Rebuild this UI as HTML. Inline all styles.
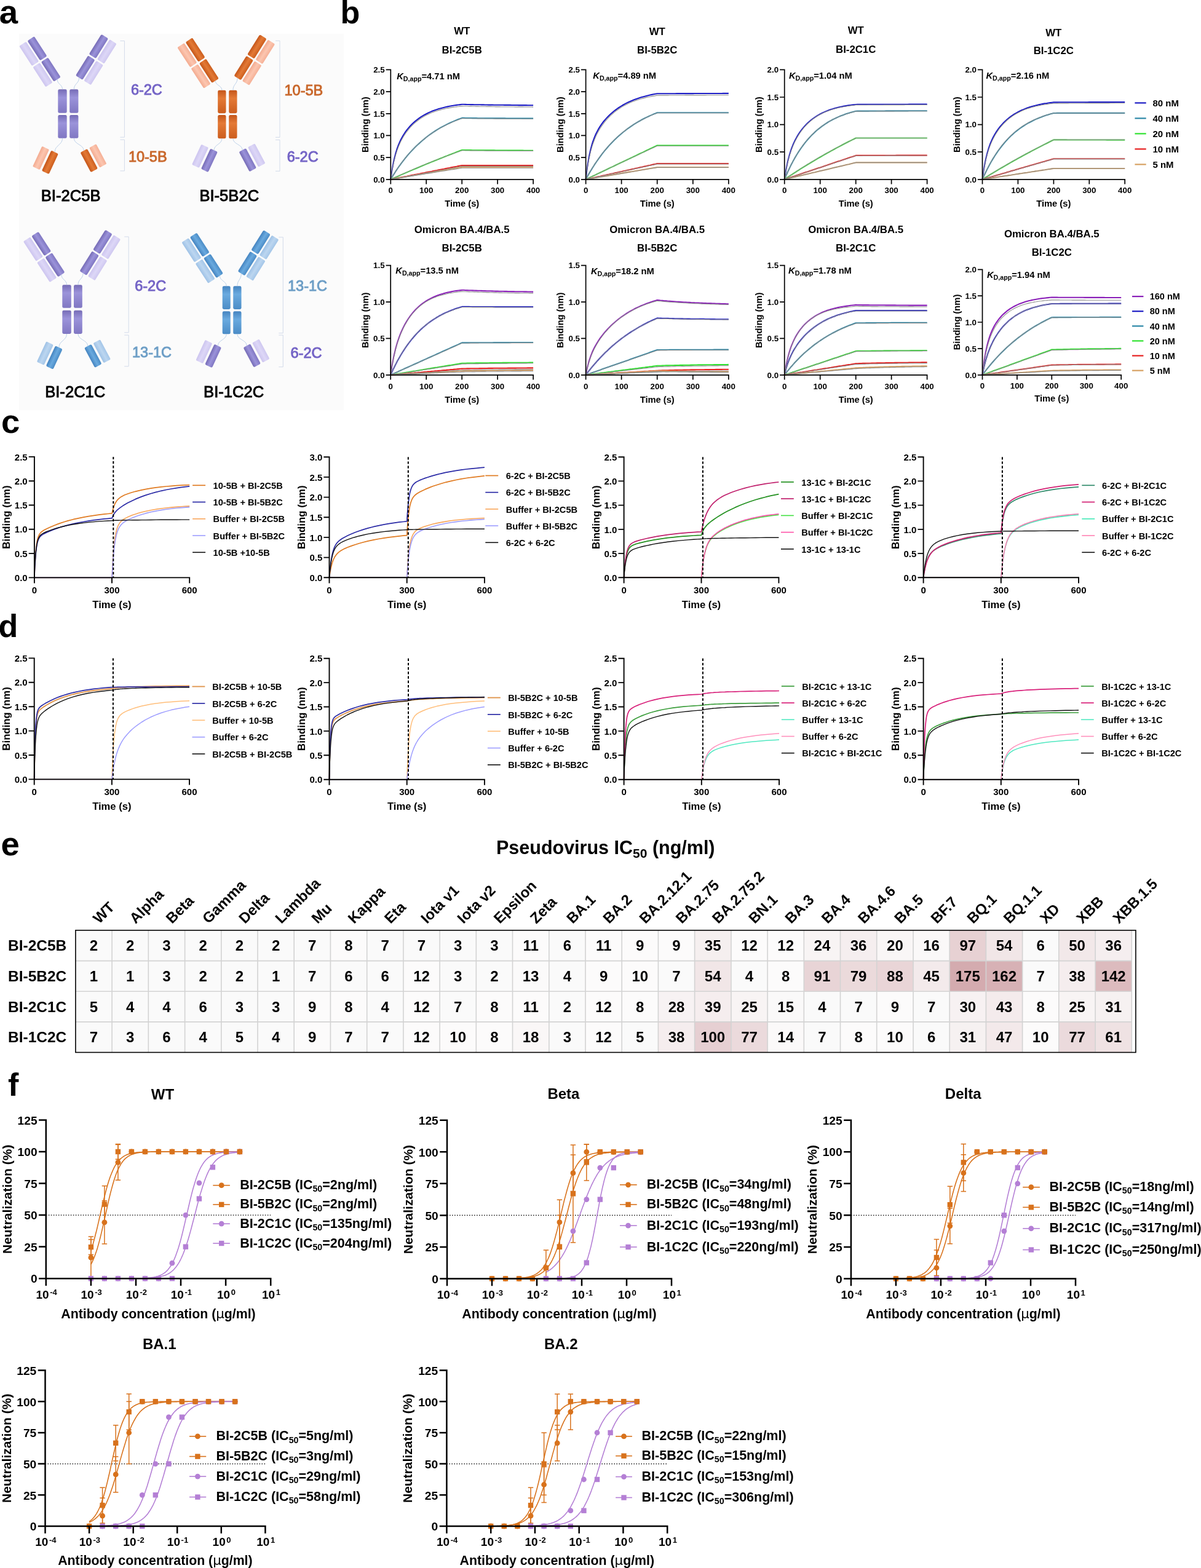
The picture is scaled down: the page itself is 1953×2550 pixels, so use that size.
<!DOCTYPE html>
<html><head><meta charset="utf-8"><title>Figure</title>
<style>html,body{margin:0;padding:0;background:#fff;width:1953px;height:2550px;overflow:hidden}svg{display:block}</style>
</head><body><svg width="1953" height="2550" viewBox="0 0 1953 2550" font-family="'Liberation Sans', Arial, Helvetica, sans-serif"><defs><linearGradient id="gPh" x1="0" y1="0" x2="1" y2="0"><stop offset="0" stop-color="#766cb6"/><stop offset="0.5" stop-color="#9b93da"/><stop offset="1" stop-color="#8077c2"/></linearGradient><linearGradient id="gPl" x1="0" y1="0" x2="1" y2="0"><stop offset="0" stop-color="#cdc5ef"/><stop offset="0.5" stop-color="#ddd7f7"/><stop offset="1" stop-color="#cfc8f0"/></linearGradient><linearGradient id="gPfc" x1="0" y1="0" x2="0" y2="1"><stop offset="0" stop-color="#766cb6"/><stop offset="0.35" stop-color="#9b93da"/><stop offset="1" stop-color="#8077c2"/></linearGradient><linearGradient id="gOh" x1="0" y1="0" x2="1" y2="0"><stop offset="0" stop-color="#c4561a"/><stop offset="0.5" stop-color="#e47a36"/><stop offset="1" stop-color="#cc5e1e"/></linearGradient><linearGradient id="gOl" x1="0" y1="0" x2="1" y2="0"><stop offset="0" stop-color="#f3ab90"/><stop offset="0.5" stop-color="#fcc6b0"/><stop offset="1" stop-color="#f5b096"/></linearGradient><linearGradient id="gOfc" x1="0" y1="0" x2="0" y2="1"><stop offset="0" stop-color="#c4561a"/><stop offset="0.35" stop-color="#e47a36"/><stop offset="1" stop-color="#cc5e1e"/></linearGradient><linearGradient id="gBh" x1="0" y1="0" x2="1" y2="0"><stop offset="0" stop-color="#4584c0"/><stop offset="0.5" stop-color="#6aaadf"/><stop offset="1" stop-color="#4b8cc6"/></linearGradient><linearGradient id="gBl" x1="0" y1="0" x2="1" y2="0"><stop offset="0" stop-color="#9fc2e6"/><stop offset="0.5" stop-color="#bcd6f0"/><stop offset="1" stop-color="#a4c6e8"/></linearGradient><linearGradient id="gBfc" x1="0" y1="0" x2="0" y2="1"><stop offset="0" stop-color="#4584c0"/><stop offset="0.35" stop-color="#6aaadf"/><stop offset="1" stop-color="#4b8cc6"/></linearGradient></defs><rect width="1953" height="2550" fill="#fff"/><rect x="31" y="55" width="528" height="611.8" fill="#fbfbfb"/><rect x="94.3" y="145.3" width="14.4" height="38.5" rx="2.4" fill="url(#gPfc)"/><rect x="94.3" y="187.1" width="14.4" height="37.7" rx="2.4" fill="url(#gPfc)"/><rect x="113.2" y="145.3" width="14.2" height="38.5" rx="2.4" fill="url(#gPfc)"/><rect x="113.2" y="187.1" width="14.2" height="37.7" rx="2.4" fill="url(#gPfc)"/><g transform="translate(65,100.3) rotate(-33)"><rect x="-14.6" y="-39.6" width="13.3" height="38.3" rx="1.8" fill="url(#gPl)"/><rect x="1.3" y="-39.6" width="13.3" height="38.3" rx="2.2" fill="url(#gPh)"/><rect x="-14.6" y="1.3" width="13.3" height="38.3" rx="1.8" fill="url(#gPl)"/><rect x="1.3" y="1.3" width="13.3" height="38.3" rx="2.2" fill="url(#gPh)"/></g><g transform="translate(156.3,97) rotate(32)"><rect x="1.3" y="-39.6" width="13.3" height="38.3" rx="1.8" fill="url(#gPl)"/><rect x="-14.6" y="-39.6" width="13.3" height="38.3" rx="2.2" fill="url(#gPh)"/><rect x="1.3" y="1.3" width="13.3" height="38.3" rx="1.8" fill="url(#gPl)"/><rect x="-14.6" y="1.3" width="13.3" height="38.3" rx="2.2" fill="url(#gPh)"/></g><g transform="translate(74,260.4) rotate(25)"><rect x="-14.6" y="-18.2" width="12.8" height="36.5" rx="1.8" fill="url(#gOl)"/><rect x="1.8" y="-18.2" width="12.8" height="36.5" rx="2.2" fill="url(#gOh)"/></g><g transform="translate(152,257.2) rotate(-28)"><rect x="1.8" y="-18.2" width="12.8" height="36.5" rx="1.8" fill="url(#gOl)"/><rect x="-14.6" y="-18.2" width="12.8" height="36.5" rx="2.2" fill="url(#gOh)"/></g><path d="M93.2,129.2 C93.2,137.2 101.5,137.2 101.5,145.3" fill="none" stroke="#b7cde6" stroke-width="0.9"/><path d="M128.6,126.4 C128.6,135.8 120.3,135.8 120.3,145.3" fill="none" stroke="#b7cde6" stroke-width="0.9"/><path d="M101.5,224.8 C101.5,236.1 89.1,236.1 89.1,247.3" fill="none" stroke="#b7cde6" stroke-width="0.9"/><path d="M120.3,224.8 C120.3,234.9 136.2,234.9 136.2,244.9" fill="none" stroke="#b7cde6" stroke-width="0.9"/><path d="M195.4,66.5 L202.4,66.5 L202.4,223.2 L195.4,223.2 M195.4,227.2 L202.4,227.2 L202.4,277.9 L195.4,277.9" fill="none" stroke="#d3dbea" stroke-width="1"/><text x="212.9" y="154.1" font-size="23.5" text-anchor="start" font-weight="normal" fill="#7464c6" stroke="#7464c6" stroke-width="0.95">6-2C</text><text x="208.9" y="263.4" font-size="23.5" text-anchor="start" font-weight="normal" fill="#c9682c" stroke="#c9682c" stroke-width="0.95">10-5B</text><text x="66.8" y="327.3" font-size="25.6" text-anchor="start" font-weight="normal" fill="#000" stroke="#000" stroke-width="0.95">BI-2C5B</text><rect x="354.2" y="146.7" width="13.3" height="37.5" rx="2.4" fill="url(#gOfc)"/><rect x="354.2" y="187" width="13.3" height="38.3" rx="2.4" fill="url(#gOfc)"/><rect x="372.2" y="146.7" width="13.3" height="37.5" rx="2.4" fill="url(#gOfc)"/><rect x="372.2" y="187" width="13.3" height="38.3" rx="2.4" fill="url(#gOfc)"/><g transform="translate(322.1,102.5) rotate(-33)"><rect x="-14.6" y="-39.6" width="13.3" height="38.3" rx="1.8" fill="url(#gOl)"/><rect x="1.3" y="-39.6" width="13.3" height="38.3" rx="2.2" fill="url(#gOh)"/><rect x="-14.6" y="1.3" width="13.3" height="38.3" rx="1.8" fill="url(#gOl)"/><rect x="1.3" y="1.3" width="13.3" height="38.3" rx="2.2" fill="url(#gOh)"/></g><g transform="translate(413.8,97.5) rotate(32)"><rect x="1.3" y="-39.6" width="13.3" height="38.3" rx="1.8" fill="url(#gOl)"/><rect x="-14.6" y="-39.6" width="13.3" height="38.3" rx="2.2" fill="url(#gOh)"/><rect x="1.3" y="1.3" width="13.3" height="38.3" rx="1.8" fill="url(#gOl)"/><rect x="-14.6" y="1.3" width="13.3" height="38.3" rx="2.2" fill="url(#gOh)"/></g><g transform="translate(333,257.3) rotate(25)"><rect x="-14.6" y="-18.2" width="12.8" height="36.5" rx="1.8" fill="url(#gPl)"/><rect x="1.8" y="-18.2" width="12.8" height="36.5" rx="2.2" fill="url(#gPh)"/></g><g transform="translate(410,256.3) rotate(-28)"><rect x="1.8" y="-18.2" width="12.8" height="36.5" rx="1.8" fill="url(#gPl)"/><rect x="-14.6" y="-18.2" width="12.8" height="36.5" rx="2.2" fill="url(#gPh)"/></g><path d="M350.3,131.4 C350.3,139 360.9,139 360.9,146.7" fill="none" stroke="#b7cde6" stroke-width="0.9"/><path d="M386.1,126.9 C386.1,136.8 378.9,136.8 378.9,146.7" fill="none" stroke="#b7cde6" stroke-width="0.9"/><path d="M360.9,225.3 C360.9,234.8 348.1,234.8 348.1,244.2" fill="none" stroke="#b7cde6" stroke-width="0.9"/><path d="M378.9,225.3 C378.9,234.7 394.2,234.7 394.2,244" fill="none" stroke="#b7cde6" stroke-width="0.9"/><path d="M448,66.3 L455,66.3 L455,223.3 L448,223.3 M448,227.5 L455,227.5 L455,278.3 L448,278.3" fill="none" stroke="#d3dbea" stroke-width="1"/><text x="462.5" y="155" font-size="23.5" text-anchor="start" font-weight="normal" fill="#c9682c" stroke="#c9682c" stroke-width="0.95">10-5B</text><text x="466.7" y="262.5" font-size="23.5" text-anchor="start" font-weight="normal" fill="#7464c6" stroke="#7464c6" stroke-width="0.95">6-2C</text><text x="324.4" y="327.3" font-size="25.6" text-anchor="start" font-weight="normal" fill="#000" stroke="#000" stroke-width="0.95">BI-5B2C</text><rect x="101.3" y="463.3" width="14.5" height="37.5" rx="2.4" fill="url(#gPfc)"/><rect x="101.3" y="504.7" width="14.5" height="38.3" rx="2.4" fill="url(#gPfc)"/><rect x="120" y="463.3" width="13.8" height="37.5" rx="2.4" fill="url(#gPfc)"/><rect x="120" y="504.7" width="13.8" height="38.3" rx="2.4" fill="url(#gPfc)"/><g transform="translate(71.7,417.9) rotate(-33)"><rect x="-14.6" y="-39.6" width="13.3" height="38.3" rx="1.8" fill="url(#gPl)"/><rect x="1.3" y="-39.6" width="13.3" height="38.3" rx="2.2" fill="url(#gPh)"/><rect x="-14.6" y="1.3" width="13.3" height="38.3" rx="1.8" fill="url(#gPl)"/><rect x="1.3" y="1.3" width="13.3" height="38.3" rx="2.2" fill="url(#gPh)"/></g><g transform="translate(162.8,415) rotate(32)"><rect x="1.3" y="-39.6" width="13.3" height="38.3" rx="1.8" fill="url(#gPl)"/><rect x="-14.6" y="-39.6" width="13.3" height="38.3" rx="2.2" fill="url(#gPh)"/><rect x="1.3" y="1.3" width="13.3" height="38.3" rx="1.8" fill="url(#gPl)"/><rect x="-14.6" y="1.3" width="13.3" height="38.3" rx="2.2" fill="url(#gPh)"/></g><g transform="translate(80.8,578) rotate(25)"><rect x="-14.6" y="-18.2" width="12.8" height="36.5" rx="1.8" fill="url(#gBl)"/><rect x="1.8" y="-18.2" width="12.8" height="36.5" rx="2.2" fill="url(#gBh)"/></g><g transform="translate(158.5,575) rotate(-28)"><rect x="1.8" y="-18.2" width="12.8" height="36.5" rx="1.8" fill="url(#gBl)"/><rect x="-14.6" y="-18.2" width="12.8" height="36.5" rx="2.2" fill="url(#gBh)"/></g><path d="M99.9,446.8 C99.9,455 108.5,455 108.5,463.3" fill="none" stroke="#b7cde6" stroke-width="0.9"/><path d="M135.1,444.4 C135.1,453.8 126.9,453.8 126.9,463.3" fill="none" stroke="#b7cde6" stroke-width="0.9"/><path d="M108.5,543 C108.5,554 95.9,554 95.9,564.9" fill="none" stroke="#b7cde6" stroke-width="0.9"/><path d="M126.9,543 C126.9,552.9 142.7,552.9 142.7,562.7" fill="none" stroke="#b7cde6" stroke-width="0.9"/><path d="M202.2,385 L209.2,385 L209.2,540.8 L202.2,540.8 M202.2,545 L209.2,545 L209.2,595.8 L202.2,595.8" fill="none" stroke="#d3dbea" stroke-width="1"/><text x="219.2" y="472.5" font-size="23.5" text-anchor="start" font-weight="normal" fill="#7464c6" stroke="#7464c6" stroke-width="0.95">6-2C</text><text x="215" y="580.8" font-size="23.5" text-anchor="start" font-weight="normal" fill="#6d9ec6" stroke="#6d9ec6" stroke-width="0.95">13-1C</text><text x="73.2" y="645.6" font-size="25.6" text-anchor="start" font-weight="normal" fill="#000" stroke="#000" stroke-width="0.95">BI-2C1C</text><rect x="361.7" y="465.3" width="13" height="37.7" rx="2.4" fill="url(#gBfc)"/><rect x="361.7" y="506.3" width="13" height="37" rx="2.4" fill="url(#gBfc)"/><rect x="379.2" y="465.3" width="13.3" height="37.7" rx="2.4" fill="url(#gBfc)"/><rect x="379.2" y="506.3" width="13.3" height="37" rx="2.4" fill="url(#gBfc)"/><g transform="translate(329.2,419.6) rotate(-33)"><rect x="-14.6" y="-39.6" width="13.3" height="38.3" rx="1.8" fill="url(#gBl)"/><rect x="1.3" y="-39.6" width="13.3" height="38.3" rx="2.2" fill="url(#gBh)"/><rect x="-14.6" y="1.3" width="13.3" height="38.3" rx="1.8" fill="url(#gBl)"/><rect x="1.3" y="1.3" width="13.3" height="38.3" rx="2.2" fill="url(#gBh)"/></g><g transform="translate(420,415.5) rotate(32)"><rect x="1.3" y="-39.6" width="13.3" height="38.3" rx="1.8" fill="url(#gBl)"/><rect x="-14.6" y="-39.6" width="13.3" height="38.3" rx="2.2" fill="url(#gBh)"/><rect x="1.3" y="1.3" width="13.3" height="38.3" rx="1.8" fill="url(#gBl)"/><rect x="-14.6" y="1.3" width="13.3" height="38.3" rx="2.2" fill="url(#gBh)"/></g><g transform="translate(339.3,575.4) rotate(25)"><rect x="-14.6" y="-18.2" width="12.8" height="36.5" rx="1.8" fill="url(#gPl)"/><rect x="1.8" y="-18.2" width="12.8" height="36.5" rx="2.2" fill="url(#gPh)"/></g><g transform="translate(417,574.4) rotate(-28)"><rect x="1.8" y="-18.2" width="12.8" height="36.5" rx="1.8" fill="url(#gPl)"/><rect x="-14.6" y="-18.2" width="12.8" height="36.5" rx="2.2" fill="url(#gPh)"/></g><path d="M357.4,448.5 C357.4,456.9 368.2,456.9 368.2,465.3" fill="none" stroke="#b7cde6" stroke-width="0.9"/><path d="M392.3,444.9 C392.3,455.1 385.9,455.1 385.9,465.3" fill="none" stroke="#b7cde6" stroke-width="0.9"/><path d="M368.2,543.3 C368.2,552.8 354.4,552.8 354.4,562.3" fill="none" stroke="#b7cde6" stroke-width="0.9"/><path d="M385.9,543.3 C385.9,552.7 401.2,552.7 401.2,562.1" fill="none" stroke="#b7cde6" stroke-width="0.9"/><path d="M453.3,385.8 L460.3,385.8 L460.3,541.7 L453.3,541.7 M453.3,545 L460.3,545 L460.3,596.7 L453.3,596.7" fill="none" stroke="#d3dbea" stroke-width="1"/><text x="468" y="473.3" font-size="23.5" text-anchor="start" font-weight="normal" fill="#6d9ec6" stroke="#6d9ec6" stroke-width="0.95">13-1C</text><text x="472.5" y="581.7" font-size="23.5" text-anchor="start" font-weight="normal" fill="#7464c6" stroke="#7464c6" stroke-width="0.95">6-2C</text><text x="331.1" y="645.6" font-size="25.6" text-anchor="start" font-weight="normal" fill="#000" stroke="#000" stroke-width="0.95">BI-1C2C</text><path d="M635.3,291.8 L636.5,283.5 L637.6,276.1 L638.8,269.6 L639.9,263.7 L641.1,258.5 L642.3,253.7 L643.4,249.4 L644.6,245.5 L645.7,241.9 L646.9,238.6 L648,235.6 L649.2,232.8 L650.4,230.1 L651.5,227.7 L652.7,225.4 L655.6,220.2 L658.5,215.7 L661.4,211.7 L664.3,208.1 L667.2,204.8 L670.1,201.8 L673,199.1 L675.9,196.6 L678.8,194.3 L681.7,192.2 L684.6,190.2 L687.5,188.4 L690.4,186.7 L693.2,185.2 L696.1,183.7 L699,182.4 L701.9,181.1 L704.8,180 L707.7,178.9 L710.6,178 L713.5,177 L716.4,176.2 L719.3,175.4 L722.2,174.7 L725.1,174 L728,173.4 L730.9,172.8 L733.8,172.3 L736.7,171.8 L739.6,171.3 L742.5,170.9 L745.4,170.5 L748.3,170.1 L751.2,169.8 L754.1,169.8 L757,169.9 L759.9,170 L762.8,170 L765.7,170.1 L768.6,170.1 L771.5,170.2 L774.4,170.2 L777.3,170.3 L780.2,170.3 L783.1,170.4 L786,170.4 L788.9,170.5 L791.8,170.5 L794.7,170.6 L797.6,170.6 L800.5,170.6 L803.4,170.7 L806.3,170.7 L809.1,170.7 L812,170.8 L814.9,170.8 L817.8,170.8 L820.7,170.9 L823.6,170.9 L826.5,170.9 L829.4,170.9 L832.3,171 L835.2,171 L838.1,171 L841,171 L843.9,171.1 L846.8,171.1 L849.7,171.1 L852.6,171.1 L855.5,171.1 L858.4,171.2 L861.3,171.2 L864.2,171.2 L867.1,171.2" fill="none" stroke="#1c1cc4" stroke-width="2.1" stroke-linejoin="round"/><path d="M635.3,291.8 L636.5,289.8 L637.6,287.9 L638.8,286 L639.9,284.1 L641.1,282.3 L642.3,280.5 L643.4,278.7 L644.6,276.9 L645.7,275.2 L646.9,273.5 L648,271.8 L649.2,270.2 L650.4,268.6 L651.5,267 L652.7,265.4 L655.6,261.6 L658.5,257.9 L661.4,254.3 L664.3,250.9 L667.2,247.6 L670.1,244.5 L673,241.5 L675.9,238.5 L678.8,235.7 L681.7,233.1 L684.6,230.5 L687.5,228 L690.4,225.6 L693.2,223.3 L696.1,221 L699,218.9 L701.9,216.9 L704.8,214.9 L707.7,213 L710.6,211.2 L713.5,209.4 L716.4,207.7 L719.3,206.1 L722.2,204.6 L725.1,203.1 L728,201.6 L730.9,200.2 L733.8,198.9 L736.7,197.6 L739.6,196.4 L742.5,195.2 L745.4,194 L748.3,193 L751.2,191.9 L754.1,191.9 L757,192 L759.9,192 L762.8,192 L765.7,192 L768.6,192.1 L771.5,192.1 L774.4,192.1 L777.3,192.2 L780.2,192.2 L783.1,192.2 L786,192.2 L788.9,192.2 L791.8,192.3 L794.7,192.3 L797.6,192.3 L800.5,192.3 L803.4,192.3 L806.3,192.4 L809.1,192.4 L812,192.4 L814.9,192.4 L817.8,192.4 L820.7,192.4 L823.6,192.5 L826.5,192.5 L829.4,192.5 L832.3,192.5 L835.2,192.5 L838.1,192.5 L841,192.5 L843.9,192.5 L846.8,192.5 L849.7,192.6 L852.6,192.6 L855.5,192.6 L858.4,192.6 L861.3,192.6 L864.2,192.6 L867.1,192.6" fill="none" stroke="#2a87a6" stroke-width="2.1" stroke-linejoin="round"/><path d="M635.3,291.8 L636.5,291.3 L637.6,290.8 L638.8,290.3 L639.9,289.7 L641.1,289.2 L642.3,288.7 L643.4,288.2 L644.6,287.7 L645.7,287.2 L646.9,286.7 L648,286.2 L649.2,285.7 L650.4,285.1 L651.5,284.6 L652.7,284.1 L655.6,282.9 L658.5,281.6 L661.4,280.4 L664.3,279.1 L667.2,277.9 L670.1,276.6 L673,275.4 L675.9,274.2 L678.8,273 L681.7,271.8 L684.6,270.5 L687.5,269.3 L690.4,268.1 L693.2,266.9 L696.1,265.7 L699,264.6 L701.9,263.4 L704.8,262.2 L707.7,261 L710.6,259.9 L713.5,258.7 L716.4,257.5 L719.3,256.4 L722.2,255.2 L725.1,254.1 L728,252.9 L730.9,251.8 L733.8,250.7 L736.7,249.6 L739.6,248.4 L742.5,247.3 L745.4,246.2 L748.3,245.1 L751.2,244 L754.1,244 L757,244.1 L759.9,244.1 L762.8,244.1 L765.7,244.1 L768.6,244.2 L771.5,244.2 L774.4,244.2 L777.3,244.2 L780.2,244.3 L783.1,244.3 L786,244.3 L788.9,244.3 L791.8,244.4 L794.7,244.4 L797.6,244.4 L800.5,244.4 L803.4,244.4 L806.3,244.5 L809.1,244.5 L812,244.5 L814.9,244.5 L817.8,244.5 L820.7,244.5 L823.6,244.5 L826.5,244.6 L829.4,244.6 L832.3,244.6 L835.2,244.6 L838.1,244.6 L841,244.6 L843.9,244.6 L846.8,244.6 L849.7,244.6 L852.6,244.7 L855.5,244.7 L858.4,244.7 L861.3,244.7 L864.2,244.7 L867.1,244.7" fill="none" stroke="#2fe22f" stroke-width="2.1" stroke-linejoin="round"/><path d="M635.3,291.8 L636.5,291.6 L637.6,291.3 L638.8,291.1 L639.9,290.9 L641.1,290.7 L642.3,290.4 L643.4,290.2 L644.6,290 L645.7,289.7 L646.9,289.5 L648,289.3 L649.2,289.1 L650.4,288.8 L651.5,288.6 L652.7,288.4 L655.6,287.8 L658.5,287.2 L661.4,286.7 L664.3,286.1 L667.2,285.5 L670.1,284.9 L673,284.4 L675.9,283.8 L678.8,283.2 L681.7,282.7 L684.6,282.1 L687.5,281.5 L690.4,281 L693.2,280.4 L696.1,279.8 L699,279.2 L701.9,278.7 L704.8,278.1 L707.7,277.5 L710.6,277 L713.5,276.4 L716.4,275.8 L719.3,275.2 L722.2,274.7 L725.1,274.1 L728,273.5 L730.9,273 L733.8,272.4 L736.7,271.8 L739.6,271.2 L742.5,270.7 L745.4,270.1 L748.3,269.5 L751.2,269 L754.1,269 L757,269 L759.9,269 L762.8,269 L765.7,269 L768.6,269 L771.5,269 L774.4,269 L777.3,269 L780.2,269 L783.1,269 L786,269 L788.9,269 L791.8,269 L794.7,269 L797.6,269 L800.5,269 L803.4,269 L806.3,269 L809.1,269 L812,269 L814.9,269 L817.8,269 L820.7,269 L823.6,269 L826.5,269 L829.4,269 L832.3,269 L835.2,269 L838.1,269 L841,269 L843.9,269 L846.8,269 L849.7,269 L852.6,269 L855.5,269 L858.4,269 L861.3,269 L864.2,269 L867.1,269" fill="none" stroke="#e61e1e" stroke-width="2.1" stroke-linejoin="round"/><path d="M635.3,291.8 L636.5,291.6 L637.6,291.4 L638.8,291.2 L639.9,291 L641.1,290.8 L642.3,290.6 L643.4,290.4 L644.6,290.2 L645.7,290 L646.9,289.8 L648,289.6 L649.2,289.4 L650.4,289.2 L651.5,289 L652.7,288.8 L655.6,288.3 L658.5,287.8 L661.4,287.3 L664.3,286.8 L667.2,286.3 L670.1,285.8 L673,285.3 L675.9,284.8 L678.8,284.3 L681.7,283.8 L684.6,283.3 L687.5,282.8 L690.4,282.3 L693.2,281.8 L696.1,281.3 L699,280.8 L701.9,280.3 L704.8,279.8 L707.7,279.3 L710.6,278.8 L713.5,278.3 L716.4,277.8 L719.3,277.3 L722.2,276.8 L725.1,276.3 L728,275.8 L730.9,275.3 L733.8,274.8 L736.7,274.3 L739.6,273.8 L742.5,273.3 L745.4,272.8 L748.3,272.3 L751.2,271.8 L754.1,271.8 L757,271.8 L759.9,271.8 L762.8,271.8 L765.7,271.8 L768.6,271.8 L771.5,271.8 L774.4,271.8 L777.3,271.8 L780.2,271.8 L783.1,271.8 L786,271.8 L788.9,271.8 L791.8,271.8 L794.7,271.8 L797.6,271.8 L800.5,271.8 L803.4,271.8 L806.3,271.8 L809.1,271.8 L812,271.8 L814.9,271.8 L817.8,271.8 L820.7,271.8 L823.6,271.8 L826.5,271.8 L829.4,271.8 L832.3,271.8 L835.2,271.8 L838.1,271.8 L841,271.8 L843.9,271.8 L846.8,271.8 L849.7,271.8 L852.6,271.8 L855.5,271.8 L858.4,271.8 L861.3,271.8 L864.2,271.8 L867.1,271.8" fill="none" stroke="#d6a060" stroke-width="2.1" stroke-linejoin="round"/><path d="M635.3,291.8 L636.5,284.2 L637.6,277.4 L638.8,271.3 L639.9,265.8 L641.1,260.8 L642.3,256.3 L643.4,252.1 L644.6,248.3 L645.7,244.8 L646.9,241.6 L648,238.5 L649.2,235.7 L650.4,233.1 L651.5,230.6 L652.7,228.3 L655.6,223 L658.5,218.4 L661.4,214.3 L664.3,210.6 L667.2,207.2 L670.1,204.1 L673,201.4 L675.9,198.8 L678.8,196.5 L681.7,194.3 L684.6,192.3 L687.5,190.5 L690.4,188.8 L693.2,187.3 L696.1,185.9 L699,184.5 L701.9,183.3 L704.8,182.2 L707.7,181.2 L710.6,180.2 L713.5,179.4 L716.4,178.6 L719.3,177.8 L722.2,177.1 L725.1,176.5 L728,175.9 L730.9,175.4 L733.8,174.9 L736.7,174.4 L739.6,174 L742.5,173.6 L745.4,173.3 L748.3,172.9 L751.2,172.6 L754.1,172.7 L757,172.8 L759.9,172.8 L762.8,172.9 L765.7,172.9 L768.6,173 L771.5,173 L774.4,173.1 L777.3,173.1 L780.2,173.2 L783.1,173.2 L786,173.3 L788.9,173.3 L791.8,173.4 L794.7,173.4 L797.6,173.4 L800.5,173.5 L803.4,173.5 L806.3,173.6 L809.1,173.6 L812,173.6 L814.9,173.7 L817.8,173.7 L820.7,173.7 L823.6,173.7 L826.5,173.8 L829.4,173.8 L832.3,173.8 L835.2,173.8 L838.1,173.9 L841,173.9 L843.9,173.9 L846.8,173.9 L849.7,173.9 L852.6,174 L855.5,174 L858.4,174 L861.3,174 L864.2,174 L867.1,174.1" fill="none" stroke="#8e8e8e" stroke-width="1.1" stroke-linejoin="round"/><path d="M635.3,291.8 L636.5,289.8 L637.6,287.9 L638.8,286 L639.9,284.1 L641.1,282.2 L642.3,280.4 L643.4,278.6 L644.6,276.8 L645.7,275.1 L646.9,273.4 L648,271.7 L649.2,270 L650.4,268.4 L651.5,266.8 L652.7,265.2 L655.6,261.4 L658.5,257.7 L661.4,254.1 L664.3,250.7 L667.2,247.5 L670.1,244.3 L673,241.3 L675.9,238.4 L678.8,235.6 L681.7,232.9 L684.6,230.4 L687.5,227.9 L690.4,225.5 L693.2,223.3 L696.1,221.1 L699,219 L701.9,217 L704.8,215 L707.7,213.2 L710.6,211.4 L713.5,209.6 L716.4,208 L719.3,206.4 L722.2,204.9 L725.1,203.4 L728,202 L730.9,200.7 L733.8,199.4 L736.7,198.1 L739.6,196.9 L742.5,195.8 L745.4,194.7 L748.3,193.6 L751.2,192.6 L754.1,192.6 L757,192.7 L759.9,192.7 L762.8,192.7 L765.7,192.8 L768.6,192.8 L771.5,192.8 L774.4,192.8 L777.3,192.9 L780.2,192.9 L783.1,192.9 L786,192.9 L788.9,193 L791.8,193 L794.7,193 L797.6,193 L800.5,193 L803.4,193.1 L806.3,193.1 L809.1,193.1 L812,193.1 L814.9,193.1 L817.8,193.1 L820.7,193.1 L823.6,193.2 L826.5,193.2 L829.4,193.2 L832.3,193.2 L835.2,193.2 L838.1,193.2 L841,193.2 L843.9,193.2 L846.8,193.3 L849.7,193.3 L852.6,193.3 L855.5,193.3 L858.4,193.3 L861.3,193.3 L864.2,193.3 L867.1,193.3" fill="none" stroke="#8e8e8e" stroke-width="1.1" stroke-linejoin="round"/><path d="M635.3,291.8 L636.5,291.3 L637.6,290.7 L638.8,290.2 L639.9,289.7 L641.1,289.1 L642.3,288.6 L643.4,288.1 L644.6,287.5 L645.7,287 L646.9,286.5 L648,285.9 L649.2,285.4 L650.4,284.9 L651.5,284.4 L652.7,283.9 L655.6,282.6 L658.5,281.3 L661.4,280 L664.3,278.8 L667.2,277.5 L670.1,276.3 L673,275 L675.9,273.8 L678.8,272.6 L681.7,271.4 L684.6,270.2 L687.5,269 L690.4,267.8 L693.2,266.6 L696.1,265.4 L699,264.3 L701.9,263.1 L704.8,262 L707.7,260.8 L710.6,259.7 L713.5,258.6 L716.4,257.5 L719.3,256.4 L722.2,255.3 L725.1,254.2 L728,253.1 L730.9,252 L733.8,251 L736.7,249.9 L739.6,248.8 L742.5,247.8 L745.4,246.8 L748.3,245.7 L751.2,244.7 L754.1,244.7 L757,244.8 L759.9,244.8 L762.8,244.8 L765.7,244.9 L768.6,244.9 L771.5,244.9 L774.4,244.9 L777.3,245 L780.2,245 L783.1,245 L786,245 L788.9,245.1 L791.8,245.1 L794.7,245.1 L797.6,245.1 L800.5,245.1 L803.4,245.1 L806.3,245.2 L809.1,245.2 L812,245.2 L814.9,245.2 L817.8,245.2 L820.7,245.2 L823.6,245.3 L826.5,245.3 L829.4,245.3 L832.3,245.3 L835.2,245.3 L838.1,245.3 L841,245.3 L843.9,245.3 L846.8,245.4 L849.7,245.4 L852.6,245.4 L855.5,245.4 L858.4,245.4 L861.3,245.4 L864.2,245.4 L867.1,245.4" fill="none" stroke="#8e8e8e" stroke-width="1.1" stroke-linejoin="round"/><path d="M635.3,291.8 L636.5,291.6 L637.6,291.4 L638.8,291.2 L639.9,290.9 L641.1,290.7 L642.3,290.5 L643.4,290.3 L644.6,290.1 L645.7,289.9 L646.9,289.7 L648,289.4 L649.2,289.2 L650.4,289 L651.5,288.8 L652.7,288.6 L655.6,288.1 L658.5,287.5 L661.4,287 L664.3,286.4 L667.2,285.9 L670.1,285.4 L673,284.8 L675.9,284.3 L678.8,283.8 L681.7,283.2 L684.6,282.7 L687.5,282.2 L690.4,281.6 L693.2,281.1 L696.1,280.6 L699,280 L701.9,279.5 L704.8,279 L707.7,278.4 L710.6,277.9 L713.5,277.3 L716.4,276.8 L719.3,276.3 L722.2,275.7 L725.1,275.2 L728,274.7 L730.9,274.1 L733.8,273.6 L736.7,273.1 L739.6,272.5 L742.5,272 L745.4,271.5 L748.3,270.9 L751.2,270.4 L754.1,270.4 L757,270.4 L759.9,270.4 L762.8,270.4 L765.7,270.4 L768.6,270.4 L771.5,270.4 L774.4,270.4 L777.3,270.4 L780.2,270.4 L783.1,270.4 L786,270.4 L788.9,270.4 L791.8,270.4 L794.7,270.4 L797.6,270.4 L800.5,270.4 L803.4,270.4 L806.3,270.4 L809.1,270.4 L812,270.4 L814.9,270.4 L817.8,270.4 L820.7,270.4 L823.6,270.4 L826.5,270.4 L829.4,270.4 L832.3,270.4 L835.2,270.4 L838.1,270.4 L841,270.4 L843.9,270.4 L846.8,270.4 L849.7,270.4 L852.6,270.4 L855.5,270.4 L858.4,270.4 L861.3,270.4 L864.2,270.4 L867.1,270.4" fill="none" stroke="#8e8e8e" stroke-width="1.1" stroke-linejoin="round"/><path d="M635.3,291.8 L636.5,291.6 L637.6,291.4 L638.8,291.2 L639.9,291.1 L641.1,290.9 L642.3,290.7 L643.4,290.5 L644.6,290.3 L645.7,290.1 L646.9,289.9 L648,289.8 L649.2,289.6 L650.4,289.4 L651.5,289.2 L652.7,289 L655.6,288.6 L658.5,288.1 L661.4,287.6 L664.3,287.2 L667.2,286.7 L670.1,286.2 L673,285.8 L675.9,285.3 L678.8,284.8 L681.7,284.4 L684.6,283.9 L687.5,283.5 L690.4,283 L693.2,282.5 L696.1,282.1 L699,281.6 L701.9,281.1 L704.8,280.7 L707.7,280.2 L710.6,279.7 L713.5,279.3 L716.4,278.8 L719.3,278.3 L722.2,277.9 L725.1,277.4 L728,277 L730.9,276.5 L733.8,276 L736.7,275.6 L739.6,275.1 L742.5,274.6 L745.4,274.2 L748.3,273.7 L751.2,273.2 L754.1,273.2 L757,273.2 L759.9,273.2 L762.8,273.2 L765.7,273.2 L768.6,273.2 L771.5,273.2 L774.4,273.2 L777.3,273.2 L780.2,273.2 L783.1,273.2 L786,273.2 L788.9,273.2 L791.8,273.2 L794.7,273.2 L797.6,273.2 L800.5,273.2 L803.4,273.2 L806.3,273.2 L809.1,273.2 L812,273.2 L814.9,273.2 L817.8,273.2 L820.7,273.2 L823.6,273.2 L826.5,273.2 L829.4,273.2 L832.3,273.2 L835.2,273.2 L838.1,273.2 L841,273.2 L843.9,273.2 L846.8,273.2 L849.7,273.2 L852.6,273.2 L855.5,273.2 L858.4,273.2 L861.3,273.2 L864.2,273.2 L867.1,273.2" fill="none" stroke="#8e8e8e" stroke-width="1.1" stroke-linejoin="round"/><path d="M635.3,113.4 L635.3,291.8 L867.1,291.8 M635.3,291.8 L635.3,298.6 M693.2,291.8 L693.2,298.6 M751.2,291.8 L751.2,298.6 M809.1,291.8 L809.1,298.6 M867.1,291.8 L867.1,298.6 M635.3,291.8 L628.5,291.8 M635.3,256.1 L628.5,256.1 M635.3,220.4 L628.5,220.4 M635.3,184.8 L628.5,184.8 M635.3,149.1 L628.5,149.1 M635.3,113.4 L628.5,113.4" fill="none" stroke="#000" stroke-width="1.7" stroke-linecap="square"/><text x="625.7" y="296.5" font-size="13.3" text-anchor="end" font-weight="bold" fill="#000">0.0</text><text x="625.7" y="260.8" font-size="13.3" text-anchor="end" font-weight="bold" fill="#000">0.5</text><text x="625.7" y="225.1" font-size="13.3" text-anchor="end" font-weight="bold" fill="#000">1.0</text><text x="625.7" y="189.5" font-size="13.3" text-anchor="end" font-weight="bold" fill="#000">1.5</text><text x="625.7" y="153.8" font-size="13.3" text-anchor="end" font-weight="bold" fill="#000">2.0</text><text x="625.7" y="118.1" font-size="13.3" text-anchor="end" font-weight="bold" fill="#000">2.5</text><text x="635.3" y="314.1" font-size="13.3" text-anchor="middle" font-weight="bold" fill="#000">0</text><text x="693.2" y="314.1" font-size="13.3" text-anchor="middle" font-weight="bold" fill="#000">100</text><text x="751.2" y="314.1" font-size="13.3" text-anchor="middle" font-weight="bold" fill="#000">200</text><text x="809.1" y="314.1" font-size="13.3" text-anchor="middle" font-weight="bold" fill="#000">300</text><text x="867.1" y="314.1" font-size="13.3" text-anchor="middle" font-weight="bold" fill="#000">400</text><text x="751.2" y="336.4" font-size="14.7" text-anchor="middle" font-weight="bold" fill="#000">Time (s)</text><text transform="translate(599,202.6) rotate(-90)" font-size="14.7" text-anchor="middle" font-weight="bold" fill="#000">Binding (nm)</text><text x="751.2" y="56.2" font-size="16.8" text-anchor="middle" font-weight="bold" fill="#000">WT</text><text x="751.2" y="87" font-size="16.8" text-anchor="middle" font-weight="bold" fill="#000">BI-2C5B</text><text x="645.2" y="128.6" font-size="14.7" font-weight="bold"><tspan font-style="italic">K</tspan><tspan font-size="10.7" dy="3">D,app</tspan><tspan dy="-3">=4.71 nM</tspan></text><path d="M952.6,291.8 L953.8,281.8 L954.9,273.1 L956.1,265.4 L957.2,258.6 L958.4,252.5 L959.6,247.1 L960.7,242.2 L961.9,237.8 L963,233.8 L964.2,230.2 L965.4,226.8 L966.5,223.8 L967.7,220.9 L968.9,218.3 L970,215.9 L972.9,210.4 L975.8,205.6 L978.7,201.3 L981.6,197.5 L984.5,194.1 L987.4,190.9 L990.3,187.9 L993.2,185.2 L996.1,182.7 L999,180.3 L1001.9,178.1 L1004.8,176 L1007.7,174.1 L1010.6,172.3 L1013.6,170.5 L1016.5,168.9 L1019.4,167.4 L1022.3,166 L1025.2,164.7 L1028.1,163.5 L1031,162.3 L1033.9,161.2 L1036.8,160.2 L1039.7,159.2 L1042.6,158.3 L1045.5,157.5 L1048.4,156.7 L1051.3,155.9 L1054.2,155.2 L1057.1,154.5 L1060,153.9 L1062.9,153.3 L1065.8,152.8 L1068.7,152.3 L1071.6,152.3 L1074.5,152.3 L1077.4,152.2 L1080.3,152.2 L1083.2,152.2 L1086.1,152.2 L1089,152.2 L1091.9,152.2 L1094.8,152.2 L1097.7,152.2 L1100.6,152.1 L1103.5,152.1 L1106.4,152.1 L1109.3,152.1 L1112.2,152.1 L1115.1,152.1 L1118,152.1 L1120.9,152.1 L1123.8,152.1 L1126.8,152.1 L1129.7,152 L1132.6,152 L1135.5,152 L1138.4,152 L1141.3,152 L1144.2,152 L1147.1,152 L1150,152 L1152.9,152 L1155.8,152 L1158.7,152 L1161.6,152 L1164.5,152 L1167.4,152 L1170.3,152 L1173.2,152 L1176.1,151.9 L1179,151.9 L1181.9,151.9 L1184.8,151.9" fill="none" stroke="#1c1cc4" stroke-width="2.1" stroke-linejoin="round"/><path d="M952.6,291.8 L953.8,289.7 L954.9,287.5 L956.1,285.5 L957.2,283.4 L958.4,281.4 L959.6,279.4 L960.7,277.5 L961.9,275.6 L963,273.7 L964.2,271.8 L965.4,270 L966.5,268.2 L967.7,266.4 L968.9,264.7 L970,263 L972.9,258.8 L975.8,254.8 L978.7,250.9 L981.6,247.2 L984.5,243.6 L987.4,240.2 L990.3,236.9 L993.2,233.8 L996.1,230.7 L999,227.8 L1001.9,225 L1004.8,222.3 L1007.7,219.7 L1010.6,217.2 L1013.6,214.8 L1016.5,212.5 L1019.4,210.2 L1022.3,208.1 L1025.2,206.1 L1028.1,204.1 L1031,202.2 L1033.9,200.4 L1036.8,198.6 L1039.7,197 L1042.6,195.3 L1045.5,193.8 L1048.4,192.3 L1051.3,190.9 L1054.2,189.5 L1057.1,188.1 L1060,186.9 L1062.9,185.6 L1065.8,184.5 L1068.7,183.3 L1071.6,183.3 L1074.5,183.3 L1077.4,183.3 L1080.3,183.3 L1083.2,183.3 L1086.1,183.3 L1089,183.3 L1091.9,183.3 L1094.8,183.3 L1097.7,183.3 L1100.6,183.3 L1103.5,183.3 L1106.4,183.3 L1109.3,183.3 L1112.2,183.3 L1115.1,183.3 L1118,183.3 L1120.9,183.3 L1123.8,183.3 L1126.8,183.3 L1129.7,183.3 L1132.6,183.3 L1135.5,183.3 L1138.4,183.3 L1141.3,183.3 L1144.2,183.3 L1147.1,183.3 L1150,183.3 L1152.9,183.3 L1155.8,183.3 L1158.7,183.3 L1161.6,183.3 L1164.5,183.3 L1167.4,183.3 L1170.3,183.3 L1173.2,183.3 L1176.1,183.3 L1179,183.3 L1181.9,183.3 L1184.8,183.3" fill="none" stroke="#2a87a6" stroke-width="2.1" stroke-linejoin="round"/><path d="M952.6,291.8 L953.8,291.2 L954.9,290.7 L956.1,290.1 L957.2,289.6 L958.4,289 L959.6,288.5 L960.7,287.9 L961.9,287.4 L963,286.8 L964.2,286.3 L965.4,285.7 L966.5,285.2 L967.7,284.6 L968.9,284.1 L970,283.5 L972.9,282.1 L975.8,280.7 L978.7,279.4 L981.6,278 L984.5,276.6 L987.4,275.2 L990.3,273.8 L993.2,272.4 L996.1,271.1 L999,269.7 L1001.9,268.3 L1004.8,266.9 L1007.7,265.5 L1010.6,264.1 L1013.6,262.8 L1016.5,261.4 L1019.4,260 L1022.3,258.6 L1025.2,257.2 L1028.1,255.9 L1031,254.5 L1033.9,253.1 L1036.8,251.7 L1039.7,250.3 L1042.6,248.9 L1045.5,247.6 L1048.4,246.2 L1051.3,244.8 L1054.2,243.4 L1057.1,242 L1060,240.6 L1062.9,239.3 L1065.8,237.9 L1068.7,236.5 L1071.6,236.5 L1074.5,236.5 L1077.4,236.5 L1080.3,236.5 L1083.2,236.5 L1086.1,236.5 L1089,236.5 L1091.9,236.5 L1094.8,236.5 L1097.7,236.5 L1100.6,236.5 L1103.5,236.5 L1106.4,236.5 L1109.3,236.5 L1112.2,236.5 L1115.1,236.5 L1118,236.5 L1120.9,236.5 L1123.8,236.5 L1126.8,236.5 L1129.7,236.5 L1132.6,236.5 L1135.5,236.5 L1138.4,236.5 L1141.3,236.5 L1144.2,236.5 L1147.1,236.5 L1150,236.5 L1152.9,236.5 L1155.8,236.5 L1158.7,236.5 L1161.6,236.5 L1164.5,236.5 L1167.4,236.5 L1170.3,236.5 L1173.2,236.5 L1176.1,236.5 L1179,236.5 L1181.9,236.5 L1184.8,236.5" fill="none" stroke="#2fe22f" stroke-width="2.1" stroke-linejoin="round"/><path d="M952.6,291.8 L953.8,291.5 L954.9,291.3 L956.1,291 L957.2,290.8 L958.4,290.5 L959.6,290.3 L960.7,290 L961.9,289.7 L963,289.5 L964.2,289.2 L965.4,289 L966.5,288.7 L967.7,288.5 L968.9,288.2 L970,287.9 L972.9,287.3 L975.8,286.7 L978.7,286 L981.6,285.4 L984.5,284.7 L987.4,284.1 L990.3,283.5 L993.2,282.8 L996.1,282.2 L999,281.5 L1001.9,280.9 L1004.8,280.2 L1007.7,279.6 L1010.6,279 L1013.6,278.3 L1016.5,277.7 L1019.4,277 L1022.3,276.4 L1025.2,275.7 L1028.1,275.1 L1031,274.5 L1033.9,273.8 L1036.8,273.2 L1039.7,272.5 L1042.6,271.9 L1045.5,271.2 L1048.4,270.6 L1051.3,270 L1054.2,269.3 L1057.1,268.7 L1060,268 L1062.9,267.4 L1065.8,266.8 L1068.7,266.1 L1071.6,266.1 L1074.5,266.1 L1077.4,266.1 L1080.3,266.1 L1083.2,266.1 L1086.1,266.1 L1089,266.1 L1091.9,266.1 L1094.8,266.1 L1097.7,266.1 L1100.6,266.1 L1103.5,266.1 L1106.4,266.1 L1109.3,266.1 L1112.2,266.1 L1115.1,266.1 L1118,266.1 L1120.9,266.1 L1123.8,266.1 L1126.8,266.1 L1129.7,266.1 L1132.6,266.1 L1135.5,266.1 L1138.4,266.1 L1141.3,266.1 L1144.2,266.1 L1147.1,266.1 L1150,266.1 L1152.9,266.1 L1155.8,266.1 L1158.7,266.1 L1161.6,266.1 L1164.5,266.1 L1167.4,266.1 L1170.3,266.1 L1173.2,266.1 L1176.1,266.1 L1179,266.1 L1181.9,266.1 L1184.8,266.1" fill="none" stroke="#e61e1e" stroke-width="2.1" stroke-linejoin="round"/><path d="M952.6,291.8 L953.8,291.6 L954.9,291.4 L956.1,291.2 L957.2,291 L958.4,290.8 L959.6,290.6 L960.7,290.4 L961.9,290.2 L963,290 L964.2,289.8 L965.4,289.6 L966.5,289.4 L967.7,289.2 L968.9,289 L970,288.8 L972.9,288.3 L975.8,287.8 L978.7,287.4 L981.6,286.9 L984.5,286.4 L987.4,285.9 L990.3,285.4 L993.2,284.9 L996.1,284.4 L999,283.9 L1001.9,283.4 L1004.8,282.9 L1007.7,282.4 L1010.6,281.9 L1013.6,281.4 L1016.5,280.9 L1019.4,280.4 L1022.3,279.9 L1025.2,279.4 L1028.1,279 L1031,278.5 L1033.9,278 L1036.8,277.5 L1039.7,277 L1042.6,276.5 L1045.5,276 L1048.4,275.5 L1051.3,275 L1054.2,274.5 L1057.1,274 L1060,273.5 L1062.9,273 L1065.8,272.5 L1068.7,272 L1071.6,272 L1074.5,272 L1077.4,272 L1080.3,272 L1083.2,272 L1086.1,272 L1089,272 L1091.9,272 L1094.8,272 L1097.7,272 L1100.6,272 L1103.5,272 L1106.4,272 L1109.3,272 L1112.2,272 L1115.1,272 L1118,272 L1120.9,272 L1123.8,272 L1126.8,272 L1129.7,272 L1132.6,272 L1135.5,272 L1138.4,272 L1141.3,272 L1144.2,272 L1147.1,272 L1150,272 L1152.9,272 L1155.8,272 L1158.7,272 L1161.6,272 L1164.5,272 L1167.4,272 L1170.3,272 L1173.2,272 L1176.1,272 L1179,272 L1181.9,272 L1184.8,272" fill="none" stroke="#d6a060" stroke-width="2.1" stroke-linejoin="round"/><path d="M952.6,291.8 L953.8,282.8 L954.9,274.8 L956.1,267.6 L957.2,261.3 L958.4,255.6 L959.6,250.4 L960.7,245.7 L961.9,241.5 L963,237.6 L964.2,234 L965.4,230.7 L966.5,227.7 L967.7,224.8 L968.9,222.1 L970,219.6 L972.9,214 L975.8,209 L978.7,204.6 L981.6,200.6 L984.5,196.9 L987.4,193.6 L990.3,190.5 L993.2,187.7 L996.1,185 L999,182.6 L1001.9,180.3 L1004.8,178.2 L1007.7,176.2 L1010.6,174.4 L1013.6,172.6 L1016.5,171 L1019.4,169.5 L1022.3,168.1 L1025.2,166.8 L1028.1,165.6 L1031,164.5 L1033.9,163.4 L1036.8,162.5 L1039.7,161.5 L1042.6,160.7 L1045.5,159.9 L1048.4,159.1 L1051.3,158.4 L1054.2,157.8 L1057.1,157.2 L1060,156.6 L1062.9,156.1 L1065.8,155.6 L1068.7,155.1 L1071.6,155.1 L1074.5,155.1 L1077.4,155.1 L1080.3,155.1 L1083.2,155.1 L1086.1,155.1 L1089,155 L1091.9,155 L1094.8,155 L1097.7,155 L1100.6,155 L1103.5,155 L1106.4,155 L1109.3,155 L1112.2,155 L1115.1,154.9 L1118,154.9 L1120.9,154.9 L1123.8,154.9 L1126.8,154.9 L1129.7,154.9 L1132.6,154.9 L1135.5,154.9 L1138.4,154.9 L1141.3,154.9 L1144.2,154.9 L1147.1,154.9 L1150,154.8 L1152.9,154.8 L1155.8,154.8 L1158.7,154.8 L1161.6,154.8 L1164.5,154.8 L1167.4,154.8 L1170.3,154.8 L1173.2,154.8 L1176.1,154.8 L1179,154.8 L1181.9,154.8 L1184.8,154.8" fill="none" stroke="#8e8e8e" stroke-width="1.1" stroke-linejoin="round"/><path d="M952.6,291.8 L953.8,289.6 L954.9,287.5 L956.1,285.4 L957.2,283.3 L958.4,281.3 L959.6,279.3 L960.7,277.3 L961.9,275.4 L963,273.5 L964.2,271.6 L965.4,269.7 L966.5,267.9 L967.7,266.1 L968.9,264.4 L970,262.7 L972.9,258.4 L975.8,254.4 L978.7,250.5 L981.6,246.8 L984.5,243.2 L987.4,239.8 L990.3,236.5 L993.2,233.4 L996.1,230.3 L999,227.4 L1001.9,224.6 L1004.8,221.9 L1007.7,219.4 L1010.6,216.9 L1013.6,214.5 L1016.5,212.2 L1019.4,210 L1022.3,207.9 L1025.2,205.9 L1028.1,204 L1031,202.1 L1033.9,200.3 L1036.8,198.6 L1039.7,197 L1042.6,195.4 L1045.5,193.9 L1048.4,192.4 L1051.3,191 L1054.2,189.6 L1057.1,188.4 L1060,187.1 L1062.9,185.9 L1065.8,184.8 L1068.7,183.7 L1071.6,183.7 L1074.5,183.7 L1077.4,183.7 L1080.3,183.7 L1083.2,183.7 L1086.1,183.7 L1089,183.7 L1091.9,183.7 L1094.8,183.7 L1097.7,183.7 L1100.6,183.7 L1103.5,183.7 L1106.4,183.7 L1109.3,183.7 L1112.2,183.7 L1115.1,183.7 L1118,183.7 L1120.9,183.7 L1123.8,183.7 L1126.8,183.7 L1129.7,183.7 L1132.6,183.7 L1135.5,183.7 L1138.4,183.7 L1141.3,183.7 L1144.2,183.7 L1147.1,183.7 L1150,183.7 L1152.9,183.7 L1155.8,183.7 L1158.7,183.7 L1161.6,183.7 L1164.5,183.7 L1167.4,183.7 L1170.3,183.7 L1173.2,183.7 L1176.1,183.7 L1179,183.7 L1181.9,183.7 L1184.8,183.7" fill="none" stroke="#8e8e8e" stroke-width="1.1" stroke-linejoin="round"/><path d="M952.6,291.8 L953.8,291.2 L954.9,290.7 L956.1,290.1 L957.2,289.6 L958.4,289 L959.6,288.5 L960.7,287.9 L961.9,287.4 L963,286.8 L964.2,286.2 L965.4,285.7 L966.5,285.1 L967.7,284.6 L968.9,284 L970,283.5 L972.9,282.1 L975.8,280.7 L978.7,279.3 L981.6,277.9 L984.5,276.6 L987.4,275.2 L990.3,273.8 L993.2,272.4 L996.1,271.1 L999,269.7 L1001.9,268.3 L1004.8,267 L1007.7,265.6 L1010.6,264.2 L1013.6,262.9 L1016.5,261.5 L1019.4,260.1 L1022.3,258.8 L1025.2,257.4 L1028.1,256.1 L1031,254.7 L1033.9,253.4 L1036.8,252 L1039.7,250.7 L1042.6,249.3 L1045.5,248 L1048.4,246.6 L1051.3,245.3 L1054.2,243.9 L1057.1,242.6 L1060,241.2 L1062.9,239.9 L1065.8,238.5 L1068.7,237.2 L1071.6,237.2 L1074.5,237.2 L1077.4,237.2 L1080.3,237.2 L1083.2,237.2 L1086.1,237.2 L1089,237.2 L1091.9,237.2 L1094.8,237.2 L1097.7,237.2 L1100.6,237.2 L1103.5,237.2 L1106.4,237.2 L1109.3,237.2 L1112.2,237.2 L1115.1,237.2 L1118,237.2 L1120.9,237.2 L1123.8,237.2 L1126.8,237.2 L1129.7,237.2 L1132.6,237.2 L1135.5,237.2 L1138.4,237.2 L1141.3,237.2 L1144.2,237.2 L1147.1,237.2 L1150,237.2 L1152.9,237.2 L1155.8,237.2 L1158.7,237.2 L1161.6,237.2 L1164.5,237.2 L1167.4,237.2 L1170.3,237.2 L1173.2,237.2 L1176.1,237.2 L1179,237.2 L1181.9,237.2 L1184.8,237.2" fill="none" stroke="#8e8e8e" stroke-width="1.1" stroke-linejoin="round"/><path d="M952.6,291.8 L953.8,291.6 L954.9,291.3 L956.1,291.1 L957.2,290.8 L958.4,290.6 L959.6,290.3 L960.7,290.1 L961.9,289.8 L963,289.6 L964.2,289.3 L965.4,289.1 L966.5,288.8 L967.7,288.6 L968.9,288.3 L970,288.1 L972.9,287.4 L975.8,286.8 L978.7,286.2 L981.6,285.6 L984.5,284.9 L987.4,284.3 L990.3,283.7 L993.2,283.1 L996.1,282.4 L999,281.8 L1001.9,281.2 L1004.8,280.6 L1007.7,279.9 L1010.6,279.3 L1013.6,278.7 L1016.5,278.1 L1019.4,277.4 L1022.3,276.8 L1025.2,276.2 L1028.1,275.6 L1031,274.9 L1033.9,274.3 L1036.8,273.7 L1039.7,273.1 L1042.6,272.4 L1045.5,271.8 L1048.4,271.2 L1051.3,270.6 L1054.2,269.9 L1057.1,269.3 L1060,268.7 L1062.9,268.1 L1065.8,267.4 L1068.7,266.8 L1071.6,266.8 L1074.5,266.8 L1077.4,266.8 L1080.3,266.8 L1083.2,266.8 L1086.1,266.8 L1089,266.8 L1091.9,266.8 L1094.8,266.8 L1097.7,266.8 L1100.6,266.8 L1103.5,266.8 L1106.4,266.8 L1109.3,266.8 L1112.2,266.8 L1115.1,266.8 L1118,266.8 L1120.9,266.8 L1123.8,266.8 L1126.8,266.8 L1129.7,266.8 L1132.6,266.8 L1135.5,266.8 L1138.4,266.8 L1141.3,266.8 L1144.2,266.8 L1147.1,266.8 L1150,266.8 L1152.9,266.8 L1155.8,266.8 L1158.7,266.8 L1161.6,266.8 L1164.5,266.8 L1167.4,266.8 L1170.3,266.8 L1173.2,266.8 L1176.1,266.8 L1179,266.8 L1181.9,266.8 L1184.8,266.8" fill="none" stroke="#8e8e8e" stroke-width="1.1" stroke-linejoin="round"/><path d="M952.6,291.8 L953.8,291.6 L954.9,291.4 L956.1,291.2 L957.2,291 L958.4,290.8 L959.6,290.6 L960.7,290.4 L961.9,290.2 L963,290.1 L964.2,289.9 L965.4,289.7 L966.5,289.5 L967.7,289.3 L968.9,289.1 L970,288.9 L972.9,288.4 L975.8,287.9 L978.7,287.4 L981.6,286.9 L984.5,286.5 L987.4,286 L990.3,285.5 L993.2,285 L996.1,284.5 L999,284 L1001.9,283.6 L1004.8,283.1 L1007.7,282.6 L1010.6,282.1 L1013.6,281.6 L1016.5,281.1 L1019.4,280.6 L1022.3,280.2 L1025.2,279.7 L1028.1,279.2 L1031,278.7 L1033.9,278.2 L1036.8,277.7 L1039.7,277.2 L1042.6,276.8 L1045.5,276.3 L1048.4,275.8 L1051.3,275.3 L1054.2,274.8 L1057.1,274.3 L1060,273.8 L1062.9,273.4 L1065.8,272.9 L1068.7,272.4 L1071.6,272.4 L1074.5,272.4 L1077.4,272.4 L1080.3,272.4 L1083.2,272.4 L1086.1,272.4 L1089,272.4 L1091.9,272.4 L1094.8,272.4 L1097.7,272.4 L1100.6,272.4 L1103.5,272.4 L1106.4,272.4 L1109.3,272.4 L1112.2,272.4 L1115.1,272.4 L1118,272.4 L1120.9,272.4 L1123.8,272.4 L1126.8,272.4 L1129.7,272.4 L1132.6,272.4 L1135.5,272.4 L1138.4,272.4 L1141.3,272.4 L1144.2,272.4 L1147.1,272.4 L1150,272.4 L1152.9,272.4 L1155.8,272.4 L1158.7,272.4 L1161.6,272.4 L1164.5,272.4 L1167.4,272.4 L1170.3,272.4 L1173.2,272.4 L1176.1,272.4 L1179,272.4 L1181.9,272.4 L1184.8,272.4" fill="none" stroke="#8e8e8e" stroke-width="1.1" stroke-linejoin="round"/><path d="M952.6,113.4 L952.6,291.8 L1184.8,291.8 M952.6,291.8 L952.6,298.6 M1010.6,291.8 L1010.6,298.6 M1068.7,291.8 L1068.7,298.6 M1126.8,291.8 L1126.8,298.6 M1184.8,291.8 L1184.8,298.6 M952.6,291.8 L945.8,291.8 M952.6,256.1 L945.8,256.1 M952.6,220.4 L945.8,220.4 M952.6,184.8 L945.8,184.8 M952.6,149.1 L945.8,149.1 M952.6,113.4 L945.8,113.4" fill="none" stroke="#000" stroke-width="1.7" stroke-linecap="square"/><text x="943" y="296.5" font-size="13.3" text-anchor="end" font-weight="bold" fill="#000">0.0</text><text x="943" y="260.8" font-size="13.3" text-anchor="end" font-weight="bold" fill="#000">0.5</text><text x="943" y="225.1" font-size="13.3" text-anchor="end" font-weight="bold" fill="#000">1.0</text><text x="943" y="189.5" font-size="13.3" text-anchor="end" font-weight="bold" fill="#000">1.5</text><text x="943" y="153.8" font-size="13.3" text-anchor="end" font-weight="bold" fill="#000">2.0</text><text x="943" y="118.1" font-size="13.3" text-anchor="end" font-weight="bold" fill="#000">2.5</text><text x="952.6" y="314.1" font-size="13.3" text-anchor="middle" font-weight="bold" fill="#000">0</text><text x="1010.6" y="314.1" font-size="13.3" text-anchor="middle" font-weight="bold" fill="#000">100</text><text x="1068.7" y="314.1" font-size="13.3" text-anchor="middle" font-weight="bold" fill="#000">200</text><text x="1126.8" y="314.1" font-size="13.3" text-anchor="middle" font-weight="bold" fill="#000">300</text><text x="1184.8" y="314.1" font-size="13.3" text-anchor="middle" font-weight="bold" fill="#000">400</text><text x="1068.7" y="336.4" font-size="14.7" text-anchor="middle" font-weight="bold" fill="#000">Time (s)</text><text transform="translate(916.3,202.6) rotate(-90)" font-size="14.7" text-anchor="middle" font-weight="bold" fill="#000">Binding (nm)</text><text x="1068.7" y="57.4" font-size="16.8" text-anchor="middle" font-weight="bold" fill="#000">WT</text><text x="1068.7" y="87.1" font-size="16.8" text-anchor="middle" font-weight="bold" fill="#000">BI-5B2C</text><text x="964.3" y="127.8" font-size="14.7" font-weight="bold"><tspan font-style="italic">K</tspan><tspan font-size="10.7" dy="3">D,app</tspan><tspan dy="-3">=4.89 nM</tspan></text><path d="M1275.7,291.8 L1276.9,284.1 L1278,277.3 L1279.2,271.2 L1280.3,265.6 L1281.5,260.6 L1282.7,256 L1283.8,251.8 L1285,248 L1286.1,244.5 L1287.3,241.2 L1288.5,238.1 L1289.6,235.3 L1290.8,232.6 L1291.9,230.1 L1293.1,227.7 L1296,222.4 L1298.9,217.6 L1301.8,213.4 L1304.7,209.6 L1307.6,206.1 L1310.5,203 L1313.4,200.1 L1316.3,197.5 L1319.2,195.1 L1322.1,192.8 L1325,190.8 L1327.9,188.9 L1330.8,187.1 L1333.7,185.5 L1336.6,184 L1339.5,182.6 L1342.4,181.4 L1345.3,180.2 L1348.2,179.1 L1351.1,178.1 L1354,177.2 L1356.9,176.3 L1359.8,175.5 L1362.7,174.8 L1365.6,174.1 L1368.5,173.5 L1371.4,172.9 L1374.3,172.4 L1377.2,171.9 L1380.1,171.4 L1383,171 L1385.9,170.6 L1388.8,170.3 L1391.7,170 L1394.5,169.9 L1397.4,169.9 L1400.3,169.9 L1403.2,169.9 L1406.1,169.9 L1409,169.9 L1411.9,169.8 L1414.8,169.8 L1417.7,169.8 L1420.6,169.8 L1423.5,169.8 L1426.4,169.8 L1429.3,169.8 L1432.2,169.8 L1435.1,169.8 L1438,169.7 L1440.9,169.7 L1443.8,169.7 L1446.7,169.7 L1449.6,169.7 L1452.5,169.7 L1455.4,169.7 L1458.3,169.7 L1461.2,169.7 L1464.1,169.7 L1467,169.7 L1469.9,169.7 L1472.8,169.7 L1475.7,169.7 L1478.6,169.6 L1481.5,169.6 L1484.4,169.6 L1487.3,169.6 L1490.2,169.6 L1493.1,169.6 L1496,169.6 L1498.9,169.6 L1501.8,169.6 L1504.7,169.6 L1507.6,169.6" fill="none" stroke="#1c1cc4" stroke-width="2.1" stroke-linejoin="round"/><path d="M1275.7,291.8 L1276.9,289 L1278,286.3 L1279.2,283.6 L1280.3,281 L1281.5,278.4 L1282.7,276 L1283.8,273.5 L1285,271.1 L1286.1,268.8 L1287.3,266.5 L1288.5,264.3 L1289.6,262.1 L1290.8,260 L1291.9,257.9 L1293.1,255.9 L1296,251 L1298.9,246.4 L1301.8,242.1 L1304.7,238 L1307.6,234.1 L1310.5,230.4 L1313.4,227 L1316.3,223.7 L1319.2,220.6 L1322.1,217.7 L1325,214.9 L1327.9,212.3 L1330.8,209.9 L1333.7,207.6 L1336.6,205.4 L1339.5,203.3 L1342.4,201.3 L1345.3,199.5 L1348.2,197.7 L1351.1,196.1 L1354,194.5 L1356.9,193.1 L1359.8,191.7 L1362.7,190.4 L1365.6,189.1 L1368.5,188 L1371.4,186.9 L1374.3,185.8 L1377.2,184.8 L1380.1,183.9 L1383,183 L1385.9,182.2 L1388.8,181.4 L1391.7,180.7 L1394.5,180.6 L1397.4,180.6 L1400.3,180.6 L1403.2,180.6 L1406.1,180.6 L1409,180.6 L1411.9,180.6 L1414.8,180.5 L1417.7,180.5 L1420.6,180.5 L1423.5,180.5 L1426.4,180.5 L1429.3,180.5 L1432.2,180.5 L1435.1,180.5 L1438,180.5 L1440.9,180.4 L1443.8,180.4 L1446.7,180.4 L1449.6,180.4 L1452.5,180.4 L1455.4,180.4 L1458.3,180.4 L1461.2,180.4 L1464.1,180.4 L1467,180.4 L1469.9,180.4 L1472.8,180.4 L1475.7,180.4 L1478.6,180.3 L1481.5,180.3 L1484.4,180.3 L1487.3,180.3 L1490.2,180.3 L1493.1,180.3 L1496,180.3 L1498.9,180.3 L1501.8,180.3 L1504.7,180.3 L1507.6,180.3" fill="none" stroke="#2a87a6" stroke-width="2.1" stroke-linejoin="round"/><path d="M1275.7,291.8 L1276.9,291 L1278,290.2 L1279.2,289.5 L1280.3,288.7 L1281.5,287.9 L1282.7,287.1 L1283.8,286.4 L1285,285.6 L1286.1,284.8 L1287.3,284.1 L1288.5,283.3 L1289.6,282.5 L1290.8,281.8 L1291.9,281 L1293.1,280.3 L1296,278.4 L1298.9,276.6 L1301.8,274.7 L1304.7,272.9 L1307.6,271.1 L1310.5,269.3 L1313.4,267.5 L1316.3,265.8 L1319.2,264 L1322.1,262.3 L1325,260.6 L1327.9,258.9 L1330.8,257.2 L1333.7,255.5 L1336.6,253.8 L1339.5,252.2 L1342.4,250.5 L1345.3,248.9 L1348.2,247.3 L1351.1,245.7 L1354,244.1 L1356.9,242.5 L1359.8,240.9 L1362.7,239.4 L1365.6,237.9 L1368.5,236.3 L1371.4,234.8 L1374.3,233.3 L1377.2,231.8 L1380.1,230.3 L1383,228.9 L1385.9,227.4 L1388.8,226 L1391.7,224.5 L1394.5,224.5 L1397.4,224.5 L1400.3,224.5 L1403.2,224.5 L1406.1,224.5 L1409,224.5 L1411.9,224.5 L1414.8,224.5 L1417.7,224.5 L1420.6,224.5 L1423.5,224.5 L1426.4,224.5 L1429.3,224.5 L1432.2,224.5 L1435.1,224.5 L1438,224.5 L1440.9,224.5 L1443.8,224.5 L1446.7,224.5 L1449.6,224.5 L1452.5,224.5 L1455.4,224.5 L1458.3,224.5 L1461.2,224.5 L1464.1,224.5 L1467,224.5 L1469.9,224.5 L1472.8,224.5 L1475.7,224.5 L1478.6,224.5 L1481.5,224.5 L1484.4,224.5 L1487.3,224.5 L1490.2,224.5 L1493.1,224.5 L1496,224.5 L1498.9,224.5 L1501.8,224.5 L1504.7,224.5 L1507.6,224.5" fill="none" stroke="#2fe22f" stroke-width="2.1" stroke-linejoin="round"/><path d="M1275.7,291.8 L1276.9,291.4 L1278,291 L1279.2,290.6 L1280.3,290.2 L1281.5,289.9 L1282.7,289.5 L1283.8,289.1 L1285,288.7 L1286.1,288.3 L1287.3,287.9 L1288.5,287.5 L1289.6,287.1 L1290.8,286.7 L1291.9,286.4 L1293.1,286 L1296,285 L1298.9,284 L1301.8,283 L1304.7,282.1 L1307.6,281.1 L1310.5,280.1 L1313.4,279.2 L1316.3,278.2 L1319.2,277.2 L1322.1,276.2 L1325,275.3 L1327.9,274.3 L1330.8,273.3 L1333.7,272.4 L1336.6,271.4 L1339.5,270.4 L1342.4,269.4 L1345.3,268.5 L1348.2,267.5 L1351.1,266.5 L1354,265.5 L1356.9,264.6 L1359.8,263.6 L1362.7,262.6 L1365.6,261.7 L1368.5,260.7 L1371.4,259.7 L1374.3,258.7 L1377.2,257.8 L1380.1,256.8 L1383,255.8 L1385.9,254.9 L1388.8,253.9 L1391.7,252.9 L1394.5,252.9 L1397.4,252.9 L1400.3,252.9 L1403.2,252.8 L1406.1,252.8 L1409,252.8 L1411.9,252.8 L1414.8,252.8 L1417.7,252.8 L1420.6,252.8 L1423.5,252.8 L1426.4,252.7 L1429.3,252.7 L1432.2,252.7 L1435.1,252.7 L1438,252.7 L1440.9,252.7 L1443.8,252.7 L1446.7,252.7 L1449.6,252.7 L1452.5,252.7 L1455.4,252.7 L1458.3,252.6 L1461.2,252.6 L1464.1,252.6 L1467,252.6 L1469.9,252.6 L1472.8,252.6 L1475.7,252.6 L1478.6,252.6 L1481.5,252.6 L1484.4,252.6 L1487.3,252.6 L1490.2,252.6 L1493.1,252.6 L1496,252.6 L1498.9,252.6 L1501.8,252.6 L1504.7,252.6 L1507.6,252.6" fill="none" stroke="#e61e1e" stroke-width="2.1" stroke-linejoin="round"/><path d="M1275.7,291.8 L1276.9,291.5 L1278,291.3 L1279.2,291 L1280.3,290.7 L1281.5,290.4 L1282.7,290.2 L1283.8,289.9 L1285,289.6 L1286.1,289.3 L1287.3,289.1 L1288.5,288.8 L1289.6,288.5 L1290.8,288.2 L1291.9,288 L1293.1,287.7 L1296,287 L1298.9,286.3 L1301.8,285.6 L1304.7,285 L1307.6,284.3 L1310.5,283.6 L1313.4,282.9 L1316.3,282.2 L1319.2,281.5 L1322.1,280.8 L1325,280.2 L1327.9,279.5 L1330.8,278.8 L1333.7,278.1 L1336.6,277.4 L1339.5,276.7 L1342.4,276.1 L1345.3,275.4 L1348.2,274.7 L1351.1,274 L1354,273.3 L1356.9,272.6 L1359.8,271.9 L1362.7,271.3 L1365.6,270.6 L1368.5,269.9 L1371.4,269.2 L1374.3,268.5 L1377.2,267.8 L1380.1,267.2 L1383,266.5 L1385.9,265.8 L1388.8,265.1 L1391.7,264.4 L1394.5,264.4 L1397.4,264.4 L1400.3,264.4 L1403.2,264.4 L1406.1,264.4 L1409,264.4 L1411.9,264.4 L1414.8,264.4 L1417.7,264.4 L1420.6,264.4 L1423.5,264.4 L1426.4,264.4 L1429.3,264.4 L1432.2,264.4 L1435.1,264.4 L1438,264.4 L1440.9,264.4 L1443.8,264.4 L1446.7,264.4 L1449.6,264.4 L1452.5,264.4 L1455.4,264.4 L1458.3,264.4 L1461.2,264.4 L1464.1,264.4 L1467,264.4 L1469.9,264.4 L1472.8,264.4 L1475.7,264.4 L1478.6,264.4 L1481.5,264.4 L1484.4,264.4 L1487.3,264.4 L1490.2,264.4 L1493.1,264.4 L1496,264.4 L1498.9,264.4 L1501.8,264.4 L1504.7,264.4 L1507.6,264.4" fill="none" stroke="#d6a060" stroke-width="2.1" stroke-linejoin="round"/><path d="M1275.7,291.8 L1276.9,284.6 L1278,278.2 L1279.2,272.3 L1280.3,267 L1281.5,262.2 L1282.7,257.7 L1283.8,253.6 L1285,249.8 L1286.1,246.3 L1287.3,243.1 L1288.5,240 L1289.6,237.1 L1290.8,234.4 L1291.9,231.9 L1293.1,229.5 L1296,224 L1298.9,219.1 L1301.8,214.7 L1304.7,210.8 L1307.6,207.2 L1310.5,204 L1313.4,201 L1316.3,198.3 L1319.2,195.8 L1322.1,193.5 L1325,191.4 L1327.9,189.5 L1330.8,187.7 L1333.7,186.1 L1336.6,184.6 L1339.5,183.2 L1342.4,181.9 L1345.3,180.8 L1348.2,179.7 L1351.1,178.7 L1354,177.8 L1356.9,177 L1359.8,176.2 L1362.7,175.5 L1365.6,174.8 L1368.5,174.2 L1371.4,173.7 L1374.3,173.2 L1377.2,172.7 L1380.1,172.3 L1383,171.9 L1385.9,171.5 L1388.8,171.2 L1391.7,170.8 L1394.5,170.8 L1397.4,170.8 L1400.3,170.8 L1403.2,170.8 L1406.1,170.8 L1409,170.8 L1411.9,170.7 L1414.8,170.7 L1417.7,170.7 L1420.6,170.7 L1423.5,170.7 L1426.4,170.7 L1429.3,170.7 L1432.2,170.7 L1435.1,170.7 L1438,170.6 L1440.9,170.6 L1443.8,170.6 L1446.7,170.6 L1449.6,170.6 L1452.5,170.6 L1455.4,170.6 L1458.3,170.6 L1461.2,170.6 L1464.1,170.6 L1467,170.6 L1469.9,170.6 L1472.8,170.5 L1475.7,170.5 L1478.6,170.5 L1481.5,170.5 L1484.4,170.5 L1487.3,170.5 L1490.2,170.5 L1493.1,170.5 L1496,170.5 L1498.9,170.5 L1501.8,170.5 L1504.7,170.5 L1507.6,170.5" fill="none" stroke="#8e8e8e" stroke-width="1.1" stroke-linejoin="round"/><path d="M1275.7,291.8 L1276.9,289 L1278,286.2 L1279.2,283.5 L1280.3,280.9 L1281.5,278.3 L1282.7,275.8 L1283.8,273.3 L1285,270.9 L1286.1,268.5 L1287.3,266.3 L1288.5,264 L1289.6,261.8 L1290.8,259.7 L1291.9,257.6 L1293.1,255.6 L1296,250.7 L1298.9,246 L1301.8,241.7 L1304.7,237.6 L1307.6,233.7 L1310.5,230 L1313.4,226.6 L1316.3,223.3 L1319.2,220.3 L1322.1,217.4 L1325,214.6 L1327.9,212.1 L1330.8,209.6 L1333.7,207.3 L1336.6,205.2 L1339.5,203.1 L1342.4,201.2 L1345.3,199.4 L1348.2,197.7 L1351.1,196.1 L1354,194.6 L1356.9,193.1 L1359.8,191.8 L1362.7,190.5 L1365.6,189.3 L1368.5,188.2 L1371.4,187.1 L1374.3,186.1 L1377.2,185.1 L1380.1,184.2 L1383,183.4 L1385.9,182.6 L1388.8,181.8 L1391.7,181.1 L1394.5,181.1 L1397.4,181.1 L1400.3,181.1 L1403.2,181 L1406.1,181 L1409,181 L1411.9,181 L1414.8,181 L1417.7,181 L1420.6,181 L1423.5,181 L1426.4,180.9 L1429.3,180.9 L1432.2,180.9 L1435.1,180.9 L1438,180.9 L1440.9,180.9 L1443.8,180.9 L1446.7,180.9 L1449.6,180.9 L1452.5,180.9 L1455.4,180.8 L1458.3,180.8 L1461.2,180.8 L1464.1,180.8 L1467,180.8 L1469.9,180.8 L1472.8,180.8 L1475.7,180.8 L1478.6,180.8 L1481.5,180.8 L1484.4,180.8 L1487.3,180.8 L1490.2,180.8 L1493.1,180.8 L1496,180.8 L1498.9,180.8 L1501.8,180.8 L1504.7,180.8 L1507.6,180.7" fill="none" stroke="#8e8e8e" stroke-width="1.1" stroke-linejoin="round"/><path d="M1275.7,291.8 L1276.9,291 L1278,290.2 L1279.2,289.4 L1280.3,288.6 L1281.5,287.8 L1282.7,287 L1283.8,286.3 L1285,285.5 L1286.1,284.7 L1287.3,283.9 L1288.5,283.2 L1289.6,282.4 L1290.8,281.6 L1291.9,280.9 L1293.1,280.1 L1296,278.2 L1298.9,276.3 L1301.8,274.5 L1304.7,272.6 L1307.6,270.8 L1310.5,269 L1313.4,267.2 L1316.3,265.5 L1319.2,263.7 L1322.1,262 L1325,260.2 L1327.9,258.5 L1330.8,256.8 L1333.7,255.1 L1336.6,253.5 L1339.5,251.8 L1342.4,250.2 L1345.3,248.6 L1348.2,247 L1351.1,245.4 L1354,243.8 L1356.9,242.2 L1359.8,240.7 L1362.7,239.2 L1365.6,237.6 L1368.5,236.1 L1371.4,234.6 L1374.3,233.2 L1377.2,231.7 L1380.1,230.2 L1383,228.8 L1385.9,227.4 L1388.8,225.9 L1391.7,224.5 L1394.5,224.5 L1397.4,224.5 L1400.3,224.5 L1403.2,224.5 L1406.1,224.5 L1409,224.5 L1411.9,224.5 L1414.8,224.5 L1417.7,224.5 L1420.6,224.5 L1423.5,224.5 L1426.4,224.5 L1429.3,224.5 L1432.2,224.5 L1435.1,224.5 L1438,224.5 L1440.9,224.5 L1443.8,224.5 L1446.7,224.5 L1449.6,224.5 L1452.5,224.5 L1455.4,224.5 L1458.3,224.5 L1461.2,224.5 L1464.1,224.5 L1467,224.5 L1469.9,224.5 L1472.8,224.5 L1475.7,224.5 L1478.6,224.5 L1481.5,224.5 L1484.4,224.5 L1487.3,224.5 L1490.2,224.5 L1493.1,224.5 L1496,224.5 L1498.9,224.5 L1501.8,224.5 L1504.7,224.5 L1507.6,224.5" fill="none" stroke="#8e8e8e" stroke-width="1.1" stroke-linejoin="round"/><path d="M1275.7,291.8 L1276.9,291.4 L1278,291 L1279.2,290.6 L1280.3,290.3 L1281.5,289.9 L1282.7,289.5 L1283.8,289.1 L1285,288.7 L1286.1,288.3 L1287.3,288 L1288.5,287.6 L1289.6,287.2 L1290.8,286.8 L1291.9,286.4 L1293.1,286 L1296,285.1 L1298.9,284.1 L1301.8,283.1 L1304.7,282.2 L1307.6,281.2 L1310.5,280.3 L1313.4,279.3 L1316.3,278.3 L1319.2,277.4 L1322.1,276.4 L1325,275.5 L1327.9,274.5 L1330.8,273.5 L1333.7,272.6 L1336.6,271.6 L1339.5,270.7 L1342.4,269.7 L1345.3,268.7 L1348.2,267.8 L1351.1,266.8 L1354,265.8 L1356.9,264.9 L1359.8,263.9 L1362.7,263 L1365.6,262 L1368.5,261 L1371.4,260.1 L1374.3,259.1 L1377.2,258.2 L1380.1,257.2 L1383,256.2 L1385.9,255.3 L1388.8,254.3 L1391.7,253.4 L1394.5,253.3 L1397.4,253.3 L1400.3,253.3 L1403.2,253.3 L1406.1,253.3 L1409,253.3 L1411.9,253.3 L1414.8,253.2 L1417.7,253.2 L1420.6,253.2 L1423.5,253.2 L1426.4,253.2 L1429.3,253.2 L1432.2,253.2 L1435.1,253.2 L1438,253.2 L1440.9,253.1 L1443.8,253.1 L1446.7,253.1 L1449.6,253.1 L1452.5,253.1 L1455.4,253.1 L1458.3,253.1 L1461.2,253.1 L1464.1,253.1 L1467,253.1 L1469.9,253.1 L1472.8,253.1 L1475.7,253.1 L1478.6,253 L1481.5,253 L1484.4,253 L1487.3,253 L1490.2,253 L1493.1,253 L1496,253 L1498.9,253 L1501.8,253 L1504.7,253 L1507.6,253" fill="none" stroke="#8e8e8e" stroke-width="1.1" stroke-linejoin="round"/><path d="M1275.7,291.8 L1276.9,291.5 L1278,291.3 L1279.2,291 L1280.3,290.7 L1281.5,290.4 L1282.7,290.2 L1283.8,289.9 L1285,289.6 L1286.1,289.3 L1287.3,289.1 L1288.5,288.8 L1289.6,288.5 L1290.8,288.2 L1291.9,288 L1293.1,287.7 L1296,287 L1298.9,286.3 L1301.8,285.6 L1304.7,285 L1307.6,284.3 L1310.5,283.6 L1313.4,282.9 L1316.3,282.2 L1319.2,281.5 L1322.1,280.8 L1325,280.2 L1327.9,279.5 L1330.8,278.8 L1333.7,278.1 L1336.6,277.4 L1339.5,276.7 L1342.4,276.1 L1345.3,275.4 L1348.2,274.7 L1351.1,274 L1354,273.3 L1356.9,272.6 L1359.8,271.9 L1362.7,271.3 L1365.6,270.6 L1368.5,269.9 L1371.4,269.2 L1374.3,268.5 L1377.2,267.8 L1380.1,267.2 L1383,266.5 L1385.9,265.8 L1388.8,265.1 L1391.7,264.4 L1394.5,264.4 L1397.4,264.4 L1400.3,264.4 L1403.2,264.4 L1406.1,264.4 L1409,264.4 L1411.9,264.4 L1414.8,264.4 L1417.7,264.4 L1420.6,264.4 L1423.5,264.4 L1426.4,264.4 L1429.3,264.4 L1432.2,264.4 L1435.1,264.4 L1438,264.4 L1440.9,264.4 L1443.8,264.4 L1446.7,264.4 L1449.6,264.4 L1452.5,264.4 L1455.4,264.4 L1458.3,264.4 L1461.2,264.4 L1464.1,264.4 L1467,264.4 L1469.9,264.4 L1472.8,264.4 L1475.7,264.4 L1478.6,264.4 L1481.5,264.4 L1484.4,264.4 L1487.3,264.4 L1490.2,264.4 L1493.1,264.4 L1496,264.4 L1498.9,264.4 L1501.8,264.4 L1504.7,264.4 L1507.6,264.4" fill="none" stroke="#8e8e8e" stroke-width="1.1" stroke-linejoin="round"/><path d="M1275.7,113.4 L1275.7,291.8 L1507.6,291.8 M1275.7,291.8 L1275.7,298.6 M1333.7,291.8 L1333.7,298.6 M1391.7,291.8 L1391.7,298.6 M1449.6,291.8 L1449.6,298.6 M1507.6,291.8 L1507.6,298.6 M1275.7,291.8 L1268.9,291.8 M1275.7,247.2 L1268.9,247.2 M1275.7,202.6 L1268.9,202.6 M1275.7,158 L1268.9,158 M1275.7,113.4 L1268.9,113.4" fill="none" stroke="#000" stroke-width="1.7" stroke-linecap="square"/><text x="1266.1" y="296.5" font-size="13.3" text-anchor="end" font-weight="bold" fill="#000">0.0</text><text x="1266.1" y="251.9" font-size="13.3" text-anchor="end" font-weight="bold" fill="#000">0.5</text><text x="1266.1" y="207.3" font-size="13.3" text-anchor="end" font-weight="bold" fill="#000">1.0</text><text x="1266.1" y="162.7" font-size="13.3" text-anchor="end" font-weight="bold" fill="#000">1.5</text><text x="1266.1" y="118.1" font-size="13.3" text-anchor="end" font-weight="bold" fill="#000">2.0</text><text x="1275.7" y="314.1" font-size="13.3" text-anchor="middle" font-weight="bold" fill="#000">0</text><text x="1333.7" y="314.1" font-size="13.3" text-anchor="middle" font-weight="bold" fill="#000">100</text><text x="1391.7" y="314.1" font-size="13.3" text-anchor="middle" font-weight="bold" fill="#000">200</text><text x="1449.6" y="314.1" font-size="13.3" text-anchor="middle" font-weight="bold" fill="#000">300</text><text x="1507.6" y="314.1" font-size="13.3" text-anchor="middle" font-weight="bold" fill="#000">400</text><text x="1391.7" y="336.4" font-size="14.7" text-anchor="middle" font-weight="bold" fill="#000">Time (s)</text><text transform="translate(1239.4,202.6) rotate(-90)" font-size="14.7" text-anchor="middle" font-weight="bold" fill="#000">Binding (nm)</text><text x="1391.7" y="54.6" font-size="16.8" text-anchor="middle" font-weight="bold" fill="#000">WT</text><text x="1391.7" y="85.5" font-size="16.8" text-anchor="middle" font-weight="bold" fill="#000">BI-2C1C</text><text x="1282.9" y="128.3" font-size="14.7" font-weight="bold"><tspan font-style="italic">K</tspan><tspan font-size="10.7" dy="3">D,app</tspan><tspan dy="-3">=1.04 nM</tspan></text><path d="M1597.5,291.8 L1598.7,283.3 L1599.8,275.7 L1601,269 L1602.1,263 L1603.3,257.5 L1604.5,252.7 L1605.6,248.3 L1606.8,244.2 L1607.9,240.5 L1609.1,237.2 L1610.2,234 L1611.4,231.1 L1612.6,228.4 L1613.7,225.9 L1614.9,223.6 L1617.8,218.2 L1620.7,213.6 L1623.6,209.4 L1626.5,205.7 L1629.4,202.4 L1632.3,199.3 L1635.2,196.5 L1638,194 L1640.9,191.6 L1643.8,189.4 L1646.7,187.4 L1649.6,185.5 L1652.5,183.8 L1655.4,182.2 L1658.3,180.7 L1661.2,179.3 L1664.1,178.1 L1667,176.9 L1669.9,175.8 L1672.8,174.8 L1675.7,173.8 L1678.6,173 L1681.5,172.2 L1684.4,171.4 L1687.3,170.7 L1690.2,170.1 L1693.1,169.5 L1696,168.9 L1698.9,168.4 L1701.8,168 L1704.7,167.5 L1707.6,167.1 L1710.5,166.7 L1713.4,166.4 L1716.2,166.4 L1719.1,166.4 L1722,166.3 L1724.9,166.3 L1727.8,166.3 L1730.7,166.3 L1733.6,166.3 L1736.5,166.3 L1739.4,166.3 L1742.3,166.2 L1745.2,166.2 L1748.1,166.2 L1751,166.2 L1753.9,166.2 L1756.8,166.2 L1759.7,166.2 L1762.6,166.2 L1765.5,166.2 L1768.4,166.2 L1771.3,166.1 L1774.2,166.1 L1777.1,166.1 L1780,166.1 L1782.9,166.1 L1785.8,166.1 L1788.7,166.1 L1791.5,166.1 L1794.4,166.1 L1797.3,166.1 L1800.2,166.1 L1803.1,166.1 L1806,166.1 L1808.9,166.1 L1811.8,166.1 L1814.7,166 L1817.6,166 L1820.5,166 L1823.4,166 L1826.3,166 L1829.2,166" fill="none" stroke="#1c1cc4" stroke-width="2.1" stroke-linejoin="round"/><path d="M1597.5,291.8 L1598.7,289.2 L1599.8,286.6 L1601,284.1 L1602.1,281.7 L1603.3,279.3 L1604.5,276.9 L1605.6,274.6 L1606.8,272.4 L1607.9,270.2 L1609.1,268 L1610.2,265.9 L1611.4,263.8 L1612.6,261.8 L1613.7,259.9 L1614.9,257.9 L1617.8,253.3 L1620.7,248.9 L1623.6,244.7 L1626.5,240.8 L1629.4,237 L1632.3,233.5 L1635.2,230.1 L1638,227 L1640.9,223.9 L1643.8,221.1 L1646.7,218.4 L1649.6,215.8 L1652.5,213.4 L1655.4,211.1 L1658.3,209 L1661.2,206.9 L1664.1,205 L1667,203.1 L1669.9,201.4 L1672.8,199.7 L1675.7,198.2 L1678.6,196.7 L1681.5,195.3 L1684.4,193.9 L1687.3,192.7 L1690.2,191.5 L1693.1,190.4 L1696,189.3 L1698.9,188.3 L1701.8,187.3 L1704.7,186.4 L1707.6,185.5 L1710.5,184.7 L1713.4,184 L1716.2,184 L1719.1,183.9 L1722,183.9 L1724.9,183.9 L1727.8,183.9 L1730.7,183.9 L1733.6,183.9 L1736.5,183.9 L1739.4,183.9 L1742.3,183.9 L1745.2,183.9 L1748.1,183.9 L1751,183.9 L1753.9,183.9 L1756.8,183.9 L1759.7,183.9 L1762.6,183.9 L1765.5,183.9 L1768.4,183.9 L1771.3,183.9 L1774.2,183.9 L1777.1,183.9 L1780,183.9 L1782.9,183.9 L1785.8,183.9 L1788.7,183.9 L1791.5,183.9 L1794.4,183.9 L1797.3,183.9 L1800.2,183.9 L1803.1,183.9 L1806,183.9 L1808.9,183.9 L1811.8,183.9 L1814.7,183.9 L1817.6,183.9 L1820.5,183.9 L1823.4,183.9 L1826.3,183.9 L1829.2,183.9" fill="none" stroke="#2a87a6" stroke-width="2.1" stroke-linejoin="round"/><path d="M1597.5,291.8 L1598.7,291.1 L1599.8,290.4 L1601,289.6 L1602.1,288.9 L1603.3,288.2 L1604.5,287.5 L1605.6,286.8 L1606.8,286.1 L1607.9,285.3 L1609.1,284.6 L1610.2,283.9 L1611.4,283.2 L1612.6,282.5 L1613.7,281.8 L1614.9,281.1 L1617.8,279.4 L1620.7,277.7 L1623.6,275.9 L1626.5,274.2 L1629.4,272.5 L1632.3,270.8 L1635.2,269.1 L1638,267.5 L1640.9,265.8 L1643.8,264.2 L1646.7,262.5 L1649.6,260.9 L1652.5,259.3 L1655.4,257.7 L1658.3,256.1 L1661.2,254.5 L1664.1,252.9 L1667,251.3 L1669.9,249.8 L1672.8,248.2 L1675.7,246.7 L1678.6,245.1 L1681.5,243.6 L1684.4,242.1 L1687.3,240.6 L1690.2,239.1 L1693.1,237.6 L1696,236.1 L1698.9,234.6 L1701.8,233.2 L1704.7,231.7 L1707.6,230.3 L1710.5,228.8 L1713.4,227.4 L1716.2,227.4 L1719.1,227.4 L1722,227.4 L1724.9,227.4 L1727.8,227.4 L1730.7,227.4 L1733.6,227.4 L1736.5,227.5 L1739.4,227.5 L1742.3,227.5 L1745.2,227.5 L1748.1,227.5 L1751,227.5 L1753.9,227.5 L1756.8,227.5 L1759.7,227.5 L1762.6,227.5 L1765.5,227.5 L1768.4,227.5 L1771.3,227.5 L1774.2,227.5 L1777.1,227.5 L1780,227.5 L1782.9,227.5 L1785.8,227.5 L1788.7,227.5 L1791.5,227.5 L1794.4,227.5 L1797.3,227.5 L1800.2,227.6 L1803.1,227.6 L1806,227.6 L1808.9,227.6 L1811.8,227.6 L1814.7,227.6 L1817.6,227.6 L1820.5,227.6 L1823.4,227.6 L1826.3,227.6 L1829.2,227.6" fill="none" stroke="#2fe22f" stroke-width="2.1" stroke-linejoin="round"/><path d="M1597.5,291.8 L1598.7,291.5 L1599.8,291.1 L1601,290.8 L1602.1,290.5 L1603.3,290.1 L1604.5,289.8 L1605.6,289.4 L1606.8,289.1 L1607.9,288.8 L1609.1,288.4 L1610.2,288.1 L1611.4,287.8 L1612.6,287.4 L1613.7,287.1 L1614.9,286.8 L1617.8,285.9 L1620.7,285.1 L1623.6,284.2 L1626.5,283.4 L1629.4,282.6 L1632.3,281.7 L1635.2,280.9 L1638,280 L1640.9,279.2 L1643.8,278.3 L1646.7,277.5 L1649.6,276.7 L1652.5,275.8 L1655.4,275 L1658.3,274.1 L1661.2,273.3 L1664.1,272.5 L1667,271.6 L1669.9,270.8 L1672.8,269.9 L1675.7,269.1 L1678.6,268.3 L1681.5,267.4 L1684.4,266.6 L1687.3,265.7 L1690.2,264.9 L1693.1,264.1 L1696,263.2 L1698.9,262.4 L1701.8,261.5 L1704.7,260.7 L1707.6,259.9 L1710.5,259 L1713.4,258.2 L1716.2,258.2 L1719.1,258.2 L1722,258.2 L1724.9,258.2 L1727.8,258.2 L1730.7,258.2 L1733.6,258.2 L1736.5,258.2 L1739.4,258.2 L1742.3,258.2 L1745.2,258.2 L1748.1,258.2 L1751,258.2 L1753.9,258.2 L1756.8,258.2 L1759.7,258.2 L1762.6,258.2 L1765.5,258.2 L1768.4,258.2 L1771.3,258.2 L1774.2,258.2 L1777.1,258.2 L1780,258.2 L1782.9,258.2 L1785.8,258.2 L1788.7,258.2 L1791.5,258.2 L1794.4,258.2 L1797.3,258.2 L1800.2,258.2 L1803.1,258.2 L1806,258.2 L1808.9,258.2 L1811.8,258.2 L1814.7,258.2 L1817.6,258.2 L1820.5,258.2 L1823.4,258.2 L1826.3,258.2 L1829.2,258.2" fill="none" stroke="#e61e1e" stroke-width="2.1" stroke-linejoin="round"/><path d="M1597.5,291.8 L1598.7,291.6 L1599.8,291.4 L1601,291.3 L1602.1,291.1 L1603.3,290.9 L1604.5,290.7 L1605.6,290.6 L1606.8,290.4 L1607.9,290.2 L1609.1,290 L1610.2,289.8 L1611.4,289.7 L1612.6,289.5 L1613.7,289.3 L1614.9,289.1 L1617.8,288.7 L1620.7,288.2 L1623.6,287.8 L1626.5,287.3 L1629.4,286.9 L1632.3,286.4 L1635.2,286 L1638,285.6 L1640.9,285.1 L1643.8,284.7 L1646.7,284.2 L1649.6,283.8 L1652.5,283.3 L1655.4,282.9 L1658.3,282.4 L1661.2,282 L1664.1,281.5 L1667,281.1 L1669.9,280.7 L1672.8,280.2 L1675.7,279.8 L1678.6,279.3 L1681.5,278.9 L1684.4,278.4 L1687.3,278 L1690.2,277.5 L1693.1,277.1 L1696,276.6 L1698.9,276.2 L1701.8,275.7 L1704.7,275.3 L1707.6,274.9 L1710.5,274.4 L1713.4,274 L1716.2,274 L1719.1,274 L1722,274 L1724.9,274 L1727.8,274 L1730.7,274 L1733.6,274 L1736.5,274 L1739.4,274 L1742.3,274 L1745.2,274 L1748.1,274 L1751,274 L1753.9,274 L1756.8,274 L1759.7,274 L1762.6,274 L1765.5,274 L1768.4,274 L1771.3,274 L1774.2,274 L1777.1,274 L1780,274 L1782.9,274 L1785.8,274 L1788.7,274 L1791.5,274 L1794.4,274 L1797.3,274 L1800.2,274 L1803.1,274 L1806,274 L1808.9,274 L1811.8,274 L1814.7,274 L1817.6,274 L1820.5,274 L1823.4,274 L1826.3,274 L1829.2,274" fill="none" stroke="#d6a060" stroke-width="2.1" stroke-linejoin="round"/><path d="M1597.5,291.8 L1598.7,283.9 L1599.8,276.8 L1601,270.5 L1602.1,264.8 L1603.3,259.6 L1604.5,254.9 L1605.6,250.6 L1606.8,246.7 L1607.9,243 L1609.1,239.7 L1610.2,236.6 L1611.4,233.6 L1612.6,230.9 L1613.7,228.4 L1614.9,225.9 L1617.8,220.5 L1620.7,215.7 L1623.6,211.4 L1626.5,207.5 L1629.4,204 L1632.3,200.9 L1635.2,198 L1638,195.3 L1640.9,192.9 L1643.8,190.7 L1646.7,188.6 L1649.6,186.7 L1652.5,185 L1655.4,183.4 L1658.3,181.9 L1661.2,180.5 L1664.1,179.3 L1667,178.1 L1669.9,177.1 L1672.8,176.1 L1675.7,175.2 L1678.6,174.3 L1681.5,173.6 L1684.4,172.8 L1687.3,172.2 L1690.2,171.6 L1693.1,171 L1696,170.5 L1698.9,170 L1701.8,169.6 L1704.7,169.2 L1707.6,168.8 L1710.5,168.5 L1713.4,168.2 L1716.2,168.2 L1719.1,168.1 L1722,168.1 L1724.9,168.1 L1727.8,168.1 L1730.7,168.1 L1733.6,168.1 L1736.5,168.1 L1739.4,168 L1742.3,168 L1745.2,168 L1748.1,168 L1751,168 L1753.9,168 L1756.8,168 L1759.7,168 L1762.6,168 L1765.5,167.9 L1768.4,167.9 L1771.3,167.9 L1774.2,167.9 L1777.1,167.9 L1780,167.9 L1782.9,167.9 L1785.8,167.9 L1788.7,167.9 L1791.5,167.9 L1794.4,167.9 L1797.3,167.9 L1800.2,167.9 L1803.1,167.9 L1806,167.8 L1808.9,167.8 L1811.8,167.8 L1814.7,167.8 L1817.6,167.8 L1820.5,167.8 L1823.4,167.8 L1826.3,167.8 L1829.2,167.8" fill="none" stroke="#8e8e8e" stroke-width="1.1" stroke-linejoin="round"/><path d="M1597.5,291.8 L1598.7,289.1 L1599.8,286.5 L1601,284 L1602.1,281.5 L1603.3,279.1 L1604.5,276.7 L1605.6,274.3 L1606.8,272.1 L1607.9,269.8 L1609.1,267.7 L1610.2,265.5 L1611.4,263.4 L1612.6,261.4 L1613.7,259.4 L1614.9,257.5 L1617.8,252.8 L1620.7,248.3 L1623.6,244.1 L1626.5,240.2 L1629.4,236.4 L1632.3,232.9 L1635.2,229.5 L1638,226.3 L1640.9,223.3 L1643.8,220.5 L1646.7,217.8 L1649.6,215.3 L1652.5,212.9 L1655.4,210.6 L1658.3,208.4 L1661.2,206.4 L1664.1,204.5 L1667,202.7 L1669.9,201 L1672.8,199.3 L1675.7,197.8 L1678.6,196.3 L1681.5,195 L1684.4,193.7 L1687.3,192.4 L1690.2,191.3 L1693.1,190.2 L1696,189.1 L1698.9,188.1 L1701.8,187.2 L1704.7,186.3 L1707.6,185.5 L1710.5,184.7 L1713.4,184 L1716.2,184 L1719.1,184 L1722,184 L1724.9,184 L1727.8,184 L1730.7,184 L1733.6,184 L1736.5,184 L1739.4,184 L1742.3,184 L1745.2,184 L1748.1,184 L1751,184 L1753.9,184 L1756.8,184 L1759.7,184 L1762.6,184 L1765.5,184 L1768.4,184 L1771.3,184 L1774.2,184 L1777.1,184 L1780,184 L1782.9,184 L1785.8,184 L1788.7,184 L1791.5,184 L1794.4,184 L1797.3,184 L1800.2,184 L1803.1,184 L1806,184 L1808.9,184 L1811.8,184 L1814.7,184 L1817.6,184 L1820.5,184 L1823.4,184 L1826.3,184 L1829.2,184" fill="none" stroke="#8e8e8e" stroke-width="1.1" stroke-linejoin="round"/><path d="M1597.5,291.8 L1598.7,291.1 L1599.8,290.3 L1601,289.6 L1602.1,288.9 L1603.3,288.1 L1604.5,287.4 L1605.6,286.7 L1606.8,286 L1607.9,285.2 L1609.1,284.5 L1610.2,283.8 L1611.4,283.1 L1612.6,282.4 L1613.7,281.7 L1614.9,281 L1617.8,279.2 L1620.7,277.4 L1623.6,275.7 L1626.5,274 L1629.4,272.3 L1632.3,270.5 L1635.2,268.9 L1638,267.2 L1640.9,265.5 L1643.8,263.9 L1646.7,262.2 L1649.6,260.6 L1652.5,259 L1655.4,257.3 L1658.3,255.7 L1661.2,254.2 L1664.1,252.6 L1667,251 L1669.9,249.5 L1672.8,247.9 L1675.7,246.4 L1678.6,244.9 L1681.5,243.3 L1684.4,241.8 L1687.3,240.4 L1690.2,238.9 L1693.1,237.4 L1696,235.9 L1698.9,234.5 L1701.8,233.1 L1704.7,231.6 L1707.6,230.2 L1710.5,228.8 L1713.4,227.4 L1716.2,227.4 L1719.1,227.4 L1722,227.4 L1724.9,227.4 L1727.8,227.4 L1730.7,227.4 L1733.6,227.4 L1736.5,227.4 L1739.4,227.4 L1742.3,227.4 L1745.2,227.4 L1748.1,227.4 L1751,227.4 L1753.9,227.4 L1756.8,227.4 L1759.7,227.4 L1762.6,227.4 L1765.5,227.4 L1768.4,227.4 L1771.3,227.4 L1774.2,227.4 L1777.1,227.4 L1780,227.4 L1782.9,227.4 L1785.8,227.4 L1788.7,227.4 L1791.5,227.4 L1794.4,227.4 L1797.3,227.4 L1800.2,227.4 L1803.1,227.4 L1806,227.4 L1808.9,227.4 L1811.8,227.4 L1814.7,227.4 L1817.6,227.4 L1820.5,227.4 L1823.4,227.4 L1826.3,227.4 L1829.2,227.4" fill="none" stroke="#8e8e8e" stroke-width="1.1" stroke-linejoin="round"/><path d="M1597.5,291.8 L1598.7,291.5 L1599.8,291.1 L1601,290.8 L1602.1,290.5 L1603.3,290.1 L1604.5,289.8 L1605.6,289.5 L1606.8,289.1 L1607.9,288.8 L1609.1,288.5 L1610.2,288.1 L1611.4,287.8 L1612.6,287.5 L1613.7,287.2 L1614.9,286.8 L1617.8,286 L1620.7,285.2 L1623.6,284.3 L1626.5,283.5 L1629.4,282.7 L1632.3,281.8 L1635.2,281 L1638,280.2 L1640.9,279.4 L1643.8,278.5 L1646.7,277.7 L1649.6,276.9 L1652.5,276 L1655.4,275.2 L1658.3,274.4 L1661.2,273.5 L1664.1,272.7 L1667,271.9 L1669.9,271.1 L1672.8,270.2 L1675.7,269.4 L1678.6,268.6 L1681.5,267.7 L1684.4,266.9 L1687.3,266.1 L1690.2,265.3 L1693.1,264.4 L1696,263.6 L1698.9,262.8 L1701.8,261.9 L1704.7,261.1 L1707.6,260.3 L1710.5,259.4 L1713.4,258.6 L1716.2,258.6 L1719.1,258.6 L1722,258.6 L1724.9,258.6 L1727.8,258.6 L1730.7,258.6 L1733.6,258.6 L1736.5,258.6 L1739.4,258.6 L1742.3,258.6 L1745.2,258.6 L1748.1,258.6 L1751,258.6 L1753.9,258.6 L1756.8,258.6 L1759.7,258.6 L1762.6,258.6 L1765.5,258.6 L1768.4,258.6 L1771.3,258.6 L1774.2,258.6 L1777.1,258.6 L1780,258.6 L1782.9,258.6 L1785.8,258.6 L1788.7,258.6 L1791.5,258.6 L1794.4,258.6 L1797.3,258.6 L1800.2,258.6 L1803.1,258.6 L1806,258.6 L1808.9,258.6 L1811.8,258.6 L1814.7,258.6 L1817.6,258.6 L1820.5,258.6 L1823.4,258.6 L1826.3,258.6 L1829.2,258.6" fill="none" stroke="#8e8e8e" stroke-width="1.1" stroke-linejoin="round"/><path d="M1597.5,291.8 L1598.7,291.6 L1599.8,291.4 L1601,291.3 L1602.1,291.1 L1603.3,290.9 L1604.5,290.7 L1605.6,290.6 L1606.8,290.4 L1607.9,290.2 L1609.1,290 L1610.2,289.8 L1611.4,289.7 L1612.6,289.5 L1613.7,289.3 L1614.9,289.1 L1617.8,288.7 L1620.7,288.2 L1623.6,287.8 L1626.5,287.3 L1629.4,286.9 L1632.3,286.4 L1635.2,286 L1638,285.6 L1640.9,285.1 L1643.8,284.7 L1646.7,284.2 L1649.6,283.8 L1652.5,283.3 L1655.4,282.9 L1658.3,282.4 L1661.2,282 L1664.1,281.5 L1667,281.1 L1669.9,280.7 L1672.8,280.2 L1675.7,279.8 L1678.6,279.3 L1681.5,278.9 L1684.4,278.4 L1687.3,278 L1690.2,277.5 L1693.1,277.1 L1696,276.6 L1698.9,276.2 L1701.8,275.7 L1704.7,275.3 L1707.6,274.9 L1710.5,274.4 L1713.4,274 L1716.2,274 L1719.1,274 L1722,274 L1724.9,274 L1727.8,274 L1730.7,274 L1733.6,274 L1736.5,274 L1739.4,274 L1742.3,274 L1745.2,274 L1748.1,274 L1751,274 L1753.9,274 L1756.8,274 L1759.7,274 L1762.6,274 L1765.5,274 L1768.4,274 L1771.3,274 L1774.2,274 L1777.1,274 L1780,274 L1782.9,274 L1785.8,274 L1788.7,274 L1791.5,274 L1794.4,274 L1797.3,274 L1800.2,274 L1803.1,274 L1806,274 L1808.9,274 L1811.8,274 L1814.7,274 L1817.6,274 L1820.5,274 L1823.4,274 L1826.3,274 L1829.2,274" fill="none" stroke="#8e8e8e" stroke-width="1.1" stroke-linejoin="round"/><path d="M1597.5,113.4 L1597.5,291.8 L1829.2,291.8 M1597.5,291.8 L1597.5,298.6 M1655.4,291.8 L1655.4,298.6 M1713.4,291.8 L1713.4,298.6 M1771.3,291.8 L1771.3,298.6 M1829.2,291.8 L1829.2,298.6 M1597.5,291.8 L1590.7,291.8 M1597.5,247.2 L1590.7,247.2 M1597.5,202.6 L1590.7,202.6 M1597.5,158 L1590.7,158 M1597.5,113.4 L1590.7,113.4" fill="none" stroke="#000" stroke-width="1.7" stroke-linecap="square"/><text x="1587.9" y="296.5" font-size="13.3" text-anchor="end" font-weight="bold" fill="#000">0.0</text><text x="1587.9" y="251.9" font-size="13.3" text-anchor="end" font-weight="bold" fill="#000">0.5</text><text x="1587.9" y="207.3" font-size="13.3" text-anchor="end" font-weight="bold" fill="#000">1.0</text><text x="1587.9" y="162.7" font-size="13.3" text-anchor="end" font-weight="bold" fill="#000">1.5</text><text x="1587.9" y="118.1" font-size="13.3" text-anchor="end" font-weight="bold" fill="#000">2.0</text><text x="1597.5" y="314.1" font-size="13.3" text-anchor="middle" font-weight="bold" fill="#000">0</text><text x="1655.4" y="314.1" font-size="13.3" text-anchor="middle" font-weight="bold" fill="#000">100</text><text x="1713.4" y="314.1" font-size="13.3" text-anchor="middle" font-weight="bold" fill="#000">200</text><text x="1771.3" y="314.1" font-size="13.3" text-anchor="middle" font-weight="bold" fill="#000">300</text><text x="1829.2" y="314.1" font-size="13.3" text-anchor="middle" font-weight="bold" fill="#000">400</text><text x="1713.3" y="336.4" font-size="14.7" text-anchor="middle" font-weight="bold" fill="#000">Time (s)</text><text transform="translate(1561.2,202.6) rotate(-90)" font-size="14.7" text-anchor="middle" font-weight="bold" fill="#000">Binding (nm)</text><text x="1713.3" y="58.6" font-size="16.8" text-anchor="middle" font-weight="bold" fill="#000">WT</text><text x="1713.3" y="88.3" font-size="16.8" text-anchor="middle" font-weight="bold" fill="#000">BI-1C2C</text><text x="1603.5" y="128.3" font-size="14.7" font-weight="bold"><tspan font-style="italic">K</tspan><tspan font-size="10.7" dy="3">D,app</tspan><tspan dy="-3">=2.16 nM</tspan></text><line x1="1845.4" y1="167.4" x2="1863.7" y2="167.4" stroke="#1c1cc4" stroke-width="2.2"/><text x="1874.4" y="172.8" font-size="15" text-anchor="start" font-weight="bold" fill="#000">80 nM</text><line x1="1845.4" y1="192.4" x2="1863.7" y2="192.4" stroke="#2a87a6" stroke-width="2.2"/><text x="1874.4" y="197.8" font-size="15" text-anchor="start" font-weight="bold" fill="#000">40 nM</text><line x1="1845.4" y1="217.4" x2="1863.7" y2="217.4" stroke="#2fe22f" stroke-width="2.2"/><text x="1874.4" y="222.8" font-size="15" text-anchor="start" font-weight="bold" fill="#000">20 nM</text><line x1="1845.4" y1="242.4" x2="1863.7" y2="242.4" stroke="#e61e1e" stroke-width="2.2"/><text x="1874.4" y="247.8" font-size="15" text-anchor="start" font-weight="bold" fill="#000">10 nM</text><line x1="1845.4" y1="267.4" x2="1863.7" y2="267.4" stroke="#d6a060" stroke-width="2.2"/><text x="1874.4" y="272.8" font-size="15" text-anchor="start" font-weight="bold" fill="#000">5 nM</text><path d="M635.2,609.8 L636.4,601.8 L637.5,594.6 L638.7,588.1 L639.8,582.1 L641,576.7 L642.2,571.7 L643.3,567 L644.5,562.7 L645.6,558.8 L646.8,555 L648,551.6 L649.1,548.3 L650.3,545.2 L651.4,542.3 L652.6,539.5 L655.5,533.2 L658.4,527.6 L661.3,522.6 L664.2,518 L667.1,513.9 L670,510.1 L672.9,506.7 L675.8,503.5 L678.7,500.7 L681.6,498 L684.5,495.6 L687.4,493.3 L690.3,491.3 L693.2,489.4 L696.1,487.7 L699,486.1 L701.9,484.6 L704.8,483.2 L707.7,482 L710.6,480.8 L713.5,479.8 L716.4,478.8 L719.3,477.9 L722.2,477.1 L725.1,476.3 L728,475.6 L730.9,475 L733.8,474.4 L736.7,473.8 L739.6,473.3 L742.5,472.9 L745.4,472.5 L748.3,472.1 L751.2,471.7 L754,471.8 L756.9,472 L759.8,472.1 L762.7,472.2 L765.6,472.3 L768.5,472.4 L771.4,472.5 L774.3,472.6 L777.2,472.7 L780.1,472.8 L783,472.9 L785.9,473 L788.8,473.1 L791.7,473.2 L794.6,473.3 L797.5,473.3 L800.4,473.4 L803.3,473.5 L806.2,473.6 L809.1,473.6 L812,473.7 L814.9,473.8 L817.8,473.8 L820.7,473.9 L823.6,473.9 L826.5,474 L829.4,474 L832.3,474.1 L835.2,474.1 L838.1,474.2 L841,474.2 L843.9,474.3 L846.8,474.3 L849.7,474.3 L852.6,474.4 L855.5,474.4 L858.4,474.5 L861.3,474.5 L864.2,474.5 L867.1,474.6" fill="none" stroke="#8a1fb8" stroke-width="2.1" stroke-linejoin="round"/><path d="M635.2,609.8 L636.4,607.2 L637.5,604.7 L638.7,602.2 L639.8,599.7 L641,597.4 L642.2,595 L643.3,592.7 L644.5,590.5 L645.6,588.3 L646.8,586.1 L648,584 L649.1,582 L650.3,579.9 L651.4,578 L652.6,576 L655.5,571.3 L658.4,566.9 L661.3,562.6 L664.2,558.6 L667.1,554.8 L670,551.2 L672.9,547.8 L675.8,544.5 L678.7,541.4 L681.6,538.4 L684.5,535.6 L687.4,533 L690.3,530.5 L693.2,528.1 L696.1,525.8 L699,523.6 L701.9,521.6 L704.8,519.6 L707.7,517.8 L710.6,516 L713.5,514.3 L716.4,512.8 L719.3,511.2 L722.2,509.8 L725.1,508.4 L728,507.2 L730.9,505.9 L733.8,504.8 L736.7,503.7 L739.6,502.6 L742.5,501.6 L745.4,500.7 L748.3,499.8 L751.2,498.9 L754,498.9 L756.9,498.9 L759.8,498.9 L762.7,498.9 L765.6,499 L768.5,499 L771.4,499 L774.3,499 L777.2,499 L780.1,499 L783,499 L785.9,499 L788.8,499 L791.7,499 L794.6,499 L797.5,499 L800.4,499 L803.3,499.1 L806.2,499.1 L809.1,499.1 L812,499.1 L814.9,499.1 L817.8,499.1 L820.7,499.1 L823.6,499.1 L826.5,499.1 L829.4,499.1 L832.3,499.1 L835.2,499.1 L838.1,499.1 L841,499.1 L843.9,499.1 L846.8,499.1 L849.7,499.1 L852.6,499.1 L855.5,499.1 L858.4,499.1 L861.3,499.1 L864.2,499.1 L867.1,499.1" fill="none" stroke="#1c1cc4" stroke-width="2.1" stroke-linejoin="round"/><path d="M635.2,609.8 L636.4,609.3 L637.5,608.8 L638.7,608.2 L639.8,607.7 L641,607.2 L642.2,606.7 L643.3,606.1 L644.5,605.6 L645.6,605.1 L646.8,604.6 L648,604 L649.1,603.5 L650.3,603 L651.4,602.5 L652.6,601.9 L655.5,600.6 L658.4,599.3 L661.3,598 L664.2,596.7 L667.1,595.4 L670,594.1 L672.9,592.8 L675.8,591.5 L678.7,590.2 L681.6,588.9 L684.5,587.5 L687.4,586.2 L690.3,584.9 L693.2,583.6 L696.1,582.3 L699,581 L701.9,579.7 L704.8,578.4 L707.7,577.1 L710.6,575.8 L713.5,574.5 L716.4,573.1 L719.3,571.8 L722.2,570.5 L725.1,569.2 L728,567.9 L730.9,566.6 L733.8,565.3 L736.7,564 L739.6,562.7 L742.5,561.4 L745.4,560.1 L748.3,558.7 L751.2,557.4 L754,557.4 L756.9,557.4 L759.8,557.4 L762.7,557.4 L765.6,557.3 L768.5,557.3 L771.4,557.3 L774.3,557.3 L777.2,557.3 L780.1,557.3 L783,557.2 L785.9,557.2 L788.8,557.2 L791.7,557.2 L794.6,557.2 L797.5,557.2 L800.4,557.2 L803.3,557.1 L806.2,557.1 L809.1,557.1 L812,557.1 L814.9,557.1 L817.8,557.1 L820.7,557.1 L823.6,557.1 L826.5,557.1 L829.4,557.1 L832.3,557 L835.2,557 L838.1,557 L841,557 L843.9,557 L846.8,557 L849.7,557 L852.6,557 L855.5,557 L858.4,557 L861.3,557 L864.2,557 L867.1,557" fill="none" stroke="#2a87a6" stroke-width="2.1" stroke-linejoin="round"/><path d="M635.2,609.8 L636.4,609.6 L637.5,609.4 L638.7,609.2 L639.8,609 L641,608.9 L642.2,608.7 L643.3,608.5 L644.5,608.3 L645.6,608.1 L646.8,607.9 L648,607.7 L649.1,607.5 L650.3,607.3 L651.4,607.1 L652.6,607 L655.5,606.5 L658.4,606 L661.3,605.5 L664.2,605.1 L667.1,604.6 L670,604.1 L672.9,603.6 L675.8,603.2 L678.7,602.7 L681.6,602.2 L684.5,601.7 L687.4,601.3 L690.3,600.8 L693.2,600.3 L696.1,599.8 L699,599.4 L701.9,598.9 L704.8,598.4 L707.7,597.9 L710.6,597.5 L713.5,597 L716.4,596.5 L719.3,596 L722.2,595.6 L725.1,595.1 L728,594.6 L730.9,594.1 L733.8,593.7 L736.7,593.2 L739.6,592.7 L742.5,592.2 L745.4,591.8 L748.3,591.3 L751.2,590.8 L754,590.7 L756.9,590.7 L759.8,590.6 L762.7,590.6 L765.6,590.5 L768.5,590.5 L771.4,590.5 L774.3,590.4 L777.2,590.4 L780.1,590.3 L783,590.3 L785.9,590.3 L788.8,590.2 L791.7,590.2 L794.6,590.2 L797.5,590.1 L800.4,590.1 L803.3,590.1 L806.2,590 L809.1,590 L812,590 L814.9,590 L817.8,589.9 L820.7,589.9 L823.6,589.9 L826.5,589.9 L829.4,589.8 L832.3,589.8 L835.2,589.8 L838.1,589.8 L841,589.8 L843.9,589.7 L846.8,589.7 L849.7,589.7 L852.6,589.7 L855.5,589.7 L858.4,589.7 L861.3,589.6 L864.2,589.6 L867.1,589.6" fill="none" stroke="#2fe22f" stroke-width="2.1" stroke-linejoin="round"/><path d="M635.2,609.8 L636.4,609.7 L637.5,609.6 L638.7,609.5 L639.8,609.4 L641,609.3 L642.2,609.2 L643.3,609.1 L644.5,609 L645.6,608.9 L646.8,608.8 L648,608.7 L649.1,608.6 L650.3,608.5 L651.4,608.4 L652.6,608.3 L655.5,608 L658.4,607.8 L661.3,607.5 L664.2,607.2 L667.1,607 L670,606.7 L672.9,606.5 L675.8,606.2 L678.7,606 L681.6,605.7 L684.5,605.5 L687.4,605.2 L690.3,604.9 L693.2,604.7 L696.1,604.4 L699,604.2 L701.9,603.9 L704.8,603.7 L707.7,603.4 L710.6,603.2 L713.5,602.9 L716.4,602.7 L719.3,602.4 L722.2,602.1 L725.1,601.9 L728,601.6 L730.9,601.4 L733.8,601.1 L736.7,600.9 L739.6,600.6 L742.5,600.4 L745.4,600.1 L748.3,599.8 L751.2,599.6 L754,599.5 L756.9,599.5 L759.8,599.4 L762.7,599.4 L765.6,599.3 L768.5,599.3 L771.4,599.2 L774.3,599.2 L777.2,599.2 L780.1,599.1 L783,599.1 L785.9,599 L788.8,599 L791.7,599 L794.6,598.9 L797.5,598.9 L800.4,598.9 L803.3,598.8 L806.2,598.8 L809.1,598.8 L812,598.8 L814.9,598.7 L817.8,598.7 L820.7,598.7 L823.6,598.7 L826.5,598.6 L829.4,598.6 L832.3,598.6 L835.2,598.6 L838.1,598.6 L841,598.5 L843.9,598.5 L846.8,598.5 L849.7,598.5 L852.6,598.5 L855.5,598.5 L858.4,598.4 L861.3,598.4 L864.2,598.4 L867.1,598.4" fill="none" stroke="#e61e1e" stroke-width="2.1" stroke-linejoin="round"/><path d="M635.2,609.8 L636.4,609.7 L637.5,609.7 L638.7,609.6 L639.8,609.5 L641,609.5 L642.2,609.4 L643.3,609.3 L644.5,609.3 L645.6,609.2 L646.8,609.1 L648,609.1 L649.1,609 L650.3,608.9 L651.4,608.9 L652.6,608.8 L655.5,608.6 L658.4,608.5 L661.3,608.3 L664.2,608.1 L667.1,608 L670,607.8 L672.9,607.6 L675.8,607.5 L678.7,607.3 L681.6,607.1 L684.5,607 L687.4,606.8 L690.3,606.6 L693.2,606.5 L696.1,606.3 L699,606.1 L701.9,606 L704.8,605.8 L707.7,605.6 L710.6,605.5 L713.5,605.3 L716.4,605.1 L719.3,605 L722.2,604.8 L725.1,604.6 L728,604.5 L730.9,604.3 L733.8,604.1 L736.7,604 L739.6,603.8 L742.5,603.6 L745.4,603.5 L748.3,603.3 L751.2,603.2 L754,603.1 L756.9,603 L759.8,603 L762.7,602.9 L765.6,602.9 L768.5,602.8 L771.4,602.8 L774.3,602.8 L777.2,602.7 L780.1,602.7 L783,602.6 L785.9,602.6 L788.8,602.6 L791.7,602.5 L794.6,602.5 L797.5,602.5 L800.4,602.4 L803.3,602.4 L806.2,602.4 L809.1,602.4 L812,602.3 L814.9,602.3 L817.8,602.3 L820.7,602.3 L823.6,602.2 L826.5,602.2 L829.4,602.2 L832.3,602.2 L835.2,602.1 L838.1,602.1 L841,602.1 L843.9,602.1 L846.8,602.1 L849.7,602.1 L852.6,602 L855.5,602 L858.4,602 L861.3,602 L864.2,602 L867.1,602" fill="none" stroke="#d6a060" stroke-width="2.1" stroke-linejoin="round"/><path d="M635.2,609.8 L636.4,602.2 L637.5,595.3 L638.7,589 L639.8,583.2 L641,577.9 L642.2,573 L643.3,568.4 L644.5,564.1 L645.6,560.2 L646.8,556.4 L648,552.9 L649.1,549.6 L650.3,546.5 L651.4,543.6 L652.6,540.8 L655.5,534.3 L658.4,528.6 L661.3,523.5 L664.2,518.9 L667.1,514.7 L670,510.9 L672.9,507.5 L675.8,504.3 L678.7,501.4 L681.6,498.8 L684.5,496.4 L687.4,494.3 L690.3,492.3 L693.2,490.4 L696.1,488.8 L699,487.2 L701.9,485.8 L704.8,484.5 L707.7,483.4 L710.6,482.3 L713.5,481.3 L716.4,480.4 L719.3,479.6 L722.2,478.9 L725.1,478.2 L728,477.5 L730.9,477 L733.8,476.4 L736.7,476 L739.6,475.5 L742.5,475.1 L745.4,474.7 L748.3,474.4 L751.2,474.1 L754,474.2 L756.9,474.3 L759.8,474.5 L762.7,474.6 L765.6,474.7 L768.5,474.8 L771.4,474.9 L774.3,475 L777.2,475.1 L780.1,475.2 L783,475.3 L785.9,475.4 L788.8,475.5 L791.7,475.6 L794.6,475.6 L797.5,475.7 L800.4,475.8 L803.3,475.9 L806.2,475.9 L809.1,476 L812,476.1 L814.9,476.1 L817.8,476.2 L820.7,476.2 L823.6,476.3 L826.5,476.4 L829.4,476.4 L832.3,476.5 L835.2,476.5 L838.1,476.6 L841,476.6 L843.9,476.6 L846.8,476.7 L849.7,476.7 L852.6,476.8 L855.5,476.8 L858.4,476.8 L861.3,476.9 L864.2,476.9 L867.1,476.9" fill="none" stroke="#8e8e8e" stroke-width="1.1" stroke-linejoin="round"/><path d="M635.2,609.8 L636.4,607.2 L637.5,604.6 L638.7,602.1 L639.8,599.6 L641,597.2 L642.2,594.9 L643.3,592.6 L644.5,590.3 L645.6,588.1 L646.8,585.9 L648,583.8 L649.1,581.7 L650.3,579.7 L651.4,577.7 L652.6,575.7 L655.5,571 L658.4,566.6 L661.3,562.3 L664.2,558.3 L667.1,554.5 L670,550.9 L672.9,547.5 L675.8,544.2 L678.7,541.1 L681.6,538.2 L684.5,535.4 L687.4,532.8 L690.3,530.3 L693.2,528 L696.1,525.7 L699,523.6 L701.9,521.6 L704.8,519.6 L707.7,517.8 L710.6,516.1 L713.5,514.5 L716.4,512.9 L719.3,511.4 L722.2,510.1 L725.1,508.7 L728,507.5 L730.9,506.3 L733.8,505.2 L736.7,504.1 L739.6,503.1 L742.5,502.1 L745.4,501.2 L748.3,500.3 L751.2,499.5 L754,499.5 L756.9,499.5 L759.8,499.5 L762.7,499.5 L765.6,499.5 L768.5,499.6 L771.4,499.6 L774.3,499.6 L777.2,499.6 L780.1,499.6 L783,499.6 L785.9,499.6 L788.8,499.6 L791.7,499.6 L794.6,499.6 L797.5,499.6 L800.4,499.6 L803.3,499.6 L806.2,499.7 L809.1,499.7 L812,499.7 L814.9,499.7 L817.8,499.7 L820.7,499.7 L823.6,499.7 L826.5,499.7 L829.4,499.7 L832.3,499.7 L835.2,499.7 L838.1,499.7 L841,499.7 L843.9,499.7 L846.8,499.7 L849.7,499.7 L852.6,499.7 L855.5,499.7 L858.4,499.7 L861.3,499.7 L864.2,499.7 L867.1,499.7" fill="none" stroke="#8e8e8e" stroke-width="1.1" stroke-linejoin="round"/><path d="M635.2,609.8 L636.4,609.3 L637.5,608.8 L638.7,608.2 L639.8,607.7 L641,607.2 L642.2,606.7 L643.3,606.2 L644.5,605.7 L645.6,605.1 L646.8,604.6 L648,604.1 L649.1,603.6 L650.3,603.1 L651.4,602.6 L652.6,602 L655.5,600.7 L658.4,599.4 L661.3,598.2 L664.2,596.9 L667.1,595.6 L670,594.3 L672.9,593 L675.8,591.7 L678.7,590.4 L681.6,589.1 L684.5,587.8 L687.4,586.5 L690.3,585.2 L693.2,583.9 L696.1,582.6 L699,581.3 L701.9,580 L704.8,578.7 L707.7,577.4 L710.6,576.2 L713.5,574.9 L716.4,573.6 L719.3,572.3 L722.2,571 L725.1,569.7 L728,568.4 L730.9,567.1 L733.8,565.8 L736.7,564.5 L739.6,563.2 L742.5,561.9 L745.4,560.6 L748.3,559.3 L751.2,558 L754,558 L756.9,558 L759.8,558 L762.7,557.9 L765.6,557.9 L768.5,557.9 L771.4,557.9 L774.3,557.9 L777.2,557.9 L780.1,557.8 L783,557.8 L785.9,557.8 L788.8,557.8 L791.7,557.8 L794.6,557.8 L797.5,557.8 L800.4,557.7 L803.3,557.7 L806.2,557.7 L809.1,557.7 L812,557.7 L814.9,557.7 L817.8,557.7 L820.7,557.7 L823.6,557.7 L826.5,557.7 L829.4,557.6 L832.3,557.6 L835.2,557.6 L838.1,557.6 L841,557.6 L843.9,557.6 L846.8,557.6 L849.7,557.6 L852.6,557.6 L855.5,557.6 L858.4,557.6 L861.3,557.6 L864.2,557.6 L867.1,557.6" fill="none" stroke="#8e8e8e" stroke-width="1.1" stroke-linejoin="round"/><path d="M635.2,609.8 L636.4,609.6 L637.5,609.4 L638.7,609.3 L639.8,609.1 L641,608.9 L642.2,608.7 L643.3,608.6 L644.5,608.4 L645.6,608.2 L646.8,608 L648,607.8 L649.1,607.7 L650.3,607.5 L651.4,607.3 L652.6,607.1 L655.5,606.7 L658.4,606.2 L661.3,605.8 L664.2,605.3 L667.1,604.9 L670,604.5 L672.9,604 L675.8,603.6 L678.7,603.1 L681.6,602.7 L684.5,602.2 L687.4,601.8 L690.3,601.3 L693.2,600.9 L696.1,600.4 L699,600 L701.9,599.6 L704.8,599.1 L707.7,598.7 L710.6,598.2 L713.5,597.8 L716.4,597.3 L719.3,596.9 L722.2,596.4 L725.1,596 L728,595.6 L730.9,595.1 L733.8,594.7 L736.7,594.2 L739.6,593.8 L742.5,593.3 L745.4,592.9 L748.3,592.4 L751.2,592 L754,591.9 L756.9,591.9 L759.8,591.8 L762.7,591.8 L765.6,591.7 L768.5,591.7 L771.4,591.6 L774.3,591.6 L777.2,591.6 L780.1,591.5 L783,591.5 L785.9,591.4 L788.8,591.4 L791.7,591.4 L794.6,591.3 L797.5,591.3 L800.4,591.3 L803.3,591.2 L806.2,591.2 L809.1,591.2 L812,591.2 L814.9,591.1 L817.8,591.1 L820.7,591.1 L823.6,591.1 L826.5,591 L829.4,591 L832.3,591 L835.2,591 L838.1,591 L841,590.9 L843.9,590.9 L846.8,590.9 L849.7,590.9 L852.6,590.9 L855.5,590.9 L858.4,590.8 L861.3,590.8 L864.2,590.8 L867.1,590.8" fill="none" stroke="#8e8e8e" stroke-width="1.1" stroke-linejoin="round"/><path d="M635.2,609.8 L636.4,609.7 L637.5,609.6 L638.7,609.6 L639.8,609.5 L641,609.4 L642.2,609.3 L643.3,609.3 L644.5,609.2 L645.6,609.1 L646.8,609 L648,608.9 L649.1,608.9 L650.3,608.8 L651.4,608.7 L652.6,608.6 L655.5,608.4 L658.4,608.2 L661.3,608 L664.2,607.8 L667.1,607.6 L670,607.4 L672.9,607.3 L675.8,607.1 L678.7,606.9 L681.6,606.7 L684.5,606.5 L687.4,606.3 L690.3,606.1 L693.2,605.9 L696.1,605.7 L699,605.5 L701.9,605.3 L704.8,605.1 L707.7,604.9 L710.6,604.7 L713.5,604.5 L716.4,604.3 L719.3,604.1 L722.2,603.9 L725.1,603.7 L728,603.5 L730.9,603.3 L733.8,603.1 L736.7,602.9 L739.6,602.7 L742.5,602.6 L745.4,602.4 L748.3,602.2 L751.2,602 L754,601.9 L756.9,601.9 L759.8,601.8 L762.7,601.8 L765.6,601.7 L768.5,601.7 L771.4,601.6 L774.3,601.6 L777.2,601.5 L780.1,601.5 L783,601.5 L785.9,601.4 L788.8,601.4 L791.7,601.3 L794.6,601.3 L797.5,601.3 L800.4,601.3 L803.3,601.2 L806.2,601.2 L809.1,601.2 L812,601.1 L814.9,601.1 L817.8,601.1 L820.7,601.1 L823.6,601 L826.5,601 L829.4,601 L832.3,601 L835.2,601 L838.1,600.9 L841,600.9 L843.9,600.9 L846.8,600.9 L849.7,600.9 L852.6,600.8 L855.5,600.8 L858.4,600.8 L861.3,600.8 L864.2,600.8 L867.1,600.8" fill="none" stroke="#8e8e8e" stroke-width="1.1" stroke-linejoin="round"/><path d="M635.2,609.8 L636.4,609.8 L637.5,609.7 L638.7,609.7 L639.8,609.6 L641,609.6 L642.2,609.5 L643.3,609.5 L644.5,609.4 L645.6,609.4 L646.8,609.3 L648,609.3 L649.1,609.2 L650.3,609.2 L651.4,609.1 L652.6,609.1 L655.5,608.9 L658.4,608.8 L661.3,608.7 L664.2,608.6 L667.1,608.5 L670,608.3 L672.9,608.2 L675.8,608.1 L678.7,608 L681.6,607.9 L684.5,607.7 L687.4,607.6 L690.3,607.5 L693.2,607.4 L696.1,607.2 L699,607.1 L701.9,607 L704.8,606.9 L707.7,606.8 L710.6,606.6 L713.5,606.5 L716.4,606.4 L719.3,606.3 L722.2,606.1 L725.1,606 L728,605.9 L730.9,605.8 L733.8,605.7 L736.7,605.5 L739.6,605.4 L742.5,605.3 L745.4,605.2 L748.3,605.1 L751.2,604.9 L754,604.9 L756.9,604.8 L759.8,604.8 L762.7,604.7 L765.6,604.7 L768.5,604.6 L771.4,604.6 L774.3,604.5 L777.2,604.5 L780.1,604.5 L783,604.4 L785.9,604.4 L788.8,604.4 L791.7,604.3 L794.6,604.3 L797.5,604.3 L800.4,604.2 L803.3,604.2 L806.2,604.2 L809.1,604.1 L812,604.1 L814.9,604.1 L817.8,604.1 L820.7,604 L823.6,604 L826.5,604 L829.4,604 L832.3,603.9 L835.2,603.9 L838.1,603.9 L841,603.9 L843.9,603.9 L846.8,603.9 L849.7,603.8 L852.6,603.8 L855.5,603.8 L858.4,603.8 L861.3,603.8 L864.2,603.8 L867.1,603.7" fill="none" stroke="#8e8e8e" stroke-width="1.1" stroke-linejoin="round"/><path d="M635.2,431.7 L635.2,609.8 L867.1,609.8 M635.2,609.8 L635.2,616.6 M693.2,609.8 L693.2,616.6 M751.2,609.8 L751.2,616.6 M809.1,609.8 L809.1,616.6 M867.1,609.8 L867.1,616.6 M635.2,609.8 L628.4,609.8 M635.2,550.4 L628.4,550.4 M635.2,491.1 L628.4,491.1 M635.2,431.7 L628.4,431.7" fill="none" stroke="#000" stroke-width="1.7" stroke-linecap="square"/><text x="625.6" y="614.5" font-size="13.3" text-anchor="end" font-weight="bold" fill="#000">0.0</text><text x="625.6" y="555.1" font-size="13.3" text-anchor="end" font-weight="bold" fill="#000">0.5</text><text x="625.6" y="495.8" font-size="13.3" text-anchor="end" font-weight="bold" fill="#000">1.0</text><text x="625.6" y="436.4" font-size="13.3" text-anchor="end" font-weight="bold" fill="#000">1.5</text><text x="635.2" y="632.6" font-size="13.3" text-anchor="middle" font-weight="bold" fill="#000">0</text><text x="693.2" y="632.6" font-size="13.3" text-anchor="middle" font-weight="bold" fill="#000">100</text><text x="751.2" y="632.6" font-size="13.3" text-anchor="middle" font-weight="bold" fill="#000">200</text><text x="809.1" y="632.6" font-size="13.3" text-anchor="middle" font-weight="bold" fill="#000">300</text><text x="867.1" y="632.6" font-size="13.3" text-anchor="middle" font-weight="bold" fill="#000">400</text><text x="751.2" y="655.2" font-size="14.7" text-anchor="middle" font-weight="bold" fill="#000">Time (s)</text><text transform="translate(598.9,520.8) rotate(-90)" font-size="14.7" text-anchor="middle" font-weight="bold" fill="#000">Binding (nm)</text><text x="751.2" y="378.6" font-size="16.8" text-anchor="middle" font-weight="bold" fill="#000">Omicron BA.4/BA.5</text><text x="751.2" y="409" font-size="16.8" text-anchor="middle" font-weight="bold" fill="#000">BI-2C5B</text><text x="643.3" y="444.8" font-size="14.7" font-weight="bold"><tspan font-style="italic">K</tspan><tspan font-size="10.7" dy="3">D,app</tspan><tspan dy="-3">=13.5 nM</tspan></text><path d="M952.6,609.8 L953.8,603.9 L954.9,598.6 L956.1,593.9 L957.2,589.6 L958.4,585.7 L959.6,582.1 L960.7,578.8 L961.9,575.8 L963,573 L964.2,570.3 L965.4,567.8 L966.5,565.5 L967.7,563.3 L968.9,561.2 L970,559.2 L972.9,554.5 L975.8,550.2 L978.7,546.3 L981.6,542.7 L984.5,539.2 L987.4,536 L990.3,532.9 L993.2,530 L996.1,527.3 L999,524.7 L1001.9,522.2 L1004.8,519.8 L1007.7,517.5 L1010.6,515.4 L1013.6,513.3 L1016.5,511.3 L1019.4,509.5 L1022.3,507.7 L1025.2,506 L1028.1,504.4 L1031,502.8 L1033.9,501.3 L1036.8,499.9 L1039.7,498.6 L1042.6,497.3 L1045.5,496.1 L1048.4,494.9 L1051.3,493.8 L1054.2,492.7 L1057.1,491.7 L1060,490.7 L1062.9,489.8 L1065.8,488.9 L1068.7,488.1 L1071.6,488.4 L1074.5,488.7 L1077.4,488.9 L1080.3,489.2 L1083.2,489.4 L1086.1,489.7 L1089,489.9 L1091.9,490.1 L1094.8,490.3 L1097.7,490.5 L1100.6,490.7 L1103.5,490.9 L1106.4,491.1 L1109.3,491.3 L1112.2,491.5 L1115.1,491.6 L1118,491.8 L1120.9,491.9 L1123.8,492.1 L1126.8,492.2 L1129.7,492.4 L1132.6,492.5 L1135.5,492.6 L1138.4,492.8 L1141.3,492.9 L1144.2,493 L1147.1,493.1 L1150,493.2 L1152.9,493.3 L1155.8,493.4 L1158.7,493.5 L1161.6,493.6 L1164.5,493.7 L1167.4,493.8 L1170.3,493.9 L1173.2,494 L1176.1,494.1 L1179,494.1 L1181.9,494.2 L1184.8,494.3" fill="none" stroke="#8a1fb8" stroke-width="2.1" stroke-linejoin="round"/><path d="M952.6,609.8 L953.8,608.3 L954.9,606.7 L956.1,605.2 L957.2,603.7 L958.4,602.2 L959.6,600.8 L960.7,599.3 L961.9,597.9 L963,596.5 L964.2,595.1 L965.4,593.7 L966.5,592.4 L967.7,591 L968.9,589.7 L970,588.4 L972.9,585.2 L975.8,582 L978.7,579 L981.6,576 L984.5,573.1 L987.4,570.4 L990.3,567.6 L993.2,565 L996.1,562.4 L999,560 L1001.9,557.5 L1004.8,555.2 L1007.7,552.9 L1010.6,550.7 L1013.6,548.5 L1016.5,546.4 L1019.4,544.4 L1022.3,542.4 L1025.2,540.5 L1028.1,538.6 L1031,536.8 L1033.9,535.1 L1036.8,533.3 L1039.7,531.7 L1042.6,530.1 L1045.5,528.5 L1048.4,527 L1051.3,525.5 L1054.2,524 L1057.1,522.6 L1060,521.3 L1062.9,520 L1065.8,518.7 L1068.7,517.4 L1071.6,517.5 L1074.5,517.6 L1077.4,517.7 L1080.3,517.8 L1083.2,517.8 L1086.1,517.9 L1089,518 L1091.9,518 L1094.8,518.1 L1097.7,518.2 L1100.6,518.2 L1103.5,518.3 L1106.4,518.4 L1109.3,518.4 L1112.2,518.5 L1115.1,518.5 L1118,518.6 L1120.9,518.6 L1123.8,518.7 L1126.8,518.7 L1129.7,518.7 L1132.6,518.8 L1135.5,518.8 L1138.4,518.9 L1141.3,518.9 L1144.2,518.9 L1147.1,519 L1150,519 L1152.9,519 L1155.8,519.1 L1158.7,519.1 L1161.6,519.1 L1164.5,519.2 L1167.4,519.2 L1170.3,519.2 L1173.2,519.2 L1176.1,519.3 L1179,519.3 L1181.9,519.3 L1184.8,519.3" fill="none" stroke="#1c1cc4" stroke-width="2.1" stroke-linejoin="round"/><path d="M952.6,609.8 L953.8,609.4 L954.9,609 L956.1,608.6 L957.2,608.2 L958.4,607.8 L959.6,607.4 L960.7,606.9 L961.9,606.5 L963,606.1 L964.2,605.7 L965.4,605.3 L966.5,604.9 L967.7,604.5 L968.9,604.1 L970,603.7 L972.9,602.7 L975.8,601.7 L978.7,600.6 L981.6,599.6 L984.5,598.6 L987.4,597.6 L990.3,596.6 L993.2,595.5 L996.1,594.5 L999,593.5 L1001.9,592.5 L1004.8,591.5 L1007.7,590.5 L1010.6,589.4 L1013.6,588.4 L1016.5,587.4 L1019.4,586.4 L1022.3,585.4 L1025.2,584.3 L1028.1,583.3 L1031,582.3 L1033.9,581.3 L1036.8,580.3 L1039.7,579.3 L1042.6,578.2 L1045.5,577.2 L1048.4,576.2 L1051.3,575.2 L1054.2,574.2 L1057.1,573.1 L1060,572.1 L1062.9,571.1 L1065.8,570.1 L1068.7,569.1 L1071.6,569.1 L1074.5,569 L1077.4,569 L1080.3,569 L1083.2,569 L1086.1,569 L1089,568.9 L1091.9,568.9 L1094.8,568.9 L1097.7,568.9 L1100.6,568.9 L1103.5,568.9 L1106.4,568.8 L1109.3,568.8 L1112.2,568.8 L1115.1,568.8 L1118,568.8 L1120.9,568.8 L1123.8,568.8 L1126.8,568.8 L1129.7,568.7 L1132.6,568.7 L1135.5,568.7 L1138.4,568.7 L1141.3,568.7 L1144.2,568.7 L1147.1,568.7 L1150,568.7 L1152.9,568.7 L1155.8,568.7 L1158.7,568.7 L1161.6,568.6 L1164.5,568.6 L1167.4,568.6 L1170.3,568.6 L1173.2,568.6 L1176.1,568.6 L1179,568.6 L1181.9,568.6 L1184.8,568.6" fill="none" stroke="#2a87a6" stroke-width="2.1" stroke-linejoin="round"/><path d="M952.6,609.8 L953.8,609.7 L954.9,609.5 L956.1,609.4 L957.2,609.2 L958.4,609.1 L959.6,608.9 L960.7,608.8 L961.9,608.6 L963,608.5 L964.2,608.3 L965.4,608.2 L966.5,608 L967.7,607.9 L968.9,607.7 L970,607.6 L972.9,607.2 L975.8,606.8 L978.7,606.4 L981.6,606.1 L984.5,605.7 L987.4,605.3 L990.3,604.9 L993.2,604.6 L996.1,604.2 L999,603.8 L1001.9,603.4 L1004.8,603.1 L1007.7,602.7 L1010.6,602.3 L1013.6,601.9 L1016.5,601.6 L1019.4,601.2 L1022.3,600.8 L1025.2,600.4 L1028.1,600.1 L1031,599.7 L1033.9,599.3 L1036.8,599 L1039.7,598.6 L1042.6,598.2 L1045.5,597.8 L1048.4,597.5 L1051.3,597.1 L1054.2,596.7 L1057.1,596.3 L1060,596 L1062.9,595.6 L1065.8,595.2 L1068.7,594.8 L1071.6,594.8 L1074.5,594.7 L1077.4,594.6 L1080.3,594.5 L1083.2,594.4 L1086.1,594.4 L1089,594.3 L1091.9,594.2 L1094.8,594.2 L1097.7,594.1 L1100.6,594 L1103.5,594 L1106.4,593.9 L1109.3,593.9 L1112.2,593.8 L1115.1,593.8 L1118,593.7 L1120.9,593.7 L1123.8,593.6 L1126.8,593.6 L1129.7,593.5 L1132.6,593.5 L1135.5,593.4 L1138.4,593.4 L1141.3,593.4 L1144.2,593.3 L1147.1,593.3 L1150,593.3 L1152.9,593.2 L1155.8,593.2 L1158.7,593.2 L1161.6,593.1 L1164.5,593.1 L1167.4,593.1 L1170.3,593.1 L1173.2,593 L1176.1,593 L1179,593 L1181.9,593 L1184.8,592.9" fill="none" stroke="#2fe22f" stroke-width="2.1" stroke-linejoin="round"/><path d="M952.6,609.8 L953.8,609.7 L954.9,609.7 L956.1,609.6 L957.2,609.5 L958.4,609.4 L959.6,609.4 L960.7,609.3 L961.9,609.2 L963,609.2 L964.2,609.1 L965.4,609 L966.5,608.9 L967.7,608.9 L968.9,608.8 L970,608.7 L972.9,608.6 L975.8,608.4 L978.7,608.2 L981.6,608 L984.5,607.8 L987.4,607.7 L990.3,607.5 L993.2,607.3 L996.1,607.1 L999,607 L1001.9,606.8 L1004.8,606.6 L1007.7,606.4 L1010.6,606.2 L1013.6,606.1 L1016.5,605.9 L1019.4,605.7 L1022.3,605.5 L1025.2,605.3 L1028.1,605.2 L1031,605 L1033.9,604.8 L1036.8,604.6 L1039.7,604.5 L1042.6,604.3 L1045.5,604.1 L1048.4,603.9 L1051.3,603.7 L1054.2,603.6 L1057.1,603.4 L1060,603.2 L1062.9,603 L1065.8,602.9 L1068.7,602.7 L1071.6,602.6 L1074.5,602.5 L1077.4,602.4 L1080.3,602.3 L1083.2,602.3 L1086.1,602.2 L1089,602.1 L1091.9,602.1 L1094.8,602 L1097.7,601.9 L1100.6,601.9 L1103.5,601.8 L1106.4,601.7 L1109.3,601.7 L1112.2,601.6 L1115.1,601.6 L1118,601.5 L1120.9,601.5 L1123.8,601.4 L1126.8,601.4 L1129.7,601.4 L1132.6,601.3 L1135.5,601.3 L1138.4,601.2 L1141.3,601.2 L1144.2,601.2 L1147.1,601.1 L1150,601.1 L1152.9,601.1 L1155.8,601 L1158.7,601 L1161.6,601 L1164.5,600.9 L1167.4,600.9 L1170.3,600.9 L1173.2,600.9 L1176.1,600.8 L1179,600.8 L1181.9,600.8 L1184.8,600.8" fill="none" stroke="#e61e1e" stroke-width="2.1" stroke-linejoin="round"/><path d="M952.6,609.8 L953.8,609.7 L954.9,609.7 L956.1,609.6 L957.2,609.5 L958.4,609.5 L959.6,609.4 L960.7,609.3 L961.9,609.3 L963,609.2 L964.2,609.1 L965.4,609.1 L966.5,609 L967.7,608.9 L968.9,608.9 L970,608.8 L972.9,608.6 L975.8,608.5 L978.7,608.3 L981.6,608.1 L984.5,608 L987.4,607.8 L990.3,607.6 L993.2,607.5 L996.1,607.3 L999,607.1 L1001.9,607 L1004.8,606.8 L1007.7,606.6 L1010.6,606.5 L1013.6,606.3 L1016.5,606.1 L1019.4,606 L1022.3,605.8 L1025.2,605.6 L1028.1,605.5 L1031,605.3 L1033.9,605.1 L1036.8,605 L1039.7,604.8 L1042.6,604.6 L1045.5,604.5 L1048.4,604.3 L1051.3,604.1 L1054.2,604 L1057.1,603.8 L1060,603.6 L1062.9,603.5 L1065.8,603.3 L1068.7,603.2 L1071.6,603.2 L1074.5,603.3 L1077.4,603.3 L1080.3,603.4 L1083.2,603.4 L1086.1,603.5 L1089,603.5 L1091.9,603.5 L1094.8,603.6 L1097.7,603.6 L1100.6,603.7 L1103.5,603.7 L1106.4,603.7 L1109.3,603.8 L1112.2,603.8 L1115.1,603.8 L1118,603.9 L1120.9,603.9 L1123.8,603.9 L1126.8,603.9 L1129.7,604 L1132.6,604 L1135.5,604 L1138.4,604 L1141.3,604.1 L1144.2,604.1 L1147.1,604.1 L1150,604.1 L1152.9,604.2 L1155.8,604.2 L1158.7,604.2 L1161.6,604.2 L1164.5,604.2 L1167.4,604.2 L1170.3,604.3 L1173.2,604.3 L1176.1,604.3 L1179,604.3 L1181.9,604.3 L1184.8,604.3" fill="none" stroke="#d6a060" stroke-width="2.1" stroke-linejoin="round"/><path d="M952.6,609.8 L953.8,604.3 L954.9,599.4 L956.1,594.9 L957.2,590.8 L958.4,587.1 L959.6,583.6 L960.7,580.4 L961.9,577.4 L963,574.6 L964.2,572 L965.4,569.5 L966.5,567.1 L967.7,564.9 L968.9,562.7 L970,560.7 L972.9,555.9 L975.8,551.5 L978.7,547.5 L981.6,543.7 L984.5,540.2 L987.4,536.8 L990.3,533.7 L993.2,530.7 L996.1,527.9 L999,525.2 L1001.9,522.7 L1004.8,520.3 L1007.7,518 L1010.6,515.8 L1013.6,513.7 L1016.5,511.8 L1019.4,509.9 L1022.3,508.1 L1025.2,506.5 L1028.1,504.9 L1031,503.3 L1033.9,501.9 L1036.8,500.5 L1039.7,499.2 L1042.6,498 L1045.5,496.8 L1048.4,495.7 L1051.3,494.6 L1054.2,493.6 L1057.1,492.7 L1060,491.8 L1062.9,490.9 L1065.8,490.1 L1068.7,489.3 L1071.6,489.6 L1074.5,489.8 L1077.4,490.1 L1080.3,490.4 L1083.2,490.6 L1086.1,490.9 L1089,491.1 L1091.9,491.3 L1094.8,491.5 L1097.7,491.7 L1100.6,491.9 L1103.5,492.1 L1106.4,492.3 L1109.3,492.5 L1112.2,492.7 L1115.1,492.8 L1118,493 L1120.9,493.1 L1123.8,493.3 L1126.8,493.4 L1129.7,493.6 L1132.6,493.7 L1135.5,493.8 L1138.4,494 L1141.3,494.1 L1144.2,494.2 L1147.1,494.3 L1150,494.4 L1152.9,494.5 L1155.8,494.6 L1158.7,494.7 L1161.6,494.8 L1164.5,494.9 L1167.4,495 L1170.3,495.1 L1173.2,495.2 L1176.1,495.2 L1179,495.3 L1181.9,495.4 L1184.8,495.5" fill="none" stroke="#8e8e8e" stroke-width="1.1" stroke-linejoin="round"/><path d="M952.6,609.8 L953.8,608.2 L954.9,606.7 L956.1,605.2 L957.2,603.7 L958.4,602.2 L959.6,600.7 L960.7,599.2 L961.9,597.8 L963,596.4 L964.2,595 L965.4,593.6 L966.5,592.2 L967.7,590.9 L968.9,589.5 L970,588.2 L972.9,585 L975.8,581.8 L978.7,578.8 L981.6,575.8 L984.5,572.9 L987.4,570.2 L990.3,567.4 L993.2,564.8 L996.1,562.3 L999,559.8 L1001.9,557.4 L1004.8,555.1 L1007.7,552.8 L1010.6,550.6 L1013.6,548.5 L1016.5,546.4 L1019.4,544.4 L1022.3,542.4 L1025.2,540.6 L1028.1,538.7 L1031,536.9 L1033.9,535.2 L1036.8,533.5 L1039.7,531.9 L1042.6,530.3 L1045.5,528.8 L1048.4,527.3 L1051.3,525.8 L1054.2,524.4 L1057.1,523.1 L1060,521.8 L1062.9,520.5 L1065.8,519.2 L1068.7,518 L1071.6,518.1 L1074.5,518.2 L1077.4,518.3 L1080.3,518.4 L1083.2,518.4 L1086.1,518.5 L1089,518.6 L1091.9,518.6 L1094.8,518.7 L1097.7,518.8 L1100.6,518.8 L1103.5,518.9 L1106.4,518.9 L1109.3,519 L1112.2,519.1 L1115.1,519.1 L1118,519.2 L1120.9,519.2 L1123.8,519.3 L1126.8,519.3 L1129.7,519.3 L1132.6,519.4 L1135.5,519.4 L1138.4,519.5 L1141.3,519.5 L1144.2,519.5 L1147.1,519.6 L1150,519.6 L1152.9,519.6 L1155.8,519.7 L1158.7,519.7 L1161.6,519.7 L1164.5,519.7 L1167.4,519.8 L1170.3,519.8 L1173.2,519.8 L1176.1,519.9 L1179,519.9 L1181.9,519.9 L1184.8,519.9" fill="none" stroke="#8e8e8e" stroke-width="1.1" stroke-linejoin="round"/><path d="M952.6,609.8 L953.8,609.4 L954.9,609 L956.1,608.6 L957.2,608.2 L958.4,607.8 L959.6,607.4 L960.7,607 L961.9,606.6 L963,606.2 L964.2,605.8 L965.4,605.4 L966.5,605 L967.7,604.6 L968.9,604.2 L970,603.8 L972.9,602.8 L975.8,601.8 L978.7,600.8 L981.6,599.8 L984.5,598.8 L987.4,597.8 L990.3,596.8 L993.2,595.8 L996.1,594.8 L999,593.7 L1001.9,592.7 L1004.8,591.7 L1007.7,590.7 L1010.6,589.7 L1013.6,588.7 L1016.5,587.7 L1019.4,586.7 L1022.3,585.7 L1025.2,584.7 L1028.1,583.7 L1031,582.7 L1033.9,581.7 L1036.8,580.7 L1039.7,579.7 L1042.6,578.7 L1045.5,577.7 L1048.4,576.7 L1051.3,575.7 L1054.2,574.7 L1057.1,573.7 L1060,572.7 L1062.9,571.7 L1065.8,570.7 L1068.7,569.7 L1071.6,569.6 L1074.5,569.6 L1077.4,569.6 L1080.3,569.6 L1083.2,569.6 L1086.1,569.5 L1089,569.5 L1091.9,569.5 L1094.8,569.5 L1097.7,569.5 L1100.6,569.5 L1103.5,569.5 L1106.4,569.4 L1109.3,569.4 L1112.2,569.4 L1115.1,569.4 L1118,569.4 L1120.9,569.4 L1123.8,569.4 L1126.8,569.3 L1129.7,569.3 L1132.6,569.3 L1135.5,569.3 L1138.4,569.3 L1141.3,569.3 L1144.2,569.3 L1147.1,569.3 L1150,569.3 L1152.9,569.3 L1155.8,569.3 L1158.7,569.2 L1161.6,569.2 L1164.5,569.2 L1167.4,569.2 L1170.3,569.2 L1173.2,569.2 L1176.1,569.2 L1179,569.2 L1181.9,569.2 L1184.8,569.2" fill="none" stroke="#8e8e8e" stroke-width="1.1" stroke-linejoin="round"/><path d="M952.6,609.8 L953.8,609.7 L954.9,609.5 L956.1,609.4 L957.2,609.3 L958.4,609.1 L959.6,609 L960.7,608.9 L961.9,608.7 L963,608.6 L964.2,608.5 L965.4,608.4 L966.5,608.2 L967.7,608.1 L968.9,608 L970,607.8 L972.9,607.5 L975.8,607.2 L978.7,606.8 L981.6,606.5 L984.5,606.2 L987.4,605.8 L990.3,605.5 L993.2,605.2 L996.1,604.9 L999,604.5 L1001.9,604.2 L1004.8,603.9 L1007.7,603.5 L1010.6,603.2 L1013.6,602.9 L1016.5,602.6 L1019.4,602.2 L1022.3,601.9 L1025.2,601.6 L1028.1,601.2 L1031,600.9 L1033.9,600.6 L1036.8,600.2 L1039.7,599.9 L1042.6,599.6 L1045.5,599.3 L1048.4,598.9 L1051.3,598.6 L1054.2,598.3 L1057.1,597.9 L1060,597.6 L1062.9,597.3 L1065.8,597 L1068.7,596.6 L1071.6,596.5 L1074.5,596.4 L1077.4,596.4 L1080.3,596.3 L1083.2,596.2 L1086.1,596.1 L1089,596.1 L1091.9,596 L1094.8,595.9 L1097.7,595.9 L1100.6,595.8 L1103.5,595.7 L1106.4,595.7 L1109.3,595.6 L1112.2,595.6 L1115.1,595.5 L1118,595.5 L1120.9,595.4 L1123.8,595.4 L1126.8,595.3 L1129.7,595.3 L1132.6,595.3 L1135.5,595.2 L1138.4,595.2 L1141.3,595.1 L1144.2,595.1 L1147.1,595.1 L1150,595 L1152.9,595 L1155.8,595 L1158.7,594.9 L1161.6,594.9 L1164.5,594.9 L1167.4,594.9 L1170.3,594.8 L1173.2,594.8 L1176.1,594.8 L1179,594.8 L1181.9,594.7 L1184.8,594.7" fill="none" stroke="#8e8e8e" stroke-width="1.1" stroke-linejoin="round"/><path d="M952.6,609.8 L953.8,609.8 L954.9,609.7 L956.1,609.7 L957.2,609.6 L958.4,609.6 L959.6,609.5 L960.7,609.5 L961.9,609.4 L963,609.4 L964.2,609.3 L965.4,609.3 L966.5,609.2 L967.7,609.2 L968.9,609.1 L970,609.1 L972.9,609 L975.8,608.9 L978.7,608.7 L981.6,608.6 L984.5,608.5 L987.4,608.4 L990.3,608.3 L993.2,608.1 L996.1,608 L999,607.9 L1001.9,607.8 L1004.8,607.7 L1007.7,607.5 L1010.6,607.4 L1013.6,607.3 L1016.5,607.2 L1019.4,607.1 L1022.3,607 L1025.2,606.8 L1028.1,606.7 L1031,606.6 L1033.9,606.5 L1036.8,606.4 L1039.7,606.2 L1042.6,606.1 L1045.5,606 L1048.4,605.9 L1051.3,605.8 L1054.2,605.6 L1057.1,605.5 L1060,605.4 L1062.9,605.3 L1065.8,605.2 L1068.7,605.1 L1071.6,605 L1074.5,604.9 L1077.4,604.8 L1080.3,604.7 L1083.2,604.6 L1086.1,604.6 L1089,604.5 L1091.9,604.4 L1094.8,604.4 L1097.7,604.3 L1100.6,604.2 L1103.5,604.2 L1106.4,604.1 L1109.3,604.1 L1112.2,604 L1115.1,604 L1118,603.9 L1120.9,603.9 L1123.8,603.8 L1126.8,603.8 L1129.7,603.7 L1132.6,603.7 L1135.5,603.7 L1138.4,603.6 L1141.3,603.6 L1144.2,603.5 L1147.1,603.5 L1150,603.5 L1152.9,603.4 L1155.8,603.4 L1158.7,603.4 L1161.6,603.3 L1164.5,603.3 L1167.4,603.3 L1170.3,603.3 L1173.2,603.2 L1176.1,603.2 L1179,603.2 L1181.9,603.2 L1184.8,603.2" fill="none" stroke="#8e8e8e" stroke-width="1.1" stroke-linejoin="round"/><path d="M952.6,609.8 L953.8,609.7 L954.9,609.7 L956.1,609.6 L957.2,609.6 L958.4,609.5 L959.6,609.5 L960.7,609.4 L961.9,609.4 L963,609.3 L964.2,609.3 L965.4,609.2 L966.5,609.1 L967.7,609.1 L968.9,609 L970,609 L972.9,608.8 L975.8,608.7 L978.7,608.6 L981.6,608.4 L984.5,608.3 L987.4,608.2 L990.3,608 L993.2,607.9 L996.1,607.8 L999,607.6 L1001.9,607.5 L1004.8,607.3 L1007.7,607.2 L1010.6,607.1 L1013.6,606.9 L1016.5,606.8 L1019.4,606.7 L1022.3,606.5 L1025.2,606.4 L1028.1,606.2 L1031,606.1 L1033.9,606 L1036.8,605.8 L1039.7,605.7 L1042.6,605.6 L1045.5,605.4 L1048.4,605.3 L1051.3,605.2 L1054.2,605 L1057.1,604.9 L1060,604.7 L1062.9,604.6 L1065.8,604.5 L1068.7,604.3 L1071.6,604.4 L1074.5,604.4 L1077.4,604.5 L1080.3,604.5 L1083.2,604.6 L1086.1,604.6 L1089,604.7 L1091.9,604.7 L1094.8,604.8 L1097.7,604.8 L1100.6,604.8 L1103.5,604.9 L1106.4,604.9 L1109.3,605 L1112.2,605 L1115.1,605 L1118,605 L1120.9,605.1 L1123.8,605.1 L1126.8,605.1 L1129.7,605.2 L1132.6,605.2 L1135.5,605.2 L1138.4,605.2 L1141.3,605.3 L1144.2,605.3 L1147.1,605.3 L1150,605.3 L1152.9,605.3 L1155.8,605.4 L1158.7,605.4 L1161.6,605.4 L1164.5,605.4 L1167.4,605.4 L1170.3,605.5 L1173.2,605.5 L1176.1,605.5 L1179,605.5 L1181.9,605.5 L1184.8,605.5" fill="none" stroke="#8e8e8e" stroke-width="1.1" stroke-linejoin="round"/><path d="M952.6,431.7 L952.6,609.8 L1184.8,609.8 M952.6,609.8 L952.6,616.6 M1010.6,609.8 L1010.6,616.6 M1068.7,609.8 L1068.7,616.6 M1126.8,609.8 L1126.8,616.6 M1184.8,609.8 L1184.8,616.6 M952.6,609.8 L945.8,609.8 M952.6,550.4 L945.8,550.4 M952.6,491.1 L945.8,491.1 M952.6,431.7 L945.8,431.7" fill="none" stroke="#000" stroke-width="1.7" stroke-linecap="square"/><text x="943" y="614.5" font-size="13.3" text-anchor="end" font-weight="bold" fill="#000">0.0</text><text x="943" y="555.1" font-size="13.3" text-anchor="end" font-weight="bold" fill="#000">0.5</text><text x="943" y="495.8" font-size="13.3" text-anchor="end" font-weight="bold" fill="#000">1.0</text><text x="943" y="436.4" font-size="13.3" text-anchor="end" font-weight="bold" fill="#000">1.5</text><text x="952.6" y="632.6" font-size="13.3" text-anchor="middle" font-weight="bold" fill="#000">0</text><text x="1010.6" y="632.6" font-size="13.3" text-anchor="middle" font-weight="bold" fill="#000">100</text><text x="1068.7" y="632.6" font-size="13.3" text-anchor="middle" font-weight="bold" fill="#000">200</text><text x="1126.8" y="632.6" font-size="13.3" text-anchor="middle" font-weight="bold" fill="#000">300</text><text x="1184.8" y="632.6" font-size="13.3" text-anchor="middle" font-weight="bold" fill="#000">400</text><text x="1068.7" y="655.2" font-size="14.7" text-anchor="middle" font-weight="bold" fill="#000">Time (s)</text><text transform="translate(916.3,520.8) rotate(-90)" font-size="14.7" text-anchor="middle" font-weight="bold" fill="#000">Binding (nm)</text><text x="1068.7" y="378.6" font-size="16.8" text-anchor="middle" font-weight="bold" fill="#000">Omicron BA.4/BA.5</text><text x="1068.7" y="409" font-size="16.8" text-anchor="middle" font-weight="bold" fill="#000">BI-5B2C</text><text x="961" y="446" font-size="14.7" font-weight="bold"><tspan font-style="italic">K</tspan><tspan font-size="10.7" dy="3">D,app</tspan><tspan dy="-3">=18.2 nM</tspan></text><path d="M1275.7,609.8 L1276.9,602.5 L1278,596 L1279.2,590.2 L1280.3,584.9 L1281.5,580.2 L1282.7,575.8 L1283.8,571.8 L1285,568.2 L1286.1,564.8 L1287.3,561.7 L1288.5,558.8 L1289.6,556.1 L1290.8,553.6 L1291.9,551.2 L1293.1,548.9 L1296,543.9 L1298.9,539.4 L1301.8,535.4 L1304.7,531.8 L1307.6,528.6 L1310.5,525.7 L1313.4,523 L1316.3,520.6 L1319.2,518.3 L1322.1,516.3 L1325,514.4 L1327.9,512.7 L1330.8,511.1 L1333.7,509.6 L1336.6,508.3 L1339.5,507 L1342.4,505.9 L1345.3,504.8 L1348.2,503.9 L1351.1,503 L1354,502.2 L1356.9,501.4 L1359.8,500.7 L1362.7,500.1 L1365.6,499.5 L1368.5,499 L1371.4,498.5 L1374.3,498 L1377.2,497.6 L1380.1,497.2 L1383,496.8 L1385.9,496.5 L1388.8,496.2 L1391.7,495.9 L1394.5,496 L1397.4,496 L1400.3,496 L1403.2,496.1 L1406.1,496.1 L1409,496.1 L1411.9,496.1 L1414.8,496.2 L1417.7,496.2 L1420.6,496.2 L1423.5,496.2 L1426.4,496.3 L1429.3,496.3 L1432.2,496.3 L1435.1,496.3 L1438,496.3 L1440.9,496.4 L1443.8,496.4 L1446.7,496.4 L1449.6,496.4 L1452.5,496.4 L1455.4,496.4 L1458.3,496.5 L1461.2,496.5 L1464.1,496.5 L1467,496.5 L1469.9,496.5 L1472.8,496.5 L1475.7,496.5 L1478.6,496.6 L1481.5,496.6 L1484.4,496.6 L1487.3,496.6 L1490.2,496.6 L1493.1,496.6 L1496,496.6 L1498.9,496.6 L1501.8,496.6 L1504.7,496.6 L1507.6,496.6" fill="none" stroke="#8a1fb8" stroke-width="2.1" stroke-linejoin="round"/><path d="M1275.7,609.8 L1276.9,605.1 L1278,600.7 L1279.2,596.8 L1280.3,593.2 L1281.5,589.8 L1282.7,586.7 L1283.8,583.8 L1285,581.1 L1286.1,578.5 L1287.3,576.1 L1288.5,573.8 L1289.6,571.6 L1290.8,569.5 L1291.9,567.6 L1293.1,565.7 L1296,561.2 L1298.9,557.2 L1301.8,553.5 L1304.7,550 L1307.6,546.8 L1310.5,543.8 L1313.4,541 L1316.3,538.4 L1319.2,535.9 L1322.1,533.6 L1325,531.4 L1327.9,529.3 L1330.8,527.4 L1333.7,525.6 L1336.6,523.8 L1339.5,522.2 L1342.4,520.7 L1345.3,519.3 L1348.2,517.9 L1351.1,516.7 L1354,515.5 L1356.9,514.4 L1359.8,513.3 L1362.7,512.3 L1365.6,511.4 L1368.5,510.5 L1371.4,509.7 L1374.3,508.9 L1377.2,508.2 L1380.1,507.5 L1383,506.8 L1385.9,506.2 L1388.8,505.6 L1391.7,505.1 L1394.5,505.1 L1397.4,505.1 L1400.3,505.1 L1403.2,505.1 L1406.1,505.1 L1409,505.1 L1411.9,505.1 L1414.8,505.1 L1417.7,505.1 L1420.6,505.1 L1423.5,505.1 L1426.4,505.1 L1429.3,505.1 L1432.2,505.1 L1435.1,505.1 L1438,505.1 L1440.9,505.1 L1443.8,505.1 L1446.7,505.1 L1449.6,505.1 L1452.5,505.1 L1455.4,505.1 L1458.3,505.1 L1461.2,505.1 L1464.1,505.1 L1467,505.1 L1469.9,505.1 L1472.8,505.1 L1475.7,505.1 L1478.6,505.1 L1481.5,505.1 L1484.4,505.1 L1487.3,505.1 L1490.2,505.1 L1493.1,505.1 L1496,505.1 L1498.9,505.1 L1501.8,505.1 L1504.7,505.1 L1507.6,505.1" fill="none" stroke="#1c1cc4" stroke-width="2.1" stroke-linejoin="round"/><path d="M1275.7,609.8 L1276.9,608.3 L1278,606.8 L1279.2,605.3 L1280.3,603.9 L1281.5,602.4 L1282.7,601 L1283.8,599.6 L1285,598.2 L1286.1,596.8 L1287.3,595.5 L1288.5,594.2 L1289.6,592.9 L1290.8,591.6 L1291.9,590.3 L1293.1,589 L1296,586 L1298.9,583 L1301.8,580.1 L1304.7,577.3 L1307.6,574.6 L1310.5,572 L1313.4,569.5 L1316.3,567.1 L1319.2,564.7 L1322.1,562.4 L1325,560.2 L1327.9,558.1 L1330.8,556 L1333.7,554 L1336.6,552.1 L1339.5,550.2 L1342.4,548.4 L1345.3,546.6 L1348.2,544.9 L1351.1,543.3 L1354,541.7 L1356.9,540.2 L1359.8,538.7 L1362.7,537.3 L1365.6,535.9 L1368.5,534.5 L1371.4,533.2 L1374.3,532 L1377.2,530.8 L1380.1,529.6 L1383,528.5 L1385.9,527.4 L1388.8,526.3 L1391.7,525.3 L1394.5,525.2 L1397.4,525.2 L1400.3,525.2 L1403.2,525.2 L1406.1,525.2 L1409,525.1 L1411.9,525.1 L1414.8,525.1 L1417.7,525.1 L1420.6,525.1 L1423.5,525.1 L1426.4,525 L1429.3,525 L1432.2,525 L1435.1,525 L1438,525 L1440.9,525 L1443.8,525 L1446.7,525 L1449.6,524.9 L1452.5,524.9 L1455.4,524.9 L1458.3,524.9 L1461.2,524.9 L1464.1,524.9 L1467,524.9 L1469.9,524.9 L1472.8,524.9 L1475.7,524.9 L1478.6,524.9 L1481.5,524.8 L1484.4,524.8 L1487.3,524.8 L1490.2,524.8 L1493.1,524.8 L1496,524.8 L1498.9,524.8 L1501.8,524.8 L1504.7,524.8 L1507.6,524.8" fill="none" stroke="#2a87a6" stroke-width="2.1" stroke-linejoin="round"/><path d="M1275.7,609.8 L1276.9,609.4 L1278,609 L1279.2,608.6 L1280.3,608.2 L1281.5,607.9 L1282.7,607.5 L1283.8,607.1 L1285,606.7 L1286.1,606.3 L1287.3,605.9 L1288.5,605.5 L1289.6,605.1 L1290.8,604.8 L1291.9,604.4 L1293.1,604 L1296,603 L1298.9,602 L1301.8,601.1 L1304.7,600.1 L1307.6,599.1 L1310.5,598.2 L1313.4,597.2 L1316.3,596.2 L1319.2,595.2 L1322.1,594.3 L1325,593.3 L1327.9,592.3 L1330.8,591.4 L1333.7,590.4 L1336.6,589.4 L1339.5,588.4 L1342.4,587.5 L1345.3,586.5 L1348.2,585.5 L1351.1,584.6 L1354,583.6 L1356.9,582.6 L1359.8,581.7 L1362.7,580.7 L1365.6,579.7 L1368.5,578.7 L1371.4,577.8 L1374.3,576.8 L1377.2,575.8 L1380.1,574.9 L1383,573.9 L1385.9,572.9 L1388.8,571.9 L1391.7,571 L1394.5,570.9 L1397.4,570.9 L1400.3,570.8 L1403.2,570.8 L1406.1,570.8 L1409,570.7 L1411.9,570.7 L1414.8,570.7 L1417.7,570.6 L1420.6,570.6 L1423.5,570.6 L1426.4,570.5 L1429.3,570.5 L1432.2,570.5 L1435.1,570.5 L1438,570.4 L1440.9,570.4 L1443.8,570.4 L1446.7,570.4 L1449.6,570.3 L1452.5,570.3 L1455.4,570.3 L1458.3,570.3 L1461.2,570.3 L1464.1,570.2 L1467,570.2 L1469.9,570.2 L1472.8,570.2 L1475.7,570.2 L1478.6,570.2 L1481.5,570.1 L1484.4,570.1 L1487.3,570.1 L1490.2,570.1 L1493.1,570.1 L1496,570.1 L1498.9,570.1 L1501.8,570 L1504.7,570 L1507.6,570" fill="none" stroke="#2fe22f" stroke-width="2.1" stroke-linejoin="round"/><path d="M1275.7,609.8 L1276.9,609.6 L1278,609.4 L1279.2,609.2 L1280.3,609.1 L1281.5,608.9 L1282.7,608.7 L1283.8,608.5 L1285,608.3 L1286.1,608.1 L1287.3,607.9 L1288.5,607.8 L1289.6,607.6 L1290.8,607.4 L1291.9,607.2 L1293.1,607 L1296,606.6 L1298.9,606.1 L1301.8,605.6 L1304.7,605.2 L1307.6,604.7 L1310.5,604.2 L1313.4,603.8 L1316.3,603.3 L1319.2,602.9 L1322.1,602.4 L1325,601.9 L1327.9,601.5 L1330.8,601 L1333.7,600.5 L1336.6,600.1 L1339.5,599.6 L1342.4,599.1 L1345.3,598.7 L1348.2,598.2 L1351.1,597.8 L1354,597.3 L1356.9,596.8 L1359.8,596.4 L1362.7,595.9 L1365.6,595.4 L1368.5,595 L1371.4,594.5 L1374.3,594.1 L1377.2,593.6 L1380.1,593.1 L1383,592.7 L1385.9,592.2 L1388.8,591.7 L1391.7,591.3 L1394.5,591.2 L1397.4,591.1 L1400.3,591 L1403.2,590.9 L1406.1,590.9 L1409,590.8 L1411.9,590.7 L1414.8,590.7 L1417.7,590.6 L1420.6,590.5 L1423.5,590.5 L1426.4,590.4 L1429.3,590.3 L1432.2,590.3 L1435.1,590.2 L1438,590.2 L1440.9,590.1 L1443.8,590.1 L1446.7,590 L1449.6,590 L1452.5,590 L1455.4,589.9 L1458.3,589.9 L1461.2,589.8 L1464.1,589.8 L1467,589.8 L1469.9,589.7 L1472.8,589.7 L1475.7,589.7 L1478.6,589.6 L1481.5,589.6 L1484.4,589.6 L1487.3,589.5 L1490.2,589.5 L1493.1,589.5 L1496,589.5 L1498.9,589.4 L1501.8,589.4 L1504.7,589.4 L1507.6,589.4" fill="none" stroke="#e61e1e" stroke-width="2.1" stroke-linejoin="round"/><path d="M1275.7,609.8 L1276.9,609.7 L1278,609.6 L1279.2,609.5 L1280.3,609.3 L1281.5,609.2 L1282.7,609.1 L1283.8,609 L1285,608.9 L1286.1,608.8 L1287.3,608.7 L1288.5,608.5 L1289.6,608.4 L1290.8,608.3 L1291.9,608.2 L1293.1,608.1 L1296,607.8 L1298.9,607.5 L1301.8,607.2 L1304.7,607 L1307.6,606.7 L1310.5,606.4 L1313.4,606.1 L1316.3,605.8 L1319.2,605.5 L1322.1,605.2 L1325,605 L1327.9,604.7 L1330.8,604.4 L1333.7,604.1 L1336.6,603.8 L1339.5,603.5 L1342.4,603.2 L1345.3,603 L1348.2,602.7 L1351.1,602.4 L1354,602.1 L1356.9,601.8 L1359.8,601.5 L1362.7,601.3 L1365.6,601 L1368.5,600.7 L1371.4,600.4 L1374.3,600.1 L1377.2,599.8 L1380.1,599.5 L1383,599.3 L1385.9,599 L1388.8,598.7 L1391.7,598.4 L1394.5,598.3 L1397.4,598.1 L1400.3,598 L1403.2,597.9 L1406.1,597.7 L1409,597.6 L1411.9,597.5 L1414.8,597.4 L1417.7,597.3 L1420.6,597.2 L1423.5,597.1 L1426.4,597 L1429.3,596.9 L1432.2,596.8 L1435.1,596.7 L1438,596.6 L1440.9,596.6 L1443.8,596.5 L1446.7,596.4 L1449.6,596.3 L1452.5,596.3 L1455.4,596.2 L1458.3,596.1 L1461.2,596.1 L1464.1,596 L1467,595.9 L1469.9,595.9 L1472.8,595.8 L1475.7,595.8 L1478.6,595.7 L1481.5,595.7 L1484.4,595.6 L1487.3,595.6 L1490.2,595.5 L1493.1,595.5 L1496,595.5 L1498.9,595.4 L1501.8,595.4 L1504.7,595.3 L1507.6,595.3" fill="none" stroke="#d6a060" stroke-width="2.1" stroke-linejoin="round"/><path d="M1275.7,609.8 L1276.9,602.9 L1278,596.6 L1279.2,591 L1280.3,585.8 L1281.5,581.1 L1282.7,576.8 L1283.8,572.9 L1285,569.2 L1286.1,565.8 L1287.3,562.7 L1288.5,559.7 L1289.6,556.9 L1290.8,554.4 L1291.9,551.9 L1293.1,549.6 L1296,544.4 L1298.9,539.8 L1301.8,535.7 L1304.7,532 L1307.6,528.8 L1310.5,525.8 L1313.4,523.1 L1316.3,520.7 L1319.2,518.5 L1322.1,516.5 L1325,514.7 L1327.9,513 L1330.8,511.5 L1333.7,510.2 L1336.6,508.9 L1339.5,507.8 L1342.4,506.7 L1345.3,505.8 L1348.2,504.9 L1351.1,504.2 L1354,503.4 L1356.9,502.8 L1359.8,502.2 L1362.7,501.7 L1365.6,501.2 L1368.5,500.7 L1371.4,500.3 L1374.3,499.9 L1377.2,499.6 L1380.1,499.3 L1383,499 L1385.9,498.8 L1388.8,498.5 L1391.7,498.3 L1394.5,498.3 L1397.4,498.4 L1400.3,498.4 L1403.2,498.4 L1406.1,498.5 L1409,498.5 L1411.9,498.5 L1414.8,498.5 L1417.7,498.6 L1420.6,498.6 L1423.5,498.6 L1426.4,498.6 L1429.3,498.7 L1432.2,498.7 L1435.1,498.7 L1438,498.7 L1440.9,498.7 L1443.8,498.8 L1446.7,498.8 L1449.6,498.8 L1452.5,498.8 L1455.4,498.8 L1458.3,498.8 L1461.2,498.8 L1464.1,498.9 L1467,498.9 L1469.9,498.9 L1472.8,498.9 L1475.7,498.9 L1478.6,498.9 L1481.5,498.9 L1484.4,498.9 L1487.3,499 L1490.2,499 L1493.1,499 L1496,499 L1498.9,499 L1501.8,499 L1504.7,499 L1507.6,499" fill="none" stroke="#8e8e8e" stroke-width="1.1" stroke-linejoin="round"/><path d="M1275.7,609.8 L1276.9,605.3 L1278,601.2 L1279.2,597.4 L1280.3,593.8 L1281.5,590.6 L1282.7,587.5 L1283.8,584.6 L1285,581.9 L1286.1,579.4 L1287.3,577 L1288.5,574.7 L1289.6,572.5 L1290.8,570.4 L1291.9,568.4 L1293.1,566.4 L1296,561.9 L1298.9,557.8 L1301.8,554 L1304.7,550.4 L1307.6,547.2 L1310.5,544.1 L1313.4,541.2 L1316.3,538.6 L1319.2,536 L1322.1,533.7 L1325,531.5 L1327.9,529.4 L1330.8,527.5 L1333.7,525.7 L1336.6,524 L1339.5,522.4 L1342.4,520.8 L1345.3,519.4 L1348.2,518.1 L1351.1,516.9 L1354,515.7 L1356.9,514.6 L1359.8,513.6 L1362.7,512.6 L1365.6,511.7 L1368.5,510.8 L1371.4,510 L1374.3,509.3 L1377.2,508.6 L1380.1,507.9 L1383,507.3 L1385.9,506.7 L1388.8,506.2 L1391.7,505.7 L1394.5,505.7 L1397.4,505.7 L1400.3,505.7 L1403.2,505.7 L1406.1,505.7 L1409,505.7 L1411.9,505.7 L1414.8,505.7 L1417.7,505.7 L1420.6,505.7 L1423.5,505.7 L1426.4,505.7 L1429.3,505.7 L1432.2,505.7 L1435.1,505.7 L1438,505.7 L1440.9,505.7 L1443.8,505.7 L1446.7,505.7 L1449.6,505.7 L1452.5,505.7 L1455.4,505.7 L1458.3,505.7 L1461.2,505.7 L1464.1,505.7 L1467,505.7 L1469.9,505.7 L1472.8,505.7 L1475.7,505.7 L1478.6,505.7 L1481.5,505.7 L1484.4,505.7 L1487.3,505.7 L1490.2,505.7 L1493.1,505.7 L1496,505.7 L1498.9,505.7 L1501.8,505.7 L1504.7,505.7 L1507.6,505.7" fill="none" stroke="#8e8e8e" stroke-width="1.1" stroke-linejoin="round"/><path d="M1275.7,609.8 L1276.9,608.3 L1278,606.8 L1279.2,605.3 L1280.3,603.8 L1281.5,602.3 L1282.7,600.9 L1283.8,599.5 L1285,598.1 L1286.1,596.7 L1287.3,595.4 L1288.5,594 L1289.6,592.7 L1290.8,591.4 L1291.9,590.1 L1293.1,588.9 L1296,585.8 L1298.9,582.8 L1301.8,579.9 L1304.7,577.2 L1307.6,574.5 L1310.5,571.9 L1313.4,569.3 L1316.3,566.9 L1319.2,564.6 L1322.1,562.3 L1325,560.1 L1327.9,558 L1330.8,556 L1333.7,554 L1336.6,552.1 L1339.5,550.2 L1342.4,548.4 L1345.3,546.7 L1348.2,545.1 L1351.1,543.4 L1354,541.9 L1356.9,540.4 L1359.8,538.9 L1362.7,537.5 L1365.6,536.2 L1368.5,534.9 L1371.4,533.6 L1374.3,532.4 L1377.2,531.2 L1380.1,530.1 L1383,528.9 L1385.9,527.9 L1388.8,526.9 L1391.7,525.9 L1394.5,525.8 L1397.4,525.8 L1400.3,525.8 L1403.2,525.8 L1406.1,525.8 L1409,525.7 L1411.9,525.7 L1414.8,525.7 L1417.7,525.7 L1420.6,525.7 L1423.5,525.7 L1426.4,525.6 L1429.3,525.6 L1432.2,525.6 L1435.1,525.6 L1438,525.6 L1440.9,525.6 L1443.8,525.6 L1446.7,525.5 L1449.6,525.5 L1452.5,525.5 L1455.4,525.5 L1458.3,525.5 L1461.2,525.5 L1464.1,525.5 L1467,525.5 L1469.9,525.5 L1472.8,525.5 L1475.7,525.5 L1478.6,525.4 L1481.5,525.4 L1484.4,525.4 L1487.3,525.4 L1490.2,525.4 L1493.1,525.4 L1496,525.4 L1498.9,525.4 L1501.8,525.4 L1504.7,525.4 L1507.6,525.4" fill="none" stroke="#8e8e8e" stroke-width="1.1" stroke-linejoin="round"/><path d="M1275.7,609.8 L1276.9,609.4 L1278,609 L1279.2,608.7 L1280.3,608.3 L1281.5,607.9 L1282.7,607.5 L1283.8,607.1 L1285,606.7 L1286.1,606.4 L1287.3,606 L1288.5,605.6 L1289.6,605.2 L1290.8,604.8 L1291.9,604.4 L1293.1,604.1 L1296,603.1 L1298.9,602.2 L1301.8,601.2 L1304.7,600.2 L1307.6,599.3 L1310.5,598.3 L1313.4,597.4 L1316.3,596.4 L1319.2,595.5 L1322.1,594.5 L1325,593.6 L1327.9,592.6 L1330.8,591.6 L1333.7,590.7 L1336.6,589.7 L1339.5,588.8 L1342.4,587.8 L1345.3,586.9 L1348.2,585.9 L1351.1,584.9 L1354,584 L1356.9,583 L1359.8,582.1 L1362.7,581.1 L1365.6,580.2 L1368.5,579.2 L1371.4,578.3 L1374.3,577.3 L1377.2,576.3 L1380.1,575.4 L1383,574.4 L1385.9,573.5 L1388.8,572.5 L1391.7,571.6 L1394.5,571.5 L1397.4,571.5 L1400.3,571.4 L1403.2,571.4 L1406.1,571.4 L1409,571.3 L1411.9,571.3 L1414.8,571.3 L1417.7,571.2 L1420.6,571.2 L1423.5,571.2 L1426.4,571.1 L1429.3,571.1 L1432.2,571.1 L1435.1,571 L1438,571 L1440.9,571 L1443.8,571 L1446.7,571 L1449.6,570.9 L1452.5,570.9 L1455.4,570.9 L1458.3,570.9 L1461.2,570.8 L1464.1,570.8 L1467,570.8 L1469.9,570.8 L1472.8,570.8 L1475.7,570.8 L1478.6,570.7 L1481.5,570.7 L1484.4,570.7 L1487.3,570.7 L1490.2,570.7 L1493.1,570.7 L1496,570.7 L1498.9,570.7 L1501.8,570.6 L1504.7,570.6 L1507.6,570.6" fill="none" stroke="#8e8e8e" stroke-width="1.1" stroke-linejoin="round"/><path d="M1275.7,609.8 L1276.9,609.6 L1278,609.5 L1279.2,609.3 L1280.3,609.1 L1281.5,608.9 L1282.7,608.8 L1283.8,608.6 L1285,608.4 L1286.1,608.2 L1287.3,608.1 L1288.5,607.9 L1289.6,607.7 L1290.8,607.5 L1291.9,607.4 L1293.1,607.2 L1296,606.8 L1298.9,606.3 L1301.8,605.9 L1304.7,605.5 L1307.6,605 L1310.5,604.6 L1313.4,604.2 L1316.3,603.7 L1319.2,603.3 L1322.1,602.9 L1325,602.4 L1327.9,602 L1330.8,601.6 L1333.7,601.1 L1336.6,600.7 L1339.5,600.3 L1342.4,599.8 L1345.3,599.4 L1348.2,599 L1351.1,598.5 L1354,598.1 L1356.9,597.7 L1359.8,597.2 L1362.7,596.8 L1365.6,596.4 L1368.5,595.9 L1371.4,595.5 L1374.3,595.1 L1377.2,594.6 L1380.1,594.2 L1383,593.8 L1385.9,593.3 L1388.8,592.9 L1391.7,592.5 L1394.5,592.4 L1397.4,592.3 L1400.3,592.2 L1403.2,592.1 L1406.1,592.1 L1409,592 L1411.9,591.9 L1414.8,591.8 L1417.7,591.8 L1420.6,591.7 L1423.5,591.7 L1426.4,591.6 L1429.3,591.5 L1432.2,591.5 L1435.1,591.4 L1438,591.4 L1440.9,591.3 L1443.8,591.3 L1446.7,591.2 L1449.6,591.2 L1452.5,591.1 L1455.4,591.1 L1458.3,591.1 L1461.2,591 L1464.1,591 L1467,591 L1469.9,590.9 L1472.8,590.9 L1475.7,590.9 L1478.6,590.8 L1481.5,590.8 L1484.4,590.8 L1487.3,590.7 L1490.2,590.7 L1493.1,590.7 L1496,590.7 L1498.9,590.6 L1501.8,590.6 L1504.7,590.6 L1507.6,590.6" fill="none" stroke="#8e8e8e" stroke-width="1.1" stroke-linejoin="round"/><path d="M1275.7,609.8 L1276.9,609.7 L1278,609.6 L1279.2,609.5 L1280.3,609.4 L1281.5,609.3 L1282.7,609.2 L1283.8,609.1 L1285,609 L1286.1,608.9 L1287.3,608.8 L1288.5,608.7 L1289.6,608.6 L1290.8,608.5 L1291.9,608.4 L1293.1,608.3 L1296,608 L1298.9,607.8 L1301.8,607.5 L1304.7,607.2 L1307.6,607 L1310.5,606.7 L1313.4,606.5 L1316.3,606.2 L1319.2,606 L1322.1,605.7 L1325,605.5 L1327.9,605.2 L1330.8,604.9 L1333.7,604.7 L1336.6,604.4 L1339.5,604.2 L1342.4,603.9 L1345.3,603.7 L1348.2,603.4 L1351.1,603.2 L1354,602.9 L1356.9,602.7 L1359.8,602.4 L1362.7,602.1 L1365.6,601.9 L1368.5,601.6 L1371.4,601.4 L1374.3,601.1 L1377.2,600.9 L1380.1,600.6 L1383,600.4 L1385.9,600.1 L1388.8,599.8 L1391.7,599.6 L1394.5,599.4 L1397.4,599.3 L1400.3,599.2 L1403.2,599 L1406.1,598.9 L1409,598.8 L1411.9,598.7 L1414.8,598.6 L1417.7,598.5 L1420.6,598.4 L1423.5,598.3 L1426.4,598.2 L1429.3,598.1 L1432.2,598 L1435.1,597.9 L1438,597.8 L1440.9,597.7 L1443.8,597.7 L1446.7,597.6 L1449.6,597.5 L1452.5,597.4 L1455.4,597.4 L1458.3,597.3 L1461.2,597.3 L1464.1,597.2 L1467,597.1 L1469.9,597.1 L1472.8,597 L1475.7,597 L1478.6,596.9 L1481.5,596.9 L1484.4,596.8 L1487.3,596.8 L1490.2,596.7 L1493.1,596.7 L1496,596.7 L1498.9,596.6 L1501.8,596.6 L1504.7,596.5 L1507.6,596.5" fill="none" stroke="#8e8e8e" stroke-width="1.1" stroke-linejoin="round"/><path d="M1275.7,431.7 L1275.7,609.8 L1507.6,609.8 M1275.7,609.8 L1275.7,616.6 M1333.7,609.8 L1333.7,616.6 M1391.7,609.8 L1391.7,616.6 M1449.6,609.8 L1449.6,616.6 M1507.6,609.8 L1507.6,616.6 M1275.7,609.8 L1268.9,609.8 M1275.7,550.4 L1268.9,550.4 M1275.7,491.1 L1268.9,491.1 M1275.7,431.7 L1268.9,431.7" fill="none" stroke="#000" stroke-width="1.7" stroke-linecap="square"/><text x="1266.1" y="614.5" font-size="13.3" text-anchor="end" font-weight="bold" fill="#000">0.0</text><text x="1266.1" y="555.1" font-size="13.3" text-anchor="end" font-weight="bold" fill="#000">0.5</text><text x="1266.1" y="495.8" font-size="13.3" text-anchor="end" font-weight="bold" fill="#000">1.0</text><text x="1266.1" y="436.4" font-size="13.3" text-anchor="end" font-weight="bold" fill="#000">1.5</text><text x="1275.7" y="632.6" font-size="13.3" text-anchor="middle" font-weight="bold" fill="#000">0</text><text x="1333.7" y="632.6" font-size="13.3" text-anchor="middle" font-weight="bold" fill="#000">100</text><text x="1391.7" y="632.6" font-size="13.3" text-anchor="middle" font-weight="bold" fill="#000">200</text><text x="1449.6" y="632.6" font-size="13.3" text-anchor="middle" font-weight="bold" fill="#000">300</text><text x="1507.6" y="632.6" font-size="13.3" text-anchor="middle" font-weight="bold" fill="#000">400</text><text x="1391.7" y="655.2" font-size="14.7" text-anchor="middle" font-weight="bold" fill="#000">Time (s)</text><text transform="translate(1239.4,520.8) rotate(-90)" font-size="14.7" text-anchor="middle" font-weight="bold" fill="#000">Binding (nm)</text><text x="1391.7" y="378.6" font-size="16.8" text-anchor="middle" font-weight="bold" fill="#000">Omicron BA.4/BA.5</text><text x="1391.7" y="409" font-size="16.8" text-anchor="middle" font-weight="bold" fill="#000">BI-2C1C</text><text x="1282.1" y="444.8" font-size="14.7" font-weight="bold"><tspan font-style="italic">K</tspan><tspan font-size="10.7" dy="3">D,app</tspan><tspan dy="-3">=1.78 nM</tspan></text><path d="M1597.5,609.8 L1598.6,600.1 L1599.8,591.6 L1600.9,584 L1602,577.3 L1603.1,571.3 L1604.3,566 L1605.4,561.1 L1606.5,556.7 L1607.7,552.8 L1608.8,549.1 L1609.9,545.8 L1611,542.8 L1612.2,539.9 L1613.3,537.3 L1614.4,534.9 L1617.2,529.5 L1620.1,524.8 L1622.9,520.8 L1625.7,517.2 L1628.5,514 L1631.4,511.1 L1634.2,508.6 L1637,506.2 L1639.8,504.1 L1642.6,502.1 L1645.5,500.4 L1648.3,498.7 L1651.1,497.3 L1653.9,495.9 L1656.7,494.6 L1659.6,493.5 L1662.4,492.5 L1665.2,491.5 L1668,490.6 L1670.9,489.8 L1673.7,489.1 L1676.5,488.4 L1679.3,487.8 L1682.1,487.2 L1685,486.7 L1687.8,486.2 L1690.6,485.8 L1693.4,485.4 L1696.2,485 L1699.1,484.7 L1701.9,484.4 L1704.7,484.1 L1707.5,483.8 L1710.3,483.6 L1713.2,483.6 L1716,483.6 L1718.8,483.6 L1721.6,483.7 L1724.5,483.7 L1727.3,483.7 L1730.1,483.7 L1732.9,483.7 L1735.7,483.7 L1738.6,483.7 L1741.4,483.8 L1744.2,483.8 L1747,483.8 L1749.8,483.8 L1752.7,483.8 L1755.5,483.8 L1758.3,483.8 L1761.1,483.8 L1764,483.9 L1766.8,483.9 L1769.6,483.9 L1772.4,483.9 L1775.2,483.9 L1778.1,483.9 L1780.9,483.9 L1783.7,483.9 L1786.5,483.9 L1789.3,483.9 L1792.2,483.9 L1795,483.9 L1797.8,484 L1800.6,484 L1803.5,484 L1806.3,484 L1809.1,484 L1811.9,484 L1814.7,484 L1817.6,484 L1820.4,484 L1823.2,484" fill="none" stroke="#8a1fb8" stroke-width="2.1" stroke-linejoin="round"/><path d="M1597.5,609.8 L1598.6,604 L1599.8,598.8 L1600.9,594 L1602,589.5 L1603.1,585.4 L1604.3,581.6 L1605.4,578.1 L1606.5,574.7 L1607.7,571.6 L1608.8,568.7 L1609.9,565.9 L1611,563.2 L1612.2,560.7 L1613.3,558.4 L1614.4,556.1 L1617.2,550.8 L1620.1,546 L1622.9,541.7 L1625.7,537.8 L1628.5,534.1 L1631.4,530.8 L1634.2,527.7 L1637,524.9 L1639.8,522.2 L1642.6,519.8 L1645.5,517.6 L1648.3,515.5 L1651.1,513.5 L1653.9,511.8 L1656.7,510.1 L1659.6,508.6 L1662.4,507.1 L1665.2,505.8 L1668,504.6 L1670.9,503.5 L1673.7,502.4 L1676.5,501.4 L1679.3,500.5 L1682.1,499.7 L1685,498.9 L1687.8,498.2 L1690.6,497.5 L1693.4,496.9 L1696.2,496.3 L1699.1,495.8 L1701.9,495.3 L1704.7,494.9 L1707.5,494.4 L1710.3,494 L1713.2,494 L1716,494 L1718.8,494 L1721.6,494 L1724.5,493.9 L1727.3,493.9 L1730.1,493.9 L1732.9,493.9 L1735.7,493.9 L1738.6,493.9 L1741.4,493.9 L1744.2,493.8 L1747,493.8 L1749.8,493.8 L1752.7,493.8 L1755.5,493.8 L1758.3,493.8 L1761.1,493.8 L1764,493.8 L1766.8,493.7 L1769.6,493.7 L1772.4,493.7 L1775.2,493.7 L1778.1,493.7 L1780.9,493.7 L1783.7,493.7 L1786.5,493.7 L1789.3,493.7 L1792.2,493.7 L1795,493.7 L1797.8,493.7 L1800.6,493.7 L1803.5,493.6 L1806.3,493.6 L1809.1,493.6 L1811.9,493.6 L1814.7,493.6 L1817.6,493.6 L1820.4,493.6 L1823.2,493.6" fill="none" stroke="#1c1cc4" stroke-width="2.1" stroke-linejoin="round"/><path d="M1597.5,609.8 L1598.6,608.3 L1599.8,606.8 L1600.9,605.3 L1602,603.8 L1603.1,602.4 L1604.3,601 L1605.4,599.5 L1606.5,598.1 L1607.7,596.7 L1608.8,595.4 L1609.9,594 L1611,592.7 L1612.2,591.3 L1613.3,590 L1614.4,588.7 L1617.2,585.5 L1620.1,582.4 L1622.9,579.4 L1625.7,576.4 L1628.5,573.5 L1631.4,570.7 L1634.2,568 L1637,565.3 L1639.8,562.8 L1642.6,560.2 L1645.5,557.8 L1648.3,555.4 L1651.1,553.1 L1653.9,550.8 L1656.7,548.6 L1659.6,546.5 L1662.4,544.4 L1665.2,542.3 L1668,540.3 L1670.9,538.4 L1673.7,536.5 L1676.5,534.7 L1679.3,532.9 L1682.1,531.2 L1685,529.5 L1687.8,527.9 L1690.6,526.3 L1693.4,524.7 L1696.2,523.2 L1699.1,521.7 L1701.9,520.3 L1704.7,518.9 L1707.5,517.5 L1710.3,516.2 L1713.2,516.1 L1716,516.1 L1718.8,516.1 L1721.6,516.1 L1724.5,516.1 L1727.3,516.1 L1730.1,516.1 L1732.9,516.1 L1735.7,516.1 L1738.6,516.1 L1741.4,516.1 L1744.2,516 L1747,516 L1749.8,516 L1752.7,516 L1755.5,516 L1758.3,516 L1761.1,516 L1764,516 L1766.8,516 L1769.6,516 L1772.4,516 L1775.2,516 L1778.1,516 L1780.9,516 L1783.7,516 L1786.5,516 L1789.3,515.9 L1792.2,515.9 L1795,515.9 L1797.8,515.9 L1800.6,515.9 L1803.5,515.9 L1806.3,515.9 L1809.1,515.9 L1811.9,515.9 L1814.7,515.9 L1817.6,515.9 L1820.4,515.9 L1823.2,515.9" fill="none" stroke="#2a87a6" stroke-width="2.1" stroke-linejoin="round"/><path d="M1597.5,609.8 L1598.6,609.4 L1599.8,609 L1600.9,608.6 L1602,608.2 L1603.1,607.7 L1604.3,607.3 L1605.4,606.9 L1606.5,606.5 L1607.7,606.1 L1608.8,605.7 L1609.9,605.3 L1611,604.9 L1612.2,604.4 L1613.3,604 L1614.4,603.6 L1617.2,602.6 L1620.1,601.6 L1622.9,600.5 L1625.7,599.5 L1628.5,598.5 L1631.4,597.5 L1634.2,596.4 L1637,595.4 L1639.8,594.4 L1642.6,593.3 L1645.5,592.3 L1648.3,591.3 L1651.1,590.2 L1653.9,589.2 L1656.7,588.2 L1659.6,587.2 L1662.4,586.1 L1665.2,585.1 L1668,584.1 L1670.9,583 L1673.7,582 L1676.5,581 L1679.3,580 L1682.1,578.9 L1685,577.9 L1687.8,576.9 L1690.6,575.8 L1693.4,574.8 L1696.2,573.8 L1699.1,572.8 L1701.9,571.7 L1704.7,570.7 L1707.5,569.7 L1710.3,568.6 L1713.2,568.6 L1716,568.5 L1718.8,568.4 L1721.6,568.3 L1724.5,568.3 L1727.3,568.2 L1730.1,568.1 L1732.9,568.1 L1735.7,568 L1738.6,568 L1741.4,567.9 L1744.2,567.9 L1747,567.8 L1749.8,567.8 L1752.7,567.7 L1755.5,567.7 L1758.3,567.6 L1761.1,567.6 L1764,567.5 L1766.8,567.5 L1769.6,567.4 L1772.4,567.4 L1775.2,567.4 L1778.1,567.3 L1780.9,567.3 L1783.7,567.3 L1786.5,567.2 L1789.3,567.2 L1792.2,567.2 L1795,567.2 L1797.8,567.1 L1800.6,567.1 L1803.5,567.1 L1806.3,567.1 L1809.1,567 L1811.9,567 L1814.7,567 L1817.6,567 L1820.4,566.9 L1823.2,566.9" fill="none" stroke="#2fe22f" stroke-width="2.1" stroke-linejoin="round"/><path d="M1597.5,609.8 L1598.6,609.6 L1599.8,609.5 L1600.9,609.3 L1602,609.2 L1603.1,609 L1604.3,608.8 L1605.4,608.7 L1606.5,608.5 L1607.7,608.3 L1608.8,608.2 L1609.9,608 L1611,607.9 L1612.2,607.7 L1613.3,607.5 L1614.4,607.4 L1617.2,607 L1620.1,606.6 L1622.9,606.2 L1625.7,605.7 L1628.5,605.3 L1631.4,604.9 L1634.2,604.5 L1637,604.1 L1639.8,603.7 L1642.6,603.3 L1645.5,602.9 L1648.3,602.5 L1651.1,602.1 L1653.9,601.7 L1656.7,601.3 L1659.6,600.9 L1662.4,600.5 L1665.2,600.1 L1668,599.7 L1670.9,599.3 L1673.7,598.9 L1676.5,598.5 L1679.3,598.1 L1682.1,597.6 L1685,597.2 L1687.8,596.8 L1690.6,596.4 L1693.4,596 L1696.2,595.6 L1699.1,595.2 L1701.9,594.8 L1704.7,594.4 L1707.5,594 L1710.3,593.6 L1713.2,593.5 L1716,593.5 L1718.8,593.4 L1721.6,593.4 L1724.5,593.3 L1727.3,593.3 L1730.1,593.2 L1732.9,593.2 L1735.7,593.2 L1738.6,593.1 L1741.4,593.1 L1744.2,593 L1747,593 L1749.8,593 L1752.7,592.9 L1755.5,592.9 L1758.3,592.9 L1761.1,592.8 L1764,592.8 L1766.8,592.8 L1769.6,592.8 L1772.4,592.7 L1775.2,592.7 L1778.1,592.7 L1780.9,592.7 L1783.7,592.6 L1786.5,592.6 L1789.3,592.6 L1792.2,592.6 L1795,592.6 L1797.8,592.5 L1800.6,592.5 L1803.5,592.5 L1806.3,592.5 L1809.1,592.5 L1811.9,592.5 L1814.7,592.4 L1817.6,592.4 L1820.4,592.4 L1823.2,592.4" fill="none" stroke="#e61e1e" stroke-width="2.1" stroke-linejoin="round"/><path d="M1597.5,609.8 L1598.6,609.7 L1599.8,609.7 L1600.9,609.6 L1602,609.5 L1603.1,609.4 L1604.3,609.4 L1605.4,609.3 L1606.5,609.2 L1607.7,609.2 L1608.8,609.1 L1609.9,609 L1611,608.9 L1612.2,608.9 L1613.3,608.8 L1614.4,608.7 L1617.2,608.6 L1620.1,608.4 L1622.9,608.2 L1625.7,608 L1628.5,607.8 L1631.4,607.7 L1634.2,607.5 L1637,607.3 L1639.8,607.1 L1642.6,607 L1645.5,606.8 L1648.3,606.6 L1651.1,606.4 L1653.9,606.2 L1656.7,606.1 L1659.6,605.9 L1662.4,605.7 L1665.2,605.5 L1668,605.4 L1670.9,605.2 L1673.7,605 L1676.5,604.8 L1679.3,604.6 L1682.1,604.5 L1685,604.3 L1687.8,604.1 L1690.6,603.9 L1693.4,603.8 L1696.2,603.6 L1699.1,603.4 L1701.9,603.2 L1704.7,603 L1707.5,602.9 L1710.3,602.7 L1713.2,602.6 L1716,602.6 L1718.8,602.5 L1721.6,602.5 L1724.5,602.4 L1727.3,602.4 L1730.1,602.3 L1732.9,602.3 L1735.7,602.2 L1738.6,602.2 L1741.4,602.2 L1744.2,602.1 L1747,602.1 L1749.8,602.1 L1752.7,602 L1755.5,602 L1758.3,602 L1761.1,601.9 L1764,601.9 L1766.8,601.9 L1769.6,601.8 L1772.4,601.8 L1775.2,601.8 L1778.1,601.8 L1780.9,601.8 L1783.7,601.7 L1786.5,601.7 L1789.3,601.7 L1792.2,601.7 L1795,601.6 L1797.8,601.6 L1800.6,601.6 L1803.5,601.6 L1806.3,601.6 L1809.1,601.6 L1811.9,601.5 L1814.7,601.5 L1817.6,601.5 L1820.4,601.5 L1823.2,601.5" fill="none" stroke="#d6a060" stroke-width="2.1" stroke-linejoin="round"/><path d="M1597.5,609.8 L1598.6,601 L1599.8,593.2 L1600.9,586.3 L1602,580 L1603.1,574.4 L1604.3,569.3 L1605.4,564.7 L1606.5,560.5 L1607.7,556.7 L1608.8,553.1 L1609.9,549.9 L1611,546.9 L1612.2,544 L1613.3,541.4 L1614.4,539 L1617.2,533.5 L1620.1,528.8 L1622.9,524.6 L1625.7,521 L1628.5,517.7 L1631.4,514.8 L1634.2,512.1 L1637,509.8 L1639.8,507.6 L1642.6,505.6 L1645.5,503.9 L1648.3,502.2 L1651.1,500.8 L1653.9,499.4 L1656.7,498.2 L1659.6,497.1 L1662.4,496.1 L1665.2,495.2 L1668,494.3 L1670.9,493.6 L1673.7,492.9 L1676.5,492.2 L1679.3,491.7 L1682.1,491.1 L1685,490.7 L1687.8,490.2 L1690.6,489.8 L1693.4,489.5 L1696.2,489.1 L1699.1,488.8 L1701.9,488.6 L1704.7,488.3 L1707.5,488.1 L1710.3,487.9 L1713.2,487.9 L1716,487.9 L1718.8,487.9 L1721.6,487.9 L1724.5,488 L1727.3,488 L1730.1,488 L1732.9,488 L1735.7,488 L1738.6,488 L1741.4,488 L1744.2,488.1 L1747,488.1 L1749.8,488.1 L1752.7,488.1 L1755.5,488.1 L1758.3,488.1 L1761.1,488.1 L1764,488.1 L1766.8,488.2 L1769.6,488.2 L1772.4,488.2 L1775.2,488.2 L1778.1,488.2 L1780.9,488.2 L1783.7,488.2 L1786.5,488.2 L1789.3,488.2 L1792.2,488.2 L1795,488.2 L1797.8,488.2 L1800.6,488.2 L1803.5,488.3 L1806.3,488.3 L1809.1,488.3 L1811.9,488.3 L1814.7,488.3 L1817.6,488.3 L1820.4,488.3 L1823.2,488.3" fill="none" stroke="#8e8e8e" stroke-width="1.1" stroke-linejoin="round"/><path d="M1597.5,609.8 L1598.6,604.3 L1599.8,599.3 L1600.9,594.6 L1602,590.3 L1603.1,586.3 L1604.3,582.5 L1605.4,579 L1606.5,575.7 L1607.7,572.6 L1608.8,569.6 L1609.9,566.8 L1611,564.2 L1612.2,561.6 L1613.3,559.2 L1614.4,556.9 L1617.2,551.5 L1620.1,546.7 L1622.9,542.3 L1625.7,538.2 L1628.5,534.5 L1631.4,531.1 L1634.2,527.9 L1637,525 L1639.8,522.4 L1642.6,519.9 L1645.5,517.6 L1648.3,515.5 L1651.1,513.5 L1653.9,511.7 L1656.7,510 L1659.6,508.5 L1662.4,507.1 L1665.2,505.7 L1668,504.5 L1670.9,503.4 L1673.7,502.3 L1676.5,501.3 L1679.3,500.4 L1682.1,499.6 L1685,498.8 L1687.8,498.1 L1690.6,497.5 L1693.4,496.9 L1696.2,496.3 L1699.1,495.8 L1701.9,495.3 L1704.7,494.8 L1707.5,494.4 L1710.3,494 L1713.2,494 L1716,494 L1718.8,494 L1721.6,494 L1724.5,494 L1727.3,494 L1730.1,494 L1732.9,494 L1735.7,494 L1738.6,494 L1741.4,494 L1744.2,494 L1747,494 L1749.8,494 L1752.7,494 L1755.5,494 L1758.3,494 L1761.1,494 L1764,494 L1766.8,494 L1769.6,494 L1772.4,494 L1775.2,494 L1778.1,494 L1780.9,494 L1783.7,494 L1786.5,494 L1789.3,494 L1792.2,494 L1795,494 L1797.8,494 L1800.6,494 L1803.5,494 L1806.3,494 L1809.1,494 L1811.9,494 L1814.7,494 L1817.6,494 L1820.4,494 L1823.2,494" fill="none" stroke="#8e8e8e" stroke-width="1.1" stroke-linejoin="round"/><path d="M1597.5,609.8 L1598.6,608.3 L1599.8,606.8 L1600.9,605.3 L1602,603.8 L1603.1,602.3 L1604.3,600.9 L1605.4,599.4 L1606.5,598 L1607.7,596.6 L1608.8,595.2 L1609.9,593.8 L1611,592.5 L1612.2,591.1 L1613.3,589.8 L1614.4,588.5 L1617.2,585.3 L1620.1,582.1 L1622.9,579.1 L1625.7,576.1 L1628.5,573.3 L1631.4,570.4 L1634.2,567.7 L1637,565.1 L1639.8,562.5 L1642.6,560 L1645.5,557.5 L1648.3,555.2 L1651.1,552.9 L1653.9,550.6 L1656.7,548.4 L1659.6,546.3 L1662.4,544.2 L1665.2,542.2 L1668,540.3 L1670.9,538.4 L1673.7,536.5 L1676.5,534.7 L1679.3,533 L1682.1,531.3 L1685,529.6 L1687.8,528 L1690.6,526.4 L1693.4,524.9 L1696.2,523.4 L1699.1,522 L1701.9,520.6 L1704.7,519.2 L1707.5,517.9 L1710.3,516.6 L1713.2,516.6 L1716,516.6 L1718.8,516.6 L1721.6,516.5 L1724.5,516.5 L1727.3,516.5 L1730.1,516.5 L1732.9,516.5 L1735.7,516.5 L1738.6,516.5 L1741.4,516.5 L1744.2,516.5 L1747,516.5 L1749.8,516.5 L1752.7,516.4 L1755.5,516.4 L1758.3,516.4 L1761.1,516.4 L1764,516.4 L1766.8,516.4 L1769.6,516.4 L1772.4,516.4 L1775.2,516.4 L1778.1,516.4 L1780.9,516.4 L1783.7,516.4 L1786.5,516.4 L1789.3,516.4 L1792.2,516.4 L1795,516.4 L1797.8,516.4 L1800.6,516.4 L1803.5,516.4 L1806.3,516.4 L1809.1,516.3 L1811.9,516.3 L1814.7,516.3 L1817.6,516.3 L1820.4,516.3 L1823.2,516.3" fill="none" stroke="#8e8e8e" stroke-width="1.1" stroke-linejoin="round"/><path d="M1597.5,609.8 L1598.6,609.4 L1599.8,609 L1600.9,608.6 L1602,608.2 L1603.1,607.8 L1604.3,607.4 L1605.4,607 L1606.5,606.6 L1607.7,606.2 L1608.8,605.8 L1609.9,605.4 L1611,605 L1612.2,604.6 L1613.3,604.2 L1614.4,603.8 L1617.2,602.7 L1620.1,601.7 L1622.9,600.7 L1625.7,599.7 L1628.5,598.7 L1631.4,597.7 L1634.2,596.7 L1637,595.7 L1639.8,594.7 L1642.6,593.7 L1645.5,592.7 L1648.3,591.7 L1651.1,590.7 L1653.9,589.6 L1656.7,588.6 L1659.6,587.6 L1662.4,586.6 L1665.2,585.6 L1668,584.6 L1670.9,583.6 L1673.7,582.6 L1676.5,581.6 L1679.3,580.6 L1682.1,579.6 L1685,578.6 L1687.8,577.6 L1690.6,576.6 L1693.4,575.5 L1696.2,574.5 L1699.1,573.5 L1701.9,572.5 L1704.7,571.5 L1707.5,570.5 L1710.3,569.5 L1713.2,569.4 L1716,569.3 L1718.8,569.3 L1721.6,569.2 L1724.5,569.1 L1727.3,569.1 L1730.1,569 L1732.9,568.9 L1735.7,568.9 L1738.6,568.8 L1741.4,568.8 L1744.2,568.7 L1747,568.7 L1749.8,568.6 L1752.7,568.6 L1755.5,568.5 L1758.3,568.5 L1761.1,568.4 L1764,568.4 L1766.8,568.3 L1769.6,568.3 L1772.4,568.3 L1775.2,568.2 L1778.1,568.2 L1780.9,568.2 L1783.7,568.1 L1786.5,568.1 L1789.3,568.1 L1792.2,568 L1795,568 L1797.8,568 L1800.6,568 L1803.5,567.9 L1806.3,567.9 L1809.1,567.9 L1811.9,567.9 L1814.7,567.8 L1817.6,567.8 L1820.4,567.8 L1823.2,567.8" fill="none" stroke="#8e8e8e" stroke-width="1.1" stroke-linejoin="round"/><path d="M1597.5,609.8 L1598.6,609.6 L1599.8,609.5 L1600.9,609.3 L1602,609.2 L1603.1,609 L1604.3,608.9 L1605.4,608.7 L1606.5,608.5 L1607.7,608.4 L1608.8,608.2 L1609.9,608.1 L1611,607.9 L1612.2,607.7 L1613.3,607.6 L1614.4,607.4 L1617.2,607 L1620.1,606.6 L1622.9,606.2 L1625.7,605.9 L1628.5,605.5 L1631.4,605.1 L1634.2,604.7 L1637,604.3 L1639.8,603.9 L1642.6,603.5 L1645.5,603.1 L1648.3,602.7 L1651.1,602.3 L1653.9,601.9 L1656.7,601.5 L1659.6,601.1 L1662.4,600.7 L1665.2,600.3 L1668,599.9 L1670.9,599.5 L1673.7,599.1 L1676.5,598.8 L1679.3,598.4 L1682.1,598 L1685,597.6 L1687.8,597.2 L1690.6,596.8 L1693.4,596.4 L1696.2,596 L1699.1,595.6 L1701.9,595.2 L1704.7,594.8 L1707.5,594.4 L1710.3,594 L1713.2,594 L1716,593.9 L1718.8,593.9 L1721.6,593.8 L1724.5,593.8 L1727.3,593.7 L1730.1,593.7 L1732.9,593.6 L1735.7,593.6 L1738.6,593.5 L1741.4,593.5 L1744.2,593.5 L1747,593.4 L1749.8,593.4 L1752.7,593.4 L1755.5,593.3 L1758.3,593.3 L1761.1,593.3 L1764,593.2 L1766.8,593.2 L1769.6,593.2 L1772.4,593.2 L1775.2,593.1 L1778.1,593.1 L1780.9,593.1 L1783.7,593.1 L1786.5,593 L1789.3,593 L1792.2,593 L1795,593 L1797.8,593 L1800.6,592.9 L1803.5,592.9 L1806.3,592.9 L1809.1,592.9 L1811.9,592.9 L1814.7,592.9 L1817.6,592.8 L1820.4,592.8 L1823.2,592.8" fill="none" stroke="#8e8e8e" stroke-width="1.1" stroke-linejoin="round"/><path d="M1597.5,609.8 L1598.6,609.7 L1599.8,609.7 L1600.9,609.6 L1602,609.5 L1603.1,609.5 L1604.3,609.4 L1605.4,609.4 L1606.5,609.3 L1607.7,609.2 L1608.8,609.2 L1609.9,609.1 L1611,609 L1612.2,609 L1613.3,608.9 L1614.4,608.9 L1617.2,608.7 L1620.1,608.5 L1622.9,608.4 L1625.7,608.2 L1628.5,608.1 L1631.4,607.9 L1634.2,607.8 L1637,607.6 L1639.8,607.5 L1642.6,607.3 L1645.5,607.1 L1648.3,607 L1651.1,606.8 L1653.9,606.7 L1656.7,606.5 L1659.6,606.4 L1662.4,606.2 L1665.2,606 L1668,605.9 L1670.9,605.7 L1673.7,605.6 L1676.5,605.4 L1679.3,605.3 L1682.1,605.1 L1685,604.9 L1687.8,604.8 L1690.6,604.6 L1693.4,604.5 L1696.2,604.3 L1699.1,604.2 L1701.9,604 L1704.7,603.9 L1707.5,603.7 L1710.3,603.5 L1713.2,603.5 L1716,603.4 L1718.8,603.4 L1721.6,603.3 L1724.5,603.3 L1727.3,603.2 L1730.1,603.2 L1732.9,603.1 L1735.7,603.1 L1738.6,603.1 L1741.4,603 L1744.2,603 L1747,603 L1749.8,602.9 L1752.7,602.9 L1755.5,602.9 L1758.3,602.8 L1761.1,602.8 L1764,602.8 L1766.8,602.7 L1769.6,602.7 L1772.4,602.7 L1775.2,602.7 L1778.1,602.6 L1780.9,602.6 L1783.7,602.6 L1786.5,602.6 L1789.3,602.5 L1792.2,602.5 L1795,602.5 L1797.8,602.5 L1800.6,602.5 L1803.5,602.4 L1806.3,602.4 L1809.1,602.4 L1811.9,602.4 L1814.7,602.4 L1817.6,602.4 L1820.4,602.4 L1823.2,602.3" fill="none" stroke="#8e8e8e" stroke-width="1.1" stroke-linejoin="round"/><path d="M1597.5,438.3 L1597.5,609.8 L1823.2,609.8 M1597.5,609.8 L1597.5,616.6 M1653.9,609.8 L1653.9,616.6 M1710.3,609.8 L1710.3,616.6 M1766.8,609.8 L1766.8,616.6 M1823.2,609.8 L1823.2,616.6 M1597.5,609.8 L1590.7,609.8 M1597.5,566.9 L1590.7,566.9 M1597.5,524 L1590.7,524 M1597.5,481.2 L1590.7,481.2 M1597.5,438.3 L1590.7,438.3" fill="none" stroke="#000" stroke-width="1.7" stroke-linecap="square"/><text x="1587.9" y="614.5" font-size="13.3" text-anchor="end" font-weight="bold" fill="#000">0.0</text><text x="1587.9" y="571.6" font-size="13.3" text-anchor="end" font-weight="bold" fill="#000">0.5</text><text x="1587.9" y="528.8" font-size="13.3" text-anchor="end" font-weight="bold" fill="#000">1.0</text><text x="1587.9" y="485.9" font-size="13.3" text-anchor="end" font-weight="bold" fill="#000">1.5</text><text x="1587.9" y="443" font-size="13.3" text-anchor="end" font-weight="bold" fill="#000">2.0</text><text x="1597.5" y="631.7" font-size="13.3" text-anchor="middle" font-weight="bold" fill="#000">0</text><text x="1653.9" y="631.7" font-size="13.3" text-anchor="middle" font-weight="bold" fill="#000">100</text><text x="1710.3" y="631.7" font-size="13.3" text-anchor="middle" font-weight="bold" fill="#000">200</text><text x="1766.8" y="631.7" font-size="13.3" text-anchor="middle" font-weight="bold" fill="#000">300</text><text x="1823.2" y="631.7" font-size="13.3" text-anchor="middle" font-weight="bold" fill="#000">400</text><text x="1710.3" y="653.3" font-size="14.7" text-anchor="middle" font-weight="bold" fill="#000">Time (s)</text><text transform="translate(1561.2,524) rotate(-90)" font-size="14.7" text-anchor="middle" font-weight="bold" fill="#000">Binding (nm)</text><text x="1710.3" y="386.4" font-size="16.8" text-anchor="middle" font-weight="bold" fill="#000">Omicron BA.4/BA.5</text><text x="1710.3" y="416.2" font-size="16.8" text-anchor="middle" font-weight="bold" fill="#000">BI-1C2C</text><text x="1604.9" y="451.9" font-size="14.7" font-weight="bold"><tspan font-style="italic">K</tspan><tspan font-size="10.7" dy="3">D,app</tspan><tspan dy="-3">=1.94 nM</tspan></text><line x1="1841" y1="482.1" x2="1859.4" y2="482.1" stroke="#8a1fb8" stroke-width="2.2"/><text x="1869.7" y="487.3" font-size="14.5" text-anchor="start" font-weight="bold" fill="#000">160 nM</text><line x1="1841" y1="506.2" x2="1859.4" y2="506.2" stroke="#1c1cc4" stroke-width="2.2"/><text x="1869.7" y="511.4" font-size="14.5" text-anchor="start" font-weight="bold" fill="#000">80 nM</text><line x1="1841" y1="530.3" x2="1859.4" y2="530.3" stroke="#2a87a6" stroke-width="2.2"/><text x="1869.7" y="535.5" font-size="14.5" text-anchor="start" font-weight="bold" fill="#000">40 nM</text><line x1="1841" y1="554.4" x2="1859.4" y2="554.4" stroke="#2fe22f" stroke-width="2.2"/><text x="1869.7" y="559.6" font-size="14.5" text-anchor="start" font-weight="bold" fill="#000">20 nM</text><line x1="1841" y1="578.5" x2="1859.4" y2="578.5" stroke="#e61e1e" stroke-width="2.2"/><text x="1869.7" y="583.7" font-size="14.5" text-anchor="start" font-weight="bold" fill="#000">10 nM</text><line x1="1841" y1="602.6" x2="1859.4" y2="602.6" stroke="#d6a060" stroke-width="2.2"/><text x="1869.7" y="607.8" font-size="14.5" text-anchor="start" font-weight="bold" fill="#000">5 nM</text><path d="M55.9,939.4 L56.1,933.8 L56.3,928.7 L56.5,923.9 L56.7,919.6 L57.2,911.8 L57.6,905.2 L58,899.6 L58.4,894.8 L59.3,887.2 L60.1,881.6 L60.9,877.4 L62.2,873 L63.5,870 L64.7,868 L66.4,866 L68.5,864.2 L70.6,862.8 L72.7,861.6 L74.8,860.5 L76.9,859.5 L81.1,857.5 L85.3,855.7 L89.5,854 L93.7,852.4 L97.9,850.9 L104.3,848.8 L110.6,846.9 L119,844.7 L127.4,842.8 L135.8,841.1 L144.2,839.6 L152.6,838.3 L161,837.1 L169.4,836.1 L175.7,835.5 L182,834.9 L182.3,833.9 L182.5,833 L182.7,832.1 L182.9,831.2 L183.3,829.6 L183.7,828 L184.2,826.6 L184.6,825.3 L185.4,822.9 L186.3,820.8 L187.1,819 L188.4,816.7 L189.6,814.8 L190.9,813.2 L192.6,811.4 L194.7,809.6 L196.8,808.1 L198.9,806.9 L201,805.8 L203.1,804.8 L207.3,803.2 L211.5,801.8 L215.7,800.5 L219.9,799.3 L224.1,798.3 L230.4,796.9 L236.7,795.6 L245.1,794.2 L253.5,792.9 L261.9,791.9 L270.4,791 L278.8,790.3 L287.2,789.7 L295.6,789.1 L301.9,788.8 L308.2,788.5" fill="none" stroke="#e07b22" stroke-width="1.7" stroke-linejoin="round"/><path d="M55.9,939.4 L56.1,934.2 L56.3,929.5 L56.5,925.1 L56.7,921.1 L57.2,913.9 L57.6,907.8 L58,902.6 L58.4,898.1 L59.3,891.1 L60.1,885.9 L60.9,882.1 L62.2,878 L63.5,875.3 L64.7,873.3 L66.4,871.5 L68.5,869.9 L70.6,868.6 L72.7,867.5 L74.8,866.5 L76.9,865.5 L81.1,863.7 L85.3,862 L89.5,860.4 L93.7,858.9 L97.9,857.5 L104.3,855.6 L110.6,853.9 L119,851.8 L127.4,850 L135.8,848.5 L144.2,847.1 L152.6,845.9 L161,844.8 L169.4,843.9 L175.7,843.3 L182,842.7 L182.3,842.2 L182.5,841.6 L182.7,841.1 L182.9,840.6 L183.3,839.7 L183.7,838.8 L184.2,838 L184.6,837.2 L185.4,835.8 L186.3,834.5 L187.1,833.4 L188.4,831.8 L189.6,830.5 L190.9,829.2 L192.6,827.8 L194.7,826.1 L196.8,824.6 L198.9,823.1 L201,821.8 L203.1,820.5 L207.3,818.1 L211.5,815.9 L215.7,813.9 L219.9,811.9 L224.1,810.1 L230.4,807.6 L236.7,805.4 L245.1,802.7 L253.5,800.4 L261.9,798.3 L270.4,796.5 L278.8,795 L287.2,793.6 L295.6,792.4 L301.9,791.6 L308.2,790.8" fill="none" stroke="#2b2ba6" stroke-width="1.7" stroke-linejoin="round"/><path d="M55.9,939.4 L56.1,939.4 L56.3,939.4 L56.5,939.4 L56.7,939.4 L57.2,939.4 L57.6,939.4 L58,939.4 L58.4,939.4 L59.3,939.4 L60.1,939.4 L60.9,939.4 L62.2,939.4 L63.5,939.4 L64.7,939.4 L66.4,939.4 L68.5,939.4 L70.6,939.4 L72.7,939.4 L74.8,939.4 L76.9,939.4 L81.1,939.4 L85.3,939.4 L89.5,939.4 L93.7,939.4 L97.9,939.4 L104.3,939.4 L110.6,939.4 L119,939.4 L127.4,939.4 L135.8,939.4 L144.2,939.4 L152.6,939.4 L161,939.4 L169.4,939.4 L175.7,939.4 L182,939.4 L182.3,934.7 L182.5,930.3 L182.7,926.1 L182.9,922.1 L183.3,914.7 L183.7,908.1 L184.2,902.2 L184.6,896.8 L185.4,887.6 L186.3,880.2 L187.1,874.1 L188.4,867 L189.6,861.7 L190.9,857.7 L192.6,853.8 L194.7,850.3 L196.8,847.9 L198.9,846 L201,844.5 L203.1,843.2 L207.3,841.1 L211.5,839.3 L215.7,837.6 L219.9,836.2 L224.1,834.8 L230.4,833 L236.7,831.5 L245.1,829.7 L253.5,828.2 L261.9,827 L270.4,826 L278.8,825.1 L287.2,824.4 L295.6,823.8 L301.9,823.4 L308.2,823.1" fill="none" stroke="#f9a55a" stroke-width="1.6" stroke-linejoin="round"/><path d="M55.9,939.4 L56.1,939.4 L56.3,939.4 L56.5,939.4 L56.7,939.4 L57.2,939.4 L57.6,939.4 L58,939.4 L58.4,939.4 L59.3,939.4 L60.1,939.4 L60.9,939.4 L62.2,939.4 L63.5,939.4 L64.7,939.4 L66.4,939.4 L68.5,939.4 L70.6,939.4 L72.7,939.4 L74.8,939.4 L76.9,939.4 L81.1,939.4 L85.3,939.4 L89.5,939.4 L93.7,939.4 L97.9,939.4 L104.3,939.4 L110.6,939.4 L119,939.4 L127.4,939.4 L135.8,939.4 L144.2,939.4 L152.6,939.4 L161,939.4 L169.4,939.4 L175.7,939.4 L182,939.4 L182.3,935.4 L182.5,931.6 L182.7,928 L182.9,924.6 L183.3,918.2 L183.7,912.4 L184.2,907.1 L184.6,902.2 L185.4,893.8 L186.3,886.9 L187.1,881.1 L188.4,874.1 L189.6,868.7 L190.9,864.5 L192.6,860.2 L194.7,856.4 L196.8,853.6 L198.9,851.5 L201,849.7 L203.1,848.3 L207.3,845.8 L211.5,843.8 L215.7,841.9 L219.9,840.3 L224.1,838.8 L230.4,836.7 L236.7,834.9 L245.1,832.8 L253.5,831.1 L261.9,829.6 L270.4,828.3 L278.8,827.2 L287.2,826.3 L295.6,825.6 L301.9,825.1 L308.2,824.6" fill="none" stroke="#9d9dff" stroke-width="1.6" stroke-linejoin="round"/><path d="M55.9,939.4 L56.1,934.1 L56.3,929.2 L56.5,924.7 L56.7,920.5 L57.2,913.1 L57.6,906.8 L58,901.5 L58.4,896.9 L59.3,889.6 L60.1,884.3 L60.9,880.4 L62.2,876.2 L63.5,873.5 L64.7,871.6 L66.4,869.8 L68.5,868.2 L70.6,867 L72.7,866 L74.8,865 L76.9,864.2 L81.1,862.6 L85.3,861.1 L89.5,859.7 L93.7,858.5 L97.9,857.3 L104.3,855.8 L110.6,854.4 L119,852.8 L127.4,851.5 L135.8,850.4 L144.2,849.4 L152.6,848.6 L161,847.9 L169.4,847.4 L175.7,847 L182,846.7 L182.3,846.6 L182.5,846.6 L182.7,846.6 L182.9,846.6 L183.3,846.5 L183.7,846.5 L184.2,846.5 L184.6,846.5 L185.4,846.4 L186.3,846.4 L187.1,846.3 L188.4,846.3 L189.6,846.3 L190.9,846.2 L192.6,846.2 L194.7,846.1 L196.8,846.1 L198.9,846 L201,846 L203.1,846 L207.3,845.9 L211.5,845.9 L215.7,845.8 L219.9,845.8 L224.1,845.7 L230.4,845.6 L236.7,845.6 L245.1,845.5 L253.5,845.4 L261.9,845.3 L270.4,845.3 L278.8,845.2 L287.2,845.2 L295.6,845.1 L301.9,845.1 L308.2,845.1" fill="none" stroke="#111111" stroke-width="1.4" stroke-linejoin="round"/><line x1="184.3" y1="742.9" x2="184.3" y2="939.4" stroke="#000" stroke-width="2.0" stroke-dasharray="4.2,3"/><path d="M55.9,742.9 L55.9,939.4 L308.2,939.4 M55.9,939.4 L55.9,947.6 M182,939.4 L182,947.6 M308.2,939.4 L308.2,947.6 M55.9,939.4 L47.7,939.4 M55.9,900.1 L47.7,900.1 M55.9,860.8 L47.7,860.8 M55.9,821.5 L47.7,821.5 M55.9,782.2 L47.7,782.2 M55.9,742.9 L47.7,742.9" fill="none" stroke="#000" stroke-width="1.9" stroke-linecap="square"/><text x="44.7" y="945" font-size="15" text-anchor="end" font-weight="bold" fill="#000">0.0</text><text x="44.7" y="905.7" font-size="15" text-anchor="end" font-weight="bold" fill="#000">0.5</text><text x="44.7" y="866.4" font-size="15" text-anchor="end" font-weight="bold" fill="#000">1.0</text><text x="44.7" y="827.1" font-size="15" text-anchor="end" font-weight="bold" fill="#000">1.5</text><text x="44.7" y="787.8" font-size="15" text-anchor="end" font-weight="bold" fill="#000">2.0</text><text x="44.7" y="748.5" font-size="15" text-anchor="end" font-weight="bold" fill="#000">2.5</text><text x="55.9" y="965.1" font-size="15" text-anchor="middle" font-weight="bold" fill="#000">0</text><text x="182" y="965.1" font-size="15" text-anchor="middle" font-weight="bold" fill="#000">300</text><text x="308.2" y="965.1" font-size="15" text-anchor="middle" font-weight="bold" fill="#000">600</text><text x="182" y="988.6" font-size="16.6" text-anchor="middle" font-weight="bold" fill="#000">Time (s)</text><text transform="translate(16.1,841.1) rotate(-90)" font-size="16.8" text-anchor="middle" font-weight="bold" fill="#000">Binding (nm)</text><line x1="313.1" y1="789.3" x2="334.1" y2="789.3" stroke="#e07b22" stroke-width="1.7"/><text x="346.6" y="794.9" font-size="14.6" text-anchor="start" font-weight="bold" fill="#000">10-5B + BI-2C5B</text><line x1="313.1" y1="816.5" x2="334.1" y2="816.5" stroke="#2b2ba6" stroke-width="1.7"/><text x="346.6" y="822.1" font-size="14.6" text-anchor="start" font-weight="bold" fill="#000">10-5B + BI-5B2C</text><line x1="313.1" y1="843.8" x2="334.1" y2="843.8" stroke="#f9a55a" stroke-width="1.6"/><text x="346.6" y="849.4" font-size="14.6" text-anchor="start" font-weight="bold" fill="#000">Buffer + BI-2C5B</text><line x1="313.1" y1="871" x2="334.1" y2="871" stroke="#9d9dff" stroke-width="1.6"/><text x="346.6" y="876.6" font-size="14.6" text-anchor="start" font-weight="bold" fill="#000">Buffer + BI-5B2C</text><line x1="313.1" y1="898.3" x2="334.1" y2="898.3" stroke="#111111" stroke-width="1.6"/><text x="346.6" y="903.9" font-size="14.6" text-anchor="start" font-weight="bold" fill="#000">10-5B +10-5B</text><path d="M535.5,939.3 L535.7,937.8 L535.9,936.3 L536.1,934.9 L536.3,933.5 L536.8,930.9 L537.2,928.5 L537.6,926.3 L538,924.2 L538.9,920.5 L539.7,917.3 L540.5,914.6 L541.8,911 L543.1,908.2 L544.3,905.8 L546,903.2 L548.1,900.6 L550.2,898.6 L552.3,896.9 L554.4,895.5 L556.5,894.3 L560.7,892.1 L564.9,890.3 L569.2,888.6 L573.4,887.1 L577.6,885.7 L583.9,883.7 L590.2,882 L598.6,879.9 L607,878.1 L615.4,876.5 L623.8,875.1 L632.3,873.9 L640.7,872.8 L649.1,871.9 L655.4,871.2 L661.7,870.7 L661.9,867 L662.1,863.5 L662.3,860.3 L662.5,857.2 L663,851.6 L663.4,846.6 L663.8,842.2 L664.2,838.3 L665.1,831.6 L665.9,826.4 L666.7,822.1 L668,817.3 L669.3,813.7 L670.5,811 L672.2,808.3 L674.3,805.9 L676.4,804 L678.5,802.5 L680.6,801.2 L682.7,800 L686.9,797.9 L691.1,795.9 L695.4,794.1 L699.6,792.4 L703.8,790.8 L710.1,788.7 L716.4,786.7 L724.8,784.3 L733.2,782.3 L741.6,780.5 L750,778.9 L758.5,777.5 L766.9,776.3 L775.3,775.3 L781.6,774.6 L787.9,773.9" fill="none" stroke="#e07b22" stroke-width="1.7" stroke-linejoin="round"/><path d="M535.5,939.3 L535.7,936.7 L535.9,934.2 L536.1,931.8 L536.3,929.5 L536.8,925.3 L537.2,921.5 L537.6,917.9 L538,914.7 L538.9,909.1 L539.7,904.4 L540.5,900.5 L541.8,895.7 L543.1,891.9 L544.3,888.9 L546,885.8 L548.1,882.8 L550.2,880.6 L552.3,878.7 L554.4,877.2 L556.5,875.8 L560.7,873.4 L564.9,871.3 L569.2,869.3 L573.4,867.5 L577.6,865.8 L583.9,863.5 L590.2,861.4 L598.6,858.9 L607,856.7 L615.4,854.8 L623.8,853.1 L632.3,851.6 L640.7,850.3 L649.1,849.2 L655.4,848.5 L661.7,847.8 L661.9,844.2 L662.1,840.9 L662.3,837.7 L662.5,834.7 L663,829.3 L663.4,824.5 L663.8,820.2 L664.2,816.4 L665.1,810 L665.9,804.9 L666.7,800.8 L668,796.2 L669.3,792.8 L670.5,790.3 L672.2,787.9 L674.3,785.8 L676.4,784.2 L678.5,782.9 L680.6,781.9 L682.7,780.9 L686.9,779.2 L691.1,777.6 L695.4,776.2 L699.6,774.9 L703.8,773.6 L710.1,771.9 L716.4,770.3 L724.8,768.4 L733.2,766.8 L741.6,765.4 L750,764.1 L758.5,763 L766.9,762.1 L775.3,761.3 L781.6,760.7 L787.9,760.2" fill="none" stroke="#2b2ba6" stroke-width="1.7" stroke-linejoin="round"/><path d="M535.5,939.3 L535.7,939.3 L535.9,939.3 L536.1,939.3 L536.3,939.3 L536.8,939.3 L537.2,939.3 L537.6,939.3 L538,939.3 L538.9,939.3 L539.7,939.3 L540.5,939.3 L541.8,939.3 L543.1,939.3 L544.3,939.3 L546,939.3 L548.1,939.3 L550.2,939.3 L552.3,939.3 L554.4,939.3 L556.5,939.3 L560.7,939.3 L564.9,939.3 L569.2,939.3 L573.4,939.3 L577.6,939.3 L583.9,939.3 L590.2,939.3 L598.6,939.3 L607,939.3 L615.4,939.3 L623.8,939.3 L632.3,939.3 L640.7,939.3 L649.1,939.3 L655.4,939.3 L661.7,939.3 L661.9,935.4 L662.1,931.7 L662.3,928.2 L662.5,924.9 L663,918.8 L663.4,913.3 L663.8,908.3 L664.2,903.9 L665.1,896.2 L665.9,890.1 L666.7,885 L668,879.1 L669.3,874.7 L670.5,871.4 L672.2,868.1 L674.3,865.2 L676.4,863.2 L678.5,861.6 L680.6,860.4 L682.7,859.3 L686.9,857.5 L691.1,856 L695.4,854.7 L699.6,853.5 L703.8,852.3 L710.1,850.9 L716.4,849.6 L724.8,848.1 L733.2,846.8 L741.6,845.8 L750,845 L758.5,844.2 L766.9,843.6 L775.3,843.2 L781.6,842.8 L787.9,842.6" fill="none" stroke="#f9a55a" stroke-width="1.6" stroke-linejoin="round"/><path d="M535.5,939.3 L535.7,939.3 L535.9,939.3 L536.1,939.3 L536.3,939.3 L536.8,939.3 L537.2,939.3 L537.6,939.3 L538,939.3 L538.9,939.3 L539.7,939.3 L540.5,939.3 L541.8,939.3 L543.1,939.3 L544.3,939.3 L546,939.3 L548.1,939.3 L550.2,939.3 L552.3,939.3 L554.4,939.3 L556.5,939.3 L560.7,939.3 L564.9,939.3 L569.2,939.3 L573.4,939.3 L577.6,939.3 L583.9,939.3 L590.2,939.3 L598.6,939.3 L607,939.3 L615.4,939.3 L623.8,939.3 L632.3,939.3 L640.7,939.3 L649.1,939.3 L655.4,939.3 L661.7,939.3 L661.9,936 L662.1,932.9 L662.3,929.9 L662.5,927.1 L663,921.8 L663.4,917 L663.8,912.6 L664.2,908.6 L665.1,901.7 L665.9,895.9 L666.7,891.1 L668,885.3 L669.3,880.9 L670.5,877.4 L672.2,873.9 L674.3,870.7 L676.4,868.4 L678.5,866.7 L680.6,865.2 L682.7,864 L686.9,862 L691.1,860.3 L695.4,858.8 L699.6,857.4 L703.8,856.2 L710.1,854.5 L716.4,853 L724.8,851.3 L733.2,849.8 L741.6,848.6 L750,847.5 L758.5,846.7 L766.9,845.9 L775.3,845.3 L781.6,844.9 L787.9,844.5" fill="none" stroke="#9d9dff" stroke-width="1.6" stroke-linejoin="round"/><path d="M535.5,939.3 L535.7,936.9 L535.9,934.6 L536.1,932.4 L536.3,930.3 L536.8,926.4 L537.2,922.8 L537.6,919.6 L538,916.6 L538.9,911.4 L539.7,907.1 L540.5,903.5 L541.8,899.1 L543.1,895.6 L544.3,892.9 L546,890.1 L548.1,887.5 L550.2,885.5 L552.3,883.9 L554.4,882.5 L556.5,881.4 L560.7,879.4 L564.9,877.7 L569.2,876.2 L573.4,874.7 L577.6,873.5 L583.9,871.7 L590.2,870.2 L598.6,868.4 L607,867 L615.4,865.7 L623.8,864.6 L632.3,863.7 L640.7,863 L649.1,862.3 L655.4,861.9 L661.7,861.5 L661.9,861.5 L662.1,861.5 L662.3,861.5 L662.5,861.5 L663,861.4 L663.4,861.4 L663.8,861.4 L664.2,861.4 L665.1,861.3 L665.9,861.3 L666.7,861.3 L668,861.2 L669.3,861.2 L670.5,861.2 L672.2,861.1 L674.3,861.1 L676.4,861 L678.5,861 L680.6,861 L682.7,861 L686.9,860.9 L691.1,860.9 L695.4,860.8 L699.6,860.8 L703.8,860.7 L710.1,860.7 L716.4,860.6 L724.8,860.5 L733.2,860.5 L741.6,860.4 L750,860.4 L758.5,860.3 L766.9,860.3 L775.3,860.3 L781.6,860.2 L787.9,860.2" fill="none" stroke="#111111" stroke-width="1.4" stroke-linejoin="round"/><line x1="663.8" y1="743.2" x2="663.8" y2="939.3" stroke="#000" stroke-width="2.0" stroke-dasharray="4.2,3"/><path d="M535.5,743.2 L535.5,939.3 L787.9,939.3 M535.5,939.3 L535.5,947.5 M661.7,939.3 L661.7,947.5 M787.9,939.3 L787.9,947.5 M535.5,939.3 L527.3,939.3 M535.5,906.6 L527.3,906.6 M535.5,873.9 L527.3,873.9 M535.5,841.2 L527.3,841.2 M535.5,808.6 L527.3,808.6 M535.5,775.9 L527.3,775.9 M535.5,743.2 L527.3,743.2" fill="none" stroke="#000" stroke-width="1.9" stroke-linecap="square"/><text x="524.3" y="944.9" font-size="15" text-anchor="end" font-weight="bold" fill="#000">0.0</text><text x="524.3" y="912.2" font-size="15" text-anchor="end" font-weight="bold" fill="#000">0.5</text><text x="524.3" y="879.5" font-size="15" text-anchor="end" font-weight="bold" fill="#000">1.0</text><text x="524.3" y="846.9" font-size="15" text-anchor="end" font-weight="bold" fill="#000">1.5</text><text x="524.3" y="814.2" font-size="15" text-anchor="end" font-weight="bold" fill="#000">2.0</text><text x="524.3" y="781.5" font-size="15" text-anchor="end" font-weight="bold" fill="#000">2.5</text><text x="524.3" y="748.8" font-size="15" text-anchor="end" font-weight="bold" fill="#000">3.0</text><text x="535.5" y="965" font-size="15" text-anchor="middle" font-weight="bold" fill="#000">0</text><text x="661.7" y="965" font-size="15" text-anchor="middle" font-weight="bold" fill="#000">300</text><text x="787.9" y="965" font-size="15" text-anchor="middle" font-weight="bold" fill="#000">600</text><text x="661.7" y="988.5" font-size="16.6" text-anchor="middle" font-weight="bold" fill="#000">Time (s)</text><text transform="translate(495.7,841.2) rotate(-90)" font-size="16.8" text-anchor="middle" font-weight="bold" fill="#000">Binding (nm)</text><line x1="789.3" y1="773.5" x2="810.2" y2="773.5" stroke="#e07b22" stroke-width="1.7"/><text x="822.7" y="779.1" font-size="14.6" text-anchor="start" font-weight="bold" fill="#000">6-2C + BI-2C5B</text><line x1="789.3" y1="800.7" x2="810.2" y2="800.7" stroke="#2b2ba6" stroke-width="1.7"/><text x="822.7" y="806.3" font-size="14.6" text-anchor="start" font-weight="bold" fill="#000">6-2C + BI-5B2C</text><line x1="789.3" y1="827.9" x2="810.2" y2="827.9" stroke="#f9a55a" stroke-width="1.6"/><text x="822.7" y="833.5" font-size="14.6" text-anchor="start" font-weight="bold" fill="#000">Buffer + BI-2C5B</text><line x1="789.3" y1="855.1" x2="810.2" y2="855.1" stroke="#9d9dff" stroke-width="1.6"/><text x="822.7" y="860.7" font-size="14.6" text-anchor="start" font-weight="bold" fill="#000">Buffer + BI-5B2C</text><line x1="789.3" y1="882.3" x2="810.2" y2="882.3" stroke="#111111" stroke-width="1.6"/><text x="822.7" y="887.9" font-size="14.6" text-anchor="start" font-weight="bold" fill="#000">6-2C + 6-2C</text><path d="M1014.6,939.3 L1014.8,936.3 L1015,933.5 L1015.2,930.8 L1015.4,928.3 L1015.9,923.7 L1016.3,919.7 L1016.7,916.1 L1017.1,912.9 L1018,907.5 L1018.8,903.3 L1019.6,899.9 L1020.9,896.1 L1022.2,893.4 L1023.4,891.4 L1025.1,889.4 L1027.2,887.8 L1029.3,886.6 L1031.4,885.7 L1033.5,884.9 L1035.6,884.3 L1039.8,883.1 L1044,882.1 L1048.2,881.1 L1052.4,880.2 L1056.6,879.3 L1062.9,878.2 L1069.2,877.1 L1077.5,875.8 L1085.9,874.7 L1094.3,873.8 L1102.7,872.9 L1111.1,872.2 L1119.5,871.6 L1127.9,871 L1134.2,870.6 L1140.5,870.3 L1140.7,869.6 L1140.9,869 L1141.1,868.3 L1141.3,867.7 L1141.8,866.6 L1142.2,865.5 L1142.6,864.5 L1143,863.6 L1143.9,861.9 L1144.7,860.4 L1145.5,859 L1146.8,857.2 L1148.1,855.6 L1149.3,854.2 L1151,852.5 L1153.1,850.6 L1155.2,848.9 L1157.3,847.2 L1159.4,845.7 L1161.5,844.2 L1165.7,841.4 L1169.9,838.7 L1174.1,836.2 L1178.3,833.8 L1182.5,831.6 L1188.8,828.4 L1195.1,825.4 L1203.5,821.8 L1211.8,818.5 L1220.2,815.5 L1228.6,812.8 L1237,810.4 L1245.4,808.2 L1253.8,806.2 L1260.1,804.9 L1266.4,803.6" fill="none" stroke="#22901f" stroke-width="1.7" stroke-linejoin="round"/><path d="M1014.6,939.3 L1014.8,936.1 L1015,933 L1015.2,930.1 L1015.4,927.4 L1015.9,922.5 L1016.3,918.1 L1016.7,914.2 L1017.1,910.8 L1018,905 L1018.8,900.4 L1019.6,896.8 L1020.9,892.7 L1022.2,889.7 L1023.4,887.5 L1025.1,885.5 L1027.2,883.7 L1029.3,882.4 L1031.4,881.4 L1033.5,880.6 L1035.6,879.9 L1039.8,878.6 L1044,877.5 L1048.2,876.5 L1052.4,875.5 L1056.6,874.6 L1062.9,873.3 L1069.2,872.2 L1077.5,870.8 L1085.9,869.6 L1094.3,868.6 L1102.7,867.7 L1111.1,866.9 L1119.5,866.2 L1127.9,865.6 L1134.2,865.1 L1140.5,864.8 L1140.7,863.7 L1140.9,862.7 L1141.1,861.6 L1141.3,860.6 L1141.8,858.7 L1142.2,856.8 L1142.6,855.1 L1143,853.3 L1143.9,850.1 L1144.7,847.2 L1145.5,844.4 L1146.8,840.7 L1148.1,837.4 L1149.3,834.4 L1151,831 L1153.1,827.2 L1155.2,824 L1157.3,821.3 L1159.4,818.9 L1161.5,816.8 L1165.7,813.3 L1169.9,810.4 L1174.1,807.8 L1178.3,805.6 L1182.5,803.7 L1188.8,801 L1195.1,798.7 L1203.5,796 L1211.8,793.6 L1220.2,791.5 L1228.6,789.7 L1237,788.1 L1245.4,786.7 L1253.8,785.5 L1260.1,784.7 L1266.4,784" fill="none" stroke="#c01f6c" stroke-width="1.7" stroke-linejoin="round"/><path d="M1014.6,939.3 L1014.8,939.3 L1015,939.3 L1015.2,939.3 L1015.4,939.3 L1015.9,939.3 L1016.3,939.3 L1016.7,939.3 L1017.1,939.3 L1018,939.3 L1018.8,939.3 L1019.6,939.3 L1020.9,939.3 L1022.2,939.3 L1023.4,939.3 L1025.1,939.3 L1027.2,939.3 L1029.3,939.3 L1031.4,939.3 L1033.5,939.3 L1035.6,939.3 L1039.8,939.3 L1044,939.3 L1048.2,939.3 L1052.4,939.3 L1056.6,939.3 L1062.9,939.3 L1069.2,939.3 L1077.5,939.3 L1085.9,939.3 L1094.3,939.3 L1102.7,939.3 L1111.1,939.3 L1119.5,939.3 L1127.9,939.3 L1134.2,939.3 L1140.5,939.3 L1140.7,937 L1140.9,934.8 L1141.1,932.7 L1141.3,930.6 L1141.8,926.7 L1142.2,923.1 L1142.6,919.8 L1143,916.7 L1143.9,911.1 L1144.7,906.3 L1145.5,902.1 L1146.8,896.8 L1148.1,892.4 L1149.3,888.7 L1151,884.8 L1153.1,880.8 L1155.2,877.7 L1157.3,875.1 L1159.4,872.9 L1161.5,871 L1165.7,867.7 L1169.9,864.9 L1174.1,862.4 L1178.3,860.1 L1182.5,857.9 L1188.8,855.1 L1195.1,852.5 L1203.5,849.6 L1211.8,847 L1220.2,844.8 L1228.6,843 L1237,841.3 L1245.4,840 L1253.8,838.8 L1260.1,838 L1266.4,837.3" fill="none" stroke="#3fe03f" stroke-width="1.6" stroke-linejoin="round"/><path d="M1014.6,939.3 L1014.8,939.3 L1015,939.3 L1015.2,939.3 L1015.4,939.3 L1015.9,939.3 L1016.3,939.3 L1016.7,939.3 L1017.1,939.3 L1018,939.3 L1018.8,939.3 L1019.6,939.3 L1020.9,939.3 L1022.2,939.3 L1023.4,939.3 L1025.1,939.3 L1027.2,939.3 L1029.3,939.3 L1031.4,939.3 L1033.5,939.3 L1035.6,939.3 L1039.8,939.3 L1044,939.3 L1048.2,939.3 L1052.4,939.3 L1056.6,939.3 L1062.9,939.3 L1069.2,939.3 L1077.5,939.3 L1085.9,939.3 L1094.3,939.3 L1102.7,939.3 L1111.1,939.3 L1119.5,939.3 L1127.9,939.3 L1134.2,939.3 L1140.5,939.3 L1140.7,937 L1140.9,934.7 L1141.1,932.6 L1141.3,930.5 L1141.8,926.5 L1142.2,922.9 L1142.6,919.5 L1143,916.3 L1143.9,910.7 L1144.7,905.8 L1145.5,901.5 L1146.8,896.1 L1148.1,891.6 L1149.3,888 L1151,883.9 L1153.1,879.9 L1155.2,876.8 L1157.3,874.1 L1159.4,871.9 L1161.5,870 L1165.7,866.6 L1169.9,863.7 L1174.1,861.2 L1178.3,858.8 L1182.5,856.7 L1188.8,853.8 L1195.1,851.2 L1203.5,848.2 L1211.8,845.6 L1220.2,843.4 L1228.6,841.5 L1237,839.8 L1245.4,838.4 L1253.8,837.2 L1260.1,836.5 L1266.4,835.8" fill="none" stroke="#ff4fa6" stroke-width="1.6" stroke-linejoin="round"/><path d="M1014.6,939.3 L1014.8,936.7 L1015,934.3 L1015.2,932.1 L1015.4,929.9 L1015.9,926 L1016.3,922.6 L1016.7,919.5 L1017.1,916.8 L1018,912.2 L1018.8,908.6 L1019.6,905.7 L1020.9,902.3 L1022.2,899.9 L1023.4,898.1 L1025.1,896.4 L1027.2,894.9 L1029.3,893.7 L1031.4,892.8 L1033.5,892.1 L1035.6,891.4 L1039.8,890.2 L1044,889 L1048.2,888 L1052.4,887.1 L1056.6,886.2 L1062.9,884.9 L1069.2,883.8 L1077.5,882.5 L1085.9,881.3 L1094.3,880.3 L1102.7,879.4 L1111.1,878.6 L1119.5,877.9 L1127.9,877.3 L1134.2,876.9 L1140.5,876.5 L1140.7,876.5 L1140.9,876.5 L1141.1,876.5 L1141.3,876.4 L1141.8,876.4 L1142.2,876.3 L1142.6,876.3 L1143,876.3 L1143.9,876.2 L1144.7,876.1 L1145.5,876.1 L1146.8,876 L1148.1,875.9 L1149.3,875.9 L1151,875.8 L1153.1,875.8 L1155.2,875.7 L1157.3,875.6 L1159.4,875.6 L1161.5,875.5 L1165.7,875.5 L1169.9,875.4 L1174.1,875.3 L1178.3,875.2 L1182.5,875.1 L1188.8,875 L1195.1,874.9 L1203.5,874.8 L1211.8,874.7 L1220.2,874.6 L1228.6,874.5 L1237,874.4 L1245.4,874.3 L1253.8,874.3 L1260.1,874.2 L1266.4,874.2" fill="none" stroke="#111111" stroke-width="1.4" stroke-linejoin="round"/><line x1="1142.9" y1="743.2" x2="1142.9" y2="939.3" stroke="#000" stroke-width="2.0" stroke-dasharray="4.2,3"/><path d="M1014.6,743.2 L1014.6,939.3 L1266.4,939.3 M1014.6,939.3 L1014.6,947.5 M1140.5,939.3 L1140.5,947.5 M1266.4,939.3 L1266.4,947.5 M1014.6,939.3 L1006.4,939.3 M1014.6,900.1 L1006.4,900.1 M1014.6,860.9 L1006.4,860.9 M1014.6,821.6 L1006.4,821.6 M1014.6,782.4 L1006.4,782.4 M1014.6,743.2 L1006.4,743.2" fill="none" stroke="#000" stroke-width="1.9" stroke-linecap="square"/><text x="1003.4" y="944.9" font-size="15" text-anchor="end" font-weight="bold" fill="#000">0.0</text><text x="1003.4" y="905.7" font-size="15" text-anchor="end" font-weight="bold" fill="#000">0.5</text><text x="1003.4" y="866.5" font-size="15" text-anchor="end" font-weight="bold" fill="#000">1.0</text><text x="1003.4" y="827.2" font-size="15" text-anchor="end" font-weight="bold" fill="#000">1.5</text><text x="1003.4" y="788" font-size="15" text-anchor="end" font-weight="bold" fill="#000">2.0</text><text x="1003.4" y="748.8" font-size="15" text-anchor="end" font-weight="bold" fill="#000">2.5</text><text x="1014.6" y="965" font-size="15" text-anchor="middle" font-weight="bold" fill="#000">0</text><text x="1140.5" y="965" font-size="15" text-anchor="middle" font-weight="bold" fill="#000">300</text><text x="1266.4" y="965" font-size="15" text-anchor="middle" font-weight="bold" fill="#000">600</text><text x="1140.5" y="988.5" font-size="16.6" text-anchor="middle" font-weight="bold" fill="#000">Time (s)</text><text transform="translate(974.8,841.2) rotate(-90)" font-size="16.8" text-anchor="middle" font-weight="bold" fill="#000">Binding (nm)</text><line x1="1270" y1="783.9" x2="1290.8" y2="783.9" stroke="#22901f" stroke-width="1.7"/><text x="1303.3" y="789.5" font-size="14.6" text-anchor="start" font-weight="bold" fill="#000">13-1C + BI-2C1C</text><line x1="1270" y1="811.1" x2="1290.8" y2="811.1" stroke="#c01f6c" stroke-width="1.7"/><text x="1303.3" y="816.8" font-size="14.6" text-anchor="start" font-weight="bold" fill="#000">13-1C + BI-1C2C</text><line x1="1270" y1="838.4" x2="1290.8" y2="838.4" stroke="#3fe03f" stroke-width="1.6"/><text x="1303.3" y="844" font-size="14.6" text-anchor="start" font-weight="bold" fill="#000">Buffer + BI-2C1C</text><line x1="1270" y1="865.6" x2="1290.8" y2="865.6" stroke="#ff4fa6" stroke-width="1.6"/><text x="1303.3" y="871.2" font-size="14.6" text-anchor="start" font-weight="bold" fill="#000">Buffer + BI-1C2C</text><line x1="1270" y1="892.9" x2="1290.8" y2="892.9" stroke="#111111" stroke-width="1.6"/><text x="1303.3" y="898.5" font-size="14.6" text-anchor="start" font-weight="bold" fill="#000">13-1C + 13-1C</text><path d="M1501.6,939.3 L1501.8,937.7 L1502,936.2 L1502.2,934.7 L1502.4,933.3 L1502.9,930.6 L1503.3,928.1 L1503.7,925.8 L1504.1,923.6 L1505,919.8 L1505.8,916.5 L1506.6,913.6 L1507.9,909.9 L1509.2,906.9 L1510.4,904.4 L1512.1,901.7 L1514.2,899.1 L1516.3,897 L1518.4,895.2 L1520.5,893.8 L1522.6,892.5 L1526.8,890.2 L1531,888.3 L1535.3,886.6 L1539.5,885 L1543.7,883.5 L1550,881.5 L1556.3,879.7 L1564.7,877.5 L1573.1,875.6 L1581.5,874 L1589.9,872.5 L1598.4,871.2 L1606.8,870.1 L1615.2,869.2 L1621.5,868.5 L1627.8,867.9 L1628,865.7 L1628.2,863.6 L1628.4,861.7 L1628.6,859.8 L1629.1,856.2 L1629.5,853 L1629.9,850 L1630.3,847.3 L1631.2,842.6 L1632,838.7 L1632.8,835.3 L1634.1,831.3 L1635.4,828.1 L1636.6,825.5 L1638.3,822.9 L1640.4,820.3 L1642.5,818.4 L1644.6,816.8 L1646.7,815.4 L1648.8,814.2 L1653,812.1 L1657.2,810.3 L1661.5,808.6 L1665.7,807.1 L1669.9,805.7 L1676.2,803.7 L1682.5,802 L1690.9,800 L1699.3,798.3 L1707.7,796.9 L1716.1,795.6 L1724.6,794.5 L1733,793.6 L1741.4,792.8 L1747.7,792.3 L1754,791.8" fill="none" stroke="#2f8a6a" stroke-width="1.7" stroke-linejoin="round"/><path d="M1501.6,939.3 L1501.8,937.9 L1502,936.5 L1502.2,935.2 L1502.4,933.9 L1502.9,931.4 L1503.3,929.1 L1503.7,927 L1504.1,924.9 L1505,921.2 L1505.8,918 L1506.6,915.1 L1507.9,911.3 L1509.2,908.1 L1510.4,905.5 L1512.1,902.5 L1514.2,899.5 L1516.3,897 L1518.4,895 L1520.5,893.4 L1522.6,891.9 L1526.8,889.4 L1531,887.3 L1535.3,885.5 L1539.5,883.9 L1543.7,882.3 L1550,880.2 L1556.3,878.4 L1564.7,876.2 L1573.1,874.2 L1581.5,872.5 L1589.9,871 L1598.4,869.7 L1606.8,868.6 L1615.2,867.6 L1621.5,867 L1627.8,866.4 L1628,864.1 L1628.2,861.9 L1628.4,859.9 L1628.6,857.9 L1629.1,854.3 L1629.5,850.9 L1629.9,847.9 L1630.3,845.1 L1631.2,840.3 L1632,836.2 L1632.8,832.7 L1634.1,828.6 L1635.4,825.3 L1636.6,822.6 L1638.3,819.9 L1640.4,817.3 L1642.5,815.3 L1644.6,813.6 L1646.7,812.2 L1648.8,811 L1653,808.8 L1657.2,806.9 L1661.5,805.2 L1665.7,803.6 L1669.9,802.2 L1676.2,800.2 L1682.5,798.4 L1690.9,796.4 L1699.3,794.6 L1707.7,793.1 L1716.1,791.8 L1724.6,790.7 L1733,789.7 L1741.4,788.9 L1747.7,788.4 L1754,787.9" fill="none" stroke="#d21f72" stroke-width="1.7" stroke-linejoin="round"/><path d="M1501.6,939.3 L1501.8,939.3 L1502,939.3 L1502.2,939.3 L1502.4,939.3 L1502.9,939.3 L1503.3,939.3 L1503.7,939.3 L1504.1,939.3 L1505,939.3 L1505.8,939.3 L1506.6,939.3 L1507.9,939.3 L1509.2,939.3 L1510.4,939.3 L1512.1,939.3 L1514.2,939.3 L1516.3,939.3 L1518.4,939.3 L1520.5,939.3 L1522.6,939.3 L1526.8,939.3 L1531,939.3 L1535.3,939.3 L1539.5,939.3 L1543.7,939.3 L1550,939.3 L1556.3,939.3 L1564.7,939.3 L1573.1,939.3 L1581.5,939.3 L1589.9,939.3 L1598.4,939.3 L1606.8,939.3 L1615.2,939.3 L1621.5,939.3 L1627.8,939.3 L1628,936.9 L1628.2,934.6 L1628.4,932.4 L1628.6,930.2 L1629.1,926.1 L1629.5,922.2 L1629.9,918.6 L1630.3,915.2 L1631.2,909.1 L1632,903.7 L1632.8,898.9 L1634.1,892.8 L1635.4,887.7 L1636.6,883.4 L1638.3,878.7 L1640.4,874.2 L1642.5,870.6 L1644.6,867.7 L1646.7,865.4 L1648.8,863.5 L1653,860.3 L1657.2,857.8 L1661.5,855.7 L1665.7,853.9 L1669.9,852.3 L1676.2,850.1 L1682.5,848.2 L1690.9,846 L1699.3,844.1 L1707.7,842.5 L1716.1,841.2 L1724.6,840.1 L1733,839.1 L1741.4,838.3 L1747.7,837.8 L1754,837.3" fill="none" stroke="#3fe8b6" stroke-width="1.6" stroke-linejoin="round"/><path d="M1501.6,939.3 L1501.8,939.3 L1502,939.3 L1502.2,939.3 L1502.4,939.3 L1502.9,939.3 L1503.3,939.3 L1503.7,939.3 L1504.1,939.3 L1505,939.3 L1505.8,939.3 L1506.6,939.3 L1507.9,939.3 L1509.2,939.3 L1510.4,939.3 L1512.1,939.3 L1514.2,939.3 L1516.3,939.3 L1518.4,939.3 L1520.5,939.3 L1522.6,939.3 L1526.8,939.3 L1531,939.3 L1535.3,939.3 L1539.5,939.3 L1543.7,939.3 L1550,939.3 L1556.3,939.3 L1564.7,939.3 L1573.1,939.3 L1581.5,939.3 L1589.9,939.3 L1598.4,939.3 L1606.8,939.3 L1615.2,939.3 L1621.5,939.3 L1627.8,939.3 L1628,936.9 L1628.2,934.5 L1628.4,932.2 L1628.6,930 L1629.1,925.9 L1629.5,921.9 L1629.9,918.3 L1630.3,914.8 L1631.2,908.6 L1632,903.1 L1632.8,898.3 L1634.1,892.1 L1635.4,886.9 L1636.6,882.5 L1638.3,877.8 L1640.4,873.2 L1642.5,869.5 L1644.6,866.6 L1646.7,864.3 L1648.8,862.3 L1653,859.1 L1657.2,856.6 L1661.5,854.5 L1665.7,852.6 L1669.9,850.9 L1676.2,848.7 L1682.5,846.8 L1690.9,844.5 L1699.3,842.6 L1707.7,841 L1716.1,839.7 L1724.6,838.5 L1733,837.6 L1741.4,836.8 L1747.7,836.2 L1754,835.8" fill="none" stroke="#ff7fb2" stroke-width="1.6" stroke-linejoin="round"/><path d="M1501.6,939.3 L1501.8,937.3 L1502,935.4 L1502.2,933.5 L1502.4,931.7 L1502.9,928.4 L1503.3,925.2 L1503.7,922.4 L1504.1,919.7 L1505,914.9 L1505.8,910.7 L1506.6,907.2 L1507.9,902.6 L1509.2,899 L1510.4,896 L1512.1,892.7 L1514.2,889.6 L1516.3,887.2 L1518.4,885.3 L1520.5,883.7 L1522.6,882.3 L1526.8,880.1 L1531,878.3 L1535.3,876.7 L1539.5,875.3 L1543.7,874.1 L1550,872.5 L1556.3,871.1 L1564.7,869.5 L1573.1,868.2 L1581.5,867.2 L1589.9,866.3 L1598.4,865.6 L1606.8,865 L1615.2,864.5 L1621.5,864.3 L1627.8,864 L1628,864 L1628.2,864 L1628.4,864 L1628.6,864 L1629.1,863.9 L1629.5,863.9 L1629.9,863.9 L1630.3,863.9 L1631.2,863.9 L1632,863.9 L1632.8,863.8 L1634.1,863.8 L1635.4,863.8 L1636.6,863.8 L1638.3,863.8 L1640.4,863.7 L1642.5,863.7 L1644.6,863.7 L1646.7,863.7 L1648.8,863.7 L1653,863.6 L1657.2,863.6 L1661.5,863.6 L1665.7,863.5 L1669.9,863.5 L1676.2,863.5 L1682.5,863.5 L1690.9,863.4 L1699.3,863.4 L1707.7,863.3 L1716.1,863.3 L1724.6,863.3 L1733,863.3 L1741.4,863.2 L1747.7,863.2 L1754,863.2" fill="none" stroke="#111111" stroke-width="1.4" stroke-linejoin="round"/><line x1="1629.9" y1="743.2" x2="1629.9" y2="939.3" stroke="#000" stroke-width="2.0" stroke-dasharray="4.2,3"/><path d="M1501.6,743.2 L1501.6,939.3 L1754,939.3 M1501.6,939.3 L1501.6,947.5 M1627.8,939.3 L1627.8,947.5 M1754,939.3 L1754,947.5 M1501.6,939.3 L1493.4,939.3 M1501.6,900.1 L1493.4,900.1 M1501.6,860.9 L1493.4,860.9 M1501.6,821.6 L1493.4,821.6 M1501.6,782.4 L1493.4,782.4 M1501.6,743.2 L1493.4,743.2" fill="none" stroke="#000" stroke-width="1.9" stroke-linecap="square"/><text x="1490.4" y="944.9" font-size="15" text-anchor="end" font-weight="bold" fill="#000">0.0</text><text x="1490.4" y="905.7" font-size="15" text-anchor="end" font-weight="bold" fill="#000">0.5</text><text x="1490.4" y="866.5" font-size="15" text-anchor="end" font-weight="bold" fill="#000">1.0</text><text x="1490.4" y="827.2" font-size="15" text-anchor="end" font-weight="bold" fill="#000">1.5</text><text x="1490.4" y="788" font-size="15" text-anchor="end" font-weight="bold" fill="#000">2.0</text><text x="1490.4" y="748.8" font-size="15" text-anchor="end" font-weight="bold" fill="#000">2.5</text><text x="1501.6" y="965" font-size="15" text-anchor="middle" font-weight="bold" fill="#000">0</text><text x="1627.8" y="965" font-size="15" text-anchor="middle" font-weight="bold" fill="#000">300</text><text x="1754" y="965" font-size="15" text-anchor="middle" font-weight="bold" fill="#000">600</text><text x="1627.8" y="988.5" font-size="16.6" text-anchor="middle" font-weight="bold" fill="#000">Time (s)</text><text transform="translate(1461.8,841.2) rotate(-90)" font-size="16.8" text-anchor="middle" font-weight="bold" fill="#000">Binding (nm)</text><line x1="1759.3" y1="789.3" x2="1780.2" y2="789.3" stroke="#2f8a6a" stroke-width="1.7"/><text x="1792.1" y="794.9" font-size="14.6" text-anchor="start" font-weight="bold" fill="#000">6-2C + BI-2C1C</text><line x1="1759.3" y1="816.5" x2="1780.2" y2="816.5" stroke="#d21f72" stroke-width="1.7"/><text x="1792.1" y="822.1" font-size="14.6" text-anchor="start" font-weight="bold" fill="#000">6-2C + BI-1C2C</text><line x1="1759.3" y1="843.8" x2="1780.2" y2="843.8" stroke="#3fe8b6" stroke-width="1.6"/><text x="1792.1" y="849.4" font-size="14.6" text-anchor="start" font-weight="bold" fill="#000">Buffer + BI-2C1C</text><line x1="1759.3" y1="871" x2="1780.2" y2="871" stroke="#ff7fb2" stroke-width="1.6"/><text x="1792.1" y="876.6" font-size="14.6" text-anchor="start" font-weight="bold" fill="#000">Buffer + BI-1C2C</text><line x1="1759.3" y1="898.3" x2="1780.2" y2="898.3" stroke="#111111" stroke-width="1.6"/><text x="1792.1" y="903.9" font-size="14.6" text-anchor="start" font-weight="bold" fill="#000">6-2C + 6-2C</text><path d="M55.7,1267.4 L55.9,1254.7 L56.1,1243.6 L56.3,1233.7 L56.5,1224.9 L57,1210.3 L57.4,1198.9 L57.8,1189.9 L58.2,1182.8 L59.1,1172.8 L59.9,1166.4 L60.7,1162.3 L62,1158.5 L63.3,1156.2 L64.5,1154.6 L66.2,1153.1 L68.3,1151.4 L70.4,1149.9 L72.5,1148.6 L74.6,1147.2 L76.7,1146 L80.9,1143.6 L85.1,1141.4 L89.3,1139.4 L93.5,1137.6 L97.8,1135.9 L104.1,1133.6 L110.4,1131.6 L118.8,1129.2 L127.2,1127.3 L135.6,1125.6 L144,1124.2 L152.4,1123 L160.8,1122 L169.2,1121.1 L175.5,1120.5 L181.9,1120 L182.1,1120 L182.3,1119.9 L182.5,1119.9 L182.7,1119.9 L183.1,1119.8 L183.5,1119.7 L184,1119.6 L184.4,1119.5 L185.2,1119.4 L186.1,1119.2 L186.9,1119.1 L188.2,1118.9 L189.4,1118.8 L190.7,1118.6 L192.4,1118.4 L194.5,1118.2 L196.6,1118.1 L198.7,1117.9 L200.8,1117.8 L202.9,1117.7 L207.1,1117.4 L211.3,1117.2 L215.5,1117.1 L219.7,1116.9 L223.9,1116.8 L230.2,1116.6 L236.5,1116.4 L244.9,1116.2 L253.3,1116 L261.7,1115.9 L270.2,1115.7 L278.6,1115.6 L287,1115.5 L295.4,1115.4 L301.7,1115.4 L308,1115.3" fill="none" stroke="#e0964e" stroke-width="1.9" stroke-linejoin="round"/><path d="M55.7,1267.4 L55.9,1254.2 L56.1,1242.5 L56.3,1232.2 L56.5,1223.1 L57,1207.9 L57.4,1196 L57.8,1186.6 L58.2,1179.3 L59.1,1168.9 L59.9,1162.3 L60.7,1158.1 L62,1154.2 L63.3,1151.9 L64.5,1150.4 L66.2,1148.8 L68.3,1147.3 L70.4,1145.9 L72.5,1144.6 L74.6,1143.3 L76.7,1142.2 L80.9,1139.9 L85.1,1137.9 L89.3,1136 L93.5,1134.2 L97.8,1132.6 L104.1,1130.5 L110.4,1128.6 L118.8,1126.3 L127.2,1124.5 L135.6,1122.9 L144,1121.6 L152.4,1120.4 L160.8,1119.5 L169.2,1118.7 L175.5,1118.1 L181.9,1117.7 L182.1,1117.7 L182.3,1117.7 L182.5,1117.7 L182.7,1117.6 L183.1,1117.6 L183.5,1117.6 L184,1117.6 L184.4,1117.6 L185.2,1117.6 L186.1,1117.5 L186.9,1117.5 L188.2,1117.5 L189.4,1117.5 L190.7,1117.4 L192.4,1117.4 L194.5,1117.4 L196.6,1117.4 L198.7,1117.3 L200.8,1117.3 L202.9,1117.3 L207.1,1117.2 L211.3,1117.2 L215.5,1117.2 L219.7,1117.2 L223.9,1117.1 L230.2,1117.1 L236.5,1117.1 L244.9,1117 L253.3,1117 L261.7,1117 L270.2,1117 L278.6,1116.9 L287,1116.9 L295.4,1116.9 L301.7,1116.9 L308,1116.9" fill="none" stroke="#2b2ba6" stroke-width="1.7" stroke-linejoin="round"/><path d="M55.7,1267.4 L55.9,1267.4 L56.1,1267.4 L56.3,1267.4 L56.5,1267.4 L57,1267.4 L57.4,1267.4 L57.8,1267.4 L58.2,1267.4 L59.1,1267.4 L59.9,1267.4 L60.7,1267.4 L62,1267.4 L63.3,1267.4 L64.5,1267.4 L66.2,1267.4 L68.3,1267.4 L70.4,1267.4 L72.5,1267.4 L74.6,1267.4 L76.7,1267.4 L80.9,1267.4 L85.1,1267.4 L89.3,1267.4 L93.5,1267.4 L97.8,1267.4 L104.1,1267.4 L110.4,1267.4 L118.8,1267.4 L127.2,1267.4 L135.6,1267.4 L144,1267.4 L152.4,1267.4 L160.8,1267.4 L169.2,1267.4 L175.5,1267.4 L181.9,1267.4 L182.1,1261.4 L182.3,1255.7 L182.5,1250.3 L182.7,1245.3 L183.1,1236.1 L183.5,1228 L184,1220.7 L184.4,1214.3 L185.2,1203.6 L186.1,1195.1 L186.9,1188.4 L188.2,1180.8 L189.4,1175.3 L190.7,1171.3 L192.4,1167.5 L194.5,1164.3 L196.6,1162.1 L198.7,1160.4 L200.8,1159 L202.9,1157.9 L207.1,1155.9 L211.3,1154.2 L215.5,1152.6 L219.7,1151.2 L223.9,1150 L230.2,1148.3 L236.5,1146.9 L244.9,1145.3 L253.3,1144 L261.7,1143 L270.2,1142.1 L278.6,1141.4 L287,1140.8 L295.4,1140.3 L301.7,1140 L308,1139.7" fill="none" stroke="#ffbe7a" stroke-width="1.5" stroke-linejoin="round"/><path d="M55.7,1267.4 L55.9,1267.4 L56.1,1267.4 L56.3,1267.4 L56.5,1267.4 L57,1267.4 L57.4,1267.4 L57.8,1267.4 L58.2,1267.4 L59.1,1267.4 L59.9,1267.4 L60.7,1267.4 L62,1267.4 L63.3,1267.4 L64.5,1267.4 L66.2,1267.4 L68.3,1267.4 L70.4,1267.4 L72.5,1267.4 L74.6,1267.4 L76.7,1267.4 L80.9,1267.4 L85.1,1267.4 L89.3,1267.4 L93.5,1267.4 L97.8,1267.4 L104.1,1267.4 L110.4,1267.4 L118.8,1267.4 L127.2,1267.4 L135.6,1267.4 L144,1267.4 L152.4,1267.4 L160.8,1267.4 L169.2,1267.4 L175.5,1267.4 L181.9,1267.4 L182.1,1265.7 L182.3,1264 L182.5,1262.4 L182.7,1260.9 L183.1,1257.8 L183.5,1255 L184,1252.3 L184.4,1249.7 L185.2,1244.9 L186.1,1240.6 L186.9,1236.7 L188.2,1231.4 L189.4,1226.8 L190.7,1222.8 L192.4,1218.1 L194.5,1213.1 L196.6,1208.9 L198.7,1205.2 L200.8,1201.9 L202.9,1199 L207.1,1193.9 L211.3,1189.4 L215.5,1185.5 L219.7,1182 L223.9,1178.8 L230.2,1174.5 L236.5,1170.7 L244.9,1166.3 L253.3,1162.6 L261.7,1159.5 L270.2,1156.9 L278.6,1154.6 L287,1152.8 L295.4,1151.2 L301.7,1150.1 L308,1149.2" fill="none" stroke="#9d9dff" stroke-width="1.5" stroke-linejoin="round"/><path d="M55.7,1267.4 L55.9,1258.1 L56.1,1249.6 L56.3,1241.9 L56.5,1235 L57,1222.9 L57.4,1212.9 L57.8,1204.7 L58.2,1197.9 L59.1,1187.6 L59.9,1180.4 L60.7,1175.3 L62,1170.2 L63.3,1166.8 L64.5,1164.5 L66.2,1162.2 L68.3,1160.1 L70.4,1158.2 L72.5,1156.5 L74.6,1154.9 L76.7,1153.4 L80.9,1150.6 L85.1,1148 L89.3,1145.6 L93.5,1143.4 L97.8,1141.3 L104.1,1138.6 L110.4,1136.2 L118.8,1133.4 L127.2,1131 L135.6,1129 L144,1127.3 L152.4,1125.9 L160.8,1124.7 L169.2,1123.7 L175.5,1123 L181.9,1122.4 L182.1,1122.4 L182.3,1122.3 L182.5,1122.3 L182.7,1122.2 L183.1,1122.1 L183.5,1122.1 L184,1122 L184.4,1121.9 L185.2,1121.7 L186.1,1121.6 L186.9,1121.5 L188.2,1121.3 L189.4,1121.1 L190.7,1121 L192.4,1120.8 L194.5,1120.6 L196.6,1120.4 L198.7,1120.3 L200.8,1120.1 L202.9,1120 L207.1,1119.8 L211.3,1119.6 L215.5,1119.4 L219.7,1119.3 L223.9,1119.1 L230.2,1118.9 L236.5,1118.8 L244.9,1118.6 L253.3,1118.4 L261.7,1118.2 L270.2,1118.1 L278.6,1118 L287,1117.9 L295.4,1117.8 L301.7,1117.7 L308,1117.7" fill="none" stroke="#111111" stroke-width="1.4" stroke-linejoin="round"/><line x1="183.9" y1="1070.4" x2="183.9" y2="1267.4" stroke="#000" stroke-width="2.0" stroke-dasharray="4.2,3"/><path d="M55.7,1070.4 L55.7,1267.4 L308,1267.4 M55.7,1267.4 L55.7,1275.6 M181.9,1267.4 L181.9,1275.6 M308,1267.4 L308,1275.6 M55.7,1267.4 L47.5,1267.4 M55.7,1228 L47.5,1228 M55.7,1188.6 L47.5,1188.6 M55.7,1149.2 L47.5,1149.2 M55.7,1109.8 L47.5,1109.8 M55.7,1070.4 L47.5,1070.4" fill="none" stroke="#000" stroke-width="1.9" stroke-linecap="square"/><text x="44.5" y="1273" font-size="15" text-anchor="end" font-weight="bold" fill="#000">0.0</text><text x="44.5" y="1233.6" font-size="15" text-anchor="end" font-weight="bold" fill="#000">0.5</text><text x="44.5" y="1194.2" font-size="15" text-anchor="end" font-weight="bold" fill="#000">1.0</text><text x="44.5" y="1154.8" font-size="15" text-anchor="end" font-weight="bold" fill="#000">1.5</text><text x="44.5" y="1115.4" font-size="15" text-anchor="end" font-weight="bold" fill="#000">2.0</text><text x="44.5" y="1076" font-size="15" text-anchor="end" font-weight="bold" fill="#000">2.5</text><text x="55.7" y="1293.1" font-size="15" text-anchor="middle" font-weight="bold" fill="#000">0</text><text x="181.9" y="1293.1" font-size="15" text-anchor="middle" font-weight="bold" fill="#000">300</text><text x="308" y="1293.1" font-size="15" text-anchor="middle" font-weight="bold" fill="#000">600</text><text x="181.8" y="1316.6" font-size="16.6" text-anchor="middle" font-weight="bold" fill="#000">Time (s)</text><text transform="translate(15.9,1168.9) rotate(-90)" font-size="16.8" text-anchor="middle" font-weight="bold" fill="#000">Binding (nm)</text><line x1="312.5" y1="1116.5" x2="333.3" y2="1116.5" stroke="#e0964e" stroke-width="1.9"/><text x="345.2" y="1122.1" font-size="14.6" text-anchor="start" font-weight="bold" fill="#000">BI-2C5B + 10-5B</text><line x1="312.5" y1="1143.9" x2="333.3" y2="1143.9" stroke="#2b2ba6" stroke-width="1.7"/><text x="345.2" y="1149.5" font-size="14.6" text-anchor="start" font-weight="bold" fill="#000">BI-2C5B + 6-2C</text><line x1="312.5" y1="1171.3" x2="333.3" y2="1171.3" stroke="#ffbe7a" stroke-width="1.6"/><text x="345.2" y="1176.9" font-size="14.6" text-anchor="start" font-weight="bold" fill="#000">Buffer + 10-5B</text><line x1="312.5" y1="1198.7" x2="333.3" y2="1198.7" stroke="#9d9dff" stroke-width="1.6"/><text x="345.2" y="1204.3" font-size="14.6" text-anchor="start" font-weight="bold" fill="#000">Buffer + 6-2C</text><line x1="312.5" y1="1226.1" x2="333.3" y2="1226.1" stroke="#111111" stroke-width="1.6"/><text x="345.2" y="1231.7" font-size="14.6" text-anchor="start" font-weight="bold" fill="#000">BI-2C5B + BI-2C5B</text><path d="M535.5,1267.7 L535.7,1256.7 L535.9,1247 L536.1,1238.5 L536.3,1230.9 L536.8,1218.2 L537.2,1208.3 L537.6,1200.5 L538,1194.4 L538.9,1185.7 L539.7,1180.2 L540.5,1176.7 L541.8,1173.4 L543.1,1171.4 L544.3,1170 L546,1168.6 L548.1,1167.2 L550.2,1166 L552.3,1164.8 L554.4,1163.6 L556.5,1162.5 L560.7,1160.5 L564.9,1158.6 L569.2,1156.8 L573.4,1155.2 L577.6,1153.8 L583.9,1151.8 L590.2,1150 L598.6,1148 L607,1146.3 L615.4,1144.8 L623.8,1143.6 L632.3,1142.6 L640.7,1141.7 L649.1,1141 L655.4,1140.5 L661.7,1140 L661.9,1140 L662.1,1139.9 L662.3,1139.9 L662.5,1139.8 L663,1139.7 L663.4,1139.6 L663.8,1139.5 L664.2,1139.4 L665.1,1139.3 L665.9,1139.1 L666.7,1139 L668,1138.7 L669.3,1138.6 L670.5,1138.4 L672.2,1138.2 L674.3,1137.9 L676.4,1137.7 L678.5,1137.6 L680.6,1137.4 L682.7,1137.3 L686.9,1137 L691.1,1136.8 L695.4,1136.6 L699.6,1136.4 L703.8,1136.2 L710.1,1136 L716.4,1135.8 L724.8,1135.6 L733.2,1135.4 L741.6,1135.2 L750,1135 L758.5,1134.9 L766.9,1134.8 L775.3,1134.7 L781.6,1134.6 L787.9,1134.5" fill="none" stroke="#e0964e" stroke-width="1.9" stroke-linejoin="round"/><path d="M535.5,1267.7 L535.7,1256.2 L535.9,1246.1 L536.1,1237.2 L536.3,1229.2 L536.8,1216 L537.2,1205.7 L537.6,1197.5 L538,1191.2 L538.9,1182.1 L539.7,1176.4 L540.5,1172.8 L541.8,1169.4 L543.1,1167.4 L544.3,1166.1 L546,1164.7 L548.1,1163.4 L550.2,1162.2 L552.3,1161 L554.4,1160 L556.5,1158.9 L560.7,1157 L564.9,1155.2 L569.2,1153.6 L573.4,1152.1 L577.6,1150.7 L583.9,1148.8 L590.2,1147.1 L598.6,1145.2 L607,1143.6 L615.4,1142.2 L623.8,1141.1 L632.3,1140.1 L640.7,1139.2 L649.1,1138.5 L655.4,1138.1 L661.7,1137.7 L661.9,1137.6 L662.1,1137.6 L662.3,1137.6 L662.5,1137.5 L663,1137.5 L663.4,1137.4 L663.8,1137.3 L664.2,1137.2 L665.1,1137.1 L665.9,1137 L666.7,1136.9 L668,1136.8 L669.3,1136.6 L670.5,1136.5 L672.2,1136.3 L674.3,1136.2 L676.4,1136 L678.5,1135.9 L680.6,1135.8 L682.7,1135.7 L686.9,1135.5 L691.1,1135.3 L695.4,1135.2 L699.6,1135.1 L703.8,1135 L710.1,1134.8 L716.4,1134.7 L724.8,1134.5 L733.2,1134.3 L741.6,1134.2 L750,1134.1 L758.5,1134 L766.9,1133.9 L775.3,1133.8 L781.6,1133.8 L787.9,1133.7" fill="none" stroke="#2b2ba6" stroke-width="1.7" stroke-linejoin="round"/><path d="M535.5,1267.7 L535.7,1267.7 L535.9,1267.7 L536.1,1267.7 L536.3,1267.7 L536.8,1267.7 L537.2,1267.7 L537.6,1267.7 L538,1267.7 L538.9,1267.7 L539.7,1267.7 L540.5,1267.7 L541.8,1267.7 L543.1,1267.7 L544.3,1267.7 L546,1267.7 L548.1,1267.7 L550.2,1267.7 L552.3,1267.7 L554.4,1267.7 L556.5,1267.7 L560.7,1267.7 L564.9,1267.7 L569.2,1267.7 L573.4,1267.7 L577.6,1267.7 L583.9,1267.7 L590.2,1267.7 L598.6,1267.7 L607,1267.7 L615.4,1267.7 L623.8,1267.7 L632.3,1267.7 L640.7,1267.7 L649.1,1267.7 L655.4,1267.7 L661.7,1267.7 L661.9,1261.7 L662.1,1256 L662.3,1250.6 L662.5,1245.6 L663,1236.4 L663.4,1228.3 L663.8,1221 L664.2,1214.6 L665.1,1203.9 L665.9,1195.4 L666.7,1188.7 L668,1181.1 L669.3,1175.6 L670.5,1171.6 L672.2,1167.8 L674.3,1164.6 L676.4,1162.4 L678.5,1160.7 L680.6,1159.3 L682.7,1158.2 L686.9,1156.2 L691.1,1154.5 L695.4,1152.9 L699.6,1151.5 L703.8,1150.3 L710.1,1148.6 L716.4,1147.2 L724.8,1145.6 L733.2,1144.3 L741.6,1143.3 L750,1142.4 L758.5,1141.7 L766.9,1141.1 L775.3,1140.6 L781.6,1140.3 L787.9,1140" fill="none" stroke="#ffbe7a" stroke-width="1.5" stroke-linejoin="round"/><path d="M535.5,1267.7 L535.7,1267.7 L535.9,1267.7 L536.1,1267.7 L536.3,1267.7 L536.8,1267.7 L537.2,1267.7 L537.6,1267.7 L538,1267.7 L538.9,1267.7 L539.7,1267.7 L540.5,1267.7 L541.8,1267.7 L543.1,1267.7 L544.3,1267.7 L546,1267.7 L548.1,1267.7 L550.2,1267.7 L552.3,1267.7 L554.4,1267.7 L556.5,1267.7 L560.7,1267.7 L564.9,1267.7 L569.2,1267.7 L573.4,1267.7 L577.6,1267.7 L583.9,1267.7 L590.2,1267.7 L598.6,1267.7 L607,1267.7 L615.4,1267.7 L623.8,1267.7 L632.3,1267.7 L640.7,1267.7 L649.1,1267.7 L655.4,1267.7 L661.7,1267.7 L661.9,1266 L662.1,1264.3 L662.3,1262.7 L662.5,1261.2 L663,1258.1 L663.4,1255.3 L663.8,1252.6 L664.2,1250 L665.1,1245.2 L665.9,1240.9 L666.7,1237 L668,1231.7 L669.3,1227.1 L670.5,1223.1 L672.2,1218.4 L674.3,1213.4 L676.4,1209.2 L678.5,1205.5 L680.6,1202.2 L682.7,1199.3 L686.9,1194.2 L691.1,1189.7 L695.4,1185.8 L699.6,1182.3 L703.8,1179.1 L710.1,1174.8 L716.4,1171 L724.8,1166.6 L733.2,1162.9 L741.6,1159.8 L750,1157.2 L758.5,1154.9 L766.9,1153.1 L775.3,1151.5 L781.6,1150.4 L787.9,1149.5" fill="none" stroke="#9d9dff" stroke-width="1.5" stroke-linejoin="round"/><path d="M535.5,1267.7 L535.7,1259.5 L535.9,1252 L536.1,1245.3 L536.3,1239.1 L536.8,1228.5 L537.2,1219.8 L537.6,1212.5 L538,1206.5 L538.9,1197.4 L539.7,1191.1 L540.5,1186.6 L541.8,1182.1 L543.1,1179.2 L544.3,1177.1 L546,1175.1 L548.1,1173.2 L550.2,1171.6 L552.3,1170.1 L554.4,1168.7 L556.5,1167.3 L560.7,1164.8 L564.9,1162.5 L569.2,1160.4 L573.4,1158.5 L577.6,1156.7 L583.9,1154.3 L590.2,1152.2 L598.6,1149.7 L607,1147.6 L615.4,1145.9 L623.8,1144.4 L632.3,1143.1 L640.7,1142.1 L649.1,1141.1 L655.4,1140.6 L661.7,1140 L661.9,1140 L662.1,1139.9 L662.3,1139.9 L662.5,1139.8 L663,1139.7 L663.4,1139.6 L663.8,1139.5 L664.2,1139.4 L665.1,1139.2 L665.9,1139 L666.7,1138.8 L668,1138.6 L669.3,1138.3 L670.5,1138.1 L672.2,1137.9 L674.3,1137.6 L676.4,1137.4 L678.5,1137.2 L680.6,1137 L682.7,1136.9 L686.9,1136.6 L691.1,1136.3 L695.4,1136.1 L699.6,1135.9 L703.8,1135.7 L710.1,1135.4 L716.4,1135.2 L724.8,1134.9 L733.2,1134.7 L741.6,1134.5 L750,1134.3 L758.5,1134.2 L766.9,1134 L775.3,1133.9 L781.6,1133.8 L787.9,1133.7" fill="none" stroke="#111111" stroke-width="1.4" stroke-linejoin="round"/><line x1="664" y1="1070.7" x2="664" y2="1267.7" stroke="#000" stroke-width="2.0" stroke-dasharray="4.2,3"/><path d="M535.5,1070.7 L535.5,1267.7 L787.9,1267.7 M535.5,1267.7 L535.5,1275.9 M661.7,1267.7 L661.7,1275.9 M787.9,1267.7 L787.9,1275.9 M535.5,1267.7 L527.3,1267.7 M535.5,1228.3 L527.3,1228.3 M535.5,1188.9 L527.3,1188.9 M535.5,1149.5 L527.3,1149.5 M535.5,1110.1 L527.3,1110.1 M535.5,1070.7 L527.3,1070.7" fill="none" stroke="#000" stroke-width="1.9" stroke-linecap="square"/><text x="524.3" y="1273.3" font-size="15" text-anchor="end" font-weight="bold" fill="#000">0.0</text><text x="524.3" y="1233.9" font-size="15" text-anchor="end" font-weight="bold" fill="#000">0.5</text><text x="524.3" y="1194.5" font-size="15" text-anchor="end" font-weight="bold" fill="#000">1.0</text><text x="524.3" y="1155.1" font-size="15" text-anchor="end" font-weight="bold" fill="#000">1.5</text><text x="524.3" y="1115.7" font-size="15" text-anchor="end" font-weight="bold" fill="#000">2.0</text><text x="524.3" y="1076.3" font-size="15" text-anchor="end" font-weight="bold" fill="#000">2.5</text><text x="535.5" y="1293.4" font-size="15" text-anchor="middle" font-weight="bold" fill="#000">0</text><text x="661.7" y="1293.4" font-size="15" text-anchor="middle" font-weight="bold" fill="#000">300</text><text x="787.9" y="1293.4" font-size="15" text-anchor="middle" font-weight="bold" fill="#000">600</text><text x="661.7" y="1316.9" font-size="16.6" text-anchor="middle" font-weight="bold" fill="#000">Time (s)</text><text transform="translate(495.7,1169.2) rotate(-90)" font-size="16.8" text-anchor="middle" font-weight="bold" fill="#000">Binding (nm)</text><line x1="792.9" y1="1134.6" x2="813.8" y2="1134.6" stroke="#e0964e" stroke-width="1.9"/><text x="826.3" y="1140.2" font-size="14.6" text-anchor="start" font-weight="bold" fill="#000">BI-5B2C + 10-5B</text><line x1="792.9" y1="1161.9" x2="813.8" y2="1161.9" stroke="#2b2ba6" stroke-width="1.7"/><text x="826.3" y="1167.5" font-size="14.6" text-anchor="start" font-weight="bold" fill="#000">BI-5B2C + 6-2C</text><line x1="792.9" y1="1189.2" x2="813.8" y2="1189.2" stroke="#ffbe7a" stroke-width="1.6"/><text x="826.3" y="1194.8" font-size="14.6" text-anchor="start" font-weight="bold" fill="#000">Buffer + 10-5B</text><line x1="792.9" y1="1216.5" x2="813.8" y2="1216.5" stroke="#9d9dff" stroke-width="1.6"/><text x="826.3" y="1222.1" font-size="14.6" text-anchor="start" font-weight="bold" fill="#000">Buffer + 6-2C</text><line x1="792.9" y1="1243.8" x2="813.8" y2="1243.8" stroke="#111111" stroke-width="1.6"/><text x="826.3" y="1249.4" font-size="14.6" text-anchor="start" font-weight="bold" fill="#000">BI-5B2C + BI-5B2C</text><path d="M1014.6,1267.7 L1014.8,1260.6 L1015,1254 L1015.2,1248 L1015.4,1242.4 L1015.9,1232.6 L1016.3,1224.2 L1016.7,1217 L1017.1,1210.9 L1018,1201.2 L1018.8,1194.2 L1019.6,1188.9 L1020.9,1183.4 L1022.2,1179.8 L1023.4,1177.2 L1025.1,1174.9 L1027.2,1172.9 L1029.3,1171.3 L1031.4,1170 L1033.5,1168.8 L1035.6,1167.7 L1039.8,1165.7 L1044,1163.9 L1048.3,1162.2 L1052.5,1160.7 L1056.7,1159.3 L1063,1157.5 L1069.3,1155.9 L1077.7,1154 L1086.1,1152.5 L1094.5,1151.2 L1102.9,1150.1 L1111.4,1149.2 L1119.8,1148.5 L1128.2,1147.9 L1134.5,1147.5 L1140.8,1147.1 L1141,1147.1 L1141.2,1147.1 L1141.4,1147 L1141.6,1147 L1142.1,1146.9 L1142.5,1146.8 L1142.9,1146.8 L1143.3,1146.7 L1144.2,1146.6 L1145,1146.5 L1145.8,1146.4 L1147.1,1146.2 L1148.4,1146.1 L1149.6,1146 L1151.3,1145.8 L1153.4,1145.6 L1155.5,1145.5 L1157.6,1145.4 L1159.7,1145.3 L1161.8,1145.1 L1166,1145 L1170.2,1144.8 L1174.5,1144.7 L1178.7,1144.5 L1182.9,1144.4 L1189.2,1144.2 L1195.5,1144.1 L1203.9,1143.9 L1212.3,1143.8 L1220.7,1143.7 L1229.1,1143.6 L1237.6,1143.5 L1246,1143.4 L1254.4,1143.3 L1260.7,1143.2 L1267,1143.2" fill="none" stroke="#3c9e3c" stroke-width="1.7" stroke-linejoin="round"/><path d="M1014.6,1267.7 L1014.8,1257.3 L1015,1247.8 L1015.2,1239.2 L1015.4,1231.4 L1015.9,1218 L1016.3,1207 L1016.7,1197.9 L1017.1,1190.4 L1018,1179.1 L1018.8,1171.3 L1019.6,1166 L1020.9,1160.7 L1022.2,1157.6 L1023.4,1155.5 L1025.1,1153.6 L1027.2,1152 L1029.3,1150.7 L1031.4,1149.6 L1033.5,1148.6 L1035.6,1147.6 L1039.8,1145.8 L1044,1144.2 L1048.3,1142.7 L1052.5,1141.3 L1056.7,1140 L1063,1138.4 L1069.3,1136.9 L1077.7,1135.2 L1086.1,1133.8 L1094.5,1132.7 L1102.9,1131.7 L1111.4,1130.9 L1119.8,1130.2 L1128.2,1129.7 L1134.5,1129.3 L1140.8,1129 L1141,1129 L1141.2,1128.9 L1141.4,1128.8 L1141.6,1128.8 L1142.1,1128.7 L1142.5,1128.6 L1142.9,1128.5 L1143.3,1128.4 L1144.2,1128.2 L1145,1128.1 L1145.8,1127.9 L1147.1,1127.7 L1148.4,1127.5 L1149.6,1127.4 L1151.3,1127.1 L1153.4,1126.9 L1155.5,1126.7 L1157.6,1126.5 L1159.7,1126.4 L1161.8,1126.2 L1166,1126 L1170.2,1125.7 L1174.5,1125.5 L1178.7,1125.4 L1182.9,1125.2 L1189.2,1125 L1195.5,1124.8 L1203.9,1124.5 L1212.3,1124.3 L1220.7,1124.2 L1229.1,1124 L1237.6,1123.9 L1246,1123.7 L1254.4,1123.6 L1260.7,1123.6 L1267,1123.5" fill="none" stroke="#d8207a" stroke-width="1.7" stroke-linejoin="round"/><path d="M1014.6,1267.7 L1014.8,1267.7 L1015,1267.7 L1015.2,1267.7 L1015.4,1267.7 L1015.9,1267.7 L1016.3,1267.7 L1016.7,1267.7 L1017.1,1267.7 L1018,1267.7 L1018.8,1267.7 L1019.6,1267.7 L1020.9,1267.7 L1022.2,1267.7 L1023.4,1267.7 L1025.1,1267.7 L1027.2,1267.7 L1029.3,1267.7 L1031.4,1267.7 L1033.5,1267.7 L1035.6,1267.7 L1039.8,1267.7 L1044,1267.7 L1048.3,1267.7 L1052.5,1267.7 L1056.7,1267.7 L1063,1267.7 L1069.3,1267.7 L1077.7,1267.7 L1086.1,1267.7 L1094.5,1267.7 L1102.9,1267.7 L1111.4,1267.7 L1119.8,1267.7 L1128.2,1267.7 L1134.5,1267.7 L1140.8,1267.7 L1141,1266 L1141.2,1264.4 L1141.4,1262.8 L1141.6,1261.3 L1142.1,1258.4 L1142.5,1255.8 L1142.9,1253.3 L1143.3,1251.1 L1144.2,1247 L1145,1243.5 L1145.8,1240.5 L1147.1,1236.7 L1148.4,1233.7 L1149.6,1231.1 L1151.3,1228.5 L1153.4,1225.9 L1155.5,1223.9 L1157.6,1222.3 L1159.7,1221 L1161.8,1219.9 L1166,1218.1 L1170.2,1216.6 L1174.5,1215.3 L1178.7,1214.1 L1182.9,1213 L1189.2,1211.6 L1195.5,1210.3 L1203.9,1208.8 L1212.3,1207.6 L1220.7,1206.6 L1229.1,1205.7 L1237.6,1204.9 L1246,1204.3 L1254.4,1203.7 L1260.7,1203.4 L1267,1203.1" fill="none" stroke="#4fe8c0" stroke-width="1.5" stroke-linejoin="round"/><path d="M1014.6,1267.7 L1014.8,1267.7 L1015,1267.7 L1015.2,1267.7 L1015.4,1267.7 L1015.9,1267.7 L1016.3,1267.7 L1016.7,1267.7 L1017.1,1267.7 L1018,1267.7 L1018.8,1267.7 L1019.6,1267.7 L1020.9,1267.7 L1022.2,1267.7 L1023.4,1267.7 L1025.1,1267.7 L1027.2,1267.7 L1029.3,1267.7 L1031.4,1267.7 L1033.5,1267.7 L1035.6,1267.7 L1039.8,1267.7 L1044,1267.7 L1048.3,1267.7 L1052.5,1267.7 L1056.7,1267.7 L1063,1267.7 L1069.3,1267.7 L1077.7,1267.7 L1086.1,1267.7 L1094.5,1267.7 L1102.9,1267.7 L1111.4,1267.7 L1119.8,1267.7 L1128.2,1267.7 L1134.5,1267.7 L1140.8,1267.7 L1141,1265.9 L1141.2,1264.1 L1141.4,1262.4 L1141.6,1260.8 L1142.1,1257.7 L1142.5,1254.8 L1142.9,1252.2 L1143.3,1249.7 L1144.2,1245.3 L1145,1241.5 L1145.8,1238.2 L1147.1,1234 L1148.4,1230.6 L1149.6,1227.8 L1151.3,1224.8 L1153.4,1221.8 L1155.5,1219.5 L1157.6,1217.6 L1159.7,1216 L1161.8,1214.7 L1166,1212.4 L1170.2,1210.4 L1174.5,1208.7 L1178.7,1207.2 L1182.9,1205.8 L1189.2,1203.9 L1195.5,1202.2 L1203.9,1200.3 L1212.3,1198.7 L1220.7,1197.4 L1229.1,1196.2 L1237.6,1195.2 L1246,1194.4 L1254.4,1193.7 L1260.7,1193.2 L1267,1192.8" fill="none" stroke="#ff8fbb" stroke-width="1.5" stroke-linejoin="round"/><path d="M1014.6,1267.7 L1014.8,1262.3 L1015,1257.2 L1015.2,1252.4 L1015.4,1248 L1015.9,1240 L1016.3,1233.1 L1016.7,1227 L1017.1,1221.7 L1018,1213 L1018.8,1206.3 L1019.6,1201.1 L1020.9,1195.4 L1022.2,1191.5 L1023.4,1188.6 L1025.1,1185.8 L1027.2,1183.4 L1029.3,1181.7 L1031.4,1180.2 L1033.5,1178.9 L1035.6,1177.7 L1039.8,1175.6 L1044,1173.7 L1048.3,1172 L1052.5,1170.3 L1056.7,1168.9 L1063,1166.9 L1069.3,1165.1 L1077.7,1163 L1086.1,1161.3 L1094.5,1159.9 L1102.9,1158.6 L1111.4,1157.6 L1119.8,1156.7 L1128.2,1155.9 L1134.5,1155.4 L1140.8,1155 L1141,1155 L1141.2,1154.9 L1141.4,1154.8 L1141.6,1154.8 L1142.1,1154.7 L1142.5,1154.6 L1142.9,1154.5 L1143.3,1154.4 L1144.2,1154.2 L1145,1154 L1145.8,1153.9 L1147.1,1153.6 L1148.4,1153.4 L1149.6,1153.2 L1151.3,1153 L1153.4,1152.7 L1155.5,1152.5 L1157.6,1152.3 L1159.7,1152 L1161.8,1151.9 L1166,1151.5 L1170.2,1151.2 L1174.5,1150.9 L1178.7,1150.7 L1182.9,1150.4 L1189.2,1150.1 L1195.5,1149.8 L1203.9,1149.5 L1212.3,1149.1 L1220.7,1148.9 L1229.1,1148.7 L1237.6,1148.5 L1246,1148.3 L1254.4,1148.1 L1260.7,1148 L1267,1147.9" fill="none" stroke="#111111" stroke-width="1.4" stroke-linejoin="round"/><line x1="1142.9" y1="1070.7" x2="1142.9" y2="1267.7" stroke="#000" stroke-width="2.0" stroke-dasharray="4.2,3"/><path d="M1014.6,1070.7 L1014.6,1267.7 L1267,1267.7 M1014.6,1267.7 L1014.6,1275.9 M1140.8,1267.7 L1140.8,1275.9 M1267,1267.7 L1267,1275.9 M1014.6,1267.7 L1006.4,1267.7 M1014.6,1228.3 L1006.4,1228.3 M1014.6,1188.9 L1006.4,1188.9 M1014.6,1149.5 L1006.4,1149.5 M1014.6,1110.1 L1006.4,1110.1 M1014.6,1070.7 L1006.4,1070.7" fill="none" stroke="#000" stroke-width="1.9" stroke-linecap="square"/><text x="1003.4" y="1273.3" font-size="15" text-anchor="end" font-weight="bold" fill="#000">0.0</text><text x="1003.4" y="1233.9" font-size="15" text-anchor="end" font-weight="bold" fill="#000">0.5</text><text x="1003.4" y="1194.5" font-size="15" text-anchor="end" font-weight="bold" fill="#000">1.0</text><text x="1003.4" y="1155.1" font-size="15" text-anchor="end" font-weight="bold" fill="#000">1.5</text><text x="1003.4" y="1115.7" font-size="15" text-anchor="end" font-weight="bold" fill="#000">2.0</text><text x="1003.4" y="1076.3" font-size="15" text-anchor="end" font-weight="bold" fill="#000">2.5</text><text x="1014.6" y="1293.4" font-size="15" text-anchor="middle" font-weight="bold" fill="#000">0</text><text x="1140.8" y="1293.4" font-size="15" text-anchor="middle" font-weight="bold" fill="#000">300</text><text x="1267" y="1293.4" font-size="15" text-anchor="middle" font-weight="bold" fill="#000">600</text><text x="1140.8" y="1316.9" font-size="16.6" text-anchor="middle" font-weight="bold" fill="#000">Time (s)</text><text transform="translate(974.8,1169.2) rotate(-90)" font-size="16.8" text-anchor="middle" font-weight="bold" fill="#000">Binding (nm)</text><line x1="1270.8" y1="1115.9" x2="1291.7" y2="1115.9" stroke="#3c9e3c" stroke-width="1.7"/><text x="1304.2" y="1121.5" font-size="14.6" text-anchor="start" font-weight="bold" fill="#000">BI-2C1C + 13-1C</text><line x1="1270.8" y1="1143.1" x2="1291.7" y2="1143.1" stroke="#d8207a" stroke-width="1.7"/><text x="1304.2" y="1148.7" font-size="14.6" text-anchor="start" font-weight="bold" fill="#000">BI-2C1C + 6-2C</text><line x1="1270.8" y1="1170.3" x2="1291.7" y2="1170.3" stroke="#4fe8c0" stroke-width="1.6"/><text x="1304.2" y="1175.9" font-size="14.6" text-anchor="start" font-weight="bold" fill="#000">Buffer + 13-1C</text><line x1="1270.8" y1="1197.5" x2="1291.7" y2="1197.5" stroke="#ff8fbb" stroke-width="1.6"/><text x="1304.2" y="1203.1" font-size="14.6" text-anchor="start" font-weight="bold" fill="#000">Buffer + 6-2C</text><line x1="1270.8" y1="1224.7" x2="1291.7" y2="1224.7" stroke="#111111" stroke-width="1.6"/><text x="1304.2" y="1230.3" font-size="14.6" text-anchor="start" font-weight="bold" fill="#000">BI-2C1C + BI-2C1C</text><path d="M1501.6,1267.7 L1501.8,1262.4 L1502,1257.5 L1502.2,1252.9 L1502.4,1248.6 L1502.9,1240.8 L1503.3,1234.1 L1503.7,1228.2 L1504.1,1223 L1505,1214.6 L1505.8,1208.1 L1506.6,1203.1 L1507.9,1197.6 L1509.2,1193.8 L1510.4,1191 L1512.1,1188.4 L1514.2,1186.1 L1516.3,1184.4 L1518.4,1183.1 L1520.5,1181.9 L1522.6,1180.8 L1526.8,1178.9 L1531,1177.2 L1535.3,1175.6 L1539.5,1174.2 L1543.7,1172.8 L1550,1171.1 L1556.3,1169.6 L1564.7,1167.8 L1573.1,1166.4 L1581.5,1165.2 L1589.9,1164.1 L1598.4,1163.3 L1606.8,1162.6 L1615.2,1162 L1621.5,1161.6 L1627.8,1161.3 L1628,1161.3 L1628.2,1161.3 L1628.4,1161.2 L1628.6,1161.2 L1629.1,1161.2 L1629.5,1161.1 L1629.9,1161.1 L1630.3,1161.1 L1631.2,1161 L1632,1160.9 L1632.8,1160.9 L1634.1,1160.8 L1635.4,1160.7 L1636.6,1160.6 L1638.3,1160.5 L1640.4,1160.4 L1642.5,1160.3 L1644.6,1160.3 L1646.7,1160.2 L1648.8,1160.1 L1653,1160 L1657.2,1159.9 L1661.5,1159.8 L1665.7,1159.8 L1669.9,1159.7 L1676.2,1159.6 L1682.5,1159.5 L1690.9,1159.4 L1699.3,1159.3 L1707.7,1159.2 L1716.1,1159.2 L1724.6,1159.1 L1733,1159.1 L1741.4,1159 L1747.7,1159 L1754,1159" fill="none" stroke="#3c9e3c" stroke-width="1.7" stroke-linejoin="round"/><path d="M1501.6,1267.7 L1501.8,1257.2 L1502,1247.7 L1502.2,1239.1 L1502.4,1231.2 L1502.9,1217.7 L1503.3,1206.6 L1503.7,1197.5 L1504.1,1189.9 L1505,1178.6 L1505.8,1170.8 L1506.6,1165.4 L1507.9,1160.1 L1509.2,1156.9 L1510.4,1154.8 L1512.1,1153 L1514.2,1151.3 L1516.3,1150.1 L1518.4,1148.9 L1520.5,1147.9 L1522.6,1146.9 L1526.8,1145.1 L1531,1143.5 L1535.3,1141.9 L1539.5,1140.6 L1543.7,1139.3 L1550,1137.6 L1556.3,1136.1 L1564.7,1134.5 L1573.1,1133.1 L1581.5,1131.9 L1589.9,1130.9 L1598.4,1130.1 L1606.8,1129.5 L1615.2,1128.9 L1621.5,1128.5 L1627.8,1128.2 L1628,1128.1 L1628.2,1128.1 L1628.4,1128 L1628.6,1127.9 L1629.1,1127.7 L1629.5,1127.6 L1629.9,1127.4 L1630.3,1127.3 L1631.2,1127 L1632,1126.7 L1632.8,1126.5 L1634.1,1126.2 L1635.4,1125.9 L1636.6,1125.6 L1638.3,1125.3 L1640.4,1124.9 L1642.5,1124.6 L1644.6,1124.3 L1646.7,1124.1 L1648.8,1123.8 L1653,1123.4 L1657.2,1123.1 L1661.5,1122.8 L1665.7,1122.5 L1669.9,1122.2 L1676.2,1121.9 L1682.5,1121.6 L1690.9,1121.2 L1699.3,1120.9 L1707.7,1120.6 L1716.1,1120.3 L1724.6,1120.1 L1733,1119.9 L1741.4,1119.8 L1747.7,1119.7 L1754,1119.6" fill="none" stroke="#d8207a" stroke-width="1.7" stroke-linejoin="round"/><path d="M1501.6,1267.7 L1501.8,1267.7 L1502,1267.7 L1502.2,1267.7 L1502.4,1267.7 L1502.9,1267.7 L1503.3,1267.7 L1503.7,1267.7 L1504.1,1267.7 L1505,1267.7 L1505.8,1267.7 L1506.6,1267.7 L1507.9,1267.7 L1509.2,1267.7 L1510.4,1267.7 L1512.1,1267.7 L1514.2,1267.7 L1516.3,1267.7 L1518.4,1267.7 L1520.5,1267.7 L1522.6,1267.7 L1526.8,1267.7 L1531,1267.7 L1535.3,1267.7 L1539.5,1267.7 L1543.7,1267.7 L1550,1267.7 L1556.3,1267.7 L1564.7,1267.7 L1573.1,1267.7 L1581.5,1267.7 L1589.9,1267.7 L1598.4,1267.7 L1606.8,1267.7 L1615.2,1267.7 L1621.5,1267.7 L1627.8,1267.7 L1628,1266 L1628.2,1264.4 L1628.4,1262.8 L1628.6,1261.3 L1629.1,1258.4 L1629.5,1255.8 L1629.9,1253.3 L1630.3,1251.1 L1631.2,1247 L1632,1243.5 L1632.8,1240.5 L1634.1,1236.7 L1635.4,1233.7 L1636.6,1231.1 L1638.3,1228.5 L1640.4,1225.9 L1642.5,1223.9 L1644.6,1222.3 L1646.7,1221 L1648.8,1219.9 L1653,1218.1 L1657.2,1216.6 L1661.5,1215.3 L1665.7,1214.1 L1669.9,1213 L1676.2,1211.6 L1682.5,1210.3 L1690.9,1208.8 L1699.3,1207.6 L1707.7,1206.6 L1716.1,1205.7 L1724.6,1204.9 L1733,1204.3 L1741.4,1203.7 L1747.7,1203.4 L1754,1203.1" fill="none" stroke="#4fe8c0" stroke-width="1.5" stroke-linejoin="round"/><path d="M1501.6,1267.7 L1501.8,1267.7 L1502,1267.7 L1502.2,1267.7 L1502.4,1267.7 L1502.9,1267.7 L1503.3,1267.7 L1503.7,1267.7 L1504.1,1267.7 L1505,1267.7 L1505.8,1267.7 L1506.6,1267.7 L1507.9,1267.7 L1509.2,1267.7 L1510.4,1267.7 L1512.1,1267.7 L1514.2,1267.7 L1516.3,1267.7 L1518.4,1267.7 L1520.5,1267.7 L1522.6,1267.7 L1526.8,1267.7 L1531,1267.7 L1535.3,1267.7 L1539.5,1267.7 L1543.7,1267.7 L1550,1267.7 L1556.3,1267.7 L1564.7,1267.7 L1573.1,1267.7 L1581.5,1267.7 L1589.9,1267.7 L1598.4,1267.7 L1606.8,1267.7 L1615.2,1267.7 L1621.5,1267.7 L1627.8,1267.7 L1628,1265.9 L1628.2,1264.1 L1628.4,1262.4 L1628.6,1260.8 L1629.1,1257.7 L1629.5,1254.8 L1629.9,1252.2 L1630.3,1249.7 L1631.2,1245.3 L1632,1241.5 L1632.8,1238.2 L1634.1,1234 L1635.4,1230.6 L1636.6,1227.8 L1638.3,1224.8 L1640.4,1221.8 L1642.5,1219.5 L1644.6,1217.6 L1646.7,1216 L1648.8,1214.7 L1653,1212.4 L1657.2,1210.4 L1661.5,1208.7 L1665.7,1207.2 L1669.9,1205.8 L1676.2,1203.9 L1682.5,1202.2 L1690.9,1200.3 L1699.3,1198.7 L1707.7,1197.4 L1716.1,1196.2 L1724.6,1195.2 L1733,1194.4 L1741.4,1193.7 L1747.7,1193.2 L1754,1192.8" fill="none" stroke="#ff8fbb" stroke-width="1.5" stroke-linejoin="round"/><path d="M1501.6,1267.7 L1501.8,1263.3 L1502,1259.1 L1502.2,1255.2 L1502.4,1251.5 L1502.9,1244.8 L1503.3,1238.8 L1503.7,1233.5 L1504.1,1228.7 L1505,1220.8 L1505.8,1214.5 L1506.6,1209.4 L1507.9,1203.6 L1509.2,1199.4 L1510.4,1196.2 L1512.1,1193.2 L1514.2,1190.4 L1516.3,1188.4 L1518.4,1186.8 L1520.5,1185.4 L1522.6,1184.2 L1526.8,1182 L1531,1180.1 L1535.3,1178.3 L1539.5,1176.7 L1543.7,1175.2 L1550,1173.2 L1556.3,1171.4 L1564.7,1169.4 L1573.1,1167.6 L1581.5,1166.2 L1589.9,1164.9 L1598.4,1163.9 L1606.8,1163 L1615.2,1162.2 L1621.5,1161.8 L1627.8,1161.3 L1628,1161.3 L1628.2,1161.2 L1628.4,1161.2 L1628.6,1161.1 L1629.1,1161 L1629.5,1160.9 L1629.9,1160.8 L1630.3,1160.8 L1631.2,1160.6 L1632,1160.4 L1632.8,1160.3 L1634.1,1160.1 L1635.4,1159.9 L1636.6,1159.7 L1638.3,1159.5 L1640.4,1159.3 L1642.5,1159.1 L1644.6,1158.9 L1646.7,1158.7 L1648.8,1158.5 L1653,1158.2 L1657.2,1157.9 L1661.5,1157.7 L1665.7,1157.4 L1669.9,1157.2 L1676.2,1156.9 L1682.5,1156.7 L1690.9,1156.4 L1699.3,1156.1 L1707.7,1155.9 L1716.1,1155.7 L1724.6,1155.5 L1733,1155.3 L1741.4,1155.2 L1747.7,1155.1 L1754,1155" fill="none" stroke="#111111" stroke-width="1.4" stroke-linejoin="round"/><line x1="1629.9" y1="1070.7" x2="1629.9" y2="1267.7" stroke="#000" stroke-width="2.0" stroke-dasharray="4.2,3"/><path d="M1501.6,1070.7 L1501.6,1267.7 L1754,1267.7 M1501.6,1267.7 L1501.6,1275.9 M1627.8,1267.7 L1627.8,1275.9 M1754,1267.7 L1754,1275.9 M1501.6,1267.7 L1493.4,1267.7 M1501.6,1228.3 L1493.4,1228.3 M1501.6,1188.9 L1493.4,1188.9 M1501.6,1149.5 L1493.4,1149.5 M1501.6,1110.1 L1493.4,1110.1 M1501.6,1070.7 L1493.4,1070.7" fill="none" stroke="#000" stroke-width="1.9" stroke-linecap="square"/><text x="1490.4" y="1273.3" font-size="15" text-anchor="end" font-weight="bold" fill="#000">0.0</text><text x="1490.4" y="1233.9" font-size="15" text-anchor="end" font-weight="bold" fill="#000">0.5</text><text x="1490.4" y="1194.5" font-size="15" text-anchor="end" font-weight="bold" fill="#000">1.0</text><text x="1490.4" y="1155.1" font-size="15" text-anchor="end" font-weight="bold" fill="#000">1.5</text><text x="1490.4" y="1115.7" font-size="15" text-anchor="end" font-weight="bold" fill="#000">2.0</text><text x="1490.4" y="1076.3" font-size="15" text-anchor="end" font-weight="bold" fill="#000">2.5</text><text x="1501.6" y="1293.4" font-size="15" text-anchor="middle" font-weight="bold" fill="#000">0</text><text x="1627.8" y="1293.4" font-size="15" text-anchor="middle" font-weight="bold" fill="#000">300</text><text x="1754" y="1293.4" font-size="15" text-anchor="middle" font-weight="bold" fill="#000">600</text><text x="1627.8" y="1316.9" font-size="16.6" text-anchor="middle" font-weight="bold" fill="#000">Time (s)</text><text transform="translate(1461.8,1169.2) rotate(-90)" font-size="16.8" text-anchor="middle" font-weight="bold" fill="#000">Binding (nm)</text><line x1="1757.9" y1="1115.9" x2="1778.7" y2="1115.9" stroke="#3c9e3c" stroke-width="1.7"/><text x="1791.2" y="1121.5" font-size="14.6" text-anchor="start" font-weight="bold" fill="#000">BI-1C2C + 13-1C</text><line x1="1757.9" y1="1143.1" x2="1778.7" y2="1143.1" stroke="#d8207a" stroke-width="1.7"/><text x="1791.2" y="1148.7" font-size="14.6" text-anchor="start" font-weight="bold" fill="#000">BI-1C2C + 6-2C</text><line x1="1757.9" y1="1170.3" x2="1778.7" y2="1170.3" stroke="#4fe8c0" stroke-width="1.6"/><text x="1791.2" y="1175.9" font-size="14.6" text-anchor="start" font-weight="bold" fill="#000">Buffer + 13-1C</text><line x1="1757.9" y1="1197.5" x2="1778.7" y2="1197.5" stroke="#ff8fbb" stroke-width="1.6"/><text x="1791.2" y="1203.1" font-size="14.6" text-anchor="start" font-weight="bold" fill="#000">Buffer + 6-2C</text><line x1="1757.9" y1="1224.7" x2="1778.7" y2="1224.7" stroke="#111111" stroke-width="1.6"/><text x="1791.2" y="1230.3" font-size="14.6" text-anchor="start" font-weight="bold" fill="#000">BI-1C2C + BI-1C2C</text><text x="807" y="1389.3" font-size="30.5" font-weight="bold">Pseudovirus IC<tspan font-size="21" dy="5.8">50</tspan><tspan dy="-5.8"> (ng/ml)</tspan></text><rect x="122.9" y="1512.9" width="59.2" height="49.6" fill="#fafafa"/><rect x="182.1" y="1512.9" width="59.2" height="49.6" fill="#fafafa"/><rect x="241.3" y="1512.9" width="59.2" height="49.6" fill="#fafafa"/><rect x="300.6" y="1512.9" width="59.2" height="49.6" fill="#fafafa"/><rect x="359.8" y="1512.9" width="59.2" height="49.6" fill="#fafafa"/><rect x="419" y="1512.9" width="59.2" height="49.6" fill="#fafafa"/><rect x="478.2" y="1512.9" width="59.2" height="49.6" fill="#fafafa"/><rect x="537.4" y="1512.9" width="59.2" height="49.6" fill="#fcfbfb"/><rect x="596.7" y="1512.9" width="59.2" height="49.6" fill="#fafafa"/><rect x="655.9" y="1512.9" width="59.2" height="49.6" fill="#fafafa"/><rect x="715.1" y="1512.9" width="59.2" height="49.6" fill="#fafafa"/><rect x="774.3" y="1512.9" width="59.2" height="49.6" fill="#fafafa"/><rect x="833.5" y="1512.9" width="59.2" height="49.6" fill="#fcfbfb"/><rect x="892.8" y="1512.9" width="59.2" height="49.6" fill="#fafafa"/><rect x="952" y="1512.9" width="59.2" height="49.6" fill="#fcfbfb"/><rect x="1011.2" y="1512.9" width="59.2" height="49.6" fill="#fcfbfb"/><rect x="1070.4" y="1512.9" width="59.2" height="49.6" fill="#fcfbfb"/><rect x="1129.6" y="1512.9" width="59.2" height="49.6" fill="#f5efef"/><rect x="1188.9" y="1512.9" width="59.2" height="49.6" fill="#fcfbfb"/><rect x="1248.1" y="1512.9" width="59.2" height="49.6" fill="#fcfbfb"/><rect x="1307.3" y="1512.9" width="59.2" height="49.6" fill="#f8f4f4"/><rect x="1366.5" y="1512.9" width="59.2" height="49.6" fill="#f5eeef"/><rect x="1425.7" y="1512.9" width="59.2" height="49.6" fill="#f9f6f6"/><rect x="1485" y="1512.9" width="59.2" height="49.6" fill="#faf8f8"/><rect x="1544.2" y="1512.9" width="59.2" height="49.6" fill="#e7d1d3"/><rect x="1603.4" y="1512.9" width="59.2" height="49.6" fill="#f1e6e7"/><rect x="1662.6" y="1512.9" width="59.2" height="49.6" fill="#fafafa"/><rect x="1721.8" y="1512.9" width="59.2" height="49.6" fill="#f2e8e9"/><rect x="1781.1" y="1512.9" width="59.2" height="49.6" fill="#f5eeef"/><rect x="122.9" y="1562.6" width="59.2" height="49.6" fill="#fafafa"/><rect x="182.1" y="1562.6" width="59.2" height="49.6" fill="#fafafa"/><rect x="241.3" y="1562.6" width="59.2" height="49.6" fill="#fafafa"/><rect x="300.6" y="1562.6" width="59.2" height="49.6" fill="#fafafa"/><rect x="359.8" y="1562.6" width="59.2" height="49.6" fill="#fafafa"/><rect x="419" y="1562.6" width="59.2" height="49.6" fill="#fafafa"/><rect x="478.2" y="1562.6" width="59.2" height="49.6" fill="#fafafa"/><rect x="537.4" y="1562.6" width="59.2" height="49.6" fill="#fafafa"/><rect x="596.7" y="1562.6" width="59.2" height="49.6" fill="#fafafa"/><rect x="655.9" y="1562.6" width="59.2" height="49.6" fill="#fcfbfb"/><rect x="715.1" y="1562.6" width="59.2" height="49.6" fill="#fafafa"/><rect x="774.3" y="1562.6" width="59.2" height="49.6" fill="#fafafa"/><rect x="833.5" y="1562.6" width="59.2" height="49.6" fill="#fbfafa"/><rect x="892.8" y="1562.6" width="59.2" height="49.6" fill="#fafafa"/><rect x="952" y="1562.6" width="59.2" height="49.6" fill="#fcfbfb"/><rect x="1011.2" y="1562.6" width="59.2" height="49.6" fill="#fcfbfb"/><rect x="1070.4" y="1562.6" width="59.2" height="49.6" fill="#fafafa"/><rect x="1129.6" y="1562.6" width="59.2" height="49.6" fill="#f1e6e7"/><rect x="1188.9" y="1562.6" width="59.2" height="49.6" fill="#fafafa"/><rect x="1248.1" y="1562.6" width="59.2" height="49.6" fill="#fcfbfb"/><rect x="1307.3" y="1562.6" width="59.2" height="49.6" fill="#e8d4d6"/><rect x="1366.5" y="1562.6" width="59.2" height="49.6" fill="#ebdadb"/><rect x="1425.7" y="1562.6" width="59.2" height="49.6" fill="#e9d5d7"/><rect x="1485" y="1562.6" width="59.2" height="49.6" fill="#f3eaeb"/><rect x="1544.2" y="1562.6" width="59.2" height="49.6" fill="#d4abaf"/><rect x="1603.4" y="1562.6" width="59.2" height="49.6" fill="#d7b1b5"/><rect x="1662.6" y="1562.6" width="59.2" height="49.6" fill="#fafafa"/><rect x="1721.8" y="1562.6" width="59.2" height="49.6" fill="#f5edee"/><rect x="1781.1" y="1562.6" width="59.2" height="49.6" fill="#dcbbbe"/><rect x="122.9" y="1612.2" width="59.2" height="49.6" fill="#fafafa"/><rect x="182.1" y="1612.2" width="59.2" height="49.6" fill="#fafafa"/><rect x="241.3" y="1612.2" width="59.2" height="49.6" fill="#fafafa"/><rect x="300.6" y="1612.2" width="59.2" height="49.6" fill="#fafafa"/><rect x="359.8" y="1612.2" width="59.2" height="49.6" fill="#fafafa"/><rect x="419" y="1612.2" width="59.2" height="49.6" fill="#fafafa"/><rect x="478.2" y="1612.2" width="59.2" height="49.6" fill="#fcfbfb"/><rect x="537.4" y="1612.2" width="59.2" height="49.6" fill="#fcfbfb"/><rect x="596.7" y="1612.2" width="59.2" height="49.6" fill="#fafafa"/><rect x="655.9" y="1612.2" width="59.2" height="49.6" fill="#fcfbfb"/><rect x="715.1" y="1612.2" width="59.2" height="49.6" fill="#fafafa"/><rect x="774.3" y="1612.2" width="59.2" height="49.6" fill="#fcfbfb"/><rect x="833.5" y="1612.2" width="59.2" height="49.6" fill="#fcfbfb"/><rect x="892.8" y="1612.2" width="59.2" height="49.6" fill="#fafafa"/><rect x="952" y="1612.2" width="59.2" height="49.6" fill="#fcfbfb"/><rect x="1011.2" y="1612.2" width="59.2" height="49.6" fill="#fcfbfb"/><rect x="1070.4" y="1612.2" width="59.2" height="49.6" fill="#f7f2f3"/><rect x="1129.6" y="1612.2" width="59.2" height="49.6" fill="#f5edee"/><rect x="1188.9" y="1612.2" width="59.2" height="49.6" fill="#f8f4f4"/><rect x="1248.1" y="1612.2" width="59.2" height="49.6" fill="#faf9f9"/><rect x="1307.3" y="1612.2" width="59.2" height="49.6" fill="#fafafa"/><rect x="1366.5" y="1612.2" width="59.2" height="49.6" fill="#fafafa"/><rect x="1425.7" y="1612.2" width="59.2" height="49.6" fill="#fcfbfb"/><rect x="1485" y="1612.2" width="59.2" height="49.6" fill="#fafafa"/><rect x="1544.2" y="1612.2" width="59.2" height="49.6" fill="#f7f1f2"/><rect x="1603.4" y="1612.2" width="59.2" height="49.6" fill="#f4ebec"/><rect x="1662.6" y="1612.2" width="59.2" height="49.6" fill="#fcfbfb"/><rect x="1721.8" y="1612.2" width="59.2" height="49.6" fill="#f8f4f4"/><rect x="1781.1" y="1612.2" width="59.2" height="49.6" fill="#f6f1f1"/><rect x="122.9" y="1661.9" width="59.2" height="49.6" fill="#fafafa"/><rect x="182.1" y="1661.9" width="59.2" height="49.6" fill="#fafafa"/><rect x="241.3" y="1661.9" width="59.2" height="49.6" fill="#fafafa"/><rect x="300.6" y="1661.9" width="59.2" height="49.6" fill="#fafafa"/><rect x="359.8" y="1661.9" width="59.2" height="49.6" fill="#fafafa"/><rect x="419" y="1661.9" width="59.2" height="49.6" fill="#fafafa"/><rect x="478.2" y="1661.9" width="59.2" height="49.6" fill="#fcfbfb"/><rect x="537.4" y="1661.9" width="59.2" height="49.6" fill="#fafafa"/><rect x="596.7" y="1661.9" width="59.2" height="49.6" fill="#fafafa"/><rect x="655.9" y="1661.9" width="59.2" height="49.6" fill="#fcfbfb"/><rect x="715.1" y="1661.9" width="59.2" height="49.6" fill="#fcfbfb"/><rect x="774.3" y="1661.9" width="59.2" height="49.6" fill="#fcfbfb"/><rect x="833.5" y="1661.9" width="59.2" height="49.6" fill="#faf7f7"/><rect x="892.8" y="1661.9" width="59.2" height="49.6" fill="#fafafa"/><rect x="952" y="1661.9" width="59.2" height="49.6" fill="#fcfbfb"/><rect x="1011.2" y="1661.9" width="59.2" height="49.6" fill="#fafafa"/><rect x="1070.4" y="1661.9" width="59.2" height="49.6" fill="#f5edee"/><rect x="1129.6" y="1661.9" width="59.2" height="49.6" fill="#e6cfd2"/><rect x="1188.9" y="1661.9" width="59.2" height="49.6" fill="#ebdadc"/><rect x="1248.1" y="1661.9" width="59.2" height="49.6" fill="#fbf9f9"/><rect x="1307.3" y="1661.9" width="59.2" height="49.6" fill="#fafafa"/><rect x="1366.5" y="1661.9" width="59.2" height="49.6" fill="#fcfbfb"/><rect x="1425.7" y="1661.9" width="59.2" height="49.6" fill="#fcfbfb"/><rect x="1485" y="1661.9" width="59.2" height="49.6" fill="#fafafa"/><rect x="1544.2" y="1661.9" width="59.2" height="49.6" fill="#f6f1f1"/><rect x="1603.4" y="1661.9" width="59.2" height="49.6" fill="#f3e9ea"/><rect x="1662.6" y="1661.9" width="59.2" height="49.6" fill="#fcfbfb"/><rect x="1721.8" y="1661.9" width="59.2" height="49.6" fill="#ebdadc"/><rect x="1781.1" y="1661.9" width="59.2" height="49.6" fill="#efe2e3"/><path d="M182.1,1512.9 L182.1,1711.5 M241.3,1512.9 L241.3,1711.5 M300.6,1512.9 L300.6,1711.5 M359.8,1512.9 L359.8,1711.5 M419,1512.9 L419,1711.5 M478.2,1512.9 L478.2,1711.5 M537.4,1512.9 L537.4,1711.5 M596.7,1512.9 L596.7,1711.5 M655.9,1512.9 L655.9,1711.5 M715.1,1512.9 L715.1,1711.5 M774.3,1512.9 L774.3,1711.5 M833.5,1512.9 L833.5,1711.5 M892.8,1512.9 L892.8,1711.5 M952,1512.9 L952,1711.5 M1011.2,1512.9 L1011.2,1711.5 M1070.4,1512.9 L1070.4,1711.5 M1129.6,1512.9 L1129.6,1711.5 M1188.9,1512.9 L1188.9,1711.5 M1248.1,1512.9 L1248.1,1711.5 M1307.3,1512.9 L1307.3,1711.5 M1366.5,1512.9 L1366.5,1711.5 M1425.7,1512.9 L1425.7,1711.5 M1485,1512.9 L1485,1711.5 M1544.2,1512.9 L1544.2,1711.5 M1603.4,1512.9 L1603.4,1711.5 M1662.6,1512.9 L1662.6,1711.5 M1721.8,1512.9 L1721.8,1711.5 M1781.1,1512.9 L1781.1,1711.5 M1840.3,1512.9 L1840.3,1711.5 M122.9,1562.6 L1840.3,1562.6 M122.9,1612.2 L1840.3,1612.2 M122.9,1661.9 L1840.3,1661.9 " stroke="#d3d3d3" stroke-width="1.6" fill="none"/><rect x="122.9" y="1512.9" width="1724" height="198.6" fill="none" stroke="#000" stroke-width="1.6"/><text x="13" y="1546.3" font-size="24.5" text-anchor="start" font-weight="bold" fill="#000">BI-2C5B</text><text x="152.5" y="1546.3" font-size="24" text-anchor="middle" font-weight="bold" fill="#000">2</text><text x="211.7" y="1546.3" font-size="24" text-anchor="middle" font-weight="bold" fill="#000">2</text><text x="271" y="1546.3" font-size="24" text-anchor="middle" font-weight="bold" fill="#000">3</text><text x="330.2" y="1546.3" font-size="24" text-anchor="middle" font-weight="bold" fill="#000">2</text><text x="389.4" y="1546.3" font-size="24" text-anchor="middle" font-weight="bold" fill="#000">2</text><text x="448.6" y="1546.3" font-size="24" text-anchor="middle" font-weight="bold" fill="#000">2</text><text x="507.8" y="1546.3" font-size="24" text-anchor="middle" font-weight="bold" fill="#000">7</text><text x="567" y="1546.3" font-size="24" text-anchor="middle" font-weight="bold" fill="#000">8</text><text x="626.3" y="1546.3" font-size="24" text-anchor="middle" font-weight="bold" fill="#000">7</text><text x="685.5" y="1546.3" font-size="24" text-anchor="middle" font-weight="bold" fill="#000">7</text><text x="744.7" y="1546.3" font-size="24" text-anchor="middle" font-weight="bold" fill="#000">3</text><text x="803.9" y="1546.3" font-size="24" text-anchor="middle" font-weight="bold" fill="#000">3</text><text x="863.1" y="1546.3" font-size="24" text-anchor="middle" font-weight="bold" fill="#000">11</text><text x="922.4" y="1546.3" font-size="24" text-anchor="middle" font-weight="bold" fill="#000">6</text><text x="981.6" y="1546.3" font-size="24" text-anchor="middle" font-weight="bold" fill="#000">11</text><text x="1040.8" y="1546.3" font-size="24" text-anchor="middle" font-weight="bold" fill="#000">9</text><text x="1100" y="1546.3" font-size="24" text-anchor="middle" font-weight="bold" fill="#000">9</text><text x="1159.2" y="1546.3" font-size="24" text-anchor="middle" font-weight="bold" fill="#000">35</text><text x="1218.5" y="1546.3" font-size="24" text-anchor="middle" font-weight="bold" fill="#000">12</text><text x="1277.7" y="1546.3" font-size="24" text-anchor="middle" font-weight="bold" fill="#000">12</text><text x="1336.9" y="1546.3" font-size="24" text-anchor="middle" font-weight="bold" fill="#000">24</text><text x="1396.1" y="1546.3" font-size="24" text-anchor="middle" font-weight="bold" fill="#000">36</text><text x="1455.4" y="1546.3" font-size="24" text-anchor="middle" font-weight="bold" fill="#000">20</text><text x="1514.6" y="1546.3" font-size="24" text-anchor="middle" font-weight="bold" fill="#000">16</text><text x="1573.8" y="1546.3" font-size="24" text-anchor="middle" font-weight="bold" fill="#000">97</text><text x="1633" y="1546.3" font-size="24" text-anchor="middle" font-weight="bold" fill="#000">54</text><text x="1692.2" y="1546.3" font-size="24" text-anchor="middle" font-weight="bold" fill="#000">6</text><text x="1751.5" y="1546.3" font-size="24" text-anchor="middle" font-weight="bold" fill="#000">50</text><text x="1810.7" y="1546.3" font-size="24" text-anchor="middle" font-weight="bold" fill="#000">36</text><text x="13" y="1596" font-size="24.5" text-anchor="start" font-weight="bold" fill="#000">BI-5B2C</text><text x="152.5" y="1596" font-size="24" text-anchor="middle" font-weight="bold" fill="#000">1</text><text x="211.7" y="1596" font-size="24" text-anchor="middle" font-weight="bold" fill="#000">1</text><text x="271" y="1596" font-size="24" text-anchor="middle" font-weight="bold" fill="#000">3</text><text x="330.2" y="1596" font-size="24" text-anchor="middle" font-weight="bold" fill="#000">2</text><text x="389.4" y="1596" font-size="24" text-anchor="middle" font-weight="bold" fill="#000">2</text><text x="448.6" y="1596" font-size="24" text-anchor="middle" font-weight="bold" fill="#000">1</text><text x="507.8" y="1596" font-size="24" text-anchor="middle" font-weight="bold" fill="#000">7</text><text x="567" y="1596" font-size="24" text-anchor="middle" font-weight="bold" fill="#000">6</text><text x="626.3" y="1596" font-size="24" text-anchor="middle" font-weight="bold" fill="#000">6</text><text x="685.5" y="1596" font-size="24" text-anchor="middle" font-weight="bold" fill="#000">12</text><text x="744.7" y="1596" font-size="24" text-anchor="middle" font-weight="bold" fill="#000">3</text><text x="803.9" y="1596" font-size="24" text-anchor="middle" font-weight="bold" fill="#000">2</text><text x="863.1" y="1596" font-size="24" text-anchor="middle" font-weight="bold" fill="#000">13</text><text x="922.4" y="1596" font-size="24" text-anchor="middle" font-weight="bold" fill="#000">4</text><text x="981.6" y="1596" font-size="24" text-anchor="middle" font-weight="bold" fill="#000">9</text><text x="1040.8" y="1596" font-size="24" text-anchor="middle" font-weight="bold" fill="#000">10</text><text x="1100" y="1596" font-size="24" text-anchor="middle" font-weight="bold" fill="#000">7</text><text x="1159.2" y="1596" font-size="24" text-anchor="middle" font-weight="bold" fill="#000">54</text><text x="1218.5" y="1596" font-size="24" text-anchor="middle" font-weight="bold" fill="#000">4</text><text x="1277.7" y="1596" font-size="24" text-anchor="middle" font-weight="bold" fill="#000">8</text><text x="1336.9" y="1596" font-size="24" text-anchor="middle" font-weight="bold" fill="#000">91</text><text x="1396.1" y="1596" font-size="24" text-anchor="middle" font-weight="bold" fill="#000">79</text><text x="1455.4" y="1596" font-size="24" text-anchor="middle" font-weight="bold" fill="#000">88</text><text x="1514.6" y="1596" font-size="24" text-anchor="middle" font-weight="bold" fill="#000">45</text><text x="1573.8" y="1596" font-size="24" text-anchor="middle" font-weight="bold" fill="#000">175</text><text x="1633" y="1596" font-size="24" text-anchor="middle" font-weight="bold" fill="#000">162</text><text x="1692.2" y="1596" font-size="24" text-anchor="middle" font-weight="bold" fill="#000">7</text><text x="1751.5" y="1596" font-size="24" text-anchor="middle" font-weight="bold" fill="#000">38</text><text x="1810.7" y="1596" font-size="24" text-anchor="middle" font-weight="bold" fill="#000">142</text><text x="13" y="1645.6" font-size="24.5" text-anchor="start" font-weight="bold" fill="#000">BI-2C1C</text><text x="152.5" y="1645.6" font-size="24" text-anchor="middle" font-weight="bold" fill="#000">5</text><text x="211.7" y="1645.6" font-size="24" text-anchor="middle" font-weight="bold" fill="#000">4</text><text x="271" y="1645.6" font-size="24" text-anchor="middle" font-weight="bold" fill="#000">4</text><text x="330.2" y="1645.6" font-size="24" text-anchor="middle" font-weight="bold" fill="#000">6</text><text x="389.4" y="1645.6" font-size="24" text-anchor="middle" font-weight="bold" fill="#000">3</text><text x="448.6" y="1645.6" font-size="24" text-anchor="middle" font-weight="bold" fill="#000">3</text><text x="507.8" y="1645.6" font-size="24" text-anchor="middle" font-weight="bold" fill="#000">9</text><text x="567" y="1645.6" font-size="24" text-anchor="middle" font-weight="bold" fill="#000">8</text><text x="626.3" y="1645.6" font-size="24" text-anchor="middle" font-weight="bold" fill="#000">4</text><text x="685.5" y="1645.6" font-size="24" text-anchor="middle" font-weight="bold" fill="#000">12</text><text x="744.7" y="1645.6" font-size="24" text-anchor="middle" font-weight="bold" fill="#000">7</text><text x="803.9" y="1645.6" font-size="24" text-anchor="middle" font-weight="bold" fill="#000">8</text><text x="863.1" y="1645.6" font-size="24" text-anchor="middle" font-weight="bold" fill="#000">11</text><text x="922.4" y="1645.6" font-size="24" text-anchor="middle" font-weight="bold" fill="#000">2</text><text x="981.6" y="1645.6" font-size="24" text-anchor="middle" font-weight="bold" fill="#000">12</text><text x="1040.8" y="1645.6" font-size="24" text-anchor="middle" font-weight="bold" fill="#000">8</text><text x="1100" y="1645.6" font-size="24" text-anchor="middle" font-weight="bold" fill="#000">28</text><text x="1159.2" y="1645.6" font-size="24" text-anchor="middle" font-weight="bold" fill="#000">39</text><text x="1218.5" y="1645.6" font-size="24" text-anchor="middle" font-weight="bold" fill="#000">25</text><text x="1277.7" y="1645.6" font-size="24" text-anchor="middle" font-weight="bold" fill="#000">15</text><text x="1336.9" y="1645.6" font-size="24" text-anchor="middle" font-weight="bold" fill="#000">4</text><text x="1396.1" y="1645.6" font-size="24" text-anchor="middle" font-weight="bold" fill="#000">7</text><text x="1455.4" y="1645.6" font-size="24" text-anchor="middle" font-weight="bold" fill="#000">9</text><text x="1514.6" y="1645.6" font-size="24" text-anchor="middle" font-weight="bold" fill="#000">7</text><text x="1573.8" y="1645.6" font-size="24" text-anchor="middle" font-weight="bold" fill="#000">30</text><text x="1633" y="1645.6" font-size="24" text-anchor="middle" font-weight="bold" fill="#000">43</text><text x="1692.2" y="1645.6" font-size="24" text-anchor="middle" font-weight="bold" fill="#000">8</text><text x="1751.5" y="1645.6" font-size="24" text-anchor="middle" font-weight="bold" fill="#000">25</text><text x="1810.7" y="1645.6" font-size="24" text-anchor="middle" font-weight="bold" fill="#000">31</text><text x="13" y="1695.3" font-size="24.5" text-anchor="start" font-weight="bold" fill="#000">BI-1C2C</text><text x="152.5" y="1695.3" font-size="24" text-anchor="middle" font-weight="bold" fill="#000">7</text><text x="211.7" y="1695.3" font-size="24" text-anchor="middle" font-weight="bold" fill="#000">3</text><text x="271" y="1695.3" font-size="24" text-anchor="middle" font-weight="bold" fill="#000">6</text><text x="330.2" y="1695.3" font-size="24" text-anchor="middle" font-weight="bold" fill="#000">4</text><text x="389.4" y="1695.3" font-size="24" text-anchor="middle" font-weight="bold" fill="#000">5</text><text x="448.6" y="1695.3" font-size="24" text-anchor="middle" font-weight="bold" fill="#000">4</text><text x="507.8" y="1695.3" font-size="24" text-anchor="middle" font-weight="bold" fill="#000">9</text><text x="567" y="1695.3" font-size="24" text-anchor="middle" font-weight="bold" fill="#000">7</text><text x="626.3" y="1695.3" font-size="24" text-anchor="middle" font-weight="bold" fill="#000">7</text><text x="685.5" y="1695.3" font-size="24" text-anchor="middle" font-weight="bold" fill="#000">12</text><text x="744.7" y="1695.3" font-size="24" text-anchor="middle" font-weight="bold" fill="#000">10</text><text x="803.9" y="1695.3" font-size="24" text-anchor="middle" font-weight="bold" fill="#000">8</text><text x="863.1" y="1695.3" font-size="24" text-anchor="middle" font-weight="bold" fill="#000">18</text><text x="922.4" y="1695.3" font-size="24" text-anchor="middle" font-weight="bold" fill="#000">3</text><text x="981.6" y="1695.3" font-size="24" text-anchor="middle" font-weight="bold" fill="#000">12</text><text x="1040.8" y="1695.3" font-size="24" text-anchor="middle" font-weight="bold" fill="#000">5</text><text x="1100" y="1695.3" font-size="24" text-anchor="middle" font-weight="bold" fill="#000">38</text><text x="1159.2" y="1695.3" font-size="24" text-anchor="middle" font-weight="bold" fill="#000">100</text><text x="1218.5" y="1695.3" font-size="24" text-anchor="middle" font-weight="bold" fill="#000">77</text><text x="1277.7" y="1695.3" font-size="24" text-anchor="middle" font-weight="bold" fill="#000">14</text><text x="1336.9" y="1695.3" font-size="24" text-anchor="middle" font-weight="bold" fill="#000">7</text><text x="1396.1" y="1695.3" font-size="24" text-anchor="middle" font-weight="bold" fill="#000">8</text><text x="1455.4" y="1695.3" font-size="24" text-anchor="middle" font-weight="bold" fill="#000">10</text><text x="1514.6" y="1695.3" font-size="24" text-anchor="middle" font-weight="bold" fill="#000">6</text><text x="1573.8" y="1695.3" font-size="24" text-anchor="middle" font-weight="bold" fill="#000">31</text><text x="1633" y="1695.3" font-size="24" text-anchor="middle" font-weight="bold" fill="#000">47</text><text x="1692.2" y="1695.3" font-size="24" text-anchor="middle" font-weight="bold" fill="#000">10</text><text x="1751.5" y="1695.3" font-size="24" text-anchor="middle" font-weight="bold" fill="#000">77</text><text x="1810.7" y="1695.3" font-size="24" text-anchor="middle" font-weight="bold" fill="#000">61</text><text transform="translate(161.3,1503.3) rotate(-45)" font-size="24" font-weight="bold">WT</text><text transform="translate(220.5,1503.3) rotate(-45)" font-size="24" font-weight="bold">Alpha</text><text transform="translate(279.8,1503.3) rotate(-45)" font-size="24" font-weight="bold">Beta</text><text transform="translate(339,1503.3) rotate(-45)" font-size="24" font-weight="bold">Gamma</text><text transform="translate(398.2,1503.3) rotate(-45)" font-size="24" font-weight="bold">Delta</text><text transform="translate(457.4,1503.3) rotate(-45)" font-size="24" font-weight="bold">Lambda</text><text transform="translate(516.6,1503.3) rotate(-45)" font-size="24" font-weight="bold">Mu</text><text transform="translate(575.8,1503.3) rotate(-45)" font-size="24" font-weight="bold">Kappa</text><text transform="translate(635.1,1503.3) rotate(-45)" font-size="24" font-weight="bold">Eta</text><text transform="translate(694.3,1503.3) rotate(-45)" font-size="24" font-weight="bold">Iota v1</text><text transform="translate(753.5,1503.3) rotate(-45)" font-size="24" font-weight="bold">Iota v2</text><text transform="translate(812.7,1503.3) rotate(-45)" font-size="24" font-weight="bold">Epsilon</text><text transform="translate(871.9,1503.3) rotate(-45)" font-size="24" font-weight="bold">Zeta</text><text transform="translate(931.2,1503.3) rotate(-45)" font-size="24" font-weight="bold">BA.1</text><text transform="translate(990.4,1503.3) rotate(-45)" font-size="24" font-weight="bold">BA.2</text><text transform="translate(1049.6,1503.3) rotate(-45)" font-size="24" font-weight="bold">BA.2.12.1</text><text transform="translate(1108.8,1503.3) rotate(-45)" font-size="24" font-weight="bold">BA.2.75</text><text transform="translate(1168,1503.3) rotate(-45)" font-size="24" font-weight="bold">BA.2.75.2</text><text transform="translate(1227.3,1503.3) rotate(-45)" font-size="24" font-weight="bold">BN.1</text><text transform="translate(1286.5,1503.3) rotate(-45)" font-size="24" font-weight="bold">BA.3</text><text transform="translate(1345.7,1503.3) rotate(-45)" font-size="24" font-weight="bold">BA.4</text><text transform="translate(1404.9,1503.3) rotate(-45)" font-size="24" font-weight="bold">BA.4.6</text><text transform="translate(1464.2,1503.3) rotate(-45)" font-size="24" font-weight="bold">BA.5</text><text transform="translate(1523.4,1503.3) rotate(-45)" font-size="24" font-weight="bold">BF.7</text><text transform="translate(1582.6,1503.3) rotate(-45)" font-size="24" font-weight="bold">BQ.1</text><text transform="translate(1641.8,1503.3) rotate(-45)" font-size="24" font-weight="bold">BQ.1.1</text><text transform="translate(1701,1503.3) rotate(-45)" font-size="24" font-weight="bold">XD</text><text transform="translate(1760.2,1503.3) rotate(-45)" font-size="24" font-weight="bold">XBB</text><text transform="translate(1819.5,1503.3) rotate(-45)" font-size="24" font-weight="bold">XBB.1.5</text><line x1="74.8" y1="1976.1" x2="440.2" y2="1976.1" stroke="#000" stroke-width="1.3" stroke-dasharray="1.6,2.4"/><path d="M147.9,2056.2 L149.4,2053.4 L150.9,2050.2 L152.4,2046.7 L153.9,2042.9 L155.4,2038.7 L157,2034.2 L158.5,2029.4 L160,2024.1 L161.5,2018.6 L163,2012.7 L164.5,2006.6 L166,2000.2 L167.5,1993.6 L169.1,1986.8 L170.6,1980 L172.1,1973.1 L173.6,1966.3 L175.1,1959.5 L176.6,1952.9 L178.1,1946.5 L179.6,1940.3 L181.2,1934.4 L182.7,1928.8 L184.2,1923.5 L185.7,1918.6 L187.2,1914 L188.7,1909.8 L190.2,1905.9 L191.7,1902.4 L193.3,1899.2 L194.8,1896.3 L196.3,1893.7 L197.8,1891.3 L199.3,1889.2 L200.8,1887.3 L202.3,1885.6 L203.8,1884.1 L205.4,1882.8 L206.9,1881.6 L208.4,1880.6 L209.9,1879.7 L211.4,1878.9 L212.9,1878.1 L214.4,1877.5 L215.9,1876.9 L217.5,1876.5 L219,1876 L220.5,1875.6 L222,1875.3 L223.5,1875 L225,1874.8 L226.5,1874.5 L228,1874.3 L229.6,1874.2 L231.1,1874 L232.6,1873.9 L234.1,1873.8 L235.6,1873.7 L237.1,1873.6 L238.6,1873.5 L240.1,1873.4 L241.7,1873.4 L243.2,1873.3 L244.7,1873.3 L246.2,1873.2 L247.7,1873.2 L249.2,1873.2 L250.7,1873.1 L252.2,1873.1 L253.8,1873.1 L255.3,1873.1 L256.8,1873.1 L258.3,1873.1 L259.8,1873 L261.3,1873 L262.8,1873 L264.3,1873 L265.9,1873 L267.4,1873 L268.9,1873 L270.4,1873 L271.9,1873 L273.4,1873 L274.9,1873 L276.4,1873 L278,1873 L279.5,1873 L281,1873 L282.5,1873 L284,1873 L285.5,1873 L287,1873 L288.5,1873 L290.1,1873 L291.6,1873 L293.1,1873 L294.6,1873 L296.1,1873 L297.6,1873 L299.1,1873 L300.6,1873 L302.1,1873 L303.7,1873 L305.2,1873 L306.7,1873 L308.2,1873 L309.7,1873 L311.2,1873 L312.7,1873 L314.2,1873 L315.8,1873 L317.3,1873 L318.8,1873 L320.3,1873 L321.8,1873 L323.3,1873 L324.8,1873 L326.3,1873 L327.9,1873 L329.4,1873 L330.9,1873 L332.4,1873 L333.9,1873 L335.4,1873 L336.9,1873 L338.4,1873 L340,1873 L341.5,1873 L343,1873 L344.5,1873 L346,1873 L347.5,1873 L349,1873 L350.5,1873 L352.1,1873 L353.6,1873 L355.1,1873 L356.6,1873 L358.1,1873 L359.6,1873 L361.1,1873 L362.6,1873 L364.2,1873 L365.7,1873 L367.2,1873 L368.7,1873 L370.2,1873 L371.7,1873 L373.2,1873 L374.7,1873 L376.3,1873 L377.8,1873 L379.3,1873 L380.8,1873 L382.3,1873 L383.8,1873 L385.3,1873 L386.8,1873 L388.4,1873 L389.9,1873" fill="none" stroke="#d8721c" stroke-width="1.6" stroke-linejoin="round"/><path d="M147.9,2033.9 L149.4,2029.2 L150.9,2024.2 L152.4,2018.9 L153.9,2013.2 L155.4,2007.3 L157,2001.2 L158.5,1994.9 L160,1988.4 L161.5,1981.8 L163,1975.2 L164.5,1968.5 L166,1962 L167.5,1955.5 L169.1,1949.3 L170.6,1943.2 L172.1,1937.4 L173.6,1931.8 L175.1,1926.5 L176.6,1921.6 L178.1,1917 L179.6,1912.7 L181.2,1908.7 L182.7,1905.1 L184.2,1901.7 L185.7,1898.7 L187.2,1895.9 L188.7,1893.4 L190.2,1891.2 L191.7,1889.2 L193.3,1887.3 L194.8,1885.7 L196.3,1884.3 L197.8,1883 L199.3,1881.8 L200.8,1880.8 L202.3,1879.9 L203.8,1879.1 L205.4,1878.3 L206.9,1877.7 L208.4,1877.1 L209.9,1876.6 L211.4,1876.2 L212.9,1875.8 L214.4,1875.5 L215.9,1875.2 L217.5,1874.9 L219,1874.7 L220.5,1874.5 L222,1874.3 L223.5,1874.1 L225,1874 L226.5,1873.9 L228,1873.8 L229.6,1873.7 L231.1,1873.6 L232.6,1873.5 L234.1,1873.4 L235.6,1873.4 L237.1,1873.3 L238.6,1873.3 L240.1,1873.2 L241.7,1873.2 L243.2,1873.2 L244.7,1873.2 L246.2,1873.1 L247.7,1873.1 L249.2,1873.1 L250.7,1873.1 L252.2,1873.1 L253.8,1873 L255.3,1873 L256.8,1873 L258.3,1873 L259.8,1873 L261.3,1873 L262.8,1873 L264.3,1873 L265.9,1873 L267.4,1873 L268.9,1873 L270.4,1873 L271.9,1873 L273.4,1873 L274.9,1873 L276.4,1873 L278,1873 L279.5,1873 L281,1873 L282.5,1873 L284,1873 L285.5,1873 L287,1873 L288.5,1873 L290.1,1873 L291.6,1873 L293.1,1873 L294.6,1873 L296.1,1873 L297.6,1873 L299.1,1873 L300.6,1873 L302.1,1873 L303.7,1873 L305.2,1873 L306.7,1873 L308.2,1873 L309.7,1873 L311.2,1873 L312.7,1873 L314.2,1873 L315.8,1873 L317.3,1873 L318.8,1873 L320.3,1873 L321.8,1873 L323.3,1873 L324.8,1873 L326.3,1873 L327.9,1873 L329.4,1873 L330.9,1873 L332.4,1873 L333.9,1873 L335.4,1873 L336.9,1873 L338.4,1873 L340,1873 L341.5,1873 L343,1873 L344.5,1873 L346,1873 L347.5,1873 L349,1873 L350.5,1873 L352.1,1873 L353.6,1873 L355.1,1873 L356.6,1873 L358.1,1873 L359.6,1873 L361.1,1873 L362.6,1873 L364.2,1873 L365.7,1873 L367.2,1873 L368.7,1873 L370.2,1873 L371.7,1873 L373.2,1873 L374.7,1873 L376.3,1873 L377.8,1873 L379.3,1873 L380.8,1873 L382.3,1873 L383.8,1873 L385.3,1873 L386.8,1873 L388.4,1873 L389.9,1873" fill="none" stroke="#d8721c" stroke-width="1.6" stroke-linejoin="round"/><path d="M147.9,2079.2 L149.4,2079.2 L150.9,2079.2 L152.4,2079.2 L153.9,2079.2 L155.4,2079.2 L157,2079.2 L158.5,2079.2 L160,2079.2 L161.5,2079.2 L163,2079.2 L164.5,2079.2 L166,2079.2 L167.5,2079.2 L169.1,2079.2 L170.6,2079.2 L172.1,2079.2 L173.6,2079.2 L175.1,2079.2 L176.6,2079.2 L178.1,2079.2 L179.6,2079.2 L181.2,2079.2 L182.7,2079.2 L184.2,2079.2 L185.7,2079.2 L187.2,2079.2 L188.7,2079.2 L190.2,2079.2 L191.7,2079.2 L193.3,2079.2 L194.8,2079.2 L196.3,2079.2 L197.8,2079.2 L199.3,2079.2 L200.8,2079.2 L202.3,2079.2 L203.8,2079.2 L205.4,2079.2 L206.9,2079.1 L208.4,2079.1 L209.9,2079.1 L211.4,2079.1 L212.9,2079.1 L214.4,2079.1 L215.9,2079.1 L217.5,2079.1 L219,2079 L220.5,2079 L222,2079 L223.5,2079 L225,2078.9 L226.5,2078.9 L228,2078.9 L229.6,2078.8 L231.1,2078.8 L232.6,2078.7 L234.1,2078.6 L235.6,2078.6 L237.1,2078.5 L238.6,2078.4 L240.1,2078.3 L241.7,2078.1 L243.2,2078 L244.7,2077.8 L246.2,2077.6 L247.7,2077.4 L249.2,2077.2 L250.7,2076.9 L252.2,2076.6 L253.8,2076.3 L255.3,2075.9 L256.8,2075.4 L258.3,2074.9 L259.8,2074.3 L261.3,2073.7 L262.8,2072.9 L264.3,2072.1 L265.9,2071.2 L267.4,2070.1 L268.9,2069 L270.4,2067.6 L271.9,2066.1 L273.4,2064.5 L274.9,2062.6 L276.4,2060.5 L278,2058.2 L279.5,2055.7 L281,2052.9 L282.5,2049.8 L284,2046.4 L285.5,2042.7 L287,2038.6 L288.5,2034.3 L290.1,2029.6 L291.6,2024.6 L293.1,2019.3 L294.6,2013.6 L296.1,2007.8 L297.6,2001.6 L299.1,1995.3 L300.6,1988.9 L302.1,1982.3 L303.7,1975.7 L305.2,1969 L306.7,1962.5 L308.2,1956 L309.7,1949.7 L311.2,1943.6 L312.7,1937.8 L314.2,1932.2 L315.8,1926.9 L317.3,1921.9 L318.8,1917.3 L320.3,1913 L321.8,1909 L323.3,1905.3 L324.8,1902 L326.3,1898.9 L327.9,1896.1 L329.4,1893.6 L330.9,1891.3 L332.4,1889.3 L333.9,1887.5 L335.4,1885.8 L336.9,1884.4 L338.4,1883 L340,1881.9 L341.5,1880.8 L343,1879.9 L344.5,1879.1 L346,1878.4 L347.5,1877.7 L349,1877.2 L350.5,1876.7 L352.1,1876.2 L353.6,1875.8 L355.1,1875.5 L356.6,1875.2 L358.1,1874.9 L359.6,1874.7 L361.1,1874.5 L362.6,1874.3 L364.2,1874.1 L365.7,1874 L367.2,1873.9 L368.7,1873.8 L370.2,1873.7 L371.7,1873.6 L373.2,1873.5 L374.7,1873.4 L376.3,1873.4 L377.8,1873.3 L379.3,1873.3 L380.8,1873.2 L382.3,1873.2 L383.8,1873.2 L385.3,1873.2 L386.8,1873.1 L388.4,1873.1 L389.9,1873.1" fill="none" stroke="#b47fd5" stroke-width="1.6" stroke-linejoin="round"/><path d="M147.9,2079.2 L149.4,2079.2 L150.9,2079.2 L152.4,2079.2 L153.9,2079.2 L155.4,2079.2 L157,2079.2 L158.5,2079.2 L160,2079.2 L161.5,2079.2 L163,2079.2 L164.5,2079.2 L166,2079.2 L167.5,2079.2 L169.1,2079.2 L170.6,2079.2 L172.1,2079.2 L173.6,2079.2 L175.1,2079.2 L176.6,2079.2 L178.1,2079.2 L179.6,2079.2 L181.2,2079.2 L182.7,2079.2 L184.2,2079.2 L185.7,2079.2 L187.2,2079.2 L188.7,2079.2 L190.2,2079.2 L191.7,2079.2 L193.3,2079.2 L194.8,2079.2 L196.3,2079.2 L197.8,2079.2 L199.3,2079.2 L200.8,2079.2 L202.3,2079.2 L203.8,2079.2 L205.4,2079.2 L206.9,2079.1 L208.4,2079.1 L209.9,2079.1 L211.4,2079.1 L212.9,2079.1 L214.4,2079.1 L215.9,2079.1 L217.5,2079.1 L219,2079.1 L220.5,2079.1 L222,2079 L223.5,2079 L225,2079 L226.5,2079 L228,2078.9 L229.6,2078.9 L231.1,2078.9 L232.6,2078.8 L234.1,2078.8 L235.6,2078.8 L237.1,2078.7 L238.6,2078.6 L240.1,2078.6 L241.7,2078.5 L243.2,2078.4 L244.7,2078.3 L246.2,2078.2 L247.7,2078.1 L249.2,2078 L250.7,2077.8 L252.2,2077.6 L253.8,2077.4 L255.3,2077.2 L256.8,2077 L258.3,2076.7 L259.8,2076.4 L261.3,2076.1 L262.8,2075.7 L264.3,2075.3 L265.9,2074.9 L267.4,2074.4 L268.9,2073.8 L270.4,2073.2 L271.9,2072.4 L273.4,2071.7 L274.9,2070.8 L276.4,2069.8 L278,2068.7 L279.5,2067.5 L281,2066.2 L282.5,2064.7 L284,2063.1 L285.5,2061.3 L287,2059.4 L288.5,2057.2 L290.1,2054.9 L291.6,2052.3 L293.1,2049.5 L294.6,2046.5 L296.1,2043.2 L297.6,2039.7 L299.1,2035.9 L300.6,2031.9 L302.1,2027.6 L303.7,2023.1 L305.2,2018.3 L306.7,2013.2 L308.2,2008 L309.7,2002.6 L311.2,1997 L312.7,1991.3 L314.2,1985.5 L315.8,1979.6 L317.3,1973.7 L318.8,1967.8 L320.3,1962 L321.8,1956.3 L323.3,1950.7 L324.8,1945.2 L326.3,1939.9 L327.9,1934.9 L329.4,1930 L330.9,1925.4 L332.4,1921.1 L333.9,1917 L335.4,1913.2 L336.9,1909.6 L338.4,1906.3 L340,1903.2 L341.5,1900.4 L343,1897.8 L344.5,1895.4 L346,1893.2 L347.5,1891.2 L349,1889.4 L350.5,1887.7 L352.1,1886.2 L353.6,1884.9 L355.1,1883.7 L356.6,1882.6 L358.1,1881.6 L359.6,1880.7 L361.1,1879.9 L362.6,1879.1 L364.2,1878.5 L365.7,1877.9 L367.2,1877.4 L368.7,1876.9 L370.2,1876.5 L371.7,1876.1 L373.2,1875.8 L374.7,1875.5 L376.3,1875.2 L377.8,1875 L379.3,1874.8 L380.8,1874.6 L382.3,1874.4 L383.8,1874.2 L385.3,1874.1 L386.8,1874 L388.4,1873.9 L389.9,1873.8" fill="none" stroke="#b47fd5" stroke-width="1.6" stroke-linejoin="round"/><line x1="147.9" y1="2079.2" x2="147.9" y2="2011.1" stroke="#d8721c" stroke-width="1.5"/><line x1="143.7" y1="2011.1" x2="152.1" y2="2011.1" stroke="#d8721c" stroke-width="1.5"/><line x1="169.9" y1="2022.9" x2="169.9" y2="1952.8" stroke="#d8721c" stroke-width="1.5"/><line x1="165.7" y1="1952.8" x2="174.1" y2="1952.8" stroke="#d8721c" stroke-width="1.5"/><line x1="165.7" y1="2022.9" x2="174.1" y2="2022.9" stroke="#d8721c" stroke-width="1.5"/><line x1="191.9" y1="1919.2" x2="191.9" y2="1861.4" stroke="#d8721c" stroke-width="1.5"/><line x1="187.7" y1="1861.4" x2="196.1" y2="1861.4" stroke="#d8721c" stroke-width="1.5"/><line x1="187.7" y1="1919.2" x2="196.1" y2="1919.2" stroke="#d8721c" stroke-width="1.5"/><line x1="147.9" y1="2040.4" x2="147.9" y2="2015.7" stroke="#d8721c" stroke-width="1.5"/><line x1="143.7" y1="2015.7" x2="152.1" y2="2015.7" stroke="#d8721c" stroke-width="1.5"/><line x1="143.7" y1="2040.4" x2="152.1" y2="2040.4" stroke="#d8721c" stroke-width="1.5"/><line x1="169.9" y1="1988.5" x2="169.9" y2="1928.6" stroke="#d8721c" stroke-width="1.5"/><line x1="165.7" y1="1928.6" x2="174.1" y2="1928.6" stroke="#d8721c" stroke-width="1.5"/><line x1="165.7" y1="1988.5" x2="174.1" y2="1988.5" stroke="#d8721c" stroke-width="1.5"/><line x1="191.9" y1="1885.3" x2="191.9" y2="1860.6" stroke="#d8721c" stroke-width="1.5"/><line x1="187.7" y1="1860.6" x2="196.1" y2="1860.6" stroke="#d8721c" stroke-width="1.5"/><line x1="187.7" y1="1885.3" x2="196.1" y2="1885.3" stroke="#d8721c" stroke-width="1.5"/><circle cx="147.9" cy="2079.2" r="4.4" fill="#b47fd5"/><circle cx="169.9" cy="2079.2" r="4.4" fill="#b47fd5"/><circle cx="191.9" cy="2079.2" r="4.4" fill="#b47fd5"/><circle cx="213.9" cy="2079.2" r="4.4" fill="#b47fd5"/><circle cx="235.9" cy="2079.2" r="4.4" fill="#b47fd5"/><circle cx="257.9" cy="2079.2" r="4.4" fill="#b47fd5"/><circle cx="279.9" cy="2054.2" r="4.4" fill="#b47fd5"/><circle cx="301.9" cy="1976.1" r="4.4" fill="#b47fd5"/><circle cx="323.9" cy="1923.9" r="4.4" fill="#b47fd5"/><circle cx="345.9" cy="1873" r="4.4" fill="#b47fd5"/><circle cx="367.9" cy="1873" r="4.4" fill="#b47fd5"/><circle cx="389.9" cy="1873" r="4.4" fill="#b47fd5"/><rect x="143.7" y="2075" width="8.4" height="8.4" fill="#b47fd5"/><rect x="165.7" y="2075" width="8.4" height="8.4" fill="#b47fd5"/><rect x="187.7" y="2075" width="8.4" height="8.4" fill="#b47fd5"/><rect x="209.7" y="2075" width="8.4" height="8.4" fill="#b47fd5"/><rect x="231.7" y="2075" width="8.4" height="8.4" fill="#b47fd5"/><rect x="253.7" y="2075" width="8.4" height="8.4" fill="#b47fd5"/><rect x="275.7" y="2075" width="8.4" height="8.4" fill="#b47fd5"/><rect x="297.7" y="2023.4" width="8.4" height="8.4" fill="#b47fd5"/><rect x="319.7" y="1945.3" width="8.4" height="8.4" fill="#b47fd5"/><rect x="341.7" y="1894.1" width="8.4" height="8.4" fill="#b47fd5"/><rect x="363.7" y="1868.8" width="8.4" height="8.4" fill="#b47fd5"/><rect x="385.7" y="1868.8" width="8.4" height="8.4" fill="#b47fd5"/><circle cx="147.9" cy="2045.2" r="4.4" fill="#d8721c"/><circle cx="169.9" cy="1987.8" r="4.4" fill="#d8721c"/><circle cx="191.9" cy="1890.3" r="4.4" fill="#d8721c"/><circle cx="213.9" cy="1873" r="4.4" fill="#d8721c"/><circle cx="235.9" cy="1873" r="4.4" fill="#d8721c"/><circle cx="257.9" cy="1873" r="4.4" fill="#d8721c"/><circle cx="279.9" cy="1873" r="4.4" fill="#d8721c"/><circle cx="301.9" cy="1873" r="4.4" fill="#d8721c"/><circle cx="323.9" cy="1873" r="4.4" fill="#d8721c"/><circle cx="345.9" cy="1873" r="4.4" fill="#d8721c"/><circle cx="367.9" cy="1873" r="4.4" fill="#d8721c"/><circle cx="389.9" cy="1873" r="4.4" fill="#d8721c"/><rect x="143.7" y="2023.9" width="8.4" height="8.4" fill="#d8721c"/><rect x="165.7" y="1954.3" width="8.4" height="8.4" fill="#d8721c"/><rect x="187.7" y="1868.8" width="8.4" height="8.4" fill="#d8721c"/><rect x="209.7" y="1868.8" width="8.4" height="8.4" fill="#d8721c"/><rect x="231.7" y="1868.8" width="8.4" height="8.4" fill="#d8721c"/><rect x="253.7" y="1868.8" width="8.4" height="8.4" fill="#d8721c"/><rect x="275.7" y="1868.8" width="8.4" height="8.4" fill="#d8721c"/><rect x="297.7" y="1868.8" width="8.4" height="8.4" fill="#d8721c"/><rect x="319.7" y="1868.8" width="8.4" height="8.4" fill="#d8721c"/><rect x="341.7" y="1868.8" width="8.4" height="8.4" fill="#d8721c"/><rect x="363.7" y="1868.8" width="8.4" height="8.4" fill="#d8721c"/><rect x="385.7" y="1868.8" width="8.4" height="8.4" fill="#d8721c"/><path d="M74.8,1821.4 L74.8,2079.2 L440.2,2079.2 M74.8,2079.2 L74.8,2089.7 M147.9,2079.2 L147.9,2089.7 M221,2079.2 L221,2089.7 M294,2079.2 L294,2089.7 M367.1,2079.2 L367.1,2089.7 M440.2,2079.2 L440.2,2089.7 M74.8,2079.2 L64.3,2079.2 M74.8,2027.6 L64.3,2027.6 M74.8,1976.1 L64.3,1976.1 M74.8,1924.5 L64.3,1924.5 M74.8,1873 L64.3,1873 M74.8,1821.4 L64.3,1821.4" fill="none" stroke="#000" stroke-width="2.5" stroke-linecap="square"/><text x="60.6" y="2086.4" font-size="19.2" text-anchor="end" font-weight="bold" fill="#000">0</text><text x="60.6" y="2034.8" font-size="19.2" text-anchor="end" font-weight="bold" fill="#000">25</text><text x="60.6" y="1983.3" font-size="19.2" text-anchor="end" font-weight="bold" fill="#000">50</text><text x="60.6" y="1931.7" font-size="19.2" text-anchor="end" font-weight="bold" fill="#000">75</text><text x="60.6" y="1880.2" font-size="19.2" text-anchor="end" font-weight="bold" fill="#000">100</text><text x="60.6" y="1828.6" font-size="19.2" text-anchor="end" font-weight="bold" fill="#000">125</text><text x="75.6" y="2112" font-size="19" font-weight="bold" text-anchor="middle">10<tspan font-size="13" dx="1.6" dy="-5.7">-4</tspan></text><text x="148.7" y="2112" font-size="19" font-weight="bold" text-anchor="middle">10<tspan font-size="13" dx="1.6" dy="-5.7">-3</tspan></text><text x="221.8" y="2112" font-size="19" font-weight="bold" text-anchor="middle">10<tspan font-size="13" dx="1.6" dy="-5.7">-2</tspan></text><text x="294.8" y="2112" font-size="19" font-weight="bold" text-anchor="middle">10<tspan font-size="13" dx="1.6" dy="-5.7">-1</tspan></text><text x="367.9" y="2112" font-size="19" font-weight="bold" text-anchor="middle">10<tspan font-size="13" dx="1.6" dy="-5.7">0</tspan></text><text x="441" y="2112" font-size="19" font-weight="bold" text-anchor="middle">10<tspan font-size="13" dx="1.6" dy="-5.7">1</tspan></text><text x="257.5" y="2143.8" font-size="21.3" text-anchor="middle" font-weight="bold" fill="#000">Antibody concentration (<tspan font-family="'DejaVu Sans', sans-serif" font-weight="normal">μ</tspan>g/ml)</text><text transform="translate(18.8,1950.3) rotate(-90)" font-size="21" text-anchor="middle" font-weight="bold" fill="#000">Neutralization (%)</text><text x="264.4" y="1787.6" font-size="24" text-anchor="middle" font-weight="bold" fill="#000">WT</text><line x1="346.3" y1="1927.7" x2="373.9" y2="1927.7" stroke="#d8721c" stroke-width="1.6"/><circle cx="360.2" cy="1927.7" r="4.4" fill="#d8721c"/><text x="390.2" y="1934.2" font-size="21.5" font-weight="bold">BI-2C5B (IC<tspan font-size="14.2" dy="4.2">50</tspan><tspan dy="-4.2">=2ng/ml)</tspan></text><line x1="346.3" y1="1958.9" x2="373.9" y2="1958.9" stroke="#d8721c" stroke-width="1.6"/><rect x="356" y="1954.7" width="8.4" height="8.4" fill="#d8721c"/><text x="390.2" y="1965.4" font-size="21.5" font-weight="bold">BI-5B2C (IC<tspan font-size="14.2" dy="4.2">50</tspan><tspan dy="-4.2">=2ng/ml)</tspan></text><line x1="346.3" y1="1990.2" x2="373.9" y2="1990.2" stroke="#b47fd5" stroke-width="1.6"/><circle cx="360.2" cy="1990.2" r="4.4" fill="#b47fd5"/><text x="390.2" y="1996.7" font-size="21.5" font-weight="bold">BI-2C1C (IC<tspan font-size="14.2" dy="4.2">50</tspan><tspan dy="-4.2">=135ng/ml)</tspan></text><line x1="346.3" y1="2022" x2="373.9" y2="2022" stroke="#b47fd5" stroke-width="1.6"/><rect x="356" y="2017.8" width="8.4" height="8.4" fill="#b47fd5"/><text x="390.2" y="2028.5" font-size="21.5" font-weight="bold">BI-1C2C (IC<tspan font-size="14.2" dy="4.2">50</tspan><tspan dy="-4.2">=204ng/ml)</tspan></text><line x1="727" y1="1976.4" x2="1092" y2="1976.4" stroke="#000" stroke-width="1.3" stroke-dasharray="1.6,2.4"/><path d="M800,2079.4 L801.5,2079.4 L803,2079.4 L804.5,2079.4 L806,2079.4 L807.6,2079.4 L809.1,2079.4 L810.6,2079.3 L812.1,2079.3 L813.6,2079.3 L815.1,2079.3 L816.6,2079.3 L818.1,2079.3 L819.6,2079.3 L821.2,2079.3 L822.7,2079.3 L824.2,2079.2 L825.7,2079.2 L827.2,2079.2 L828.7,2079.2 L830.2,2079.1 L831.7,2079.1 L833.2,2079.1 L834.7,2079 L836.3,2079 L837.8,2078.9 L839.3,2078.9 L840.8,2078.8 L842.3,2078.7 L843.8,2078.6 L845.3,2078.5 L846.8,2078.4 L848.3,2078.3 L849.9,2078.1 L851.4,2078 L852.9,2077.8 L854.4,2077.6 L855.9,2077.3 L857.4,2077 L858.9,2076.7 L860.4,2076.4 L861.9,2076 L863.5,2075.6 L865,2075.1 L866.5,2074.5 L868,2073.9 L869.5,2073.2 L871,2072.4 L872.5,2071.5 L874,2070.5 L875.5,2069.4 L877.1,2068.1 L878.6,2066.7 L880.1,2065.2 L881.6,2063.4 L883.1,2061.5 L884.6,2059.4 L886.1,2057 L887.6,2054.4 L889.1,2051.6 L890.6,2048.5 L892.2,2045.1 L893.7,2041.4 L895.2,2037.4 L896.7,2033.1 L898.2,2028.5 L899.7,2023.6 L901.2,2018.4 L902.7,2013 L904.2,2007.3 L905.8,2001.4 L907.3,1995.3 L908.8,1989.1 L910.3,1982.7 L911.8,1976.4 L913.3,1970 L914.8,1963.7 L916.3,1957.4 L917.8,1951.3 L919.4,1945.4 L920.9,1939.7 L922.4,1934.3 L923.9,1929.1 L925.4,1924.2 L926.9,1919.6 L928.4,1915.3 L929.9,1911.3 L931.4,1907.6 L932.9,1904.2 L934.5,1901.1 L936,1898.3 L937.5,1895.7 L939,1893.3 L940.5,1891.2 L942,1889.3 L943.5,1887.5 L945,1886 L946.5,1884.6 L948.1,1883.3 L949.6,1882.2 L951.1,1881.2 L952.6,1880.3 L954.1,1879.5 L955.6,1878.8 L957.1,1878.2 L958.6,1877.7 L960.1,1877.2 L961.7,1876.7 L963.2,1876.3 L964.7,1876 L966.2,1875.7 L967.7,1875.4 L969.2,1875.2 L970.7,1874.9 L972.2,1874.8 L973.7,1874.6 L975.3,1874.4 L976.8,1874.3 L978.3,1874.2 L979.8,1874.1 L981.3,1874 L982.8,1873.9 L984.3,1873.9 L985.8,1873.8 L987.3,1873.7 L988.8,1873.7 L990.4,1873.6 L991.9,1873.6 L993.4,1873.6 L994.9,1873.5 L996.4,1873.5 L997.9,1873.5 L999.4,1873.5 L1000.9,1873.5 L1002.4,1873.4 L1004,1873.4 L1005.5,1873.4 L1007,1873.4 L1008.5,1873.4 L1010,1873.4 L1011.5,1873.4 L1013,1873.4 L1014.5,1873.4 L1016,1873.4 L1017.6,1873.4 L1019.1,1873.4 L1020.6,1873.3 L1022.1,1873.3 L1023.6,1873.3 L1025.1,1873.3 L1026.6,1873.3 L1028.1,1873.3 L1029.6,1873.3 L1031.2,1873.3 L1032.7,1873.3 L1034.2,1873.3 L1035.7,1873.3 L1037.2,1873.3 L1038.7,1873.3 L1040.2,1873.3 L1041.7,1873.3" fill="none" stroke="#d8721c" stroke-width="1.6" stroke-linejoin="round"/><path d="M800,2079.4 L801.5,2079.4 L803,2079.4 L804.5,2079.4 L806,2079.4 L807.6,2079.4 L809.1,2079.4 L810.6,2079.4 L812.1,2079.3 L813.6,2079.3 L815.1,2079.3 L816.6,2079.3 L818.1,2079.3 L819.6,2079.3 L821.2,2079.3 L822.7,2079.3 L824.2,2079.3 L825.7,2079.3 L827.2,2079.2 L828.7,2079.2 L830.2,2079.2 L831.7,2079.2 L833.2,2079.1 L834.7,2079.1 L836.3,2079.1 L837.8,2079 L839.3,2079 L840.8,2078.9 L842.3,2078.9 L843.8,2078.8 L845.3,2078.8 L846.8,2078.7 L848.3,2078.6 L849.9,2078.5 L851.4,2078.4 L852.9,2078.3 L854.4,2078.1 L855.9,2078 L857.4,2077.8 L858.9,2077.6 L860.4,2077.4 L861.9,2077.1 L863.5,2076.9 L865,2076.6 L866.5,2076.2 L868,2075.8 L869.5,2075.4 L871,2074.9 L872.5,2074.4 L874,2073.8 L875.5,2073.2 L877.1,2072.5 L878.6,2071.6 L880.1,2070.7 L881.6,2069.7 L883.1,2068.6 L884.6,2067.4 L886.1,2066 L887.6,2064.5 L889.1,2062.9 L890.6,2061.1 L892.2,2059.1 L893.7,2056.9 L895.2,2054.5 L896.7,2051.9 L898.2,2049 L899.7,2045.9 L901.2,2042.6 L902.7,2039 L904.2,2035.2 L905.8,2031.1 L907.3,2026.7 L908.8,2022.1 L910.3,2017.3 L911.8,2012.2 L913.3,2006.9 L914.8,2001.4 L916.3,1995.8 L917.8,1990.1 L919.4,1984.3 L920.9,1978.4 L922.4,1972.5 L923.9,1966.6 L925.4,1960.8 L926.9,1955.1 L928.4,1949.5 L929.9,1944.1 L931.4,1938.9 L932.9,1933.9 L934.5,1929.1 L936,1924.6 L937.5,1920.3 L939,1916.3 L940.5,1912.6 L942,1909 L943.5,1905.8 L945,1902.8 L946.5,1900 L948.1,1897.5 L949.6,1895.1 L951.1,1893 L952.6,1891.1 L954.1,1889.3 L955.6,1887.7 L957.1,1886.2 L958.6,1884.9 L960.1,1883.7 L961.7,1882.6 L963.2,1881.7 L964.7,1880.8 L966.2,1880 L967.7,1879.3 L969.2,1878.7 L970.7,1878.1 L972.2,1877.6 L973.7,1877.2 L975.3,1876.8 L976.8,1876.4 L978.3,1876.1 L979.8,1875.8 L981.3,1875.5 L982.8,1875.3 L984.3,1875.1 L985.8,1874.9 L987.3,1874.7 L988.8,1874.6 L990.4,1874.4 L991.9,1874.3 L993.4,1874.2 L994.9,1874.1 L996.4,1874 L997.9,1873.9 L999.4,1873.9 L1000.9,1873.8 L1002.4,1873.8 L1004,1873.7 L1005.5,1873.7 L1007,1873.6 L1008.5,1873.6 L1010,1873.6 L1011.5,1873.5 L1013,1873.5 L1014.5,1873.5 L1016,1873.5 L1017.6,1873.5 L1019.1,1873.4 L1020.6,1873.4 L1022.1,1873.4 L1023.6,1873.4 L1025.1,1873.4 L1026.6,1873.4 L1028.1,1873.4 L1029.6,1873.4 L1031.2,1873.4 L1032.7,1873.4 L1034.2,1873.4 L1035.7,1873.4 L1037.2,1873.4 L1038.7,1873.3 L1040.2,1873.3 L1041.7,1873.3" fill="none" stroke="#d8721c" stroke-width="1.6" stroke-linejoin="round"/><path d="M887.9,2069 L888.9,2068.5 L889.8,2068 L890.8,2067.4 L891.7,2066.8 L892.7,2066.2 L893.7,2065.5 L894.6,2064.8 L895.6,2064.1 L896.6,2063.4 L897.5,2062.6 L898.5,2061.8 L899.4,2060.9 L900.4,2060 L901.4,2059.1 L902.3,2058.1 L903.3,2057.1 L904.2,2056.1 L905.2,2055 L906.2,2053.9 L907.1,2052.7 L908.1,2051.5 L909.1,2050.2 L910,2048.9 L911,2047.5 L911.9,2046.1 L912.9,2044.7 L913.9,2043.1 L914.8,2041.6 L915.8,2040 L916.7,2038.3 L917.7,2036.6 L918.7,2034.8 L919.6,2033 L920.6,2031.1 L921.6,2029.2 L922.5,2027.2 L923.5,2025.1 L924.4,2023.1 L925.4,2020.9 L926.4,2018.7 L927.3,2016.5 L928.3,2014.2 L929.2,2011.9 L930.2,2009.5 L931.2,2007.1 L932.1,2004.7 L933.1,2002.2 L934,1999.7 L935,1997.2 L936,1994.6 L936.9,1992.1 L937.9,1989.5 L938.9,1986.8 L939.8,1984.2 L940.8,1981.6 L941.7,1978.9 L942.7,1976.2 L943.7,1973.6 L944.6,1970.9 L945.6,1968.3 L946.5,1965.7 L947.5,1963 L948.5,1960.4 L949.4,1957.9 L950.4,1955.3 L951.4,1952.8 L952.3,1950.3 L953.3,1947.8 L954.2,1945.4 L955.2,1943 L956.2,1940.6 L957.1,1938.3 L958.1,1936 L959,1933.8 L960,1931.6 L961,1929.5 L961.9,1927.4 L962.9,1925.4 L963.9,1923.4 L964.8,1921.5 L965.8,1919.6 L966.7,1917.8 L967.7,1916 L968.7,1914.3 L969.6,1912.6 L970.6,1911 L971.5,1909.4 L972.5,1907.9 L973.5,1906.5 L974.4,1905.1 L975.4,1903.7 L976.4,1902.4 L977.3,1901.1 L978.3,1899.9 L979.2,1898.7 L980.2,1897.6 L981.2,1896.5 L982.1,1895.5 L983.1,1894.5 L984,1893.5 L985,1892.6 L986,1891.7 L986.9,1890.9 L987.9,1890.1 L988.8,1889.3 L989.8,1888.5 L990.8,1887.8 L991.7,1887.2 L992.7,1886.5 L993.7,1885.9 L994.6,1885.3 L995.6,1884.7 L996.5,1884.2 L997.5,1883.7 L998.5,1883.2 L999.4,1882.7 L1000.4,1882.2 L1001.3,1881.8 L1002.3,1881.4 L1003.3,1881 L1004.2,1880.6 L1005.2,1880.3 L1006.2,1879.9 L1007.1,1879.6 L1008.1,1879.3 L1009,1879 L1010,1878.7 L1011,1878.5 L1011.9,1878.2 L1012.9,1878 L1013.8,1877.8 L1014.8,1877.5 L1015.8,1877.3 L1016.7,1877.1 L1017.7,1876.9 L1018.7,1876.8 L1019.6,1876.6 L1020.6,1876.4 L1021.5,1876.3 L1022.5,1876.1 L1023.5,1876 L1024.4,1875.9 L1025.4,1875.7 L1026.3,1875.6 L1027.3,1875.5 L1028.3,1875.4 L1029.2,1875.3 L1030.2,1875.2 L1031.2,1875.1 L1032.1,1875 L1033.1,1874.9 L1034,1874.8 L1035,1874.8 L1036,1874.7 L1036.9,1874.6 L1037.9,1874.6 L1038.8,1874.5 L1039.8,1874.4 L1040.8,1874.4 L1041.7,1874.3" fill="none" stroke="#b47fd5" stroke-width="1.6" stroke-linejoin="round"/><path d="M887.9,2079.4 L888.9,2079.4 L889.8,2079.4 L890.8,2079.4 L891.7,2079.4 L892.7,2079.4 L893.7,2079.3 L894.6,2079.3 L895.6,2079.3 L896.6,2079.3 L897.5,2079.3 L898.5,2079.3 L899.4,2079.3 L900.4,2079.3 L901.4,2079.3 L902.3,2079.3 L903.3,2079.3 L904.2,2079.2 L905.2,2079.2 L906.2,2079.2 L907.1,2079.2 L908.1,2079.2 L909.1,2079.1 L910,2079.1 L911,2079.1 L911.9,2079 L912.9,2079 L913.9,2079 L914.8,2078.9 L915.8,2078.8 L916.7,2078.8 L917.7,2078.7 L918.7,2078.6 L919.6,2078.6 L920.6,2078.5 L921.6,2078.4 L922.5,2078.3 L923.5,2078.1 L924.4,2078 L925.4,2077.9 L926.4,2077.7 L927.3,2077.5 L928.3,2077.3 L929.2,2077.1 L930.2,2076.8 L931.2,2076.6 L932.1,2076.3 L933.1,2075.9 L934,2075.6 L935,2075.1 L936,2074.7 L936.9,2074.2 L937.9,2073.6 L938.9,2073 L939.8,2072.4 L940.8,2071.6 L941.7,2070.8 L942.7,2069.9 L943.7,2069 L944.6,2067.9 L945.6,2066.7 L946.5,2065.4 L947.5,2064 L948.5,2062.5 L949.4,2060.8 L950.4,2059 L951.4,2057 L952.3,2054.9 L953.3,2052.6 L954.2,2050.1 L955.2,2047.4 L956.2,2044.5 L957.1,2041.4 L958.1,2038.1 L959,2034.6 L960,2030.9 L961,2027 L961.9,2022.9 L962.9,2018.5 L963.9,2014 L964.8,2009.3 L965.8,2004.5 L966.7,1999.5 L967.7,1994.4 L968.7,1989.2 L969.6,1983.9 L970.6,1978.6 L971.5,1973.3 L972.5,1968 L973.5,1962.8 L974.4,1957.6 L975.4,1952.5 L976.4,1947.6 L977.3,1942.7 L978.3,1938.1 L979.2,1933.6 L980.2,1929.3 L981.2,1925.2 L982.1,1921.3 L983.1,1917.6 L984,1914.1 L985,1910.8 L986,1907.8 L986.9,1904.9 L987.9,1902.3 L988.8,1899.8 L989.8,1897.5 L990.8,1895.4 L991.7,1893.4 L992.7,1891.6 L993.7,1890 L994.6,1888.5 L995.6,1887.1 L996.5,1885.8 L997.5,1884.7 L998.5,1883.6 L999.4,1882.6 L1000.4,1881.8 L1001.3,1881 L1002.3,1880.3 L1003.3,1879.6 L1004.2,1879 L1005.2,1878.5 L1006.2,1878 L1007.1,1877.5 L1008.1,1877.1 L1009,1876.7 L1010,1876.4 L1011,1876.1 L1011.9,1875.8 L1012.9,1875.6 L1013.8,1875.4 L1014.8,1875.2 L1015.8,1875 L1016.7,1874.8 L1017.7,1874.7 L1018.7,1874.6 L1019.6,1874.4 L1020.6,1874.3 L1021.5,1874.2 L1022.5,1874.1 L1023.5,1874.1 L1024.4,1874 L1025.4,1873.9 L1026.3,1873.9 L1027.3,1873.8 L1028.3,1873.8 L1029.2,1873.7 L1030.2,1873.7 L1031.2,1873.6 L1032.1,1873.6 L1033.1,1873.6 L1034,1873.6 L1035,1873.5 L1036,1873.5 L1036.9,1873.5 L1037.9,1873.5 L1038.8,1873.5 L1039.8,1873.4 L1040.8,1873.4 L1041.7,1873.4" fill="none" stroke="#b47fd5" stroke-width="1.6" stroke-linejoin="round"/><line x1="887.9" y1="2079.4" x2="887.9" y2="2033" stroke="#d8721c" stroke-width="1.5"/><line x1="883.7" y1="2033" x2="892.1" y2="2033" stroke="#d8721c" stroke-width="1.5"/><line x1="909.9" y1="2024.2" x2="909.9" y2="1951.2" stroke="#d8721c" stroke-width="1.5"/><line x1="905.7" y1="1951.2" x2="914.1" y2="1951.2" stroke="#d8721c" stroke-width="1.5"/><line x1="905.7" y1="2024.2" x2="914.1" y2="2024.2" stroke="#d8721c" stroke-width="1.5"/><line x1="931.9" y1="1937.4" x2="931.9" y2="1878.1" stroke="#d8721c" stroke-width="1.5"/><line x1="927.7" y1="1878.1" x2="936.1" y2="1878.1" stroke="#d8721c" stroke-width="1.5"/><line x1="927.7" y1="1937.4" x2="936.1" y2="1937.4" stroke="#d8721c" stroke-width="1.5"/><line x1="953.8" y1="1885.7" x2="953.8" y2="1861" stroke="#d8721c" stroke-width="1.5"/><line x1="949.6" y1="1861" x2="958" y2="1861" stroke="#d8721c" stroke-width="1.5"/><line x1="949.6" y1="1885.7" x2="958" y2="1885.7" stroke="#d8721c" stroke-width="1.5"/><line x1="909.9" y1="2079.4" x2="909.9" y2="1976.4" stroke="#d8721c" stroke-width="1.5"/><line x1="905.7" y1="1976.4" x2="914.1" y2="1976.4" stroke="#d8721c" stroke-width="1.5"/><line x1="931.9" y1="2020.7" x2="931.9" y2="1862" stroke="#d8721c" stroke-width="1.5"/><line x1="927.7" y1="1862" x2="936.1" y2="1862" stroke="#d8721c" stroke-width="1.5"/><line x1="927.7" y1="2020.7" x2="936.1" y2="2020.7" stroke="#d8721c" stroke-width="1.5"/><line x1="953.8" y1="1919.9" x2="953.8" y2="1861" stroke="#d8721c" stroke-width="1.5"/><line x1="949.6" y1="1861" x2="958" y2="1861" stroke="#d8721c" stroke-width="1.5"/><line x1="949.6" y1="1919.9" x2="958" y2="1919.9" stroke="#d8721c" stroke-width="1.5"/><circle cx="887.9" cy="2079.4" r="4.4" fill="#b47fd5"/><circle cx="909.9" cy="2079.4" r="4.4" fill="#b47fd5"/><circle cx="931.9" cy="2002.1" r="4.4" fill="#b47fd5"/><circle cx="953.8" cy="1950.6" r="4.4" fill="#b47fd5"/><circle cx="975.8" cy="1899.1" r="4.4" fill="#b47fd5"/><circle cx="997.8" cy="1873.3" r="4.4" fill="#b47fd5"/><circle cx="1019.8" cy="1873.3" r="4.4" fill="#b47fd5"/><circle cx="1041.7" cy="1873.3" r="4.4" fill="#b47fd5"/><rect x="883.7" y="2075.2" width="8.4" height="8.4" fill="#b47fd5"/><rect x="905.7" y="2075.2" width="8.4" height="8.4" fill="#b47fd5"/><rect x="927.7" y="2075.2" width="8.4" height="8.4" fill="#b47fd5"/><rect x="949.6" y="2049.4" width="8.4" height="8.4" fill="#b47fd5"/><rect x="971.6" y="1946.4" width="8.4" height="8.4" fill="#b47fd5"/><rect x="993.6" y="1894.9" width="8.4" height="8.4" fill="#b47fd5"/><rect x="1015.6" y="1869.1" width="8.4" height="8.4" fill="#b47fd5"/><rect x="1037.5" y="1869.1" width="8.4" height="8.4" fill="#b47fd5"/><circle cx="800" cy="2079.4" r="4.4" fill="#d8721c"/><circle cx="822" cy="2079.4" r="4.4" fill="#d8721c"/><circle cx="844" cy="2079.4" r="4.4" fill="#d8721c"/><circle cx="865.9" cy="2079.4" r="4.4" fill="#d8721c"/><circle cx="887.9" cy="2061.9" r="4.4" fill="#d8721c"/><circle cx="909.9" cy="1987.7" r="4.4" fill="#d8721c"/><circle cx="931.9" cy="1907.7" r="4.4" fill="#d8721c"/><circle cx="953.8" cy="1873.3" r="4.4" fill="#d8721c"/><circle cx="975.8" cy="1873.3" r="4.4" fill="#d8721c"/><circle cx="997.8" cy="1873.3" r="4.4" fill="#d8721c"/><circle cx="1019.8" cy="1873.3" r="4.4" fill="#d8721c"/><circle cx="1041.7" cy="1873.3" r="4.4" fill="#d8721c"/><rect x="795.8" y="2075.2" width="8.4" height="8.4" fill="#d8721c"/><rect x="817.8" y="2075.2" width="8.4" height="8.4" fill="#d8721c"/><rect x="839.8" y="2075.2" width="8.4" height="8.4" fill="#d8721c"/><rect x="861.7" y="2075.2" width="8.4" height="8.4" fill="#d8721c"/><rect x="883.7" y="2057.7" width="8.4" height="8.4" fill="#d8721c"/><rect x="905.7" y="2023.7" width="8.4" height="8.4" fill="#d8721c"/><rect x="927.7" y="1937.1" width="8.4" height="8.4" fill="#d8721c"/><rect x="949.6" y="1886.2" width="8.4" height="8.4" fill="#d8721c"/><rect x="971.6" y="1869.1" width="8.4" height="8.4" fill="#d8721c"/><rect x="993.6" y="1869.1" width="8.4" height="8.4" fill="#d8721c"/><rect x="1015.6" y="1869.1" width="8.4" height="8.4" fill="#d8721c"/><rect x="1037.5" y="1869.1" width="8.4" height="8.4" fill="#d8721c"/><path d="M727,1821.8 L727,2079.4 L1092,2079.4 M727,2079.4 L727,2089.9 M800,2079.4 L800,2089.9 M873,2079.4 L873,2089.9 M946,2079.4 L946,2089.9 M1019,2079.4 L1019,2089.9 M1092,2079.4 L1092,2089.9 M727,2079.4 L716.5,2079.4 M727,2027.9 L716.5,2027.9 M727,1976.4 L716.5,1976.4 M727,1924.8 L716.5,1924.8 M727,1873.3 L716.5,1873.3 M727,1821.8 L716.5,1821.8" fill="none" stroke="#000" stroke-width="2.5" stroke-linecap="square"/><text x="712.8" y="2086.6" font-size="19.2" text-anchor="end" font-weight="bold" fill="#000">0</text><text x="712.8" y="2035.1" font-size="19.2" text-anchor="end" font-weight="bold" fill="#000">25</text><text x="712.8" y="1983.6" font-size="19.2" text-anchor="end" font-weight="bold" fill="#000">50</text><text x="712.8" y="1932" font-size="19.2" text-anchor="end" font-weight="bold" fill="#000">75</text><text x="712.8" y="1880.5" font-size="19.2" text-anchor="end" font-weight="bold" fill="#000">100</text><text x="712.8" y="1829" font-size="19.2" text-anchor="end" font-weight="bold" fill="#000">125</text><text x="727.8" y="2112.2" font-size="19" font-weight="bold" text-anchor="middle">10<tspan font-size="13" dx="1.6" dy="-5.7">-4</tspan></text><text x="800.8" y="2112.2" font-size="19" font-weight="bold" text-anchor="middle">10<tspan font-size="13" dx="1.6" dy="-5.7">-3</tspan></text><text x="873.8" y="2112.2" font-size="19" font-weight="bold" text-anchor="middle">10<tspan font-size="13" dx="1.6" dy="-5.7">-2</tspan></text><text x="946.8" y="2112.2" font-size="19" font-weight="bold" text-anchor="middle">10<tspan font-size="13" dx="1.6" dy="-5.7">-1</tspan></text><text x="1019.8" y="2112.2" font-size="19" font-weight="bold" text-anchor="middle">10<tspan font-size="13" dx="1.6" dy="-5.7">0</tspan></text><text x="1092.8" y="2112.2" font-size="19" font-weight="bold" text-anchor="middle">10<tspan font-size="13" dx="1.6" dy="-5.7">1</tspan></text><text x="909.5" y="2143.9" font-size="21.3" text-anchor="middle" font-weight="bold" fill="#000">Antibody concentration (<tspan font-family="'DejaVu Sans', sans-serif" font-weight="normal">μ</tspan>g/ml)</text><text transform="translate(671,1950.6) rotate(-90)" font-size="21" text-anchor="middle" font-weight="bold" fill="#000">Neutralization (%)</text><text x="916.4" y="1786.7" font-size="24" text-anchor="middle" font-weight="bold" fill="#000">Beta</text><line x1="1008" y1="1926.8" x2="1035.7" y2="1926.8" stroke="#d8721c" stroke-width="1.6"/><circle cx="1021.5" cy="1926.8" r="4.4" fill="#d8721c"/><text x="1051.8" y="1933.3" font-size="21.5" font-weight="bold">BI-2C5B (IC<tspan font-size="14.2" dy="4.2">50</tspan><tspan dy="-4.2">=34ng/ml)</tspan></text><line x1="1008" y1="1958.9" x2="1035.7" y2="1958.9" stroke="#d8721c" stroke-width="1.6"/><rect x="1017.3" y="1954.7" width="8.4" height="8.4" fill="#d8721c"/><text x="1051.8" y="1965.4" font-size="21.5" font-weight="bold">BI-5B2C (IC<tspan font-size="14.2" dy="4.2">50</tspan><tspan dy="-4.2">=48ng/ml)</tspan></text><line x1="1008" y1="1993.2" x2="1035.7" y2="1993.2" stroke="#b47fd5" stroke-width="1.6"/><circle cx="1021.5" cy="1993.2" r="4.4" fill="#b47fd5"/><text x="1051.8" y="1999.7" font-size="21.5" font-weight="bold">BI-2C1C (IC<tspan font-size="14.2" dy="4.2">50</tspan><tspan dy="-4.2">=193ng/ml)</tspan></text><line x1="1008" y1="2028" x2="1035.7" y2="2028" stroke="#b47fd5" stroke-width="1.6"/><rect x="1017.3" y="2023.8" width="8.4" height="8.4" fill="#b47fd5"/><text x="1051.8" y="2034.5" font-size="21.5" font-weight="bold">BI-1C2C (IC<tspan font-size="14.2" dy="4.2">50</tspan><tspan dy="-4.2">=220ng/ml)</tspan></text><line x1="1383.9" y1="1976.3" x2="1749" y2="1976.3" stroke="#000" stroke-width="1.3" stroke-dasharray="1.6,2.4"/><path d="M1456.9,2079.3 L1458.4,2079.3 L1459.9,2079.3 L1461.5,2079.2 L1463,2079.2 L1464.5,2079.2 L1466,2079.2 L1467.5,2079.1 L1469,2079.1 L1470.5,2079.1 L1472,2079 L1473.5,2079 L1475.1,2078.9 L1476.6,2078.8 L1478.1,2078.8 L1479.6,2078.7 L1481.1,2078.6 L1482.6,2078.5 L1484.1,2078.4 L1485.6,2078.2 L1487.1,2078.1 L1488.7,2077.9 L1490.2,2077.7 L1491.7,2077.5 L1493.2,2077.2 L1494.7,2076.9 L1496.2,2076.6 L1497.7,2076.3 L1499.2,2075.9 L1500.7,2075.4 L1502.3,2074.9 L1503.8,2074.3 L1505.3,2073.6 L1506.8,2072.9 L1508.3,2072.1 L1509.8,2071.2 L1511.3,2070.1 L1512.8,2069 L1514.3,2067.7 L1515.9,2066.2 L1517.4,2064.6 L1518.9,2062.8 L1520.4,2060.8 L1521.9,2058.6 L1523.4,2056.2 L1524.9,2053.5 L1526.4,2050.5 L1527.9,2047.3 L1529.5,2043.8 L1531,2040 L1532.5,2035.9 L1534,2031.5 L1535.5,2026.8 L1537,2021.8 L1538.5,2016.6 L1540,2011 L1541.5,2005.2 L1543.1,1999.3 L1544.6,1993.1 L1546.1,1986.8 L1547.6,1980.5 L1549.1,1974.1 L1550.6,1967.7 L1552.1,1961.4 L1553.6,1955.3 L1555.1,1949.2 L1556.7,1943.4 L1558.2,1937.8 L1559.7,1932.4 L1561.2,1927.3 L1562.7,1922.5 L1564.2,1918 L1565.7,1913.8 L1567.2,1909.9 L1568.7,1906.4 L1570.3,1903.1 L1571.8,1900 L1573.3,1897.3 L1574.8,1894.8 L1576.3,1892.5 L1577.8,1890.4 L1579.3,1888.6 L1580.8,1886.9 L1582.4,1885.4 L1583.9,1884.1 L1585.4,1882.9 L1586.9,1881.8 L1588.4,1880.8 L1589.9,1880 L1591.4,1879.2 L1592.9,1878.5 L1594.4,1877.9 L1596,1877.4 L1597.5,1876.9 L1599,1876.5 L1600.5,1876.1 L1602,1875.8 L1603.5,1875.5 L1605,1875.2 L1606.5,1875 L1608,1874.8 L1609.6,1874.6 L1611.1,1874.5 L1612.6,1874.3 L1614.1,1874.2 L1615.6,1874.1 L1617.1,1874 L1618.6,1873.9 L1620.1,1873.8 L1621.6,1873.8 L1623.2,1873.7 L1624.7,1873.6 L1626.2,1873.6 L1627.7,1873.6 L1629.2,1873.5 L1630.7,1873.5 L1632.2,1873.5 L1633.7,1873.4 L1635.2,1873.4 L1636.8,1873.4 L1638.3,1873.4 L1639.8,1873.4 L1641.3,1873.3 L1642.8,1873.3 L1644.3,1873.3 L1645.8,1873.3 L1647.3,1873.3 L1648.8,1873.3 L1650.4,1873.3 L1651.9,1873.3 L1653.4,1873.3 L1654.9,1873.3 L1656.4,1873.3 L1657.9,1873.3 L1659.4,1873.3 L1660.9,1873.3 L1662.4,1873.3 L1664,1873.3 L1665.5,1873.3 L1667,1873.3 L1668.5,1873.3 L1670,1873.2 L1671.5,1873.2 L1673,1873.2 L1674.5,1873.2 L1676,1873.2 L1677.6,1873.2 L1679.1,1873.2 L1680.6,1873.2 L1682.1,1873.2 L1683.6,1873.2 L1685.1,1873.2 L1686.6,1873.2 L1688.1,1873.2 L1689.6,1873.2 L1691.2,1873.2 L1692.7,1873.2 L1694.2,1873.2 L1695.7,1873.2 L1697.2,1873.2 L1698.7,1873.2" fill="none" stroke="#d8721c" stroke-width="1.6" stroke-linejoin="round"/><path d="M1456.9,2079.2 L1458.4,2079.2 L1459.9,2079.1 L1461.5,2079.1 L1463,2079 L1464.5,2079 L1466,2078.9 L1467.5,2078.9 L1469,2078.8 L1470.5,2078.7 L1472,2078.7 L1473.5,2078.6 L1475.1,2078.4 L1476.6,2078.3 L1478.1,2078.2 L1479.6,2078 L1481.1,2077.8 L1482.6,2077.6 L1484.1,2077.4 L1485.6,2077.2 L1487.1,2076.9 L1488.7,2076.5 L1490.2,2076.2 L1491.7,2075.7 L1493.2,2075.3 L1494.7,2074.7 L1496.2,2074.1 L1497.7,2073.5 L1499.2,2072.7 L1500.7,2071.8 L1502.3,2070.9 L1503.8,2069.8 L1505.3,2068.6 L1506.8,2067.3 L1508.3,2065.8 L1509.8,2064.1 L1511.3,2062.3 L1512.8,2060.2 L1514.3,2058 L1515.9,2055.5 L1517.4,2052.7 L1518.9,2049.7 L1520.4,2046.4 L1521.9,2042.8 L1523.4,2038.9 L1524.9,2034.8 L1526.4,2030.3 L1527.9,2025.5 L1529.5,2020.4 L1531,2015.1 L1532.5,2009.5 L1534,2003.6 L1535.5,1997.6 L1537,1991.4 L1538.5,1985.1 L1540,1978.7 L1541.5,1972.4 L1543.1,1966 L1544.6,1959.7 L1546.1,1953.6 L1547.6,1947.6 L1549.1,1941.8 L1550.6,1936.3 L1552.1,1931 L1553.6,1926 L1555.1,1921.3 L1556.7,1916.8 L1558.2,1912.7 L1559.7,1908.9 L1561.2,1905.4 L1562.7,1902.2 L1564.2,1899.2 L1565.7,1896.6 L1567.2,1894.1 L1568.7,1891.9 L1570.3,1889.9 L1571.8,1888.1 L1573.3,1886.5 L1574.8,1885 L1576.3,1883.7 L1577.8,1882.6 L1579.3,1881.5 L1580.8,1880.6 L1582.4,1879.8 L1583.9,1879 L1585.4,1878.4 L1586.9,1877.8 L1588.4,1877.3 L1589.9,1876.8 L1591.4,1876.4 L1592.9,1876 L1594.4,1875.7 L1596,1875.4 L1597.5,1875.2 L1599,1874.9 L1600.5,1874.8 L1602,1874.6 L1603.5,1874.4 L1605,1874.3 L1606.5,1874.2 L1608,1874.1 L1609.6,1874 L1611.1,1873.9 L1612.6,1873.8 L1614.1,1873.7 L1615.6,1873.7 L1617.1,1873.6 L1618.6,1873.6 L1620.1,1873.5 L1621.6,1873.5 L1623.2,1873.5 L1624.7,1873.4 L1626.2,1873.4 L1627.7,1873.4 L1629.2,1873.4 L1630.7,1873.4 L1632.2,1873.4 L1633.7,1873.3 L1635.2,1873.3 L1636.8,1873.3 L1638.3,1873.3 L1639.8,1873.3 L1641.3,1873.3 L1642.8,1873.3 L1644.3,1873.3 L1645.8,1873.3 L1647.3,1873.3 L1648.8,1873.3 L1650.4,1873.3 L1651.9,1873.3 L1653.4,1873.3 L1654.9,1873.3 L1656.4,1873.3 L1657.9,1873.3 L1659.4,1873.3 L1660.9,1873.3 L1662.4,1873.2 L1664,1873.2 L1665.5,1873.2 L1667,1873.2 L1668.5,1873.2 L1670,1873.2 L1671.5,1873.2 L1673,1873.2 L1674.5,1873.2 L1676,1873.2 L1677.6,1873.2 L1679.1,1873.2 L1680.6,1873.2 L1682.1,1873.2 L1683.6,1873.2 L1685.1,1873.2 L1686.6,1873.2 L1688.1,1873.2 L1689.6,1873.2 L1691.2,1873.2 L1692.7,1873.2 L1694.2,1873.2 L1695.7,1873.2 L1697.2,1873.2 L1698.7,1873.2" fill="none" stroke="#d8721c" stroke-width="1.6" stroke-linejoin="round"/><path d="M1522.9,2079.4 L1524,2079.4 L1525.1,2079.4 L1526.2,2079.4 L1527.3,2079.4 L1528.4,2079.4 L1529.5,2079.4 L1530.6,2079.4 L1531.7,2079.4 L1532.8,2079.4 L1533.9,2079.4 L1535,2079.4 L1536.1,2079.4 L1537.2,2079.4 L1538.3,2079.4 L1539.3,2079.4 L1540.4,2079.4 L1541.5,2079.4 L1542.6,2079.4 L1543.7,2079.4 L1544.8,2079.4 L1545.9,2079.4 L1547,2079.3 L1548.1,2079.3 L1549.2,2079.3 L1550.3,2079.3 L1551.4,2079.3 L1552.5,2079.3 L1553.6,2079.3 L1554.7,2079.3 L1555.8,2079.3 L1556.9,2079.3 L1558,2079.3 L1559.1,2079.2 L1560.2,2079.2 L1561.3,2079.2 L1562.4,2079.2 L1563.5,2079.2 L1564.6,2079.2 L1565.7,2079.1 L1566.8,2079.1 L1567.9,2079.1 L1569,2079 L1570.1,2079 L1571.2,2079 L1572.3,2078.9 L1573.4,2078.9 L1574.5,2078.8 L1575.6,2078.8 L1576.7,2078.7 L1577.8,2078.6 L1578.9,2078.5 L1580,2078.4 L1581.1,2078.3 L1582.2,2078.2 L1583.3,2078.1 L1584.4,2078 L1585.5,2077.9 L1586.6,2077.7 L1587.7,2077.5 L1588.8,2077.3 L1589.9,2077.1 L1591,2076.9 L1592.1,2076.6 L1593.2,2076.4 L1594.3,2076.1 L1595.4,2075.7 L1596.5,2075.4 L1597.6,2075 L1598.7,2074.5 L1599.8,2074 L1600.9,2073.5 L1602,2072.9 L1603.1,2072.3 L1604.2,2071.6 L1605.3,2070.8 L1606.4,2070 L1607.5,2069.1 L1608.6,2068.1 L1609.7,2067 L1610.8,2065.8 L1611.9,2064.5 L1613,2063.1 L1614.1,2061.6 L1615.2,2060 L1616.3,2058.2 L1617.4,2056.3 L1618.5,2054.2 L1619.6,2052 L1620.7,2049.6 L1621.8,2047.1 L1622.9,2044.3 L1624,2041.4 L1625.1,2038.3 L1626.2,2035 L1627.3,2031.5 L1628.4,2027.9 L1629.5,2024 L1630.6,2020 L1631.7,2015.8 L1632.8,2011.5 L1633.9,2007 L1635,2002.4 L1636.1,1997.6 L1637.2,1992.8 L1638.3,1987.9 L1639.4,1982.9 L1640.5,1978 L1641.6,1973 L1642.7,1968 L1643.8,1963 L1644.9,1958.1 L1646,1953.3 L1647.1,1948.6 L1648.2,1944.1 L1649.3,1939.6 L1650.4,1935.3 L1651.5,1931.2 L1652.6,1927.2 L1653.7,1923.5 L1654.8,1919.9 L1655.8,1916.5 L1656.9,1913.2 L1658,1910.2 L1659.1,1907.4 L1660.2,1904.7 L1661.3,1902.2 L1662.4,1899.9 L1663.5,1897.7 L1664.6,1895.7 L1665.7,1893.8 L1666.8,1892.1 L1667.9,1890.5 L1669,1889 L1670.1,1887.6 L1671.2,1886.4 L1672.3,1885.3 L1673.4,1884.2 L1674.5,1883.2 L1675.6,1882.4 L1676.7,1881.5 L1677.8,1880.8 L1678.9,1880.1 L1680,1879.5 L1681.1,1878.9 L1682.2,1878.4 L1683.3,1878 L1684.4,1877.5 L1685.5,1877.1 L1686.6,1876.8 L1687.7,1876.5 L1688.8,1876.2 L1689.9,1875.9 L1691,1875.7 L1692.1,1875.4 L1693.2,1875.2 L1694.3,1875.1 L1695.4,1874.9 L1696.5,1874.7 L1697.6,1874.6 L1698.7,1874.5" fill="none" stroke="#b47fd5" stroke-width="1.6" stroke-linejoin="round"/><path d="M1522.9,2079.4 L1524,2079.4 L1525.1,2079.4 L1526.2,2079.4 L1527.3,2079.4 L1528.4,2079.4 L1529.5,2079.4 L1530.6,2079.4 L1531.7,2079.4 L1532.8,2079.4 L1533.9,2079.4 L1535,2079.4 L1536.1,2079.4 L1537.2,2079.4 L1538.3,2079.4 L1539.3,2079.4 L1540.4,2079.4 L1541.5,2079.4 L1542.6,2079.4 L1543.7,2079.4 L1544.8,2079.3 L1545.9,2079.3 L1547,2079.3 L1548.1,2079.3 L1549.2,2079.3 L1550.3,2079.3 L1551.4,2079.3 L1552.5,2079.3 L1553.6,2079.3 L1554.7,2079.3 L1555.8,2079.2 L1556.9,2079.2 L1558,2079.2 L1559.1,2079.2 L1560.2,2079.2 L1561.3,2079.1 L1562.4,2079.1 L1563.5,2079.1 L1564.6,2079 L1565.7,2079 L1566.8,2079 L1567.9,2078.9 L1569,2078.9 L1570.1,2078.8 L1571.2,2078.7 L1572.3,2078.7 L1573.4,2078.6 L1574.5,2078.5 L1575.6,2078.4 L1576.7,2078.3 L1577.8,2078.2 L1578.9,2078.1 L1580,2077.9 L1581.1,2077.7 L1582.2,2077.6 L1583.3,2077.4 L1584.4,2077.1 L1585.5,2076.9 L1586.6,2076.6 L1587.7,2076.3 L1588.8,2076 L1589.9,2075.6 L1591,2075.2 L1592.1,2074.8 L1593.2,2074.3 L1594.3,2073.7 L1595.4,2073.1 L1596.5,2072.5 L1597.6,2071.7 L1598.7,2070.9 L1599.8,2070.1 L1600.9,2069.1 L1602,2068 L1603.1,2066.8 L1604.2,2065.6 L1605.3,2064.2 L1606.4,2062.6 L1607.5,2061 L1608.6,2059.1 L1609.7,2057.2 L1610.8,2055 L1611.9,2052.7 L1613,2050.2 L1614.1,2047.5 L1615.2,2044.5 L1616.3,2041.4 L1617.4,2038.1 L1618.5,2034.6 L1619.6,2030.8 L1620.7,2026.8 L1621.8,2022.7 L1622.9,2018.3 L1624,2013.7 L1625.1,2009 L1626.2,2004.1 L1627.3,1999.1 L1628.4,1993.9 L1629.5,1988.7 L1630.6,1983.4 L1631.7,1978 L1632.8,1972.7 L1633.9,1967.3 L1635,1962 L1636.1,1956.8 L1637.2,1951.7 L1638.3,1946.7 L1639.4,1941.9 L1640.5,1937.2 L1641.6,1932.7 L1642.7,1928.4 L1643.8,1924.3 L1644.9,1920.4 L1646,1916.7 L1647.1,1913.3 L1648.2,1910 L1649.3,1907 L1650.4,1904.2 L1651.5,1901.5 L1652.6,1899.1 L1653.7,1896.8 L1654.8,1894.7 L1655.8,1892.8 L1656.9,1891.1 L1658,1889.4 L1659.1,1887.9 L1660.2,1886.6 L1661.3,1885.3 L1662.4,1884.2 L1663.5,1883.2 L1664.6,1882.2 L1665.7,1881.4 L1666.8,1880.6 L1667.9,1879.9 L1669,1879.3 L1670.1,1878.7 L1671.2,1878.2 L1672.3,1877.7 L1673.4,1877.3 L1674.5,1876.9 L1675.6,1876.5 L1676.7,1876.2 L1677.8,1875.9 L1678.9,1875.6 L1680,1875.4 L1681.1,1875.2 L1682.2,1875 L1683.3,1874.8 L1684.4,1874.7 L1685.5,1874.5 L1686.6,1874.4 L1687.7,1874.3 L1688.8,1874.2 L1689.9,1874.1 L1691,1874 L1692.1,1873.9 L1693.2,1873.9 L1694.3,1873.8 L1695.4,1873.8 L1696.5,1873.7 L1697.6,1873.7 L1698.7,1873.6" fill="none" stroke="#b47fd5" stroke-width="1.6" stroke-linejoin="round"/><line x1="1522.9" y1="2079.4" x2="1522.9" y2="2033" stroke="#d8721c" stroke-width="1.5"/><line x1="1518.7" y1="2033" x2="1527.1" y2="2033" stroke="#d8721c" stroke-width="1.5"/><line x1="1544.8" y1="2022.7" x2="1544.8" y2="1965" stroke="#d8721c" stroke-width="1.5"/><line x1="1540.6" y1="1965" x2="1549" y2="1965" stroke="#d8721c" stroke-width="1.5"/><line x1="1540.6" y1="2022.7" x2="1549" y2="2022.7" stroke="#d8721c" stroke-width="1.5"/><line x1="1566.8" y1="1937.6" x2="1566.8" y2="1877.8" stroke="#d8721c" stroke-width="1.5"/><line x1="1562.6" y1="1877.8" x2="1571" y2="1877.8" stroke="#d8721c" stroke-width="1.5"/><line x1="1562.6" y1="1937.6" x2="1571" y2="1937.6" stroke="#d8721c" stroke-width="1.5"/><line x1="1522.9" y1="2074.5" x2="1522.9" y2="2015.5" stroke="#d8721c" stroke-width="1.5"/><line x1="1518.7" y1="2015.5" x2="1527.1" y2="2015.5" stroke="#d8721c" stroke-width="1.5"/><line x1="1518.7" y1="2074.5" x2="1527.1" y2="2074.5" stroke="#d8721c" stroke-width="1.5"/><line x1="1544.8" y1="1989.1" x2="1544.8" y2="1929.3" stroke="#d8721c" stroke-width="1.5"/><line x1="1540.6" y1="1929.3" x2="1549" y2="1929.3" stroke="#d8721c" stroke-width="1.5"/><line x1="1540.6" y1="1989.1" x2="1549" y2="1989.1" stroke="#d8721c" stroke-width="1.5"/><line x1="1566.8" y1="1920.2" x2="1566.8" y2="1860.5" stroke="#d8721c" stroke-width="1.5"/><line x1="1562.6" y1="1860.5" x2="1571" y2="1860.5" stroke="#d8721c" stroke-width="1.5"/><line x1="1562.6" y1="1920.2" x2="1571" y2="1920.2" stroke="#d8721c" stroke-width="1.5"/><circle cx="1522.9" cy="2079.4" r="4.4" fill="#b47fd5"/><circle cx="1544.8" cy="2079.4" r="4.4" fill="#b47fd5"/><circle cx="1566.8" cy="2079.4" r="4.4" fill="#b47fd5"/><circle cx="1588.8" cy="2079.4" r="4.4" fill="#b47fd5"/><circle cx="1610.8" cy="2079.4" r="4.4" fill="#b47fd5"/><circle cx="1632.8" cy="2002.1" r="4.4" fill="#b47fd5"/><circle cx="1654.8" cy="1924.8" r="4.4" fill="#b47fd5"/><circle cx="1676.7" cy="1873.2" r="4.4" fill="#b47fd5"/><circle cx="1698.7" cy="1873.2" r="4.4" fill="#b47fd5"/><rect x="1518.7" y="2075.2" width="8.4" height="8.4" fill="#b47fd5"/><rect x="1540.6" y="2075.2" width="8.4" height="8.4" fill="#b47fd5"/><rect x="1562.6" y="2075.2" width="8.4" height="8.4" fill="#b47fd5"/><rect x="1584.6" y="2075.2" width="8.4" height="8.4" fill="#b47fd5"/><rect x="1606.6" y="2049.4" width="8.4" height="8.4" fill="#b47fd5"/><rect x="1628.6" y="1972.1" width="8.4" height="8.4" fill="#b47fd5"/><rect x="1650.6" y="1894.8" width="8.4" height="8.4" fill="#b47fd5"/><rect x="1672.5" y="1869" width="8.4" height="8.4" fill="#b47fd5"/><rect x="1694.5" y="1869" width="8.4" height="8.4" fill="#b47fd5"/><circle cx="1456.9" cy="2079.4" r="4.4" fill="#d8721c"/><circle cx="1478.9" cy="2079.4" r="4.4" fill="#d8721c"/><circle cx="1500.9" cy="2079.4" r="4.4" fill="#d8721c"/><circle cx="1522.9" cy="2061.9" r="4.4" fill="#d8721c"/><circle cx="1544.8" cy="1993.8" r="4.4" fill="#d8721c"/><circle cx="1566.8" cy="1907.7" r="4.4" fill="#d8721c"/><circle cx="1588.8" cy="1873.2" r="4.4" fill="#d8721c"/><circle cx="1610.8" cy="1873.2" r="4.4" fill="#d8721c"/><circle cx="1632.8" cy="1873.2" r="4.4" fill="#d8721c"/><circle cx="1654.8" cy="1873.2" r="4.4" fill="#d8721c"/><circle cx="1676.7" cy="1873.2" r="4.4" fill="#d8721c"/><circle cx="1698.7" cy="1873.2" r="4.4" fill="#d8721c"/><rect x="1452.7" y="2075.2" width="8.4" height="8.4" fill="#d8721c"/><rect x="1474.7" y="2075.2" width="8.4" height="8.4" fill="#d8721c"/><rect x="1496.7" y="2075.2" width="8.4" height="8.4" fill="#d8721c"/><rect x="1518.7" y="2040.8" width="8.4" height="8.4" fill="#d8721c"/><rect x="1540.6" y="1955" width="8.4" height="8.4" fill="#d8721c"/><rect x="1562.6" y="1886.2" width="8.4" height="8.4" fill="#d8721c"/><rect x="1584.6" y="1869" width="8.4" height="8.4" fill="#d8721c"/><rect x="1606.6" y="1869" width="8.4" height="8.4" fill="#d8721c"/><rect x="1628.6" y="1869" width="8.4" height="8.4" fill="#d8721c"/><rect x="1650.6" y="1869" width="8.4" height="8.4" fill="#d8721c"/><rect x="1672.5" y="1869" width="8.4" height="8.4" fill="#d8721c"/><rect x="1694.5" y="1869" width="8.4" height="8.4" fill="#d8721c"/><path d="M1383.9,1821.7 L1383.9,2079.4 L1749,2079.4 M1383.9,2079.4 L1383.9,2089.9 M1456.9,2079.4 L1456.9,2089.9 M1529.9,2079.4 L1529.9,2089.9 M1603,2079.4 L1603,2089.9 M1676,2079.4 L1676,2089.9 M1749,2079.4 L1749,2089.9 M1383.9,2079.4 L1373.4,2079.4 M1383.9,2027.9 L1373.4,2027.9 M1383.9,1976.3 L1373.4,1976.3 M1383.9,1924.8 L1373.4,1924.8 M1383.9,1873.2 L1373.4,1873.2 M1383.9,1821.7 L1373.4,1821.7" fill="none" stroke="#000" stroke-width="2.5" stroke-linecap="square"/><text x="1369.7" y="2086.6" font-size="19.2" text-anchor="end" font-weight="bold" fill="#000">0</text><text x="1369.7" y="2035.1" font-size="19.2" text-anchor="end" font-weight="bold" fill="#000">25</text><text x="1369.7" y="1983.5" font-size="19.2" text-anchor="end" font-weight="bold" fill="#000">50</text><text x="1369.7" y="1932" font-size="19.2" text-anchor="end" font-weight="bold" fill="#000">75</text><text x="1369.7" y="1880.4" font-size="19.2" text-anchor="end" font-weight="bold" fill="#000">100</text><text x="1369.7" y="1828.9" font-size="19.2" text-anchor="end" font-weight="bold" fill="#000">125</text><text x="1384.7" y="2112.2" font-size="19" font-weight="bold" text-anchor="middle">10<tspan font-size="13" dx="1.6" dy="-5.7">-4</tspan></text><text x="1457.7" y="2112.2" font-size="19" font-weight="bold" text-anchor="middle">10<tspan font-size="13" dx="1.6" dy="-5.7">-3</tspan></text><text x="1530.7" y="2112.2" font-size="19" font-weight="bold" text-anchor="middle">10<tspan font-size="13" dx="1.6" dy="-5.7">-2</tspan></text><text x="1603.8" y="2112.2" font-size="19" font-weight="bold" text-anchor="middle">10<tspan font-size="13" dx="1.6" dy="-5.7">-1</tspan></text><text x="1676.8" y="2112.2" font-size="19" font-weight="bold" text-anchor="middle">10<tspan font-size="13" dx="1.6" dy="-5.7">0</tspan></text><text x="1749.8" y="2112.2" font-size="19" font-weight="bold" text-anchor="middle">10<tspan font-size="13" dx="1.6" dy="-5.7">1</tspan></text><text x="1566.5" y="2144" font-size="21.3" text-anchor="middle" font-weight="bold" fill="#000">Antibody concentration (<tspan font-family="'DejaVu Sans', sans-serif" font-weight="normal">μ</tspan>g/ml)</text><text transform="translate(1327.9,1950.6) rotate(-90)" font-size="21" text-anchor="middle" font-weight="bold" fill="#000">Neutralization (%)</text><text x="1566.2" y="1786.6" font-size="24" text-anchor="middle" font-weight="bold" fill="#000">Delta</text><line x1="1663.2" y1="1930.7" x2="1690.9" y2="1930.7" stroke="#d8721c" stroke-width="1.6"/><circle cx="1676.8" cy="1930.7" r="4.4" fill="#d8721c"/><text x="1706.6" y="1937.2" font-size="21.5" font-weight="bold">BI-2C5B (IC<tspan font-size="14.2" dy="4.2">50</tspan><tspan dy="-4.2">=18ng/ml)</tspan></text><line x1="1663.2" y1="1963.4" x2="1690.9" y2="1963.4" stroke="#d8721c" stroke-width="1.6"/><rect x="1672.6" y="1959.2" width="8.4" height="8.4" fill="#d8721c"/><text x="1706.6" y="1969.9" font-size="21.5" font-weight="bold">BI-5B2C (IC<tspan font-size="14.2" dy="4.2">50</tspan><tspan dy="-4.2">=14ng/ml)</tspan></text><line x1="1663.2" y1="1997.9" x2="1690.9" y2="1997.9" stroke="#b47fd5" stroke-width="1.6"/><circle cx="1676.8" cy="1997.9" r="4.4" fill="#b47fd5"/><text x="1706.6" y="2004.4" font-size="21.5" font-weight="bold">BI-2C1C (IC<tspan font-size="14.2" dy="4.2">50</tspan><tspan dy="-4.2">=317ng/ml)</tspan></text><line x1="1663.2" y1="2032.5" x2="1690.9" y2="2032.5" stroke="#b47fd5" stroke-width="1.6"/><rect x="1672.6" y="2028.3" width="8.4" height="8.4" fill="#b47fd5"/><text x="1706.6" y="2039" font-size="21.5" font-weight="bold">BI-1C2C (IC<tspan font-size="14.2" dy="4.2">50</tspan><tspan dy="-4.2">=250ng/ml)</tspan></text><line x1="73.5" y1="2380.6" x2="431.4" y2="2380.6" stroke="#000" stroke-width="1.3" stroke-dasharray="1.6,2.4"/><path d="M145.1,2475.8 L146.6,2475.1 L148,2474.4 L149.5,2473.6 L151,2472.7 L152.5,2471.7 L154,2470.6 L155.4,2469.4 L156.9,2468.1 L158.4,2466.7 L159.9,2465.2 L161.4,2463.5 L162.9,2461.6 L164.3,2459.6 L165.8,2457.5 L167.3,2455.1 L168.8,2452.6 L170.3,2449.8 L171.7,2446.9 L173.2,2443.8 L174.7,2440.4 L176.2,2436.8 L177.7,2433 L179.2,2429 L180.6,2424.8 L182.1,2420.4 L183.6,2415.9 L185.1,2411.1 L186.6,2406.2 L188,2401.2 L189.5,2396 L191,2390.8 L192.5,2385.5 L194,2380.2 L195.4,2374.9 L196.9,2369.6 L198.4,2364.4 L199.9,2359.3 L201.4,2354.3 L202.9,2349.4 L204.3,2344.6 L205.8,2340.1 L207.3,2335.7 L208.8,2331.6 L210.3,2327.6 L211.7,2323.8 L213.2,2320.3 L214.7,2317 L216.2,2313.9 L217.7,2311 L219.2,2308.3 L220.6,2305.8 L222.1,2303.4 L223.6,2301.3 L225.1,2299.3 L226.6,2297.5 L228,2295.8 L229.5,2294.3 L231,2292.9 L232.5,2291.6 L234,2290.5 L235.4,2289.4 L236.9,2288.5 L238.4,2287.6 L239.9,2286.8 L241.4,2286.1 L242.9,2285.4 L244.3,2284.8 L245.8,2284.3 L247.3,2283.8 L248.8,2283.4 L250.3,2283 L251.7,2282.6 L253.2,2282.3 L254.7,2282 L256.2,2281.7 L257.7,2281.5 L259.1,2281.3 L260.6,2281.1 L262.1,2280.9 L263.6,2280.7 L265.1,2280.6 L266.6,2280.5 L268,2280.3 L269.5,2280.2 L271,2280.1 L272.5,2280.1 L274,2280 L275.4,2279.9 L276.9,2279.8 L278.4,2279.8 L279.9,2279.7 L281.4,2279.7 L282.9,2279.7 L284.3,2279.6 L285.8,2279.6 L287.3,2279.6 L288.8,2279.5 L290.3,2279.5 L291.7,2279.5 L293.2,2279.5 L294.7,2279.4 L296.2,2279.4 L297.7,2279.4 L299.1,2279.4 L300.6,2279.4 L302.1,2279.4 L303.6,2279.4 L305.1,2279.4 L306.6,2279.3 L308,2279.3 L309.5,2279.3 L311,2279.3 L312.5,2279.3 L314,2279.3 L315.4,2279.3 L316.9,2279.3 L318.4,2279.3 L319.9,2279.3 L321.4,2279.3 L322.8,2279.3 L324.3,2279.3 L325.8,2279.3 L327.3,2279.3 L328.8,2279.3 L330.3,2279.3 L331.7,2279.3 L333.2,2279.3 L334.7,2279.3 L336.2,2279.3 L337.7,2279.3 L339.1,2279.3 L340.6,2279.3 L342.1,2279.3 L343.6,2279.3 L345.1,2279.3 L346.6,2279.3 L348,2279.3 L349.5,2279.3 L351,2279.3 L352.5,2279.3 L354,2279.3 L355.4,2279.3 L356.9,2279.3 L358.4,2279.3 L359.9,2279.3 L361.4,2279.3 L362.8,2279.3 L364.3,2279.3 L365.8,2279.3 L367.3,2279.3 L368.8,2279.3 L370.3,2279.3 L371.7,2279.3 L373.2,2279.3 L374.7,2279.3 L376.2,2279.3 L377.7,2279.3 L379.1,2279.3 L380.6,2279.3 L382.1,2279.3" fill="none" stroke="#d8721c" stroke-width="1.6" stroke-linejoin="round"/><path d="M145.1,2474.5 L146.6,2473.5 L148,2472.3 L149.5,2471 L151,2469.5 L152.5,2467.8 L154,2466 L155.4,2463.9 L156.9,2461.6 L158.4,2459 L159.9,2456.1 L161.4,2453 L162.9,2449.5 L164.3,2445.7 L165.8,2441.5 L167.3,2437 L168.8,2432.2 L170.3,2427 L171.7,2421.5 L173.2,2415.7 L174.7,2409.6 L176.2,2403.3 L177.7,2396.8 L179.2,2390.1 L180.6,2383.4 L182.1,2376.6 L183.6,2369.9 L185.1,2363.3 L186.6,2356.8 L188,2350.5 L189.5,2344.5 L191,2338.7 L192.5,2333.3 L194,2328.2 L195.4,2323.4 L196.9,2319 L198.4,2314.9 L199.9,2311.1 L201.4,2307.7 L202.9,2304.6 L204.3,2301.8 L205.8,2299.3 L207.3,2297 L208.8,2294.9 L210.3,2293.1 L211.7,2291.5 L213.2,2290 L214.7,2288.8 L216.2,2287.6 L217.7,2286.6 L219.2,2285.7 L220.6,2285 L222.1,2284.3 L223.6,2283.7 L225.1,2283.1 L226.6,2282.6 L228,2282.2 L229.5,2281.9 L231,2281.5 L232.5,2281.3 L234,2281 L235.4,2280.8 L236.9,2280.6 L238.4,2280.4 L239.9,2280.3 L241.4,2280.2 L242.9,2280.1 L244.3,2280 L245.8,2279.9 L247.3,2279.8 L248.8,2279.7 L250.3,2279.7 L251.7,2279.6 L253.2,2279.6 L254.7,2279.6 L256.2,2279.5 L257.7,2279.5 L259.1,2279.5 L260.6,2279.4 L262.1,2279.4 L263.6,2279.4 L265.1,2279.4 L266.6,2279.4 L268,2279.4 L269.5,2279.4 L271,2279.3 L272.5,2279.3 L274,2279.3 L275.4,2279.3 L276.9,2279.3 L278.4,2279.3 L279.9,2279.3 L281.4,2279.3 L282.9,2279.3 L284.3,2279.3 L285.8,2279.3 L287.3,2279.3 L288.8,2279.3 L290.3,2279.3 L291.7,2279.3 L293.2,2279.3 L294.7,2279.3 L296.2,2279.3 L297.7,2279.3 L299.1,2279.3 L300.6,2279.3 L302.1,2279.3 L303.6,2279.3 L305.1,2279.3 L306.6,2279.3 L308,2279.3 L309.5,2279.3 L311,2279.3 L312.5,2279.3 L314,2279.3 L315.4,2279.3 L316.9,2279.3 L318.4,2279.3 L319.9,2279.3 L321.4,2279.3 L322.8,2279.3 L324.3,2279.3 L325.8,2279.3 L327.3,2279.3 L328.8,2279.3 L330.3,2279.3 L331.7,2279.3 L333.2,2279.3 L334.7,2279.3 L336.2,2279.3 L337.7,2279.3 L339.1,2279.3 L340.6,2279.3 L342.1,2279.3 L343.6,2279.3 L345.1,2279.3 L346.6,2279.3 L348,2279.3 L349.5,2279.3 L351,2279.3 L352.5,2279.3 L354,2279.3 L355.4,2279.3 L356.9,2279.3 L358.4,2279.3 L359.9,2279.3 L361.4,2279.3 L362.8,2279.3 L364.3,2279.3 L365.8,2279.3 L367.3,2279.3 L368.8,2279.3 L370.3,2279.3 L371.7,2279.3 L373.2,2279.3 L374.7,2279.3 L376.2,2279.3 L377.7,2279.3 L379.1,2279.3 L380.6,2279.3 L382.1,2279.3" fill="none" stroke="#d8721c" stroke-width="1.6" stroke-linejoin="round"/><path d="M166.6,2481.4 L168,2481.4 L169.3,2481.3 L170.7,2481.3 L172,2481.2 L173.4,2481.1 L174.7,2481 L176.1,2480.9 L177.4,2480.8 L178.7,2480.7 L180.1,2480.5 L181.4,2480.4 L182.8,2480.2 L184.1,2480.1 L185.5,2479.9 L186.8,2479.7 L188.2,2479.4 L189.5,2479.2 L190.9,2478.9 L192.2,2478.6 L193.6,2478.3 L194.9,2477.9 L196.3,2477.5 L197.6,2477.1 L198.9,2476.6 L200.3,2476.1 L201.6,2475.5 L203,2474.9 L204.3,2474.2 L205.7,2473.4 L207,2472.6 L208.4,2471.7 L209.7,2470.7 L211.1,2469.7 L212.4,2468.5 L213.8,2467.3 L215.1,2465.9 L216.5,2464.5 L217.8,2462.9 L219.2,2461.2 L220.5,2459.3 L221.8,2457.3 L223.2,2455.2 L224.5,2452.9 L225.9,2450.4 L227.2,2447.8 L228.6,2445 L229.9,2442 L231.3,2438.9 L232.6,2435.5 L234,2432 L235.3,2428.4 L236.7,2424.5 L238,2420.5 L239.4,2416.4 L240.7,2412.1 L242,2407.6 L243.4,2403.1 L244.7,2398.5 L246.1,2393.7 L247.4,2389 L248.8,2384.2 L250.1,2379.3 L251.5,2374.5 L252.8,2369.7 L254.2,2365 L255.5,2360.3 L256.9,2355.7 L258.2,2351.2 L259.6,2346.9 L260.9,2342.6 L262.2,2338.6 L263.6,2334.6 L264.9,2330.9 L266.3,2327.3 L267.6,2323.9 L269,2320.7 L270.3,2317.6 L271.7,2314.7 L273,2312 L274.4,2309.5 L275.7,2307.1 L277.1,2304.9 L278.4,2302.9 L279.8,2301 L281.1,2299.2 L282.4,2297.5 L283.8,2296 L285.1,2294.6 L286.5,2293.3 L287.8,2292.1 L289.2,2291 L290.5,2290 L291.9,2289.1 L293.2,2288.2 L294.6,2287.4 L295.9,2286.7 L297.3,2286.1 L298.6,2285.5 L300,2284.9 L301.3,2284.4 L302.6,2284 L304,2283.6 L305.3,2283.2 L306.7,2282.8 L308,2282.5 L309.4,2282.2 L310.7,2282 L312.1,2281.7 L313.4,2281.5 L314.8,2281.3 L316.1,2281.1 L317.5,2280.9 L318.8,2280.8 L320.2,2280.7 L321.5,2280.5 L322.8,2280.4 L324.2,2280.3 L325.5,2280.2 L326.9,2280.1 L328.2,2280.1 L329.6,2280 L330.9,2279.9 L332.3,2279.9 L333.6,2279.8 L335,2279.8 L336.3,2279.7 L337.7,2279.7 L339,2279.6 L340.4,2279.6 L341.7,2279.6 L343,2279.6 L344.4,2279.5 L345.7,2279.5 L347.1,2279.5 L348.4,2279.5 L349.8,2279.5 L351.1,2279.4 L352.5,2279.4 L353.8,2279.4 L355.2,2279.4 L356.5,2279.4 L357.9,2279.4 L359.2,2279.4 L360.6,2279.4 L361.9,2279.4 L363.3,2279.3 L364.6,2279.3 L365.9,2279.3 L367.3,2279.3 L368.6,2279.3 L370,2279.3 L371.3,2279.3 L372.7,2279.3 L374,2279.3 L375.4,2279.3 L376.7,2279.3 L378.1,2279.3 L379.4,2279.3 L380.8,2279.3 L382.1,2279.3" fill="none" stroke="#b47fd5" stroke-width="1.6" stroke-linejoin="round"/><path d="M166.6,2481.9 L168,2481.9 L169.3,2481.9 L170.7,2481.8 L172,2481.8 L173.4,2481.8 L174.7,2481.8 L176.1,2481.8 L177.4,2481.7 L178.7,2481.7 L180.1,2481.7 L181.4,2481.6 L182.8,2481.6 L184.1,2481.6 L185.5,2481.5 L186.8,2481.5 L188.2,2481.4 L189.5,2481.4 L190.9,2481.3 L192.2,2481.3 L193.6,2481.2 L194.9,2481.1 L196.3,2481 L197.6,2480.9 L198.9,2480.8 L200.3,2480.7 L201.6,2480.5 L203,2480.4 L204.3,2480.2 L205.7,2480.1 L207,2479.9 L208.4,2479.7 L209.7,2479.4 L211.1,2479.2 L212.4,2478.9 L213.8,2478.6 L215.1,2478.3 L216.5,2477.9 L217.8,2477.5 L219.2,2477.1 L220.5,2476.6 L221.8,2476.1 L223.2,2475.5 L224.5,2474.9 L225.9,2474.2 L227.2,2473.4 L228.6,2472.6 L229.9,2471.7 L231.3,2470.7 L232.6,2469.7 L234,2468.5 L235.3,2467.3 L236.7,2465.9 L238,2464.5 L239.4,2462.9 L240.7,2461.2 L242,2459.3 L243.4,2457.3 L244.7,2455.2 L246.1,2452.9 L247.4,2450.4 L248.8,2447.8 L250.1,2445 L251.5,2442 L252.8,2438.9 L254.2,2435.5 L255.5,2432 L256.9,2428.4 L258.2,2424.5 L259.6,2420.5 L260.9,2416.4 L262.2,2412.1 L263.6,2407.6 L264.9,2403.1 L266.3,2398.5 L267.6,2393.7 L269,2389 L270.3,2384.2 L271.7,2379.3 L273,2374.5 L274.4,2369.7 L275.7,2365 L277.1,2360.3 L278.4,2355.7 L279.8,2351.2 L281.1,2346.9 L282.4,2342.6 L283.8,2338.6 L285.1,2334.6 L286.5,2330.9 L287.8,2327.3 L289.2,2323.9 L290.5,2320.7 L291.9,2317.6 L293.2,2314.7 L294.6,2312 L295.9,2309.5 L297.3,2307.1 L298.6,2304.9 L300,2302.9 L301.3,2301 L302.6,2299.2 L304,2297.5 L305.3,2296 L306.7,2294.6 L308,2293.3 L309.4,2292.1 L310.7,2291 L312.1,2290 L313.4,2289.1 L314.8,2288.2 L316.1,2287.4 L317.5,2286.7 L318.8,2286.1 L320.2,2285.5 L321.5,2284.9 L322.8,2284.4 L324.2,2284 L325.5,2283.6 L326.9,2283.2 L328.2,2282.8 L329.6,2282.5 L330.9,2282.2 L332.3,2282 L333.6,2281.7 L335,2281.5 L336.3,2281.3 L337.7,2281.1 L339,2280.9 L340.4,2280.8 L341.7,2280.7 L343,2280.5 L344.4,2280.4 L345.7,2280.3 L347.1,2280.2 L348.4,2280.1 L349.8,2280.1 L351.1,2280 L352.5,2279.9 L353.8,2279.9 L355.2,2279.8 L356.5,2279.8 L357.9,2279.7 L359.2,2279.7 L360.6,2279.6 L361.9,2279.6 L363.3,2279.6 L364.6,2279.6 L365.9,2279.5 L367.3,2279.5 L368.6,2279.5 L370,2279.5 L371.3,2279.5 L372.7,2279.4 L374,2279.4 L375.4,2279.4 L376.7,2279.4 L378.1,2279.4 L379.4,2279.4 L380.8,2279.4 L382.1,2279.4" fill="none" stroke="#b47fd5" stroke-width="1.6" stroke-linejoin="round"/><line x1="166.6" y1="2482" x2="166.6" y2="2436.2" stroke="#d8721c" stroke-width="1.5"/><line x1="162.4" y1="2436.2" x2="170.8" y2="2436.2" stroke="#d8721c" stroke-width="1.5"/><line x1="188.2" y1="2426.9" x2="188.2" y2="2368.9" stroke="#d8721c" stroke-width="1.5"/><line x1="184" y1="2368.9" x2="192.4" y2="2368.9" stroke="#d8721c" stroke-width="1.5"/><line x1="184" y1="2426.9" x2="192.4" y2="2426.9" stroke="#d8721c" stroke-width="1.5"/><line x1="209.7" y1="2380.6" x2="209.7" y2="2279.3" stroke="#d8721c" stroke-width="1.5"/><line x1="205.5" y1="2279.3" x2="213.9" y2="2279.3" stroke="#d8721c" stroke-width="1.5"/><line x1="205.5" y1="2380.6" x2="213.9" y2="2380.6" stroke="#d8721c" stroke-width="1.5"/><line x1="166.6" y1="2477.1" x2="166.6" y2="2419.2" stroke="#d8721c" stroke-width="1.5"/><line x1="162.4" y1="2419.2" x2="170.8" y2="2419.2" stroke="#d8721c" stroke-width="1.5"/><line x1="162.4" y1="2477.1" x2="170.8" y2="2477.1" stroke="#d8721c" stroke-width="1.5"/><line x1="188.2" y1="2375.8" x2="188.2" y2="2317.8" stroke="#d8721c" stroke-width="1.5"/><line x1="184" y1="2317.8" x2="192.4" y2="2317.8" stroke="#d8721c" stroke-width="1.5"/><line x1="184" y1="2375.8" x2="192.4" y2="2375.8" stroke="#d8721c" stroke-width="1.5"/><line x1="209.7" y1="2325.3" x2="209.7" y2="2266.9" stroke="#d8721c" stroke-width="1.5"/><line x1="205.5" y1="2266.9" x2="213.9" y2="2266.9" stroke="#d8721c" stroke-width="1.5"/><line x1="205.5" y1="2325.3" x2="213.9" y2="2325.3" stroke="#d8721c" stroke-width="1.5"/><circle cx="166.6" cy="2482" r="4.4" fill="#b47fd5"/><circle cx="188.2" cy="2482" r="4.4" fill="#b47fd5"/><circle cx="209.7" cy="2482" r="4.4" fill="#b47fd5"/><circle cx="231.3" cy="2431.3" r="4.4" fill="#b47fd5"/><circle cx="252.8" cy="2380.6" r="4.4" fill="#b47fd5"/><circle cx="274.4" cy="2304.6" r="4.4" fill="#b47fd5"/><circle cx="295.9" cy="2279.3" r="4.4" fill="#b47fd5"/><circle cx="317.5" cy="2279.3" r="4.4" fill="#b47fd5"/><circle cx="339" cy="2279.3" r="4.4" fill="#b47fd5"/><circle cx="360.6" cy="2279.3" r="4.4" fill="#b47fd5"/><circle cx="382.1" cy="2279.3" r="4.4" fill="#b47fd5"/><rect x="162.4" y="2477.8" width="8.4" height="8.4" fill="#b47fd5"/><rect x="184" y="2477.8" width="8.4" height="8.4" fill="#b47fd5"/><rect x="205.5" y="2477.8" width="8.4" height="8.4" fill="#b47fd5"/><rect x="227.1" y="2477.8" width="8.4" height="8.4" fill="#b47fd5"/><rect x="248.6" y="2427.1" width="8.4" height="8.4" fill="#b47fd5"/><rect x="270.2" y="2376.4" width="8.4" height="8.4" fill="#b47fd5"/><rect x="291.7" y="2300.4" width="8.4" height="8.4" fill="#b47fd5"/><rect x="313.3" y="2275.1" width="8.4" height="8.4" fill="#b47fd5"/><rect x="334.8" y="2275.1" width="8.4" height="8.4" fill="#b47fd5"/><rect x="356.4" y="2275.1" width="8.4" height="8.4" fill="#b47fd5"/><rect x="377.9" y="2275.1" width="8.4" height="8.4" fill="#b47fd5"/><circle cx="145.1" cy="2482" r="4.4" fill="#d8721c"/><circle cx="166.6" cy="2465.2" r="4.4" fill="#d8721c"/><circle cx="188.2" cy="2397.9" r="4.4" fill="#d8721c"/><circle cx="209.7" cy="2330" r="4.4" fill="#d8721c"/><circle cx="231.3" cy="2279.3" r="4.4" fill="#d8721c"/><circle cx="252.8" cy="2279.3" r="4.4" fill="#d8721c"/><circle cx="274.4" cy="2279.3" r="4.4" fill="#d8721c"/><circle cx="295.9" cy="2279.3" r="4.4" fill="#d8721c"/><circle cx="317.5" cy="2279.3" r="4.4" fill="#d8721c"/><circle cx="339" cy="2279.3" r="4.4" fill="#d8721c"/><circle cx="360.6" cy="2279.3" r="4.4" fill="#d8721c"/><circle cx="382.1" cy="2279.3" r="4.4" fill="#d8721c"/><rect x="140.9" y="2477.8" width="8.4" height="8.4" fill="#d8721c"/><rect x="162.4" y="2443.9" width="8.4" height="8.4" fill="#d8721c"/><rect x="184" y="2342.6" width="8.4" height="8.4" fill="#d8721c"/><rect x="205.5" y="2291.9" width="8.4" height="8.4" fill="#d8721c"/><rect x="227.1" y="2275.1" width="8.4" height="8.4" fill="#d8721c"/><rect x="248.6" y="2275.1" width="8.4" height="8.4" fill="#d8721c"/><rect x="270.2" y="2275.1" width="8.4" height="8.4" fill="#d8721c"/><rect x="291.7" y="2275.1" width="8.4" height="8.4" fill="#d8721c"/><rect x="313.3" y="2275.1" width="8.4" height="8.4" fill="#d8721c"/><rect x="334.8" y="2275.1" width="8.4" height="8.4" fill="#d8721c"/><rect x="356.4" y="2275.1" width="8.4" height="8.4" fill="#d8721c"/><rect x="377.9" y="2275.1" width="8.4" height="8.4" fill="#d8721c"/><path d="M73.5,2228.6 L73.5,2482 L431.4,2482 M73.5,2482 L73.5,2492.5 M145.1,2482 L145.1,2492.5 M216.7,2482 L216.7,2492.5 M288.2,2482 L288.2,2492.5 M359.8,2482 L359.8,2492.5 M431.4,2482 L431.4,2492.5 M73.5,2482 L63,2482 M73.5,2431.3 L63,2431.3 M73.5,2380.6 L63,2380.6 M73.5,2330 L63,2330 M73.5,2279.3 L63,2279.3 M73.5,2228.6 L63,2228.6" fill="none" stroke="#000" stroke-width="2.5" stroke-linecap="square"/><text x="59.3" y="2489.2" font-size="19.2" text-anchor="end" font-weight="bold" fill="#000">0</text><text x="59.3" y="2438.5" font-size="19.2" text-anchor="end" font-weight="bold" fill="#000">25</text><text x="59.3" y="2387.8" font-size="19.2" text-anchor="end" font-weight="bold" fill="#000">50</text><text x="59.3" y="2337.2" font-size="19.2" text-anchor="end" font-weight="bold" fill="#000">75</text><text x="59.3" y="2286.5" font-size="19.2" text-anchor="end" font-weight="bold" fill="#000">100</text><text x="59.3" y="2235.8" font-size="19.2" text-anchor="end" font-weight="bold" fill="#000">125</text><text x="74.3" y="2514.2" font-size="19" font-weight="bold" text-anchor="middle">10<tspan font-size="13" dx="1.6" dy="-5.7">-4</tspan></text><text x="145.9" y="2514.2" font-size="19" font-weight="bold" text-anchor="middle">10<tspan font-size="13" dx="1.6" dy="-5.7">-3</tspan></text><text x="217.5" y="2514.2" font-size="19" font-weight="bold" text-anchor="middle">10<tspan font-size="13" dx="1.6" dy="-5.7">-2</tspan></text><text x="289" y="2514.2" font-size="19" font-weight="bold" text-anchor="middle">10<tspan font-size="13" dx="1.6" dy="-5.7">-1</tspan></text><text x="360.6" y="2514.2" font-size="19" font-weight="bold" text-anchor="middle">10<tspan font-size="13" dx="1.6" dy="-5.7">0</tspan></text><text x="432.2" y="2514.2" font-size="19" font-weight="bold" text-anchor="middle">10<tspan font-size="13" dx="1.6" dy="-5.7">1</tspan></text><text x="252.4" y="2544.5" font-size="21.3" text-anchor="middle" font-weight="bold" fill="#000">Antibody concentration (<tspan font-family="'DejaVu Sans', sans-serif" font-weight="normal">μ</tspan>g/ml)</text><text transform="translate(17.5,2355.3) rotate(-90)" font-size="21" text-anchor="middle" font-weight="bold" fill="#000">Neutralization (%)</text><text x="259.3" y="2194.4" font-size="24" text-anchor="middle" font-weight="bold" fill="#000">BA.1</text><line x1="308" y1="2335.9" x2="335.2" y2="2335.9" stroke="#d8721c" stroke-width="1.6"/><circle cx="321.4" cy="2335.9" r="4.4" fill="#d8721c"/><text x="351.4" y="2342.4" font-size="21.5" font-weight="bold">BI-2C5B (IC<tspan font-size="14.2" dy="4.2">50</tspan><tspan dy="-4.2">=5ng/ml)</tspan></text><line x1="308" y1="2368.6" x2="335.2" y2="2368.6" stroke="#d8721c" stroke-width="1.6"/><rect x="317.2" y="2364.4" width="8.4" height="8.4" fill="#d8721c"/><text x="351.4" y="2375.1" font-size="21.5" font-weight="bold">BI-5B2C (IC<tspan font-size="14.2" dy="4.2">50</tspan><tspan dy="-4.2">=3ng/ml)</tspan></text><line x1="308" y1="2401.1" x2="335.2" y2="2401.1" stroke="#b47fd5" stroke-width="1.6"/><circle cx="321.4" cy="2401.1" r="4.4" fill="#b47fd5"/><text x="351.4" y="2407.6" font-size="21.5" font-weight="bold">BI-2C1C (IC<tspan font-size="14.2" dy="4.2">50</tspan><tspan dy="-4.2">=29ng/ml)</tspan></text><line x1="308" y1="2434.6" x2="335.2" y2="2434.6" stroke="#b47fd5" stroke-width="1.6"/><rect x="317.2" y="2430.4" width="8.4" height="8.4" fill="#b47fd5"/><text x="351.4" y="2441.1" font-size="21.5" font-weight="bold">BI-1C2C (IC<tspan font-size="14.2" dy="4.2">50</tspan><tspan dy="-4.2">=58ng/ml)</tspan></text><line x1="726.4" y1="2380.6" x2="1085.2" y2="2380.6" stroke="#000" stroke-width="1.3" stroke-dasharray="1.6,2.4"/><path d="M798.2,2481.8 L799.6,2481.8 L801.1,2481.8 L802.6,2481.8 L804.1,2481.7 L805.6,2481.7 L807.1,2481.7 L808.6,2481.6 L810,2481.6 L811.5,2481.6 L813,2481.5 L814.5,2481.4 L816,2481.4 L817.5,2481.3 L819,2481.2 L820.4,2481.1 L821.9,2481 L823.4,2480.9 L824.9,2480.8 L826.4,2480.7 L827.9,2480.5 L829.3,2480.4 L830.8,2480.2 L832.3,2480 L833.8,2479.7 L835.3,2479.5 L836.8,2479.2 L838.3,2478.9 L839.7,2478.5 L841.2,2478.1 L842.7,2477.7 L844.2,2477.2 L845.7,2476.6 L847.2,2476 L848.7,2475.3 L850.1,2474.6 L851.6,2473.8 L853.1,2472.9 L854.6,2471.9 L856.1,2470.8 L857.6,2469.5 L859.1,2468.2 L860.5,2466.7 L862,2465.1 L863.5,2463.3 L865,2461.4 L866.5,2459.2 L868,2456.9 L869.4,2454.4 L870.9,2451.7 L872.4,2448.8 L873.9,2445.6 L875.4,2442.2 L876.9,2438.6 L878.4,2434.7 L879.8,2430.7 L881.3,2426.3 L882.8,2421.8 L884.3,2417.1 L885.8,2412.1 L887.3,2407 L888.8,2401.8 L890.2,2396.4 L891.7,2391 L893.2,2385.4 L894.7,2379.9 L896.2,2374.3 L897.7,2368.8 L899.1,2363.4 L900.6,2358.1 L902.1,2352.8 L903.6,2347.8 L905.1,2342.9 L906.6,2338.2 L908.1,2333.7 L909.5,2329.5 L911,2325.5 L912.5,2321.7 L914,2318.1 L915.5,2314.8 L917,2311.7 L918.5,2308.8 L919.9,2306.2 L921.4,2303.7 L922.9,2301.4 L924.4,2299.4 L925.9,2297.5 L927.4,2295.7 L928.9,2294.2 L930.3,2292.7 L931.8,2291.4 L933.3,2290.2 L934.8,2289.1 L936.3,2288.2 L937.8,2287.3 L939.2,2286.5 L940.7,2285.7 L942.2,2285.1 L943.7,2284.5 L945.2,2284 L946.7,2283.5 L948.2,2283.1 L949.6,2282.7 L951.1,2282.3 L952.6,2282 L954.1,2281.7 L955.6,2281.5 L957.1,2281.3 L958.6,2281.1 L960,2280.9 L961.5,2280.7 L963,2280.6 L964.5,2280.4 L966,2280.3 L967.5,2280.2 L969,2280.1 L970.4,2280 L971.9,2279.9 L973.4,2279.9 L974.9,2279.8 L976.4,2279.8 L977.9,2279.7 L979.3,2279.7 L980.8,2279.6 L982.3,2279.6 L983.8,2279.6 L985.3,2279.5 L986.8,2279.5 L988.3,2279.5 L989.7,2279.5 L991.2,2279.4 L992.7,2279.4 L994.2,2279.4 L995.7,2279.4 L997.2,2279.4 L998.7,2279.4 L1000.1,2279.4 L1001.6,2279.4 L1003.1,2279.3 L1004.6,2279.3 L1006.1,2279.3 L1007.6,2279.3 L1009,2279.3 L1010.5,2279.3 L1012,2279.3 L1013.5,2279.3 L1015,2279.3 L1016.5,2279.3 L1018,2279.3 L1019.4,2279.3 L1020.9,2279.3 L1022.4,2279.3 L1023.9,2279.3 L1025.4,2279.3 L1026.9,2279.3 L1028.4,2279.3 L1029.8,2279.3 L1031.3,2279.3 L1032.8,2279.3 L1034.3,2279.3 L1035.8,2279.3" fill="none" stroke="#d8721c" stroke-width="1.6" stroke-linejoin="round"/><path d="M798.2,2481.9 L799.6,2481.9 L801.1,2481.9 L802.6,2481.8 L804.1,2481.8 L805.6,2481.8 L807.1,2481.8 L808.6,2481.7 L810,2481.7 L811.5,2481.7 L813,2481.6 L814.5,2481.6 L816,2481.5 L817.5,2481.4 L819,2481.3 L820.4,2481.2 L821.9,2481.1 L823.4,2481 L824.9,2480.9 L826.4,2480.7 L827.9,2480.5 L829.3,2480.3 L830.8,2480.1 L832.3,2479.8 L833.8,2479.5 L835.3,2479.1 L836.8,2478.7 L838.3,2478.3 L839.7,2477.8 L841.2,2477.2 L842.7,2476.5 L844.2,2475.7 L845.7,2474.9 L847.2,2473.9 L848.7,2472.8 L850.1,2471.6 L851.6,2470.1 L853.1,2468.6 L854.6,2466.8 L856.1,2464.8 L857.6,2462.6 L859.1,2460.1 L860.5,2457.4 L862,2454.3 L863.5,2451 L865,2447.3 L866.5,2443.3 L868,2439 L869.4,2434.3 L870.9,2429.2 L872.4,2423.9 L873.9,2418.2 L875.4,2412.2 L876.9,2406 L878.4,2399.5 L879.8,2392.9 L881.3,2386.2 L882.8,2379.5 L884.3,2372.7 L885.8,2366.1 L887.3,2359.5 L888.8,2353.1 L890.2,2347 L891.7,2341.1 L893.2,2335.5 L894.7,2330.3 L896.2,2325.3 L897.7,2320.8 L899.1,2316.5 L900.6,2312.7 L902.1,2309.1 L903.6,2305.9 L905.1,2302.9 L906.6,2300.3 L908.1,2297.9 L909.5,2295.8 L911,2293.9 L912.5,2292.1 L914,2290.6 L915.5,2289.3 L917,2288.1 L918.5,2287 L919.9,2286.1 L921.4,2285.3 L922.9,2284.5 L924.4,2283.9 L925.9,2283.3 L927.4,2282.8 L928.9,2282.4 L930.3,2282 L931.8,2281.7 L933.3,2281.4 L934.8,2281.1 L936.3,2280.9 L937.8,2280.7 L939.2,2280.5 L940.7,2280.4 L942.2,2280.2 L943.7,2280.1 L945.2,2280 L946.7,2279.9 L948.2,2279.8 L949.6,2279.8 L951.1,2279.7 L952.6,2279.7 L954.1,2279.6 L955.6,2279.6 L957.1,2279.5 L958.6,2279.5 L960,2279.5 L961.5,2279.4 L963,2279.4 L964.5,2279.4 L966,2279.4 L967.5,2279.4 L969,2279.4 L970.4,2279.4 L971.9,2279.3 L973.4,2279.3 L974.9,2279.3 L976.4,2279.3 L977.9,2279.3 L979.3,2279.3 L980.8,2279.3 L982.3,2279.3 L983.8,2279.3 L985.3,2279.3 L986.8,2279.3 L988.3,2279.3 L989.7,2279.3 L991.2,2279.3 L992.7,2279.3 L994.2,2279.3 L995.7,2279.3 L997.2,2279.3 L998.7,2279.3 L1000.1,2279.3 L1001.6,2279.3 L1003.1,2279.3 L1004.6,2279.3 L1006.1,2279.3 L1007.6,2279.3 L1009,2279.3 L1010.5,2279.3 L1012,2279.3 L1013.5,2279.3 L1015,2279.3 L1016.5,2279.3 L1018,2279.3 L1019.4,2279.3 L1020.9,2279.3 L1022.4,2279.3 L1023.9,2279.3 L1025.4,2279.3 L1026.9,2279.3 L1028.4,2279.3 L1029.8,2279.3 L1031.3,2279.3 L1032.8,2279.3 L1034.3,2279.3 L1035.8,2279.3" fill="none" stroke="#d8721c" stroke-width="1.6" stroke-linejoin="round"/><path d="M863,2481.4 L864,2481.4 L865.1,2481.3 L866.2,2481.3 L867.3,2481.2 L868.4,2481.2 L869.4,2481.1 L870.5,2481.1 L871.6,2481 L872.7,2480.9 L873.8,2480.9 L874.8,2480.8 L875.9,2480.7 L877,2480.6 L878.1,2480.5 L879.2,2480.4 L880.2,2480.3 L881.3,2480.1 L882.4,2480 L883.5,2479.9 L884.6,2479.7 L885.6,2479.6 L886.7,2479.4 L887.8,2479.2 L888.9,2479 L890,2478.8 L891,2478.6 L892.1,2478.3 L893.2,2478.1 L894.3,2477.8 L895.4,2477.5 L896.4,2477.2 L897.5,2476.8 L898.6,2476.5 L899.7,2476.1 L900.8,2475.7 L901.8,2475.2 L902.9,2474.8 L904,2474.3 L905.1,2473.7 L906.2,2473.2 L907.2,2472.6 L908.3,2471.9 L909.4,2471.2 L910.5,2470.5 L911.6,2469.7 L912.7,2468.9 L913.7,2468 L914.8,2467.1 L915.9,2466.1 L917,2465.1 L918.1,2464 L919.1,2462.8 L920.2,2461.6 L921.3,2460.3 L922.4,2458.9 L923.5,2457.4 L924.5,2455.9 L925.6,2454.3 L926.7,2452.6 L927.8,2450.8 L928.9,2448.9 L929.9,2446.9 L931,2444.9 L932.1,2442.7 L933.2,2440.5 L934.3,2438.2 L935.3,2435.7 L936.4,2433.2 L937.5,2430.6 L938.6,2427.9 L939.7,2425.1 L940.7,2422.2 L941.8,2419.3 L942.9,2416.2 L944,2413.1 L945.1,2409.9 L946.1,2406.7 L947.2,2403.4 L948.3,2400 L949.4,2396.6 L950.5,2393.1 L951.5,2389.7 L952.6,2386.2 L953.7,2382.7 L954.8,2379.2 L955.9,2375.6 L956.9,2372.1 L958,2368.7 L959.1,2365.2 L960.2,2361.8 L961.3,2358.4 L962.3,2355.1 L963.4,2351.9 L964.5,2348.7 L965.6,2345.5 L966.7,2342.5 L967.7,2339.5 L968.8,2336.6 L969.9,2333.8 L971,2331.1 L972.1,2328.5 L973.1,2325.9 L974.2,2323.5 L975.3,2321.1 L976.4,2318.9 L977.5,2316.7 L978.5,2314.6 L979.6,2312.7 L980.7,2310.8 L981.8,2309 L982.9,2307.3 L983.9,2305.6 L985,2304.1 L986.1,2302.6 L987.2,2301.2 L988.3,2299.9 L989.3,2298.7 L990.4,2297.5 L991.5,2296.4 L992.6,2295.3 L993.7,2294.3 L994.7,2293.4 L995.8,2292.5 L996.9,2291.7 L998,2290.9 L999.1,2290.1 L1000.1,2289.5 L1001.2,2288.8 L1002.3,2288.2 L1003.4,2287.6 L1004.5,2287.1 L1005.5,2286.6 L1006.6,2286.1 L1007.7,2285.7 L1008.8,2285.3 L1009.9,2284.9 L1010.9,2284.5 L1012,2284.2 L1013.1,2283.8 L1014.2,2283.5 L1015.3,2283.3 L1016.3,2283 L1017.4,2282.8 L1018.5,2282.5 L1019.6,2282.3 L1020.7,2282.1 L1021.7,2281.9 L1022.8,2281.7 L1023.9,2281.6 L1025,2281.4 L1026.1,2281.3 L1027.1,2281.2 L1028.2,2281 L1029.3,2280.9 L1030.4,2280.8 L1031.5,2280.7 L1032.5,2280.6 L1033.6,2280.5 L1034.7,2280.4 L1035.8,2280.4" fill="none" stroke="#b47fd5" stroke-width="1.6" stroke-linejoin="round"/><path d="M863,2481.9 L864,2481.8 L865.1,2481.8 L866.2,2481.8 L867.3,2481.8 L868.4,2481.8 L869.4,2481.8 L870.5,2481.8 L871.6,2481.7 L872.7,2481.7 L873.8,2481.7 L874.8,2481.7 L875.9,2481.7 L877,2481.6 L878.1,2481.6 L879.2,2481.6 L880.2,2481.6 L881.3,2481.5 L882.4,2481.5 L883.5,2481.5 L884.6,2481.4 L885.6,2481.4 L886.7,2481.3 L887.8,2481.3 L888.9,2481.2 L890,2481.2 L891,2481.1 L892.1,2481.1 L893.2,2481 L894.3,2480.9 L895.4,2480.9 L896.4,2480.8 L897.5,2480.7 L898.6,2480.6 L899.7,2480.5 L900.8,2480.4 L901.8,2480.3 L902.9,2480.1 L904,2480 L905.1,2479.9 L906.2,2479.7 L907.2,2479.6 L908.3,2479.4 L909.4,2479.2 L910.5,2479 L911.6,2478.8 L912.7,2478.6 L913.7,2478.3 L914.8,2478.1 L915.9,2477.8 L917,2477.5 L918.1,2477.2 L919.1,2476.8 L920.2,2476.5 L921.3,2476.1 L922.4,2475.7 L923.5,2475.2 L924.5,2474.8 L925.6,2474.3 L926.7,2473.7 L927.8,2473.2 L928.9,2472.6 L929.9,2471.9 L931,2471.2 L932.1,2470.5 L933.2,2469.7 L934.3,2468.9 L935.3,2468 L936.4,2467.1 L937.5,2466.1 L938.6,2465.1 L939.7,2464 L940.7,2462.8 L941.8,2461.6 L942.9,2460.3 L944,2458.9 L945.1,2457.4 L946.1,2455.9 L947.2,2454.3 L948.3,2452.6 L949.4,2450.8 L950.5,2448.9 L951.5,2446.9 L952.6,2444.9 L953.7,2442.7 L954.8,2440.5 L955.9,2438.2 L956.9,2435.7 L958,2433.2 L959.1,2430.6 L960.2,2427.9 L961.3,2425.1 L962.3,2422.2 L963.4,2419.3 L964.5,2416.2 L965.6,2413.1 L966.7,2409.9 L967.7,2406.7 L968.8,2403.4 L969.9,2400 L971,2396.6 L972.1,2393.1 L973.1,2389.7 L974.2,2386.2 L975.3,2382.7 L976.4,2379.2 L977.5,2375.6 L978.5,2372.1 L979.6,2368.7 L980.7,2365.2 L981.8,2361.8 L982.9,2358.4 L983.9,2355.1 L985,2351.9 L986.1,2348.7 L987.2,2345.5 L988.3,2342.5 L989.3,2339.5 L990.4,2336.6 L991.5,2333.8 L992.6,2331.1 L993.7,2328.5 L994.7,2325.9 L995.8,2323.5 L996.9,2321.1 L998,2318.9 L999.1,2316.7 L1000.1,2314.6 L1001.2,2312.7 L1002.3,2310.8 L1003.4,2309 L1004.5,2307.3 L1005.5,2305.6 L1006.6,2304.1 L1007.7,2302.6 L1008.8,2301.2 L1009.9,2299.9 L1010.9,2298.7 L1012,2297.5 L1013.1,2296.4 L1014.2,2295.3 L1015.3,2294.3 L1016.3,2293.4 L1017.4,2292.5 L1018.5,2291.7 L1019.6,2290.9 L1020.7,2290.1 L1021.7,2289.5 L1022.8,2288.8 L1023.9,2288.2 L1025,2287.6 L1026.1,2287.1 L1027.1,2286.6 L1028.2,2286.1 L1029.3,2285.7 L1030.4,2285.3 L1031.5,2284.9 L1032.5,2284.5 L1033.6,2284.2 L1034.7,2283.8 L1035.8,2283.5" fill="none" stroke="#b47fd5" stroke-width="1.6" stroke-linejoin="round"/><line x1="863" y1="2482" x2="863" y2="2436.2" stroke="#d8721c" stroke-width="1.5"/><line x1="858.8" y1="2436.2" x2="867.2" y2="2436.2" stroke="#d8721c" stroke-width="1.5"/><line x1="884.6" y1="2443.5" x2="884.6" y2="2385.5" stroke="#d8721c" stroke-width="1.5"/><line x1="880.4" y1="2385.5" x2="888.8" y2="2385.5" stroke="#d8721c" stroke-width="1.5"/><line x1="880.4" y1="2443.5" x2="888.8" y2="2443.5" stroke="#d8721c" stroke-width="1.5"/><line x1="906.2" y1="2375.8" x2="906.2" y2="2317.8" stroke="#d8721c" stroke-width="1.5"/><line x1="902" y1="2317.8" x2="910.4" y2="2317.8" stroke="#d8721c" stroke-width="1.5"/><line x1="902" y1="2375.8" x2="910.4" y2="2375.8" stroke="#d8721c" stroke-width="1.5"/><line x1="927.8" y1="2325.1" x2="927.8" y2="2267.1" stroke="#d8721c" stroke-width="1.5"/><line x1="923.6" y1="2267.1" x2="932" y2="2267.1" stroke="#d8721c" stroke-width="1.5"/><line x1="923.6" y1="2325.1" x2="932" y2="2325.1" stroke="#d8721c" stroke-width="1.5"/><line x1="863" y1="2477.1" x2="863" y2="2419.2" stroke="#d8721c" stroke-width="1.5"/><line x1="858.8" y1="2419.2" x2="867.2" y2="2419.2" stroke="#d8721c" stroke-width="1.5"/><line x1="858.8" y1="2477.1" x2="867.2" y2="2477.1" stroke="#d8721c" stroke-width="1.5"/><line x1="884.6" y1="2431.3" x2="884.6" y2="2330" stroke="#d8721c" stroke-width="1.5"/><line x1="880.4" y1="2330" x2="888.8" y2="2330" stroke="#d8721c" stroke-width="1.5"/><line x1="880.4" y1="2431.3" x2="888.8" y2="2431.3" stroke="#d8721c" stroke-width="1.5"/><line x1="906.2" y1="2325.1" x2="906.2" y2="2267.1" stroke="#d8721c" stroke-width="1.5"/><line x1="902" y1="2267.1" x2="910.4" y2="2267.1" stroke="#d8721c" stroke-width="1.5"/><line x1="902" y1="2325.1" x2="910.4" y2="2325.1" stroke="#d8721c" stroke-width="1.5"/><circle cx="863" cy="2482" r="4.4" fill="#b47fd5"/><circle cx="884.6" cy="2482" r="4.4" fill="#b47fd5"/><circle cx="906.2" cy="2482" r="4.4" fill="#b47fd5"/><circle cx="927.8" cy="2456.7" r="4.4" fill="#b47fd5"/><circle cx="949.4" cy="2406" r="4.4" fill="#b47fd5"/><circle cx="971" cy="2330" r="4.4" fill="#b47fd5"/><circle cx="992.6" cy="2279.3" r="4.4" fill="#b47fd5"/><circle cx="1014.2" cy="2279.3" r="4.4" fill="#b47fd5"/><circle cx="1035.8" cy="2279.3" r="4.4" fill="#b47fd5"/><rect x="858.8" y="2477.8" width="8.4" height="8.4" fill="#b47fd5"/><rect x="880.4" y="2477.8" width="8.4" height="8.4" fill="#b47fd5"/><rect x="902" y="2477.8" width="8.4" height="8.4" fill="#b47fd5"/><rect x="923.6" y="2477.8" width="8.4" height="8.4" fill="#b47fd5"/><rect x="945.2" y="2452.5" width="8.4" height="8.4" fill="#b47fd5"/><rect x="966.8" y="2401.8" width="8.4" height="8.4" fill="#b47fd5"/><rect x="988.4" y="2325.8" width="8.4" height="8.4" fill="#b47fd5"/><rect x="1010" y="2275.1" width="8.4" height="8.4" fill="#b47fd5"/><rect x="1031.6" y="2275.1" width="8.4" height="8.4" fill="#b47fd5"/><circle cx="798.2" cy="2482" r="4.4" fill="#d8721c"/><circle cx="819.8" cy="2482" r="4.4" fill="#d8721c"/><circle cx="841.4" cy="2482" r="4.4" fill="#d8721c"/><circle cx="863" cy="2465.2" r="4.4" fill="#d8721c"/><circle cx="884.6" cy="2414.5" r="4.4" fill="#d8721c"/><circle cx="906.2" cy="2346.8" r="4.4" fill="#d8721c"/><circle cx="927.8" cy="2296.1" r="4.4" fill="#d8721c"/><circle cx="949.4" cy="2279.3" r="4.4" fill="#d8721c"/><circle cx="971" cy="2279.3" r="4.4" fill="#d8721c"/><circle cx="992.6" cy="2279.3" r="4.4" fill="#d8721c"/><circle cx="1014.2" cy="2279.3" r="4.4" fill="#d8721c"/><circle cx="1035.8" cy="2279.3" r="4.4" fill="#d8721c"/><rect x="794" y="2477.8" width="8.4" height="8.4" fill="#d8721c"/><rect x="815.6" y="2477.8" width="8.4" height="8.4" fill="#d8721c"/><rect x="837.2" y="2477.8" width="8.4" height="8.4" fill="#d8721c"/><rect x="858.8" y="2443.9" width="8.4" height="8.4" fill="#d8721c"/><rect x="880.4" y="2376.4" width="8.4" height="8.4" fill="#d8721c"/><rect x="902" y="2291.9" width="8.4" height="8.4" fill="#d8721c"/><rect x="923.6" y="2275.1" width="8.4" height="8.4" fill="#d8721c"/><rect x="945.2" y="2275.1" width="8.4" height="8.4" fill="#d8721c"/><rect x="966.8" y="2275.1" width="8.4" height="8.4" fill="#d8721c"/><rect x="988.4" y="2275.1" width="8.4" height="8.4" fill="#d8721c"/><rect x="1010" y="2275.1" width="8.4" height="8.4" fill="#d8721c"/><rect x="1031.6" y="2275.1" width="8.4" height="8.4" fill="#d8721c"/><path d="M726.4,2228.6 L726.4,2482 L1085.2,2482 M726.4,2482 L726.4,2492.5 M798.2,2482 L798.2,2492.5 M869.9,2482 L869.9,2492.5 M941.7,2482 L941.7,2492.5 M1013.4,2482 L1013.4,2492.5 M1085.2,2482 L1085.2,2492.5 M726.4,2482 L715.9,2482 M726.4,2431.3 L715.9,2431.3 M726.4,2380.6 L715.9,2380.6 M726.4,2330 L715.9,2330 M726.4,2279.3 L715.9,2279.3 M726.4,2228.6 L715.9,2228.6" fill="none" stroke="#000" stroke-width="2.5" stroke-linecap="square"/><text x="712.2" y="2489.2" font-size="19.2" text-anchor="end" font-weight="bold" fill="#000">0</text><text x="712.2" y="2438.5" font-size="19.2" text-anchor="end" font-weight="bold" fill="#000">25</text><text x="712.2" y="2387.8" font-size="19.2" text-anchor="end" font-weight="bold" fill="#000">50</text><text x="712.2" y="2337.2" font-size="19.2" text-anchor="end" font-weight="bold" fill="#000">75</text><text x="712.2" y="2286.5" font-size="19.2" text-anchor="end" font-weight="bold" fill="#000">100</text><text x="712.2" y="2235.8" font-size="19.2" text-anchor="end" font-weight="bold" fill="#000">125</text><text x="727.2" y="2514.2" font-size="19" font-weight="bold" text-anchor="middle">10<tspan font-size="13" dx="1.6" dy="-5.7">-4</tspan></text><text x="799" y="2514.2" font-size="19" font-weight="bold" text-anchor="middle">10<tspan font-size="13" dx="1.6" dy="-5.7">-3</tspan></text><text x="870.7" y="2514.2" font-size="19" font-weight="bold" text-anchor="middle">10<tspan font-size="13" dx="1.6" dy="-5.7">-2</tspan></text><text x="942.5" y="2514.2" font-size="19" font-weight="bold" text-anchor="middle">10<tspan font-size="13" dx="1.6" dy="-5.7">-1</tspan></text><text x="1014.2" y="2514.2" font-size="19" font-weight="bold" text-anchor="middle">10<tspan font-size="13" dx="1.6" dy="-5.7">0</tspan></text><text x="1086" y="2514.2" font-size="19" font-weight="bold" text-anchor="middle">10<tspan font-size="13" dx="1.6" dy="-5.7">1</tspan></text><text x="905.8" y="2544.5" font-size="21.3" text-anchor="middle" font-weight="bold" fill="#000">Antibody concentration (<tspan font-family="'DejaVu Sans', sans-serif" font-weight="normal">μ</tspan>g/ml)</text><text transform="translate(670.4,2355.3) rotate(-90)" font-size="21" text-anchor="middle" font-weight="bold" fill="#000">Neutralization (%)</text><text x="912.3" y="2194.4" font-size="24" text-anchor="middle" font-weight="bold" fill="#000">BA.2</text><line x1="1001.1" y1="2335.9" x2="1027.9" y2="2335.9" stroke="#d8721c" stroke-width="1.6"/><circle cx="1014.5" cy="2335.9" r="4.4" fill="#d8721c"/><text x="1043.6" y="2342.4" font-size="21.5" font-weight="bold">BI-2C5B (IC<tspan font-size="14.2" dy="4.2">50</tspan><tspan dy="-4.2">=22ng/ml)</tspan></text><line x1="1001.1" y1="2367.7" x2="1027.9" y2="2367.7" stroke="#d8721c" stroke-width="1.6"/><rect x="1010.3" y="2363.5" width="8.4" height="8.4" fill="#d8721c"/><text x="1043.6" y="2374.2" font-size="21.5" font-weight="bold">BI-5B2C (IC<tspan font-size="14.2" dy="4.2">50</tspan><tspan dy="-4.2">=15ng/ml)</tspan></text><line x1="1001.1" y1="2401.6" x2="1027.9" y2="2401.6" stroke="#b47fd5" stroke-width="1.6"/><circle cx="1014.5" cy="2401.6" r="4.4" fill="#b47fd5"/><text x="1043.6" y="2408.1" font-size="21.5" font-weight="bold">BI-2C1C (IC<tspan font-size="14.2" dy="4.2">50</tspan><tspan dy="-4.2">=153ng/ml)</tspan></text><line x1="1001.1" y1="2435.5" x2="1027.9" y2="2435.5" stroke="#b47fd5" stroke-width="1.6"/><rect x="1010.3" y="2431.3" width="8.4" height="8.4" fill="#b47fd5"/><text x="1043.6" y="2442" font-size="21.5" font-weight="bold">BI-1C2C (IC<tspan font-size="14.2" dy="4.2">50</tspan><tspan dy="-4.2">=306ng/ml)</tspan></text><text x="-1.2" y="37.6" font-size="54.5" text-anchor="start" font-weight="bold" fill="#000">a</text><text x="553.6" y="37.6" font-size="52" text-anchor="start" font-weight="bold" fill="#000">b</text><text x="1.9" y="703.6" font-size="54.5" text-anchor="start" font-weight="bold" fill="#000">c</text><text x="-2.6" y="1036.4" font-size="52" text-anchor="start" font-weight="bold" fill="#000">d</text><text x="1.6" y="1391.4" font-size="54.5" text-anchor="start" font-weight="bold" fill="#000">e</text><text x="12.9" y="1781.8" font-size="52" text-anchor="start" font-weight="bold" fill="#000">f</text></svg></body></html>
